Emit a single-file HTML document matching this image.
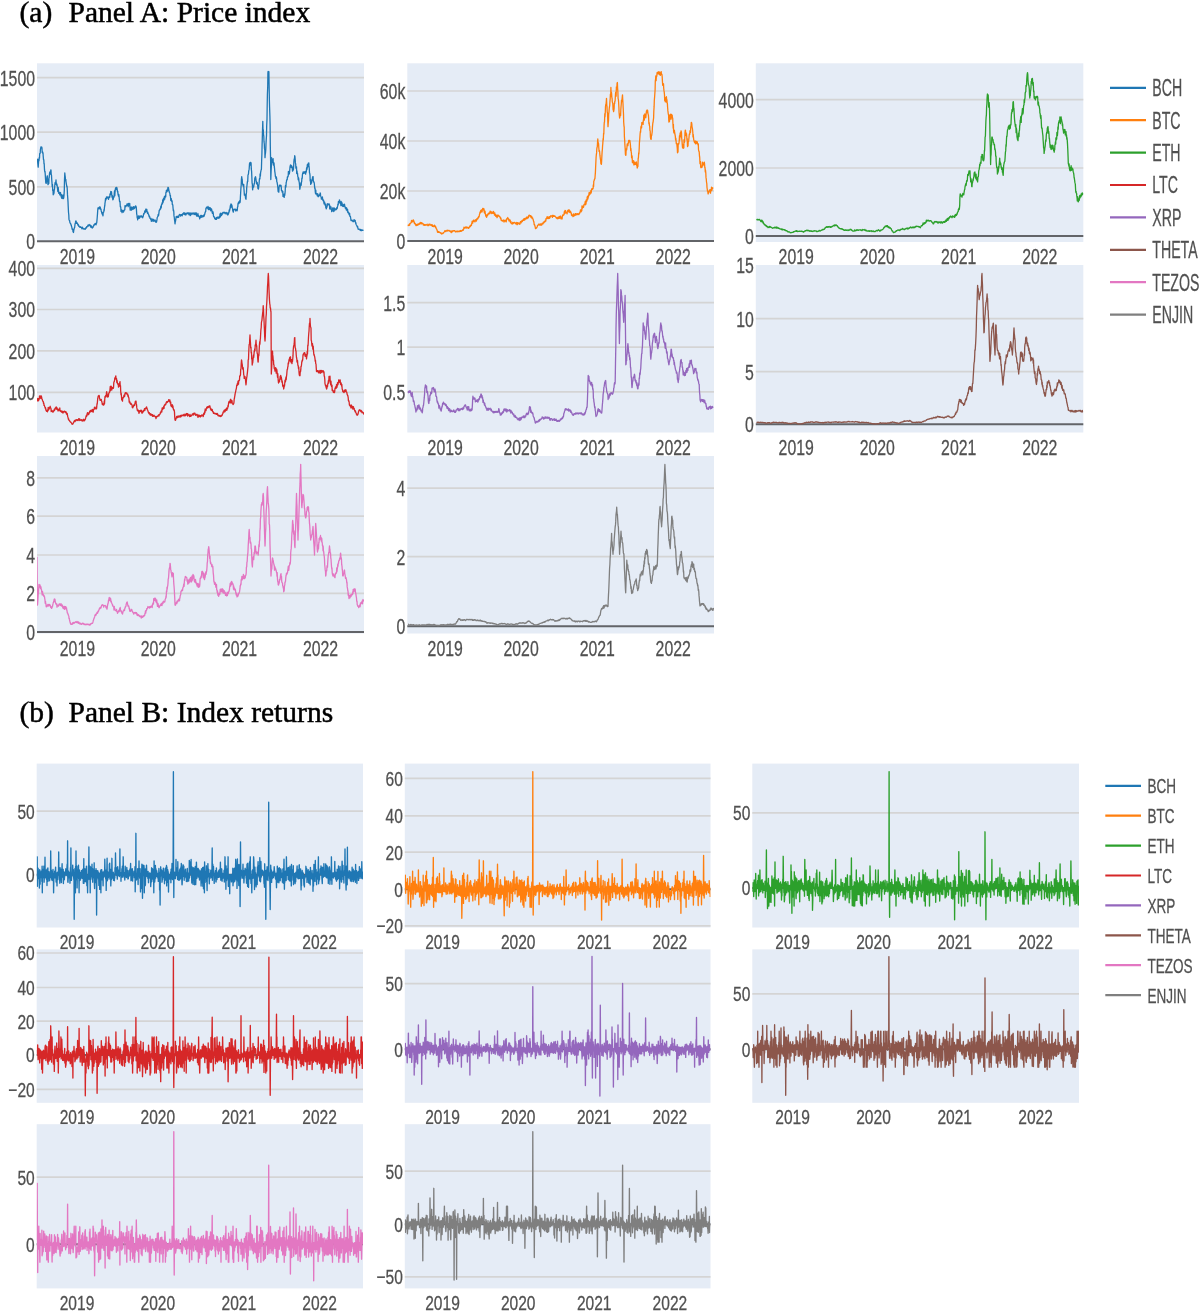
<!DOCTYPE html>
<html><head><meta charset="utf-8"><title>Panel A: Price index / Panel B: Index returns</title>
<style>html,body{margin:0;padding:0;background:#fff;width:1200px;height:1311px;overflow:hidden}svg{display:block;filter:blur(0.45px)}</style>
</head><body>
<svg width="1200" height="1311" viewBox="0 0 1200 1311"><defs><clipPath id="c1"><rect x="37" y="63.3" width="327" height="178.7"/></clipPath><clipPath id="c2"><rect x="407.3" y="63.3" width="306.7" height="178.7"/></clipPath><clipPath id="c3"><rect x="755.8" y="63.3" width="327.5" height="178.7"/></clipPath><clipPath id="c4"><rect x="37" y="265" width="327" height="167.5"/></clipPath><clipPath id="c5"><rect x="407.3" y="265" width="306.7" height="167.5"/></clipPath><clipPath id="c6"><rect x="755.8" y="265" width="327.5" height="167.5"/></clipPath><clipPath id="c7"><rect x="37" y="456" width="327" height="177.5"/></clipPath><clipPath id="c8"><rect x="407.3" y="456" width="306.7" height="177.5"/></clipPath><clipPath id="c9"><rect x="36.7" y="763.6" width="326.3" height="163.9"/></clipPath><clipPath id="c10"><rect x="404.8" y="763.6" width="305.7" height="163.9"/></clipPath><clipPath id="c11"><rect x="752.3" y="763.6" width="326.7" height="163.9"/></clipPath><clipPath id="c12"><rect x="36.7" y="949.4" width="326.3" height="153.4"/></clipPath><clipPath id="c13"><rect x="404.8" y="949.4" width="305.7" height="153.4"/></clipPath><clipPath id="c14"><rect x="752.3" y="949.4" width="326.7" height="153.4"/></clipPath><clipPath id="c15"><rect x="36.7" y="1124.2" width="326.3" height="164.2"/></clipPath><clipPath id="c16"><rect x="404.8" y="1124.2" width="305.7" height="164.2"/></clipPath></defs><text transform="translate(19.5 21.6) scale(1.000 1)" font-family="Liberation Serif" font-size="29.5" text-anchor="start" fill="#000" stroke="#000" stroke-width="0.5">(a)</text>
<text transform="translate(68.5 21.6) scale(1.000 1)" font-family="Liberation Serif" font-size="29.5" text-anchor="start" fill="#000" stroke="#000" stroke-width="0.5">Panel A: Price index</text>
<text transform="translate(19.5 721.6) scale(1.000 1)" font-family="Liberation Serif" font-size="29.5" text-anchor="start" fill="#000" stroke="#000" stroke-width="0.5">(b)</text>
<text transform="translate(68.5 721.6) scale(1.000 1)" font-family="Liberation Serif" font-size="29.5" text-anchor="start" fill="#000" stroke="#000" stroke-width="0.5">Panel B: Index returns</text>
<rect x="37" y="63.3" width="327" height="178.7" fill="#E5ECF6"/>
<path d="M37 186.8H364" stroke="#d4d4d4" stroke-width="1.7"/>
<path d="M37 132.1H364" stroke="#d4d4d4" stroke-width="1.7"/>
<path d="M37 77.6H364" stroke="#d4d4d4" stroke-width="1.7"/>
<path d="M37 241.2H364" stroke="#626468" stroke-width="2"/>
<path d="M37.2 158.6 37.5 160 37.7 162.4 38 165.8 38.2 167.1 38.5 162.6 38.7 159.1 39 160.6 39.2 157.6 39.5 158.2 39.7 153.6 39.9 153.3 40.2 153.4 40.4 149.8 40.7 148.1 40.9 147 41.2 147.3 41.4 147.2 41.7 147 42 148.2 42.2 152.4 42.5 151.5 42.7 153.3 43 152.8 43.2 156.1 43.5 159.8 43.8 159.7 44 163.6 44.2 163.5 44.5 169.7 44.8 172 45 171.4 45.2 173.6 45.5 178.6 45.8 182.9 46 183 46.2 183.4 46.5 180.8 46.7 180.9 46.9 177.4 47.2 175.8 47.4 176 47.7 181.6 48 184.6 48.2 184.5 48.5 179.4 48.8 183.6 49 178 49.2 177.7 49.5 173.8 49.8 172.2 50 171.9 50.2 174 50.5 173 50.8 169.9 51 170 51.2 174.2 51.5 175.2 51.7 179.2 52 182.9 52.2 186.5 52.5 184.4 52.7 190.4 53 189.6 53.2 194.8 53.5 193.7 53.7 194 54 192.9 54.2 190.2 54.5 189.3 54.7 186.3 55 183.4 55.2 182.3 55.5 184.3 55.7 183.4 56 180 56.2 183.4 56.5 183.2 56.8 185.3 57 184.5 57.2 185.7 57.5 188.8 57.8 191.5 58 189.5 58.2 187.3 58.5 190.6 58.8 193.4 59 193 59.2 192.9 59.5 192.5 59.8 194.9 60 193.6 60.2 193.4 60.5 192.5 60.8 194.6 61 196.1 61.2 195.3 61.5 198 61.8 194.6 62 197.3 62.2 198.5 62.5 197.4 62.8 195.8 63 197.8 63.2 195.2 63.5 198.7 63.8 197.3 64 195.5 64.3 190.1 64.5 179.8 64.8 173 65 175 65.3 177.2 65.5 180.5 65.8 179.4 66 181.6 66.3 183.6 66.5 184.8 66.8 186.6 67 186 67.2 188.2 67.5 194.9 67.8 198.6 68 201.6 68.2 206.1 68.5 212.3 68.8 215 69 219.4 69.2 220.2 69.5 220.1 69.8 221.8 70 222.8 70.2 223.2 70.5 223.3 70.8 224.2 71 224.3 71.2 225.5 71.5 226.3 71.8 227.2 72 228.3 72.2 229.3 72.5 229.7 72.8 229.2 73 231.6 73.2 232 73.5 232.5 73.7 230.7 74 229.4 74.2 228.4 74.5 227.6 74.7 227.3 75 224.3 75.2 223.8 75.5 222.4 75.7 221 76 220.9 76.2 221.5 76.5 223.4 76.7 223 77 223.1 77.2 223.6 77.5 223 77.8 225 78 224.7 78.3 224.6 78.5 225.1 78.8 226.3 79 225.9 79.3 226.7 79.5 227 79.8 227 80 227.2 80.3 226.8 80.5 227.3 80.8 227 81 227.3 81.3 227.6 81.5 227.6 81.8 228.7 82 228.8 82.3 227.2 82.5 228.5 82.8 227.9 83 228.7 83.3 228.7 83.5 228.7 83.8 229.2 84 229.1 84.3 228.9 84.5 228.7 84.8 229.1 85 228.8 85.2 229.3 85.5 228.4 85.7 227.8 86 228.3 86.2 228 86.5 227.6 86.7 226.6 87 227 87.2 226.6 87.4 226.4 87.7 226.1 87.9 225.2 88.2 225.7 88.4 226 88.7 224.8 88.9 225.1 89.2 224.5 89.4 225 89.6 225.1 89.9 225.8 90.1 225 90.4 225.5 90.6 227 90.8 226.8 91.1 226.4 91.3 227.1 91.6 226 91.8 227.6 92.1 227.5 92.3 228 92.5 227.9 92.8 227.4 93 227.3 93.3 226.3 93.5 226.3 93.8 225.6 94 224.6 94.3 225.1 94.5 224.6 94.7 224 95 224.1 95.2 223.4 95.5 224.6 95.7 224.6 96 224.8 96.2 224 96.5 222.9 96.7 223 97 219.9 97.2 217.8 97.5 213.9 97.7 210.6 98 207.8 98.2 208.2 98.5 207.9 98.8 208.6 99 207.3 99.2 208.9 99.5 207 99.8 207 100 207.8 100.2 207.2 100.5 208.7 100.8 209.6 101 209 101.2 211.3 101.5 211.3 101.8 213.2 102 212.4 102.2 213.8 102.5 214.8 102.8 214.5 103 215.8 103.2 212.7 103.5 211.9 103.8 211.9 104 209.5 104.2 210.4 104.5 207.1 104.8 205.7 105 202.9 105.2 202.1 105.5 198.7 105.8 200.1 106 199 106.2 198.1 106.5 197 106.8 198.5 107 197.2 107.2 197 107.5 197.1 107.8 197.5 108 197.7 108.2 197 108.5 199.4 108.8 197.9 109 197.7 109.2 197.2 109.5 196.4 109.8 197.3 110 193.9 110.2 194.1 110.5 194.7 110.8 191.4 111 192 111.3 192.3 111.5 191.8 111.8 195.2 112 196.9 112.3 197.8 112.5 195.9 112.8 199.8 113 199.6 113.3 199 113.5 196.7 113.8 197.2 114 197.2 114.3 193 114.5 190.8 114.8 195.8 115 192.7 115.3 189.2 115.5 188.5 115.8 187.7 116 189.5 116.3 188.6 116.5 187.3 116.8 187.8 117 188 117.3 190.2 117.5 191.9 117.8 191.4 118 194.3 118.3 195.2 118.5 196.2 118.8 194.5 119 196.1 119.3 198.9 119.5 201 119.8 202.1 120 201.3 120.3 206.8 120.5 206.3 120.8 207.7 121 211.4 121.3 210.7 121.5 210.1 121.8 209.9 122 212.7 122.3 211.8 122.5 210.6 122.8 211 123 210.8 123.3 211.9 123.5 212.1 123.8 211.3 124 210.2 124.3 210.3 124.5 210.1 124.8 209.8 125 205.6 125.3 207 125.5 206.7 125.8 206.6 126 206.3 126.3 205.3 126.5 205.5 126.8 205.5 127 204 127.2 204.6 127.5 204 127.7 205.5 128 205.5 128.2 206.6 128.5 203.4 128.7 205.7 129 204.2 129.2 204 129.4 204.2 129.7 203.4 129.9 206.6 130.2 210.2 130.4 209.2 130.7 210 130.9 209.5 131.2 207 131.4 209 131.6 210 131.9 209.1 132.1 208.9 132.4 207.4 132.6 208.3 132.9 209.3 133.1 209.1 133.4 206.6 133.6 207.7 133.8 208.9 134.1 207.1 134.3 208.7 134.6 206.9 134.8 207.9 135.1 207.2 135.3 206.4 135.6 206 135.8 206 136 206.5 136.3 207.5 136.5 210.6 136.7 214.1 137 215.1 137.2 218 137.5 218.2 137.7 219.8 138 217 138.2 218.2 138.5 215.9 138.7 218.4 139 217.2 139.2 218.4 139.5 218.1 139.7 216.5 140 215.8 140.2 217 140.5 216.2 140.7 216.7 141 216.1 141.2 216.8 141.5 215.8 141.7 216 142 216.8 142.2 217.4 142.5 217.2 142.7 217.8 143 216.5 143.2 216.5 143.5 214.7 143.8 213.5 144 214.2 144.2 213.3 144.5 212.7 144.8 210.8 145 212.2 145.2 212.5 145.5 210.9 145.8 209.4 146 209 146.3 211.6 146.5 210.3 146.8 209.4 147 211.3 147.3 212.1 147.5 213.3 147.8 212.2 148 213.3 148.3 213.8 148.5 214.6 148.8 214.8 149 216.1 149.3 216.9 149.5 216.2 149.8 217.1 150 218.3 150.3 218.7 150.5 218.6 150.8 219.6 151 218.4 151.3 221.2 151.5 221.2 151.8 219.7 152 221.4 152.3 219.2 152.5 220.5 152.8 220.3 153 219.1 153.3 220.2 153.5 219.7 153.8 221.3 154 220.5 154.3 220.8 154.5 220.7 154.8 220.4 155 219.8 155.3 221.2 155.5 221.7 155.8 222.1 156 222.3 156.2 220.8 156.5 222.1 156.8 220.7 157 219.4 157.2 217.5 157.5 217 157.8 216.2 158 216 158.2 214.3 158.5 215.8 158.8 214 159 212.3 159.2 210.6 159.5 209.9 159.8 210 160 209 160.2 208.8 160.5 209.1 160.8 206.2 161 207.4 161.2 207.9 161.5 204.7 161.8 203.8 162 203.5 162.2 202.6 162.5 203.9 162.7 200 163 200.4 163.2 202.2 163.5 198.4 163.7 200.4 164 199.7 164.2 197.6 164.5 196.4 164.7 199.1 165 196.1 165.2 197.2 165.4 195.6 165.7 196.8 165.9 192.6 166.2 192.4 166.4 190.4 166.7 191.5 166.9 191.7 167.2 191.4 167.4 189.1 167.7 190.7 167.9 187.5 168.2 188.1 168.4 187.5 168.6 188.6 168.9 190.4 169.1 191.5 169.4 192.6 169.6 192.6 169.9 193.8 170.1 195.7 170.4 195.4 170.6 198.3 170.8 200.5 171.1 200.5 171.3 198.7 171.6 201.3 171.8 200.8 172.1 200.9 172.3 204.5 172.6 204.5 172.8 205 173 207.5 173.3 210.7 173.5 209.9 173.8 211.7 174 215.9 174.3 217.5 174.5 219.6 174.8 221.7 175 223.8 175.2 222.3 175.5 221.1 175.7 220.1 175.9 218.7 176.2 216.6 176.4 216.5 176.7 217.3 176.9 216.4 177.2 216.7 177.4 217 177.7 217.5 177.9 216.2 178.2 216.6 178.4 217.4 178.7 217 178.9 215.8 179.2 215.1 179.5 214.4 179.7 214.9 180 214.8 180.2 214.7 180.5 216.1 180.7 215.3 181 214.9 181.2 214.6 181.5 215.2 181.7 214.6 182 215 182.2 215.9 182.5 213.9 182.8 213.9 183 214.4 183.2 213.6 183.5 212.9 183.8 213.9 184 213 184.2 213.8 184.5 214.5 184.8 212.8 185 214.5 185.2 214.4 185.5 214.2 185.8 215.1 186 213.3 186.2 214.1 186.5 213.6 186.8 213.8 187 212.9 187.3 213.2 187.5 213.7 187.8 213 188 213 188.3 213 188.5 212.9 188.8 214.3 189 214.9 189.3 213.4 189.5 213 189.8 213.1 190 214.3 190.3 215.7 190.5 213.9 190.8 213 191 214.9 191.3 213.4 191.5 213.5 191.8 213.6 192 213 192.3 214.2 192.5 213.4 192.8 213.7 193 212.9 193.3 212.9 193.5 213.6 193.8 213.6 194.1 214.6 194.3 213.3 194.6 213.1 194.8 213 195.1 214.4 195.3 212.9 195.6 214.3 195.8 214.1 196.1 215.1 196.3 212.9 196.6 216 196.9 214.5 197.1 215.2 197.4 216.2 197.6 216.1 197.9 213.5 198.1 216 198.4 215.2 198.6 215.2 198.9 216.6 199.1 216.5 199.4 216.8 199.7 218.9 199.9 217.7 200.2 217.1 200.4 217.6 200.7 215.5 200.9 216.5 201.2 216.7 201.4 215.4 201.7 215.7 201.9 217.3 202.2 216 202.4 216.7 202.7 216.3 202.9 216.5 203.2 215.3 203.4 216.6 203.7 216 203.9 215.2 204.2 216.2 204.4 214.4 204.7 214.4 204.9 213.3 205.2 212.3 205.4 211.8 205.7 211.5 205.9 208.6 206.2 207.9 206.4 207.2 206.7 207.3 207 207.3 207.2 208.1 207.5 207.2 207.7 208.2 208 206.5 208.2 209.3 208.5 208.1 208.7 209.6 209 207.3 209.2 209.2 209.5 209.5 209.7 208.8 210 207.7 210.2 209.1 210.5 208.2 210.7 210.8 211 209.5 211.2 208.9 211.5 208.9 211.8 210.2 212 211.1 212.2 212.7 212.5 213.4 212.8 211.8 213 211.9 213.2 213.1 213.5 215.9 213.8 216.7 214 216.8 214.3 216.9 214.5 217.8 214.8 218.8 215 218.8 215.3 219 215.5 219.2 215.8 218.1 216 218 216.3 218.4 216.5 219.4 216.8 217.4 217 218.2 217.3 218.2 217.5 217.1 217.8 217.3 218 218 218.3 218.2 218.5 217.9 218.8 216.9 219 218.1 219.3 217 219.5 217.9 219.8 216.5 220 213.9 220.3 216.9 220.5 214.9 220.7 213.2 221 214.5 221.2 213.9 221.5 215.7 221.7 214.4 222 214.6 222.2 213.1 222.5 214 222.7 213 223 212.4 223.2 212.5 223.5 212.8 223.7 212.9 224 212.3 224.2 212.7 224.5 212.4 224.7 212.5 225 213.3 225.2 213.8 225.5 213 225.7 213.1 226 212.4 226.2 212.7 226.5 212.9 226.7 213.4 227 214.2 227.2 212.8 227.5 214.8 227.7 213.2 228 214.8 228.2 214.1 228.5 213.9 228.8 212.2 229 212.4 229.2 210 229.5 211.1 229.8 208.8 230 209 230.2 206.8 230.5 205 230.8 207.7 231 203.8 231.2 205.2 231.5 204.4 231.8 205.5 232 205.6 232.2 207.4 232.5 208.1 232.8 211 233 210 233.3 212.1 233.5 209.8 233.8 209.8 234 209.4 234.3 209.2 234.5 209.3 234.8 209.3 235 209.4 235.3 210.4 235.5 210.9 235.8 209.2 236 210.4 236.3 209.7 236.5 210.3 236.8 210.5 237 210.9 237.3 210 237.5 207.2 237.8 206.7 238 203.6 238.2 203.5 238.5 202.4 238.7 201.9 239 203.5 239.2 202.3 239.5 201.8 239.7 200.7 240 202.6 240.2 201.5 240.4 197.2 240.7 192 240.9 188.5 241.2 185 241.4 179.5 241.7 176.7 241.9 178.3 242.2 179.4 242.4 182.8 242.7 184.6 242.9 184.6 243.2 186 243.4 184.8 243.7 184.5 243.9 188.3 244.2 192.3 244.4 195.2 244.7 193.9 244.9 194.8 245.2 194.8 245.5 197.8 245.7 198.6 246 199.3 246.2 194.7 246.5 192.4 246.7 187.9 247 185.2 247.2 183.4 247.5 181.2 247.7 181.6 248 175 248.2 174.7 248.5 173.7 248.7 171.1 249 169.9 249.2 168.5 249.5 163.9 249.7 162.8 249.9 164.5 250.2 162.5 250.4 165.2 250.6 163.4 250.9 162.5 251.1 163.5 251.3 168.9 251.6 171.3 251.8 176 252.1 183.4 252.3 183.5 252.6 189.8 252.8 188.4 253.1 186.2 253.3 186.7 253.6 187.1 253.8 185.9 254.1 183.6 254.3 183.9 254.5 183.8 254.8 178 255 179.5 255.3 177 255.5 176.7 255.7 177.4 256 179.5 256.2 180.9 256.5 182.4 256.7 183.9 256.9 182.8 257.2 182.4 257.4 184.3 257.7 185.4 257.9 188.3 258.2 188.8 258.4 189 258.6 187.8 258.9 184.6 259.1 183.8 259.4 179 259.6 178.5 259.9 178.9 260.1 173.8 260.4 176 260.6 172.5 260.9 171.1 261.1 170 261.4 169.4 261.6 162.5 261.9 153.7 262.1 144.7 262.3 138.3 262.6 127.3 262.8 121.3 263 129.3 263.3 129.9 263.5 134.3 263.8 136.4 264 141.7 264.3 144 264.5 148.9 264.8 149.9 265 157.7 265.2 154.9 265.5 153 265.8 149.2 266 143.7 266.2 140.1 266.5 135.8 266.7 125.6 267 119.1 267.2 105.3 267.4 94.4 267.7 87.4 267.9 73.1 268.1 71.3 268.4 73.5 268.6 74.2 268.9 71.7 269.1 84.7 269.4 100.8 269.6 107.4 269.9 116.2 270.1 124.2 270.3 145.6 270.6 159.8 270.8 179.6 271.1 171.6 271.3 167.5 271.6 157.7 271.8 161.6 272.1 161.8 272.3 162.6 272.6 162.1 272.8 160.8 273.1 158.6 273.3 165.1 273.5 164.7 273.8 164.8 274 162.9 274.3 167 274.5 168 274.8 171.6 275 172.7 275.3 175.4 275.5 177 275.8 177.2 276 178.6 276.3 176.9 276.6 178.5 276.8 181.7 277.1 182.3 277.3 183.6 277.6 185.3 277.8 187.1 278.1 191.2 278.3 191.8 278.6 190.3 278.8 192.1 279.1 186.8 279.3 186.5 279.6 185.2 279.8 185.8 280 185.9 280.3 186.1 280.5 185.1 280.8 186.1 281 185.4 281.2 186.6 281.5 190.6 281.8 190.9 282 190.5 282.2 192.1 282.5 192 282.8 191.4 283 196.4 283.2 193.9 283.5 196.2 283.8 194.5 284 197 284.2 197.4 284.5 193.8 284.7 195.5 285 193.1 285.2 191.1 285.4 185.9 285.7 185.3 285.9 187 286.2 182.4 286.4 181.9 286.7 179.9 286.9 179.6 287.2 179.7 287.4 176.9 287.7 177.2 287.9 176.1 288.2 176.2 288.4 171.5 288.7 171.8 289 171.7 289.2 174 289.5 172.9 289.7 170.7 290 167 290.2 166.1 290.5 165 290.7 166.7 291 167.2 291.2 165.5 291.5 166.5 291.7 165.8 292 167.8 292.2 167.1 292.5 171.1 292.7 170.8 292.9 169.4 293.2 166.8 293.4 169.9 293.7 165.6 293.9 161.6 294.2 158.8 294.4 160.6 294.7 155.7 294.9 156.2 295.2 159.6 295.4 162.9 295.7 164.1 295.9 168.2 296.2 168 296.5 166.8 296.7 173.6 297 170.8 297.2 173.2 297.5 173.1 297.8 176.7 298 176.8 298.2 179.8 298.5 177.6 298.8 179.2 299 181.5 299.2 182 299.5 184.7 299.8 189.3 300 188.3 300.2 186.8 300.5 185.6 300.7 183.9 301 182.6 301.2 185.3 301.4 182.5 301.7 181.3 301.9 178.1 302.2 178.4 302.4 175.2 302.7 173.1 302.9 173.8 303.1 172 303.4 172.4 303.6 173.4 303.9 171.9 304.1 171.9 304.4 172.1 304.6 172.4 304.8 173.2 305.1 171.7 305.3 172.4 305.6 174.1 305.8 172.3 306.1 170.8 306.3 172 306.6 167.7 306.8 169.8 307.1 168.7 307.3 164.7 307.6 167.1 307.8 165.2 308.1 163.9 308.3 163.1 308.6 166.4 308.8 162.8 309 165.9 309.3 168.8 309.5 172.9 309.7 173.1 310 175.1 310.2 181 310.4 179.3 310.7 184.4 310.9 181.4 311.2 182.8 311.4 183.2 311.6 182.9 311.9 179.6 312.1 180.5 312.4 178.7 312.6 176.8 312.9 177.3 313.1 176.7 313.3 180.6 313.6 181.9 313.8 181.7 314.1 182.4 314.3 183.5 314.6 186.6 314.8 188.3 315 188 315.3 192 315.5 193.4 315.8 190.1 316 194.2 316.2 193.9 316.5 194 316.7 193.6 317 193.7 317.2 195.8 317.5 195.1 317.7 193.8 318 194.5 318.2 196.8 318.4 196.4 318.7 195.8 318.9 195.7 319.2 195.9 319.4 194.9 319.7 194.8 319.9 194.7 320.2 192.9 320.4 193.4 320.6 196 320.9 196.5 321.1 196.8 321.4 199.2 321.6 197.9 321.9 198.6 322.1 199.2 322.4 197 322.6 198.6 322.9 200.3 323.1 200.8 323.4 201 323.6 200.2 323.8 202.1 324.1 203.9 324.3 202.7 324.6 202.1 324.8 203.5 325.1 205 325.3 204.7 325.6 204.4 325.8 207.8 326.1 207.7 326.3 208.8 326.5 207.9 326.8 206.3 327 207.1 327.3 203.7 327.5 203.9 327.8 204.6 328 205.2 328.2 204.3 328.5 204.4 328.7 204 329 203.8 329.2 204.4 329.5 204.8 329.7 208.9 330 206 330.2 208.4 330.5 207.1 330.7 209.1 331 207 331.2 208.4 331.5 209.1 331.7 211.6 332 211.3 332.2 211.2 332.5 208.9 332.7 207.8 333 210.1 333.2 210.2 333.5 208.2 333.7 211.5 334 211.3 334.2 207.9 334.5 209.2 334.7 209.3 335 210.2 335.2 209.1 335.5 209.7 335.7 209 336 209.5 336.2 209.6 336.5 208 336.7 209.2 337 208.1 337.2 208.4 337.4 207.2 337.7 205.7 337.9 204.2 338.2 204.9 338.4 201.6 338.7 201.9 338.9 202.2 339.2 201.8 339.4 200 339.6 200.1 339.9 203.2 340.1 203.1 340.4 202.2 340.6 203.4 340.9 205.6 341.1 201.4 341.4 205.3 341.6 202.2 341.8 203.6 342.1 203.1 342.3 205.8 342.6 206.2 342.8 204.8 343.1 206.5 343.3 205.7 343.6 206.4 343.8 204.4 344.1 205.6 344.3 204.2 344.6 204.6 344.8 206.8 345.1 206.6 345.3 208.1 345.6 207.5 345.8 208.5 346.1 207.6 346.3 210 346.6 207.8 346.8 208.9 347.1 208.8 347.3 211 347.6 209.5 347.8 212.5 348.1 211.7 348.3 212.8 348.6 212.5 348.8 213.2 349.1 214.5 349.3 214.4 349.6 213.4 349.8 216 350 216.3 350.3 216.2 350.5 217 350.8 219 351 220.4 351.2 220.7 351.5 220.6 351.7 220.2 352 220.2 352.2 220.2 352.5 221.1 352.7 221.1 353 221.6 353.2 221.3 353.4 221.2 353.7 221.5 353.9 219.8 354.2 219.7 354.4 221 354.7 220.7 354.9 220.5 355.2 220.4 355.4 221.9 355.6 223.1 355.9 222.7 356.1 224.5 356.4 225 356.6 225.3 356.9 225.7 357.1 226.5 357.3 227.1 357.6 226.3 357.8 227.6 358.1 229 358.3 229.2 358.6 228.9 358.8 229.1 359.1 229.2 359.3 229.1 359.6 229.4 359.8 229.6 360.1 230.3 360.3 229.5 360.6 229.4 360.9 230 361.1 230.7 361.4 229.9 361.6 230 361.9 230.5 362.1 230 362.4 230.3 362.6 230.3 362.9 230.3 363.1 230.1 363.4 229.9" fill="none" stroke="#1f77b4" stroke-width="1.3" stroke-linejoin="round" clip-path="url(#c1)"/>
<text transform="translate(35 249.1) scale(0.720 1)" font-family="Liberation Sans" font-size="22" text-anchor="end" fill="#505050" stroke="#505050" stroke-width="0.28">0</text>
<text transform="translate(35 194.7) scale(0.720 1)" font-family="Liberation Sans" font-size="22" text-anchor="end" fill="#505050" stroke="#505050" stroke-width="0.28">500</text>
<text transform="translate(35 140) scale(0.720 1)" font-family="Liberation Sans" font-size="22" text-anchor="end" fill="#505050" stroke="#505050" stroke-width="0.28">1000</text>
<text transform="translate(35 85.5) scale(0.720 1)" font-family="Liberation Sans" font-size="22" text-anchor="end" fill="#505050" stroke="#505050" stroke-width="0.28">1500</text>
<text transform="translate(77.4 264.4) scale(0.720 1)" font-family="Liberation Sans" font-size="22" text-anchor="middle" fill="#505050" stroke="#505050" stroke-width="0.28">2019</text>
<text transform="translate(158.3 264.4) scale(0.720 1)" font-family="Liberation Sans" font-size="22" text-anchor="middle" fill="#505050" stroke="#505050" stroke-width="0.28">2020</text>
<text transform="translate(239.5 264.4) scale(0.720 1)" font-family="Liberation Sans" font-size="22" text-anchor="middle" fill="#505050" stroke="#505050" stroke-width="0.28">2021</text>
<text transform="translate(320.5 264.4) scale(0.720 1)" font-family="Liberation Sans" font-size="22" text-anchor="middle" fill="#505050" stroke="#505050" stroke-width="0.28">2022</text>
<rect x="407.3" y="63.3" width="306.7" height="178.7" fill="#E5ECF6"/>
<path d="M407.3 191H714" stroke="#d4d4d4" stroke-width="1.7"/>
<path d="M407.3 141H714" stroke="#d4d4d4" stroke-width="1.7"/>
<path d="M407.3 91H714" stroke="#d4d4d4" stroke-width="1.7"/>
<path d="M407.3 240.9H714" stroke="#626468" stroke-width="2"/>
<path d="M408 224.7 408.2 225.5 408.5 225.2 408.7 225.1 409 224.6 409.2 225.3 409.5 223.9 409.7 225.1 410 223.5 410.2 223.5 410.5 223.3 410.7 223.1 411 222.7 411.2 222.7 411.5 220.5 411.7 222 412 220.8 412.2 221 412.5 221.9 412.7 220.7 412.9 220.3 413.2 221.4 413.4 220 413.7 221.7 413.9 220.9 414.2 222.5 414.4 223.4 414.7 223.3 414.9 223.1 415.2 224.2 415.4 224.6 415.7 224.3 415.9 225.5 416.1 224.3 416.4 225.5 416.6 225.2 416.9 224.9 417.1 225.4 417.4 224.1 417.6 225.2 417.9 224.5 418.1 225 418.4 224.5 418.6 224 418.9 223.7 419.1 223.8 419.4 224.2 419.6 223.4 419.9 223 420.1 223.2 420.4 223.3 420.6 222.5 420.9 223.2 421.1 224.1 421.4 222.7 421.6 223 421.9 223.4 422.1 223 422.3 223.6 422.6 223.5 422.8 223.4 423.1 223.7 423.3 225 423.6 224.9 423.8 224.7 424.1 224.5 424.3 225.4 424.6 225.4 424.8 224.7 425.1 225 425.3 225 425.6 225.2 425.8 224.6 426.1 225 426.3 225 426.6 224.7 426.8 224.8 427.1 224.2 427.3 224.9 427.6 224.9 427.8 225.7 428.1 225 428.3 225.7 428.6 225.3 428.8 224.3 429.1 224.2 429.4 225 429.6 224.3 429.9 224.2 430.1 224.2 430.4 225.1 430.6 225 430.9 225.2 431.1 225.3 431.4 224.8 431.6 224.6 431.9 225.8 432.1 224.8 432.4 224.8 432.6 226.4 432.9 225.6 433.1 226.3 433.4 226.1 433.6 226.3 433.9 226.7 434.1 226.5 434.4 225.2 434.6 226.2 434.9 225.5 435.1 226.3 435.4 226.3 435.6 227.3 435.9 227 436.1 228.4 436.3 228.8 436.6 228.9 436.8 229.4 437.1 230.3 437.3 231 437.5 232.1 437.8 232 438 232.4 438.3 231.5 438.5 231.9 438.8 232.4 439 232 439.2 232.1 439.5 232 439.7 232.5 440 232.7 440.2 232.7 440.5 233.2 440.7 233.1 441 232.7 441.2 233.4 441.5 234 441.7 233.9 442 233.7 442.2 233.5 442.5 233.7 442.7 233.7 443 233.2 443.2 232.7 443.5 233.1 443.7 232.5 444 232.3 444.2 232 444.5 231.5 444.7 231.2 445 230.6 445.2 230.8 445.5 231.3 445.7 231.6 446 231 446.3 230.9 446.5 230.9 446.8 230.5 447 231 447.3 230.2 447.5 230.8 447.8 231 448 230.7 448.3 230.6 448.5 230.5 448.8 230.3 449 230.5 449.3 231 449.5 231.2 449.8 231 450 230.8 450.3 231.5 450.5 231.2 450.8 231.7 451 232.1 451.3 232.6 451.5 231.6 451.8 231.4 452 230.6 452.3 231.8 452.6 231.6 452.8 231.3 453.1 230.9 453.3 230.7 453.6 230.7 453.8 230.9 454.1 230.9 454.3 230.7 454.6 230.7 454.8 230.7 455.1 231.3 455.3 231.7 455.6 231.5 455.8 231.9 456.1 231.9 456.3 231.3 456.6 231.2 456.8 231.1 457.1 231.8 457.3 231.6 457.6 231.7 457.8 231 458.1 231.4 458.3 231.4 458.6 231.6 458.8 231.5 459.1 231.7 459.3 231.2 459.6 231.4 459.8 231.4 460.1 230.6 460.3 230.5 460.6 231.3 460.8 231.1 461.1 230.8 461.3 231.2 461.6 231 461.8 231 462 230.7 462.3 230.6 462.5 229.8 462.8 230.3 463 229.6 463.3 230.2 463.5 228.9 463.8 228.9 464 227.1 464.3 228.1 464.5 228.1 464.8 227.6 465 227.8 465.2 227.7 465.5 227 465.7 227.3 466 228.1 466.2 227.7 466.5 227.1 466.7 227 467 227 467.2 227.9 467.5 227.9 467.7 227.7 468 227.9 468.2 227.6 468.5 228.4 468.7 227.8 469 228 469.2 227.1 469.5 226.9 469.7 227 469.9 226 470.2 226.7 470.4 226.1 470.7 225.2 470.9 225.7 471.2 224.6 471.4 225.5 471.7 223.6 471.9 222.7 472.2 221.1 472.4 221.6 472.7 223.2 472.9 221.5 473.2 221.1 473.4 220.3 473.7 221.3 473.9 219.9 474.2 221 474.4 220.8 474.7 220.9 474.9 221.9 475.2 221.3 475.4 220.8 475.7 219.7 475.9 220 476.2 220.3 476.4 221 476.7 219.6 476.9 218.6 477.2 218.7 477.4 218.5 477.7 219 478 218.3 478.2 217.1 478.5 217.6 478.7 216.3 479 217 479.2 216.1 479.5 214.3 479.8 213.6 480 212.1 480.3 212.8 480.5 211.2 480.8 210.4 481.1 211.6 481.3 209.9 481.6 212 481.8 211.6 482.1 211.8 482.3 210 482.6 208.9 482.8 208.3 483 208.8 483.3 209.1 483.5 208.5 483.8 210.5 484 208.8 484.2 212 484.5 213 484.7 210.9 485 211.2 485.2 212.8 485.4 213.9 485.7 216 485.9 214.8 486.2 214.9 486.4 216.7 486.6 217.3 486.9 216.1 487.1 215.9 487.4 214.6 487.6 215.7 487.9 213.9 488.1 213.7 488.4 214.2 488.6 213.1 488.8 213.2 489.1 213.5 489.3 213.7 489.6 212.6 489.8 213.4 490.1 211.2 490.3 212 490.5 211.8 490.8 211.5 491 212.1 491.3 213.5 491.5 213.1 491.8 212.5 492 211.9 492.3 212.7 492.5 213.2 492.8 213.4 493 212.6 493.3 213.3 493.5 211.3 493.8 212.9 494 213.4 494.3 213.5 494.5 215.2 494.8 212.9 495 215 495.3 215 495.5 214.6 495.8 216.3 496 215.9 496.3 216.4 496.5 215.1 496.8 216.5 497 217.7 497.3 216.9 497.5 215.3 497.8 215.1 498 215.3 498.3 215.2 498.5 215.7 498.8 216.3 499 215.8 499.3 216.2 499.5 216.6 499.8 216.7 500.1 217.1 500.3 218.2 500.6 218.6 500.9 218.1 501.1 219.8 501.4 220.7 501.7 220.6 501.9 220.7 502.2 220.7 502.4 220.5 502.7 221.2 502.9 220.4 503.2 220.8 503.4 220.7 503.7 220 504 222 504.2 221.1 504.5 220.4 504.7 221.2 505 220.4 505.2 221 505.5 220.4 505.7 220.3 506 221.5 506.2 221.9 506.5 219.6 506.7 219.1 507 218.4 507.2 218.2 507.5 217.8 507.7 217.5 508 218.7 508.2 219.3 508.5 219.9 508.7 218.9 509 220.1 509.2 221 509.5 220.2 509.7 219.9 510 220.8 510.2 220.1 510.5 222.6 510.7 222.7 511 221.7 511.2 223.1 511.5 223.6 511.7 223.5 512 223.4 512.2 224.1 512.5 223 512.8 222.3 513 223.7 513.3 222.8 513.5 222.9 513.8 222.6 514 223 514.3 222.8 514.5 222.4 514.8 222.9 515 222.7 515.3 223.2 515.5 223.1 515.8 223.9 516 223.5 516.3 222.9 516.5 222.8 516.8 222.5 517 224.6 517.3 224.6 517.5 223.5 517.8 222.7 518 222.8 518.3 223.7 518.5 223 518.8 223.9 519.1 224 519.3 223.2 519.6 223.7 519.8 224.4 520.1 223.4 520.3 222.5 520.6 221.5 520.8 222.4 521.1 222.9 521.3 221.4 521.6 222 521.8 220.9 522.1 220.5 522.3 221.6 522.6 220.8 522.8 220.3 523.1 219.9 523.3 220 523.6 219 523.8 220.3 524.1 219.3 524.3 218.7 524.6 218.5 524.8 220 525.1 219.5 525.3 218.4 525.6 218.8 525.8 218.5 526.1 219 526.3 217.5 526.5 217.6 526.8 217.7 527 216.8 527.3 218.5 527.5 217.1 527.8 217.4 528 217.1 528.3 217.8 528.5 217.4 528.8 215.4 529 216 529.2 215.3 529.5 215.2 529.8 215.9 530 215.6 530.2 216.3 530.5 216 530.8 215.6 531 217.5 531.2 217.5 531.5 217.6 531.8 216.7 532 217.5 532.2 218.7 532.5 217.8 532.8 218.6 533 219 533.2 219.6 533.5 221.1 533.8 221.6 534 222.9 534.2 224.7 534.5 224.5 534.8 225.5 535 226.2 535.2 227 535.5 228.6 535.8 228.3 536 228.1 536.3 227.7 536.5 228.1 536.8 227.1 537 227.2 537.3 226.4 537.5 225.4 537.8 225.5 538 225.1 538.3 225 538.5 224.1 538.8 224.5 539 224.3 539.3 224.5 539.5 225 539.8 224.2 540 225 540.3 224.5 540.5 223.8 540.8 225.1 541 224.1 541.2 224.3 541.5 224.6 541.7 225.2 542 223.5 542.2 224 542.5 223.8 542.7 223.2 543 224 543.2 222.9 543.5 222.1 543.7 222.1 544 222.7 544.2 222.3 544.5 221.5 544.7 221.7 545 221.8 545.2 220.9 545.5 220.1 545.8 221.1 546 218.8 546.3 218.5 546.5 218.2 546.8 218.6 547 216.8 547.3 216.7 547.6 217.3 547.8 217.3 548.1 218.6 548.3 218.5 548.6 217.2 548.8 217 549.1 218.1 549.3 218.4 549.6 216.7 549.8 217.9 550.1 217.3 550.4 216.7 550.6 216 550.9 215.7 551.1 215.7 551.4 216.1 551.6 216.1 551.9 216 552.1 216 552.4 217.4 552.6 215.4 552.9 215.8 553.1 215.4 553.4 216.3 553.6 215.6 553.9 216 554.1 216.2 554.4 215.9 554.6 216.3 554.9 216 555.1 216.5 555.4 216.7 555.6 216.9 555.9 217.2 556.1 217.7 556.4 217.9 556.6 217.9 556.9 218.5 557.1 217.4 557.4 217.6 557.6 218.3 557.9 218.8 558.1 217.8 558.4 218.4 558.6 217.6 558.9 216.9 559.1 216.5 559.4 218.4 559.6 217.3 559.9 216.5 560.1 217 560.4 216 560.6 218.3 560.9 218.4 561.1 218.9 561.4 217.1 561.6 218 561.8 217.1 562.1 218.9 562.3 216.8 562.6 215.2 562.8 215 563 215.6 563.3 214.8 563.5 214.8 563.8 215 564 214.5 564.3 211.7 564.5 212.2 564.8 213.5 565 210.5 565.3 211.7 565.5 210.7 565.8 212.8 566 212.2 566.3 212.8 566.6 212.7 566.8 212.7 567.1 213.9 567.3 211.8 567.6 210.7 567.8 210.8 568.1 210.7 568.3 209.9 568.6 211.4 568.8 211.3 569.1 212.3 569.3 210 569.6 212.1 569.8 211.3 570.1 211.5 570.3 212.5 570.5 211.2 570.8 212.6 571 212.5 571.3 213.2 571.5 215.2 571.8 214.4 572 215.7 572.3 215.3 572.5 215.8 572.8 215.2 573 216.6 573.2 215.8 573.5 213.8 573.8 214.7 574 216.1 574.2 215.3 574.5 215.2 574.8 215.4 575 214.9 575.2 213.7 575.5 213.7 575.8 215 576 213.6 576.2 213.7 576.5 213.8 576.8 214.9 577 214.4 577.2 214 577.5 213.8 577.8 213.6 578 214.4 578.2 213.8 578.5 214.1 578.8 214.6 579 214.3 579.3 213.1 579.5 213.4 579.8 213.1 580 211.9 580.3 212 580.5 209.9 580.8 211.6 581 211.9 581.3 209.7 581.5 211 581.8 210.6 582 205.8 582.3 207.6 582.5 208.2 582.8 206.8 583 206.1 583.3 206.4 583.5 207.3 583.8 205.9 584 204.5 584.3 204.7 584.5 204.5 584.8 204.3 585 203 585.3 201.4 585.5 204.8 585.7 202.6 586 204 586.2 199.8 586.5 201.7 586.7 201 587 200.7 587.2 196.9 587.5 197.1 587.7 196.2 587.9 199 588.2 196.4 588.4 197.2 588.7 194.9 588.9 194.2 589.2 192.3 589.4 195 589.6 194.6 589.9 193.4 590.1 194.2 590.4 192.5 590.6 191.9 590.8 190.6 591.1 193 591.3 192.2 591.6 188.8 591.8 189 592.1 189.2 592.3 188.6 592.6 189.2 592.8 189 593.1 188.5 593.3 184.8 593.6 186.6 593.8 181.1 594.1 180.6 594.4 179.8 594.6 178.8 594.9 178.8 595.1 176.2 595.4 172.4 595.6 167.9 595.9 161.3 596.1 157.2 596.3 155.1 596.6 152.9 596.8 149 597.1 147.1 597.3 146.8 597.6 141.3 597.8 139 598.1 143.4 598.3 142.7 598.6 144 598.8 147.8 599.1 151.4 599.3 150.4 599.6 151.5 599.9 155.2 600.1 156.7 600.4 159.3 600.6 159.8 600.9 163.7 601.1 162.6 601.4 164.3 601.6 161.5 601.9 155.6 602.1 152.1 602.4 149 602.6 145.5 602.8 143.7 603.1 138.6 603.3 140 603.6 133.3 603.8 134 604.1 125.1 604.3 122.3 604.5 122.3 604.8 113.7 605 116.7 605.3 112.2 605.5 106.5 605.8 104.4 606 104.5 606.3 101.2 606.5 98.4 606.8 105.3 607 106.3 607.2 112 607.5 113.1 607.8 122 608 126.7 608.2 123.8 608.5 120.5 608.7 114.3 609 111.7 609.2 109 609.5 106.6 609.7 105.8 609.9 102.4 610.2 98.6 610.4 94.2 610.7 96.3 610.9 87.5 611.1 93.7 611.4 92.2 611.6 93.5 611.9 98.3 612.1 98 612.3 102 612.6 102.6 612.8 103.5 613.1 109.6 613.3 109.6 613.6 111.6 613.8 110.7 614.1 108.7 614.3 103.4 614.6 103.8 614.8 101.4 615.1 101.2 615.3 97.3 615.6 92.7 615.9 92 616.1 96.2 616.4 86.8 616.6 89.6 616.9 86.7 617.1 83.1 617.4 82.5 617.6 88.2 617.9 92.4 618.1 98.3 618.4 99.6 618.6 102 618.9 107.5 619.1 112.7 619.4 116 619.6 118 619.8 117.4 620.1 114 620.3 113.9 620.6 115.5 620.8 109.9 621 107.1 621.3 103.7 621.5 100.2 621.8 101.7 622 99.6 622.3 96.5 622.5 94.8 622.7 99.1 623 103.8 623.2 108.3 623.5 114.1 623.7 122.2 624 126.1 624.2 127 624.4 136.5 624.7 140.8 624.9 144.9 625.2 149 625.4 154.2 625.7 155.2 625.9 155.3 626.2 149 626.4 149.4 626.7 149.7 626.9 147.7 627.2 144 627.4 144.3 627.7 144 627.9 145.6 628.2 142.8 628.4 143.3 628.7 140.3 628.9 141.2 629.2 141.9 629.4 140.6 629.7 140.4 629.9 140.8 630.2 143 630.4 144.5 630.7 150.4 630.9 148.5 631.2 152.2 631.4 152.6 631.6 157.8 631.9 157.8 632.1 156 632.4 162.4 632.6 161.4 632.9 162.8 633.1 161.6 633.4 162.2 633.6 160.7 633.9 164.9 634.1 163.9 634.4 162.2 634.6 164.2 634.9 164.5 635.2 162.8 635.4 163.8 635.7 164.4 635.9 162.8 636.2 161.9 636.4 162 636.7 165.5 636.9 165 637.2 168 637.4 167.4 637.7 166.5 637.9 166.5 638.2 158.1 638.4 158.3 638.7 152.9 638.9 154 639.2 148.6 639.4 142.9 639.7 139.8 639.9 136.8 640.1 134 640.4 131.4 640.6 132.2 640.9 126.7 641.1 128.2 641.3 125.8 641.6 127.8 641.8 122.7 642.1 123.4 642.3 122.4 642.6 122.6 642.8 122.3 643.1 124.4 643.3 120.8 643.6 119 643.8 115.1 644.1 116.7 644.3 120.2 644.6 115.6 644.8 114 645.1 116.4 645.3 116.2 645.6 114.4 645.8 117.8 646.1 114.1 646.3 112.2 646.6 110.6 646.8 112.5 647.1 110 647.4 111.2 647.6 110.3 647.9 113.1 648.1 114.1 648.4 115.1 648.6 117.5 648.9 123.8 649.2 122.6 649.4 125.5 649.7 126.3 649.9 130.3 650.2 131.1 650.4 136.6 650.7 139 650.9 137.5 651.2 139.3 651.4 135.1 651.7 135.3 651.9 133.8 652.2 132 652.4 127.8 652.6 125.3 652.9 122.5 653.1 122.1 653.4 119.4 653.6 118 653.8 111.5 654.1 106.9 654.3 100.7 654.6 97 654.8 94.3 655.1 89.8 655.3 81 655.6 79.1 655.8 76 656.1 80.6 656.3 77.2 656.6 76.7 656.8 75.9 657.1 72.8 657.3 72.3 657.6 73.9 657.8 72.7 658.1 72.1 658.3 73.3 658.6 72 658.9 71.6 659.1 74.4 659.4 72.2 659.6 74.7 659.9 73.1 660.1 72.9 660.4 75.3 660.6 74.3 660.9 72.3 661.2 71.6 661.4 74.4 661.7 74.1 661.9 74.3 662.2 76.9 662.4 80.6 662.7 85.3 663 83.3 663.2 85.2 663.5 83.9 663.7 88.3 664 90.9 664.2 91.9 664.5 94.8 664.7 100.4 665 97.7 665.2 101.6 665.5 99.3 665.7 99.1 666 97.3 666.2 102.1 666.4 96.7 666.7 100.2 666.9 99.5 667.2 103.3 667.4 103.5 667.6 107.3 667.9 110.9 668.1 112.5 668.3 114.1 668.6 115.1 668.8 120.9 669 122.1 669.3 120.9 669.5 121.5 669.8 114.9 670 118.9 670.2 115.6 670.5 116 670.7 114.2 671 119.3 671.2 114.9 671.5 114.5 671.7 115 671.9 117.8 672.2 115.1 672.4 117.8 672.7 118 672.9 123 673.2 128.3 673.4 124.3 673.6 130.9 673.9 132.8 674.1 130.5 674.4 130.3 674.6 132.5 674.8 133.5 675.1 135 675.3 136.1 675.6 139.9 675.8 138.2 676 139.9 676.3 143.7 676.5 143.2 676.8 143.3 677 145.7 677.3 148.7 677.5 152.8 677.7 149.1 678 152.1 678.2 143.7 678.5 143.8 678.7 144.1 679 143 679.2 140.8 679.5 135.7 679.7 140 680 134.6 680.2 132.8 680.5 136.8 680.7 136.6 681 130.9 681.2 131 681.5 133.2 681.7 138.3 682 140.4 682.2 143.9 682.5 147.4 682.8 144.5 683 148.3 683.3 148.4 683.5 147.6 683.8 147.9 684 139.7 684.3 142.6 684.5 142.1 684.8 137.6 685 132.6 685.3 130.1 685.5 130.3 685.7 133.3 686 132.6 686.2 135.6 686.5 133.6 686.7 135.9 687 140.1 687.2 138.6 687.5 146.5 687.7 145.5 688 146 688.2 141.7 688.5 141.6 688.7 140.4 689 137.5 689.2 135 689.5 133.6 689.8 134.5 690 130.6 690.3 131.9 690.5 132.5 690.8 126.6 691 127 691.3 122.3 691.5 122.3 691.8 123.8 692 126.5 692.3 128.1 692.5 129.2 692.8 132.2 693 136.9 693.2 134.4 693.5 137.6 693.7 139.6 694 140.7 694.2 141.2 694.5 142.2 694.7 142.9 695 142.7 695.2 140.9 695.5 142.6 695.7 143.9 696 141.7 696.3 143.5 696.5 141.5 696.8 141.7 697 142.9 697.3 141.8 697.5 143.5 697.8 144 698 144.9 698.3 143.8 698.5 149.5 698.8 151.1 699 151.1 699.2 152.1 699.5 156.2 699.7 157.3 700 163.7 700.2 162.1 700.5 161.5 700.7 167.2 701 167.7 701.2 167.1 701.5 167.1 701.7 166 702 167.3 702.2 164.7 702.5 162.1 702.8 165.9 703 165.3 703.3 164.7 703.5 163.2 703.8 163 704 163.2 704.3 162.2 704.5 163.4 704.8 167.6 705 167.4 705.3 171.9 705.5 170 705.8 173 706 177.4 706.3 179.4 706.5 182 706.8 183.6 707 187.5 707.3 189.5 707.5 191.1 707.8 191.4 708 193.3 708.2 194 708.5 192.1 708.8 192.5 709 190.9 709.2 191.1 709.5 190 709.8 190.7 710 190.9 710.2 189.8 710.5 193.2 710.8 189.3 711 190.6 711.2 190.8 711.5 187.2 711.8 190.4 712 188.6 712.2 189.1 712.5 187.8 712.8 188.1 713 187.5" fill="none" stroke="#ff7f0e" stroke-width="1.3" stroke-linejoin="round" clip-path="url(#c2)"/>
<text transform="translate(405.3 248.8) scale(0.720 1)" font-family="Liberation Sans" font-size="22" text-anchor="end" fill="#505050" stroke="#505050" stroke-width="0.28">0</text>
<text transform="translate(405.3 198.9) scale(0.720 1)" font-family="Liberation Sans" font-size="22" text-anchor="end" fill="#505050" stroke="#505050" stroke-width="0.28">20k</text>
<text transform="translate(405.3 148.9) scale(0.720 1)" font-family="Liberation Sans" font-size="22" text-anchor="end" fill="#505050" stroke="#505050" stroke-width="0.28">40k</text>
<text transform="translate(405.3 98.9) scale(0.720 1)" font-family="Liberation Sans" font-size="22" text-anchor="end" fill="#505050" stroke="#505050" stroke-width="0.28">60k</text>
<text transform="translate(445.2 264.4) scale(0.720 1)" font-family="Liberation Sans" font-size="22" text-anchor="middle" fill="#505050" stroke="#505050" stroke-width="0.28">2019</text>
<text transform="translate(521.1 264.4) scale(0.720 1)" font-family="Liberation Sans" font-size="22" text-anchor="middle" fill="#505050" stroke="#505050" stroke-width="0.28">2020</text>
<text transform="translate(597.3 264.4) scale(0.720 1)" font-family="Liberation Sans" font-size="22" text-anchor="middle" fill="#505050" stroke="#505050" stroke-width="0.28">2021</text>
<text transform="translate(673.2 264.4) scale(0.720 1)" font-family="Liberation Sans" font-size="22" text-anchor="middle" fill="#505050" stroke="#505050" stroke-width="0.28">2022</text>
<rect x="755.8" y="63.3" width="327.5" height="178.7" fill="#E5ECF6"/>
<path d="M755.8 168H1083.3" stroke="#d4d4d4" stroke-width="1.7"/>
<path d="M755.8 99.7H1083.3" stroke="#d4d4d4" stroke-width="1.7"/>
<path d="M755.8 235.9H1083.3" stroke="#626468" stroke-width="2"/>
<path d="M756.7 220 757 219.4 757.2 220 757.5 219.5 757.7 219.3 758 219.4 758.2 219.7 758.5 219.9 758.7 219.8 759 219.6 759.2 219.9 759.5 219.4 759.7 219.9 760 220 760.2 220.4 760.5 220.7 760.8 221.6 761 220.5 761.2 220.6 761.5 220.9 761.8 220.1 762 221.8 762.2 220.6 762.5 221.2 762.8 221.7 763 223 763.2 221.8 763.5 223.5 763.8 223.3 764 224.2 764.2 224.3 764.5 224.9 764.8 224.5 765 225 765.2 225 765.5 225.4 765.8 225.8 766 225.3 766.2 225.9 766.5 226.5 766.8 226 767 226.2 767.2 226.9 767.5 227 767.8 226.7 768 227.7 768.2 227.3 768.5 227 768.8 226.9 769 227.2 769.2 227.5 769.5 227.1 769.8 226.3 770 226.7 770.2 226.7 770.5 226.8 770.8 227.3 771 227.3 771.2 227.3 771.5 227.3 771.8 227.6 772 227.9 772.2 228 772.5 228.3 772.8 228.1 773 228 773.2 227.9 773.5 227.9 773.8 227.6 774 228.1 774.2 227.6 774.5 227.4 774.8 227.2 775 227.5 775.2 227.7 775.5 227.4 775.8 227.1 776 227.8 776.2 227.5 776.5 228.1 776.8 227 777 227.1 777.2 228.2 777.5 228.2 777.8 227.9 778 228 778.2 227.8 778.5 228.3 778.8 228.1 779 228.4 779.2 228.6 779.5 228.4 779.8 228.8 780 228.8 780.2 228.8 780.5 229 780.8 229.1 781 229.3 781.2 229 781.5 229.7 781.8 228.9 782 229.4 782.2 229.3 782.5 229.9 782.8 229.4 783 229.6 783.2 229.6 783.5 229.5 783.8 229.7 784 229.6 784.2 230.1 784.5 229.7 784.8 230 785 230 785.2 229.9 785.5 230.7 785.8 230.4 786 230.6 786.2 230.7 786.5 230.9 786.8 230.7 787 230.7 787.2 231.2 787.5 231.3 787.8 231.9 788 231.8 788.2 231.8 788.5 232 788.8 231.7 789 231.8 789.2 231.8 789.5 232 789.8 232.2 790 232.5 790.2 232.7 790.5 232.7 790.7 232.9 791 232.6 791.2 232.5 791.5 232.7 791.7 232.7 792 232.5 792.2 232.4 792.5 232.4 792.7 232.4 793 232.2 793.2 232.1 793.5 231.8 793.7 232.1 794 231.8 794.2 231.7 794.5 231.3 794.7 231.4 795 231.2 795.2 231.3 795.5 231 795.7 230.9 796 230.9 796.2 231.3 796.5 230.7 796.7 230.8 797 231 797.2 231.5 797.5 231.4 797.7 231.1 798 231.5 798.2 231.3 798.5 231.4 798.7 231.3 799 231.4 799.2 231.1 799.5 231.3 799.7 231.2 800 231.2 800.3 231.1 800.5 231.3 800.8 231.3 801 231.3 801.3 231.2 801.5 231.3 801.8 231.2 802 231.1 802.3 231.7 802.5 231.7 802.8 231.7 803 231.6 803.3 231.7 803.5 232.2 803.8 231.6 804 231.8 804.3 231.4 804.5 231.2 804.8 231.1 805 231.1 805.3 230.6 805.5 231 805.8 230.9 806 230.6 806.3 230.6 806.5 230.2 806.8 230.3 807 230.4 807.3 230.4 807.5 230.7 807.8 230.1 808 230.1 808.3 230.8 808.5 230.7 808.8 230.6 809 230.6 809.3 230.6 809.5 231 809.8 231.3 810 231.2 810.3 230.8 810.5 230.9 810.8 231.1 811 230.9 811.3 231.4 811.5 231 811.8 230.9 812 231.2 812.3 231.3 812.5 231.3 812.8 231.5 813 231.3 813.3 231.1 813.5 231.1 813.8 230.9 814 230.8 814.3 230.7 814.5 230.8 814.8 231.2 815 231.2 815.2 231 815.5 230.8 815.7 230.9 816 230.8 816.2 230.9 816.5 231.2 816.7 231.6 817 231.3 817.2 231.3 817.5 231.4 817.7 231.6 818 231.5 818.2 231.1 818.5 231 818.7 231.2 819 231 819.2 230.3 819.5 230.6 819.7 230.9 820 230.8 820.2 231 820.5 230.9 820.7 230.5 821 230.4 821.2 230.4 821.5 230.2 821.7 230 822 229.8 822.2 230 822.5 229.6 822.7 229.4 823 229.5 823.2 229.4 823.5 229.4 823.7 229.6 824 229.3 824.2 229.4 824.5 229.1 824.7 228.6 825 228.4 825.2 227.6 825.5 227.4 825.7 227.6 826 227.1 826.2 227.4 826.5 226.7 826.7 226.7 827 227 827.2 226.7 827.5 227.1 827.7 227.3 828 226.9 828.2 226.7 828.5 226.6 828.7 227.2 829 226.8 829.2 226.5 829.5 226.7 829.7 227 830 227.1 830.2 227.3 830.5 227.1 830.7 226.6 831 227.4 831.2 227.2 831.5 226.8 831.7 226.7 832 226.4 832.2 226.3 832.5 226.5 832.7 226 833 225.8 833.2 225.6 833.5 225.9 833.8 225.7 834 225.4 834.3 225 834.5 225.4 834.8 226 835 225.3 835.3 225 835.5 225.1 835.8 225 836 225.3 836.3 225 836.5 225.4 836.8 225.7 837 225.6 837.3 225.6 837.5 226.5 837.7 226.6 838 227.1 838.2 227 838.5 227.4 838.7 227.7 839 228.2 839.2 228.3 839.5 228.2 839.7 228.5 840 228.6 840.2 228.8 840.5 228.8 840.7 228.7 841 228.7 841.2 228.7 841.5 228.7 841.7 228.7 842 229.4 842.2 228.9 842.5 228.8 842.7 229.2 843 229.3 843.2 229.9 843.5 229.7 843.8 229.7 844 230.2 844.3 230.4 844.5 230.3 844.8 230.3 845 229.9 845.3 230 845.5 229.9 845.8 230.4 846 230.2 846.3 230 846.5 230.2 846.8 230.4 847 230.2 847.3 230 847.5 230.2 847.8 230.3 848 230.5 848.3 230 848.5 230 848.8 230.2 849 230.4 849.3 230.2 849.5 229.9 849.8 229.6 850 229.4 850.3 229.2 850.5 229.5 850.8 229.9 851 229.7 851.3 229.5 851.5 230.2 851.8 229.9 852 230.4 852.3 230.6 852.5 230.6 852.8 231 853 231 853.3 231.2 853.5 231.1 853.8 231 854 231.1 854.3 230.4 854.5 229.9 854.8 230.9 855 230.4 855.3 230.4 855.5 230.7 855.8 230.3 856 230.6 856.3 230.1 856.5 230.1 856.8 229.8 857 230.3 857.3 229.9 857.5 230 857.8 230.2 858 230 858.3 230.3 858.5 230.4 858.8 230.1 859 229.9 859.3 229.9 859.5 229.9 859.8 229.8 860 230 860.3 230.2 860.5 230 860.8 230 861 229.8 861.3 230.4 861.5 230.4 861.8 230.3 862 230.7 862.3 230.3 862.5 229.9 862.8 229.5 863 229.5 863.3 229.6 863.5 229.8 863.8 229.8 864 229.9 864.3 229.8 864.5 230.1 864.8 229.4 865 230 865.2 230.4 865.5 230.2 865.8 230.8 866 230.7 866.2 230.2 866.5 230.9 866.8 230.8 867 230.8 867.2 231.1 867.5 231.2 867.8 231.1 868 230.8 868.2 230.6 868.5 231.1 868.8 231.1 869 231 869.2 231.4 869.5 231.4 869.8 230.7 870 231.1 870.2 231.1 870.5 231.2 870.8 230.8 871 230.9 871.2 231.1 871.5 230.8 871.8 231.2 872 231.6 872.2 231.4 872.5 231.3 872.8 231.1 873 230.9 873.2 231.1 873.5 231 873.8 231.7 874 231.5 874.2 231.4 874.5 231.6 874.8 231.7 875 231.7 875.2 231.5 875.5 231.2 875.7 231.1 876 231 876.2 230.7 876.5 230.5 876.7 230.4 877 230.3 877.2 231 877.5 230.6 877.7 230.5 878 230.3 878.2 230.2 878.5 229.7 878.7 230.2 879 230.3 879.2 230.4 879.5 231.1 879.7 230.5 880 231.2 880.2 230.8 880.5 230.2 880.7 230.7 881 230.1 881.2 230.2 881.5 230 881.7 230 882 229.9 882.2 229.7 882.5 229.6 882.7 229.5 883 229 883.2 229 883.5 228.5 883.7 228.3 884 227.3 884.2 227.7 884.5 227.3 884.7 227 885 226.4 885.2 226.1 885.5 226 885.7 226.6 886 226.4 886.2 225.8 886.5 226.3 886.7 225.8 887 225.6 887.2 226.8 887.5 225.6 887.7 226.4 888 226.4 888.2 226.9 888.5 227.7 888.8 227.1 889 226.8 889.3 227.9 889.5 228.1 889.8 228.2 890 228.1 890.3 227.7 890.5 228.4 890.8 228.3 891 228.7 891.3 228.9 891.5 230 891.8 230.1 892 230.9 892.3 230.7 892.5 231 892.8 231.4 893 232 893.3 232.5 893.5 232.2 893.8 232.5 894 232.3 894.3 232.3 894.5 232.3 894.8 232.1 895 232.1 895.3 232.1 895.5 231.6 895.8 231.4 896 231.1 896.3 230.8 896.5 231 896.8 230.7 897 230.5 897.3 230.5 897.5 230.2 897.8 230 898 230.1 898.3 230 898.5 230 898.8 230.3 899 230 899.3 230.3 899.5 230.4 899.8 230.6 900 229.7 900.3 230 900.5 229.7 900.8 229.3 901 229.5 901.3 229.4 901.5 229.3 901.8 229.2 902 229.5 902.3 228.9 902.5 228.3 902.8 228.9 903 228.8 903.3 228.9 903.5 228.9 903.8 229.6 904 229.5 904.3 229.3 904.5 229.1 904.8 229.5 905 229.1 905.3 228.8 905.5 228.8 905.8 228.8 906 228.3 906.3 228.7 906.5 228.6 906.8 228.3 907 228.2 907.3 227.9 907.5 228.7 907.8 229 908 228.6 908.3 228.8 908.5 228.2 908.8 228.3 909 227.9 909.3 228.2 909.5 227.8 909.8 227.6 910 227.6 910.3 227.2 910.5 227.7 910.8 227 911 227.6 911.3 227.9 911.5 227.8 911.8 227.7 912 227.7 912.3 227 912.5 227.7 912.8 227.5 913 227.7 913.3 227.3 913.5 227.2 913.8 227.5 914 227 914.3 227.3 914.5 227.6 914.8 227.6 915 227.4 915.3 226.3 915.6 226.7 915.8 226.8 916.1 226.5 916.3 226.3 916.6 226.2 916.8 226.2 917.1 226.6 917.3 226.5 917.6 226.3 917.8 226.3 918.1 226.3 918.3 226.5 918.6 226.6 918.8 227.1 919.1 226.9 919.3 226.7 919.6 226.7 919.8 227.2 920.1 227.4 920.3 227.7 920.6 227 920.9 226.5 921.1 226.1 921.4 225.6 921.6 225.7 921.9 225.8 922.1 225.7 922.4 225.5 922.6 224.4 922.9 224.8 923.1 222.9 923.4 223.9 923.6 224.2 923.9 223.5 924.1 223.6 924.4 223.9 924.6 222.6 924.9 223.1 925.1 223.3 925.4 222.4 925.6 222.8 925.9 222.7 926.1 221.5 926.4 220.1 926.6 221.5 926.9 220.9 927.1 220.7 927.4 220.5 927.6 220.4 927.9 220.1 928.1 220.9 928.4 220.5 928.6 220.9 928.9 220.5 929.1 220.7 929.4 221.1 929.6 220.9 929.9 221.1 930.1 220.7 930.4 220.9 930.6 220.6 930.9 220.8 931.1 220.9 931.4 221 931.7 221.7 931.9 222.2 932.2 222.4 932.4 222.8 932.7 222.6 932.9 223.3 933.2 223.9 933.5 223.9 933.7 223.5 934 223 934.2 222 934.5 222.2 934.7 221.5 935 221.7 935.2 221.6 935.5 221.5 935.7 222.1 936 221.7 936.2 221.9 936.5 222.1 936.7 221.5 937 221.6 937.2 222.3 937.5 222.2 937.7 222.8 938 223.2 938.2 222 938.5 222.3 938.8 222.2 939 222.7 939.3 221.8 939.5 222.4 939.8 222.1 940 222.5 940.3 222.1 940.5 222.7 940.8 223 941 221.6 941.3 222.8 941.5 222.2 941.8 221.9 942 222.2 942.3 222.2 942.5 223.1 942.8 222.8 943 222.3 943.3 221.8 943.5 221.6 943.8 221.8 944 221.9 944.3 222.3 944.5 221.5 944.8 222.3 945 221.4 945.3 221.7 945.5 220.6 945.8 221 946 220 946.3 221.4 946.5 221 946.8 220.3 947 219.4 947.3 218.4 947.5 218.6 947.7 218.9 948 220.3 948.2 219.2 948.5 217.8 948.7 218.5 949 218.7 949.2 218.1 949.5 217.1 949.7 216.7 950 217.3 950.2 216.9 950.5 216.4 950.7 216 951 216.5 951.2 216.6 951.5 216.6 951.7 217.2 952 217.7 952.2 217.3 952.5 216 952.7 216.6 953 216.6 953.2 216.6 953.5 216.9 953.7 216.9 954 216.3 954.2 215.9 954.5 217.3 954.7 216.4 955 216.7 955.2 214.7 955.5 215.3 955.7 215.6 956 215 956.2 214.1 956.5 215.3 956.7 214 957 214.4 957.2 213.8 957.5 212.1 957.7 212.2 958 211.4 958.2 211.6 958.4 209.4 958.7 209.9 958.9 208.1 959.2 209.6 959.4 208.8 959.7 205.1 959.9 197.3 960.2 193.8 960.5 194.6 960.7 194.8 961 196.2 961.2 195.6 961.5 196.1 961.8 195.8 962 197.1 962.3 194.9 962.5 195.6 962.8 193.5 963 194.6 963.3 194.6 963.5 193.3 963.8 194.8 964 193 964.3 191.2 964.5 189.8 964.8 189.3 965 186.8 965.3 186 965.5 184.9 965.8 183.6 966 185.5 966.3 184 966.5 181.9 966.7 180.6 967 180.7 967.2 181.2 967.5 177.5 967.7 174.5 968 174.9 968.2 175.5 968.5 175 968.7 173 969 171 969.2 171.5 969.5 173 969.7 170.8 970 170.9 970.2 176.5 970.5 178.2 970.7 181.9 971 178.7 971.2 180 971.5 181.8 971.7 186.5 972 186.7 972.2 183.5 972.5 182.6 972.7 181.8 973 179.2 973.2 180.4 973.4 178.6 973.7 177.3 973.9 176.7 974.2 172.9 974.4 172.4 974.6 175.9 974.9 171.8 975.1 174.6 975.4 174.2 975.6 178.1 975.9 176.9 976.1 174.2 976.4 179.8 976.6 177.8 976.9 177.7 977.1 179.6 977.4 180.8 977.6 181.9 977.9 177.6 978.1 176.5 978.4 176.5 978.7 171.5 978.9 170 979.2 169.2 979.5 167.1 979.7 164.4 980 165.7 980.2 163.4 980.5 162.1 980.8 162.9 981 163.3 981.3 156.3 981.5 156.7 981.8 157.5 982 154.4 982.3 155 982.6 154.7 982.8 160.1 983.1 159.7 983.4 160.8 983.6 160.7 983.9 159.7 984.1 157.7 984.4 150.4 984.6 151.1 984.9 142.7 985.1 137.1 985.4 136.2 985.6 129.8 985.9 120.8 986.1 117.5 986.4 114.6 986.6 107.3 986.9 104.1 987.1 97.8 987.4 94 987.7 94.5 987.9 99.5 988.2 95 988.5 102.1 988.7 107.1 989 104.9 989.2 102.7 989.5 109 989.8 123.5 990 137.5 990.3 146.7 990.6 164.5 990.8 156.7 991.1 154.1 991.3 145.5 991.6 145 991.8 137.6 992 136.9 992.3 137.6 992.5 139.9 992.8 139.4 993 139.5 993.3 142.3 993.5 142.7 993.8 142.8 994 144.8 994.3 144.4 994.5 144.8 994.8 149.5 995 148.7 995.2 149.9 995.5 152 995.7 156.3 996 156.1 996.2 161.6 996.4 164.4 996.7 167.5 996.9 167.3 997.2 167.2 997.4 174 997.7 172.3 997.9 173 998.2 170 998.4 171.1 998.7 166.3 998.9 168 999.2 164 999.4 162 999.7 158.2 999.9 162.8 1000.2 161.8 1000.4 164.5 1000.7 163.2 1000.9 164.8 1001.2 167.8 1001.4 166.9 1001.7 169.4 1001.9 168.5 1002.2 167.9 1002.4 172.1 1002.7 171.2 1002.9 174 1003.2 175.3 1003.4 170.7 1003.7 164.9 1003.9 164.2 1004.2 163 1004.4 161.9 1004.7 161.6 1004.9 160.6 1005.2 155.9 1005.4 152.4 1005.7 150.9 1006 144.6 1006.2 146.2 1006.5 139.3 1006.7 136.1 1007 136.3 1007.2 133.6 1007.5 130 1007.7 129.6 1008 129.2 1008.2 127.2 1008.5 126.5 1008.8 128.1 1009 125.3 1009.3 127.7 1009.5 129.2 1009.8 128.7 1010 124.8 1010.3 128.1 1010.5 124.7 1010.8 125 1011 124 1011.3 116.6 1011.5 112.6 1011.8 113.3 1012 109.6 1012.2 110.9 1012.5 111.4 1012.7 108.4 1013 102 1013.2 102 1013.4 101.8 1013.7 109.7 1013.9 108.1 1014.2 113.2 1014.4 117.4 1014.6 120.1 1014.9 123 1015.1 124.2 1015.4 126.8 1015.6 125 1015.8 124.6 1016.1 132.7 1016.3 127.9 1016.6 129.5 1016.8 132.3 1017 136.9 1017.3 138.5 1017.5 139.5 1017.8 139.1 1018 140.7 1018.2 137.8 1018.5 133.1 1018.7 134.8 1019 136.5 1019.2 131 1019.5 130.2 1019.7 125.9 1020 124.5 1020.2 120.2 1020.4 120.7 1020.7 116.7 1020.9 120.8 1021.2 122.4 1021.4 115.7 1021.7 115.9 1021.9 113.8 1022.2 111.8 1022.4 108.6 1022.7 109.4 1022.9 114 1023.2 112.3 1023.5 106.8 1023.7 105.2 1024 105 1024.2 99.7 1024.5 102.4 1024.7 99.3 1025 98 1025.2 92.9 1025.5 92.1 1025.8 91.7 1026 85.4 1026.2 86.4 1026.5 85.8 1026.8 78.9 1027 76.3 1027.2 74.1 1027.5 72.7 1027.8 74.5 1028 80.1 1028.3 84 1028.5 84.8 1028.8 85.4 1029 86 1029.3 89 1029.5 94.4 1029.8 98 1030 95.4 1030.3 95.6 1030.5 91.7 1030.8 89.8 1031 87.1 1031.2 81.4 1031.5 83 1031.7 78.8 1032 83.4 1032.2 79 1032.4 78.4 1032.7 82.6 1032.9 85.2 1033.2 82.4 1033.4 86 1033.6 91.8 1033.9 90.9 1034.1 97.5 1034.4 98.5 1034.6 96.4 1034.9 98.7 1035.1 97.9 1035.4 99.9 1035.6 98.3 1035.9 97.8 1036.2 96.4 1036.4 96.8 1036.7 97.7 1036.9 96.7 1037.2 96.3 1037.4 96.4 1037.7 97.2 1037.9 103.9 1038.2 105.2 1038.4 101.9 1038.7 105.5 1038.9 106.1 1039.2 106 1039.4 107.8 1039.7 109.1 1039.9 113.1 1040.2 113.8 1040.4 116.5 1040.7 118.5 1040.9 115.4 1041.1 117.8 1041.4 124.4 1041.6 127.9 1041.9 128.4 1042.1 128.1 1042.4 131.5 1042.6 133.5 1042.9 135.6 1043.1 139.7 1043.4 143.7 1043.6 147.8 1043.9 148.3 1044.1 153.4 1044.3 151.7 1044.6 150.4 1044.8 148.2 1045.1 146.6 1045.3 144.7 1045.6 140.2 1045.8 139.9 1046 141.2 1046.3 135.1 1046.5 133.4 1046.8 132.1 1047 133.1 1047.3 128.4 1047.5 127.6 1047.8 127.2 1048 126.5 1048.2 129.2 1048.5 133.3 1048.7 131.4 1049 134.3 1049.2 138.4 1049.4 138.1 1049.7 142.1 1049.9 144 1050.2 147.4 1050.4 145.5 1050.7 145.1 1050.9 148.9 1051.2 149.5 1051.4 148.4 1051.7 145.7 1051.9 148.9 1052.2 145.2 1052.4 146.5 1052.7 148.7 1052.9 145.3 1053.2 147 1053.4 149.3 1053.7 150.7 1053.9 148.8 1054.2 152.2 1054.4 150.2 1054.7 149.8 1054.9 144.9 1055.2 144.6 1055.4 141.8 1055.7 143.9 1055.9 137.8 1056.2 140 1056.4 138.6 1056.7 139.1 1056.9 132.4 1057.2 134.3 1057.4 135.7 1057.7 132.3 1057.9 127 1058.2 129.2 1058.4 124.3 1058.7 122.2 1058.9 122.3 1059.2 120.5 1059.4 122.2 1059.7 120.7 1059.9 117 1060.1 120.1 1060.4 123.7 1060.6 118.1 1060.9 118.4 1061.1 116.9 1061.4 119.6 1061.6 119.7 1061.9 122.1 1062.1 121.9 1062.4 125.8 1062.6 124 1062.9 128.8 1063.1 129.7 1063.3 130.5 1063.6 133.2 1063.8 132.2 1064.1 129.4 1064.3 132.6 1064.6 130.2 1064.8 130.8 1065 129.7 1065.3 134.9 1065.5 134.5 1065.8 132.1 1066 131.7 1066.3 136.4 1066.5 134.8 1066.8 139.1 1067 137.6 1067.3 140.9 1067.5 143.9 1067.8 149.9 1068.1 157.4 1068.3 163.3 1068.6 164.5 1068.9 166.2 1069.1 163.8 1069.4 168.2 1069.6 169.4 1069.9 170.6 1070.1 167.6 1070.4 170.8 1070.6 168.8 1070.9 167.5 1071.1 165.7 1071.4 170.3 1071.6 167.2 1071.9 169 1072.1 168.1 1072.4 169.9 1072.6 169.5 1072.9 169 1073.1 171.3 1073.4 172.4 1073.6 172.9 1073.9 175.1 1074.1 177.5 1074.4 178.7 1074.6 180.1 1074.9 182.4 1075.1 183.2 1075.3 183.9 1075.6 189.5 1075.8 192.3 1076.1 191.3 1076.3 193.1 1076.6 193.4 1076.8 195.9 1077.1 198.1 1077.3 200.9 1077.5 197.4 1077.8 196.8 1078 200.5 1078.3 201.9 1078.5 201 1078.8 198.8 1079 199.4 1079.3 200.3 1079.5 198 1079.8 195.4 1080 197.9 1080.3 195.7 1080.5 196.2 1080.8 196.9 1081 194.9 1081.2 194 1081.5 195.9 1081.8 194 1082 194.9 1082.2 192.9 1082.5 193.4 1082.8 194.3 1083 193" fill="none" stroke="#2ca02c" stroke-width="1.3" stroke-linejoin="round" clip-path="url(#c3)"/>
<text transform="translate(753.8 243.8) scale(0.720 1)" font-family="Liberation Sans" font-size="22" text-anchor="end" fill="#505050" stroke="#505050" stroke-width="0.28">0</text>
<text transform="translate(753.8 175.9) scale(0.720 1)" font-family="Liberation Sans" font-size="22" text-anchor="end" fill="#505050" stroke="#505050" stroke-width="0.28">2000</text>
<text transform="translate(753.8 107.6) scale(0.720 1)" font-family="Liberation Sans" font-size="22" text-anchor="end" fill="#505050" stroke="#505050" stroke-width="0.28">4000</text>
<text transform="translate(796.2 264.4) scale(0.720 1)" font-family="Liberation Sans" font-size="22" text-anchor="middle" fill="#505050" stroke="#505050" stroke-width="0.28">2019</text>
<text transform="translate(877.3 264.4) scale(0.720 1)" font-family="Liberation Sans" font-size="22" text-anchor="middle" fill="#505050" stroke="#505050" stroke-width="0.28">2020</text>
<text transform="translate(958.7 264.4) scale(0.720 1)" font-family="Liberation Sans" font-size="22" text-anchor="middle" fill="#505050" stroke="#505050" stroke-width="0.28">2021</text>
<text transform="translate(1039.8 264.4) scale(0.720 1)" font-family="Liberation Sans" font-size="22" text-anchor="middle" fill="#505050" stroke="#505050" stroke-width="0.28">2022</text>
<rect x="37" y="265" width="327" height="167.5" fill="#E5ECF6"/>
<path d="M37 392.3H364" stroke="#d4d4d4" stroke-width="1.7"/>
<path d="M37 350.8H364" stroke="#d4d4d4" stroke-width="1.7"/>
<path d="M37 309.5H364" stroke="#d4d4d4" stroke-width="1.7"/>
<path d="M37 268.3H364" stroke="#d4d4d4" stroke-width="1.7"/>
<path d="M37 398.3 37.3 399.1 37.5 400.9 37.8 398.5 38 400 38.3 400.8 38.5 399.3 38.8 398.5 39 399.9 39.3 397.9 39.5 396 39.8 398 40 398.1 40.3 397.2 40.5 396 40.8 396.7 41 398.5 41.3 396 41.5 396.6 41.8 398.2 42 398.9 42.3 399.3 42.5 400.5 42.8 401.1 43 401.6 43.3 401.7 43.5 403.4 43.8 403 44 405.4 44.3 405.2 44.5 405.9 44.8 406.9 45 407.2 45.2 408.1 45.5 407.5 45.7 409 46 410.4 46.2 410.5 46.5 411.3 46.7 410.8 47 410.2 47.2 410.8 47.5 411.9 47.7 410.2 48 410.3 48.2 407.4 48.5 410.1 48.7 408.5 49 409.1 49.2 409 49.5 407.5 49.7 407.8 50 406.7 50.2 406.3 50.5 408 50.8 408 51 408.7 51.2 411.6 51.5 410.2 51.8 410.7 52 410.9 52.2 410.7 52.5 411.7 52.8 412.1 53 411.2 53.3 412 53.5 410.6 53.8 410.6 54 410.8 54.3 409.1 54.5 410.6 54.8 409.5 55 409.5 55.3 407.8 55.5 408.3 55.8 407.5 56 407.3 56.3 406.9 56.5 409.2 56.8 407.3 57 408.6 57.3 409.5 57.5 409.6 57.8 408.9 58 410.9 58.3 410.1 58.5 410.3 58.8 410.5 59 409.4 59.3 409.2 59.5 409.6 59.8 408 60 410.8 60.2 411.1 60.5 411.3 60.7 411.3 61 410.7 61.2 411.2 61.5 412.2 61.7 411.3 62 411.8 62.2 412.4 62.5 411.8 62.7 411.2 63 413.2 63.2 412 63.5 411.8 63.7 412.1 64 411.4 64.2 411.7 64.5 411.1 64.7 411.3 65 412 65.2 411.6 65.5 411.7 65.7 412.5 66 411.9 66.2 412.2 66.5 414.1 66.7 413.3 67 414.1 67.2 413.4 67.5 415.5 67.7 416.5 68 417.4 68.2 418.3 68.5 419.5 68.7 418.9 69 419.9 69.2 420.4 69.5 420.5 69.7 420.9 70 421.7 70.2 421.7 70.5 421.8 70.8 422.3 71 422.2 71.2 422.6 71.5 423 71.8 423.7 72 424.1 72.2 423.8 72.5 424.2 72.7 423.6 73 423.9 73.2 423.2 73.5 422.5 73.7 422.3 74 421.4 74.2 420.9 74.5 421.5 74.7 420.3 75 421.7 75.2 421.3 75.5 420.6 75.7 420 76 419.8 76.2 420.1 76.5 419.8 76.7 420 77 420.6 77.2 419.6 77.5 419.9 77.7 420.2 78 420 78.2 420 78.5 419.3 78.7 418.6 79 418.6 79.2 420.6 79.5 419.4 79.7 419 80 419.2 80.2 420.1 80.5 419.9 80.8 420.3 81 420.3 81.2 420.1 81.5 419.8 81.8 419.7 82 420 82.2 421 82.5 420.7 82.8 420.3 83 420.9 83.2 419.9 83.5 419.5 83.8 419.2 84 419.5 84.2 420.9 84.5 420.3 84.8 419.9 85 420 85.2 419.5 85.5 418.7 85.7 417.9 86 416.6 86.2 415.7 86.5 416.4 86.7 415 87 416 87.2 413.5 87.5 412.7 87.7 414.2 88 414.1 88.2 412.8 88.5 414.6 88.7 414.2 89 413.9 89.2 413 89.5 412.5 89.7 411.2 90 411.8 90.2 412 90.5 410.7 90.7 410.4 91 411.3 91.2 410.2 91.5 410.7 91.7 410.8 92 411.7 92.2 411.4 92.5 409.3 92.7 411 93 409.9 93.2 412.1 93.5 410 93.7 409.7 94 409.1 94.2 409.1 94.5 407.2 94.7 408.3 95 408.2 95.2 408.7 95.5 408.8 95.7 407.9 96 408.3 96.2 406.8 96.5 408.8 96.7 407.5 97 403.7 97.2 404.3 97.5 401.1 97.8 397.6 98 397.2 98.3 395.8 98.5 395.8 98.8 395.9 99 395.3 99.3 396.1 99.5 398.5 99.8 398.5 100 400.2 100.3 400.4 100.5 399.9 100.8 400 101 399.8 101.3 399.5 101.5 400.7 101.8 401.8 102 402.4 102.3 404.5 102.5 404.2 102.8 403.8 103 404.1 103.3 405 103.5 405.1 103.8 404.9 104 403.8 104.3 400.9 104.5 403.9 104.8 398.7 105 396.5 105.2 397.4 105.5 395.8 105.7 395.5 106 396.9 106.2 395.8 106.5 392.3 106.7 391.7 107 393.6 107.2 394.4 107.5 396.5 107.8 397.2 108 395.3 108.3 396.7 108.5 395.1 108.8 393.1 109 392.8 109.3 391.8 109.5 392.7 109.8 391.3 110 389.3 110.3 386.4 110.5 390.6 110.8 386.7 111 386.2 111.3 387.6 111.5 386.6 111.8 390 112 388 112.3 388.6 112.5 387.6 112.8 387.7 113 387.7 113.3 388.3 113.5 387.7 113.8 382.7 114 381.9 114.3 381.5 114.5 380.8 114.8 377.9 115 379.7 115.3 378.5 115.5 377.1 115.8 375.8 116 378.4 116.3 378.4 116.5 378.4 116.8 382.5 117 380.2 117.3 382 117.5 383.6 117.8 384.3 118 383.6 118.3 385 118.5 387.2 118.8 385.9 119 384.4 119.3 383.6 119.5 386.1 119.8 382.1 120 381.7 120.2 385.5 120.5 385.8 120.7 391.1 121 394.7 121.2 393.2 121.5 396.7 121.7 400 122 400.1 122.2 399.2 122.5 401.2 122.7 397.9 123 397.7 123.2 397.3 123.5 397.8 123.7 396.8 124 395.2 124.2 395.9 124.5 396.5 124.7 396.1 125 393.3 125.2 393 125.5 392.6 125.8 393 126 393.7 126.2 392.9 126.5 393.2 126.8 392.9 127 394.1 127.2 394.3 127.5 394.9 127.8 394.2 128 396.5 128.2 395.4 128.5 397.1 128.8 397.7 129 398.9 129.2 402.1 129.5 401.1 129.8 401.9 130 403.3 130.3 403.5 130.5 404 130.8 403.1 131 404.4 131.3 403.8 131.5 404.1 131.8 404.7 132 404.9 132.3 407.4 132.5 406 132.8 407.8 133 406.7 133.3 406.7 133.6 405.9 133.8 404.8 134.1 404.8 134.3 405.4 134.6 405.5 134.8 404.1 135.1 402.8 135.3 401.5 135.6 402.9 135.8 401.7 136 401 136.3 403.9 136.5 404.4 136.8 407.9 137 408.5 137.3 410.2 137.5 410.8 137.8 410 138 410.3 138.3 410.1 138.5 411.2 138.8 412.2 139 413.3 139.3 412.3 139.5 410.6 139.8 410.9 140 411.5 140.3 411.5 140.5 411 140.8 410.1 141 410.2 141.3 411.6 141.5 410.5 141.8 413 142 412.7 142.3 413 142.5 412.6 142.8 411.1 143 411.4 143.3 411.7 143.5 410.5 143.8 410.2 144 410.7 144.3 410 144.5 408.7 144.8 410.6 145 409.3 145.2 408.8 145.5 408.1 145.7 408.6 146 408.2 146.2 408.3 146.5 406.8 146.7 407.5 147 408.6 147.2 409.1 147.5 410.2 147.7 410.1 148 411.1 148.2 411.8 148.5 412.9 148.8 412.7 149 413.5 149.3 412.7 149.5 414 149.8 413.6 150 413.6 150.3 415.1 150.5 413.6 150.8 415 151.1 414.3 151.3 415.1 151.6 414.3 151.8 415.2 152.1 414.8 152.3 416 152.6 414.7 152.8 416.4 153.1 416.2 153.3 416.3 153.6 416 153.8 415.9 154.1 415.3 154.3 416.2 154.6 416.1 154.8 416.2 155.1 416.6 155.3 416.9 155.6 416.6 155.8 417.5 156 418.6 156.3 417.4 156.5 416.7 156.8 416.3 157 416.3 157.3 416.4 157.5 416.6 157.8 415.8 158 416.2 158.3 415.7 158.5 414.8 158.8 415.8 159 415.9 159.3 414.7 159.5 414.4 159.8 414.1 160 414.2 160.2 413.9 160.5 412.1 160.8 412.9 161 412.2 161.2 411 161.5 410.7 161.8 411.9 162 409.4 162.2 407.9 162.5 409.7 162.8 407.9 163 408.4 163.2 408.9 163.5 407.1 163.8 406.2 164 408.4 164.2 406 164.5 404.9 164.8 405.4 165 405 165.2 404.2 165.5 404.3 165.7 404.6 166 403.6 166.2 402.6 166.5 401.9 166.7 401.7 167 402.6 167.2 401.6 167.5 402.2 167.7 401.7 168 401.2 168.2 401.3 168.5 400.8 168.7 399.7 169 400.8 169.2 400 169.4 401.3 169.7 401.6 169.9 400 170.2 402.9 170.4 402.5 170.7 402.1 170.9 405.6 171.2 406 171.4 406.6 171.7 405 171.9 405.8 172.2 404.6 172.4 407.3 172.7 406.9 172.9 405.8 173.2 408.7 173.4 409.3 173.7 409.4 173.9 410.3 174.2 410 174.5 412.4 174.7 416.8 175 420 175.2 419.9 175.5 420.2 175.8 419.2 176 418.8 176.2 418.3 176.5 416.9 176.8 416.4 177 417.4 177.2 417.6 177.5 417.7 177.8 416.2 178 416.7 178.2 416.6 178.5 417.1 178.8 415.9 179 416 179.2 416.3 179.5 416.2 179.8 417.1 180 416.7 180.2 416.5 180.5 415.3 180.7 416.9 181 416.1 181.2 416 181.5 415.2 181.7 416.1 182 416 182.2 415.5 182.5 415.4 182.7 415.2 183 414.8 183.2 415.1 183.5 415.6 183.7 415.7 184 415.1 184.2 414.2 184.5 415.6 184.7 415.9 185 415.7 185.2 415.1 185.5 415.6 185.7 414.1 186 414.3 186.2 413.7 186.5 414.9 186.7 414.2 187 413.5 187.2 414 187.5 416 187.7 413.7 188 414.2 188.2 414.4 188.5 414.8 188.7 415.4 189 415.5 189.2 415.5 189.5 416.6 189.7 415.7 190 414.5 190.2 415.1 190.5 416.4 190.8 416.3 191 416.2 191.2 415.6 191.5 415.5 191.8 415 192 414.7 192.2 414.4 192.5 413.9 192.8 414 193 415.2 193.2 415.2 193.5 413.4 193.8 414.4 194 413.1 194.2 413.2 194.5 413.8 194.8 413.2 195 413.5 195.2 414.4 195.5 415.3 195.8 414.3 196 414.6 196.2 414.5 196.5 414.5 196.8 414.6 197 415.6 197.2 414.4 197.5 416 197.8 415.6 198 417.3 198.2 416 198.5 416.4 198.8 414.9 199 416 199.2 416.2 199.5 416.3 199.8 415.5 200 415.6 200.2 417 200.5 415.7 200.8 416.1 201 416 201.2 415.4 201.5 416.1 201.8 414.9 202 415.4 202.2 415.2 202.5 414.9 202.8 415.9 203 415.2 203.2 416.6 203.5 415.2 203.8 413.1 204 414.2 204.2 414.2 204.5 414.2 204.8 411 205 412.4 205.2 409 205.5 410 205.8 409.5 206 410.7 206.2 409.2 206.5 408.5 206.8 407.1 207 408.4 207.2 407.6 207.5 406.6 207.8 407.1 208 406.9 208.2 407.7 208.5 406.5 208.8 406.3 209 407 209.2 406.1 209.5 406.2 209.8 405.8 210 407 210.3 408.1 210.5 409 210.8 408.4 211 410 211.3 410.4 211.5 409.3 211.8 410 212 409.4 212.3 409.5 212.5 411.6 212.8 411.5 213 411.6 213.3 412.1 213.5 413.4 213.8 413.2 214 413 214.2 413.5 214.5 413.6 214.8 413.3 215 413.8 215.2 413.3 215.5 413.9 215.8 413.7 216 413.9 216.2 414.3 216.5 413.5 216.8 414.3 217 414.3 217.2 413.5 217.5 413.7 217.8 415.2 218 415.6 218.2 415.1 218.5 415.2 218.8 415.4 219 416.2 219.2 415.6 219.5 415.5 219.8 415.6 220 416.3 220.2 416.1 220.5 416.5 220.8 416.2 221 415.4 221.2 416 221.5 416.1 221.8 415.6 222 415.6 222.2 415.1 222.5 413.8 222.8 413.9 223 413 223.2 411.8 223.5 412.3 223.8 412 224 410.5 224.2 412 224.5 411.7 224.8 409.8 225 411.7 225.2 411 225.5 409.8 225.8 409.1 226 410.1 226.2 410.4 226.5 409.4 226.8 407.9 227 410 227.2 408.7 227.5 408.5 227.8 407.2 228 405.5 228.2 406.7 228.5 403.8 228.8 402 229 402 229.2 401.3 229.5 401.5 229.8 401.6 230 402.9 230.2 400.2 230.5 399.5 230.8 399.3 231 400.1 231.2 403 231.5 401.2 231.8 402.4 232 400.6 232.2 402.4 232.5 403.2 232.8 403.8 233 404.5 233.2 404.5 233.5 404 233.8 403.3 234 401.8 234.2 399.2 234.5 398 234.8 395.9 235 395 235.2 393.3 235.5 392.1 235.7 391.5 236 389.5 236.2 389.2 236.5 387.5 236.7 385.2 237 385.6 237.2 384.5 237.5 383.2 237.7 385 238 381.2 238.2 381.5 238.5 384.2 238.7 380.8 239 380.3 239.2 380.6 239.5 380 239.7 375.8 240 376.1 240.2 375.9 240.5 374.5 240.7 369.3 241 369 241.2 363.7 241.5 360 241.7 360.5 242 363.6 242.2 364.1 242.5 367.1 242.7 369 243 369.3 243.2 367.7 243.5 371.2 243.7 374.6 244 375.5 244.2 378.4 244.5 378.3 244.7 377.9 245 376.7 245.2 378.4 245.5 379.7 245.7 382.5 246 384.8 246.2 383 246.4 380.5 246.7 377.4 246.9 377 247.2 374.1 247.4 372.6 247.7 369.5 248 366.6 248.2 359.8 248.5 359.4 248.7 353.8 249 346.7 249.2 344.4 249.5 344.3 249.7 339.7 250 335 250.2 339.4 250.5 343.4 250.7 348 251 347.2 251.2 352.9 251.5 352.4 251.7 358.9 252 358.2 252.2 365 252.5 362.9 252.7 362.9 253 360 253.2 357 253.5 354.9 253.7 357.5 254 354.1 254.2 351 254.5 351.6 254.7 348.9 255 350.4 255.2 344.9 255.5 345.8 255.7 344 256 340.2 256.2 344.2 256.5 346.1 256.7 345.5 257 351.5 257.2 353.3 257.5 353.8 257.7 358.2 258 362 258.2 362 258.4 357.8 258.7 354.7 258.9 355.4 259.2 349.4 259.4 345.6 259.7 341.7 259.9 344.1 260.2 339.7 260.4 338.8 260.7 333 260.9 329.8 261.2 327.5 261.4 322.9 261.7 321 261.9 320.6 262.2 317.1 262.4 315.5 262.7 312.6 262.9 311.5 263.2 305.7 263.5 310.1 263.7 316.1 264 319.6 264.2 325.1 264.5 331.1 264.7 336.9 265 341 265.3 336.6 265.5 330.3 265.8 323.3 266 317.2 266.3 313.9 266.5 306.6 266.8 302.5 267 298.5 267.3 292.5 267.5 286.5 267.8 282.7 268 278 268.3 273.5 268.5 275.8 268.8 283.5 269 289.5 269.3 296.9 269.5 300.5 269.8 304.3 270 304.7 270.2 307.9 270.5 307.8 270.8 311.2 271 312.5 271.3 374 271.5 370.8 271.8 365.5 272 358.8 272.2 351.5 272.5 351.1 272.7 354.9 273 356.8 273.2 360.1 273.5 360.3 273.7 364.6 274 365 274.2 368.3 274.5 369 274.8 369.5 275 371.1 275.2 370.5 275.5 367.6 275.8 368 276 369.1 276.2 373.2 276.5 368.9 276.8 369.7 277 371 277.2 373.5 277.5 377.3 277.8 373.6 278 377.1 278.2 380.2 278.5 383 278.7 381.5 279 381.3 279.2 380.2 279.5 381.8 279.7 379.6 280 378.1 280.2 376.1 280.5 379.2 280.7 375.5 280.9 376.1 281.2 377.3 281.4 377.8 281.7 379.8 281.9 382.1 282.2 380.8 282.4 382.3 282.7 386.2 282.9 384.9 283.2 385.4 283.4 386.9 283.7 389 284 387.3 284.2 385.1 284.5 386.1 284.7 384 285 380.2 285.2 381.1 285.5 381.8 285.7 378.8 286 377 286.2 379.7 286.5 376.2 286.7 375 287 371.3 287.2 369.5 287.5 369.2 287.7 367.2 288 366.3 288.2 363 288.5 363.8 288.7 362.3 289 359.8 289.2 359.6 289.5 358.6 289.7 357.5 290 360.9 290.2 356.8 290.5 356.9 290.7 361.5 291 359.3 291.2 362.6 291.5 360.9 291.7 362.2 292 363.5 292.2 359.5 292.5 361.5 292.8 358.3 293 355.9 293.2 350.2 293.5 347 293.8 345.5 294 345.4 294.2 343.7 294.5 338 294.8 337.6 295 345 295.2 347.9 295.5 348.2 295.8 351 296 351 296.2 354.8 296.5 357.5 296.8 358.8 297 362 297.2 360.1 297.5 360.4 297.8 364.5 298 365.7 298.2 365.6 298.5 368.6 298.8 367.1 299 372 299.2 374.3 299.5 375.5 299.8 373.4 300 375.6 300.2 371.6 300.5 371.9 300.8 369.7 301 366.4 301.2 366.6 301.5 365 301.8 361.6 302 362 302.2 360.1 302.5 360.6 302.8 358.6 303 354.7 303.2 355.4 303.5 353.6 303.8 353.9 304 353 304.2 353.3 304.5 352.7 304.8 352.8 305 355.7 305.2 356.4 305.5 355.9 305.8 354.5 306 356.2 306.2 355.1 306.5 358.9 306.8 356.3 307 356 307.2 351.3 307.5 353.9 307.8 345.2 308 345.9 308.2 343.2 308.5 337 308.8 333 309 331.2 309.2 327.3 309.5 323.2 309.8 324.5 310 318.5 310.2 323.1 310.5 326.7 310.8 327.3 311 328.3 311.2 340.2 311.5 341 311.8 344.4 312 346 312.2 343.5 312.5 343.8 312.8 349.2 313 348.5 313.2 346.1 313.5 350.6 313.8 354.1 314 355.1 314.2 354.6 314.5 356 314.7 356.8 315 358.8 315.2 361.2 315.5 360.4 315.7 363.5 316 364 316.2 367.4 316.5 371.4 316.7 371 317 370.5 317.2 371.9 317.5 370.9 317.7 370.6 318 371.6 318.2 370.9 318.5 371.1 318.7 372.8 319 372.5 319.2 371.8 319.5 372 319.7 371 320 370.3 320.2 373.4 320.5 371 320.8 371.2 321 372.2 321.2 370.3 321.5 371.4 321.8 372.7 322 370.6 322.2 371.3 322.5 371.8 322.8 370.9 323 370.8 323.2 371.6 323.5 371 323.8 372.9 324 371.8 324.2 376 324.5 376.4 324.8 379.5 325 383.8 325.2 384.4 325.5 385.6 325.8 385.5 326 387.2 326.2 386.9 326.5 389 326.8 388.8 327 386.7 327.2 384.8 327.5 386.6 327.8 383.6 328 383.6 328.2 382.3 328.5 380.1 328.8 383 329 376.5 329.2 379.7 329.5 377 329.7 377.9 330 376.2 330.2 381.2 330.5 381.2 330.7 384.8 331 381.2 331.2 384.6 331.5 386.3 331.7 386.8 332 385.2 332.2 390.4 332.5 389.6 332.7 390.6 333 390.5 333.2 392 333.5 392.5 333.7 391.5 334 392.3 334.2 391 334.5 392.7 334.7 391.6 335 388.4 335.2 387.9 335.5 386.8 335.7 388.2 336 386.7 336.2 388.3 336.5 384.6 336.7 386.9 337 387.3 337.2 385.5 337.5 382.7 337.7 385 338 384.4 338.2 383.2 338.5 382.2 338.7 379.8 339 380.8 339.2 382.3 339.5 381.3 339.7 381.8 340 380 340.2 380 340.5 384.3 340.8 382.4 341 383.6 341.2 383.4 341.5 385.9 341.8 384.4 342 386.9 342.2 389.2 342.5 389.7 342.8 391.6 343 390.5 343.2 391.2 343.5 391.8 343.7 392.3 344 392.6 344.2 391.4 344.5 391.8 344.7 390 345 389.9 345.2 389.8 345.5 390.5 345.7 391.7 346 390 346.2 391.2 346.5 391.9 346.7 392 346.9 392.9 347.2 394.7 347.4 394.7 347.7 395.6 347.9 396.1 348.2 397.7 348.4 400.4 348.7 401.2 348.9 400.9 349.2 402.5 349.4 404.9 349.7 405.5 349.9 405 350.2 406.2 350.4 405.8 350.7 406.2 350.9 407.9 351.2 404.8 351.4 407.4 351.7 407.6 351.9 405.8 352.2 408 352.4 407.2 352.7 406.7 352.9 409.2 353.2 408.2 353.4 406.7 353.7 408.1 353.9 408.8 354.2 408.5 354.4 409.5 354.7 410.7 354.9 411.1 355.2 410.6 355.4 412.2 355.7 411.8 355.9 412.5 356.2 413.2 356.4 414.1 356.7 414 356.9 415.1 357.2 415.2 357.5 415.2 357.7 413.9 358 414.2 358.2 413.4 358.5 411.8 358.7 411.4 359 410.1 359.2 410.2 359.5 410 359.8 409.7 360 410.5 360.2 410.5 360.5 411.2 360.8 410.9 361 410.3 361.2 411.8 361.5 410.8 361.8 411.3 362 412 362.2 412.8 362.5 412.1 362.8 412.1 363 412.7 363.2 412.9 363.5 412.8 363.8 414 364 413" fill="none" stroke="#d62728" stroke-width="1.3" stroke-linejoin="round" clip-path="url(#c4)"/>
<text transform="translate(35 400.2) scale(0.720 1)" font-family="Liberation Sans" font-size="22" text-anchor="end" fill="#505050" stroke="#505050" stroke-width="0.28">100</text>
<text transform="translate(35 358.7) scale(0.720 1)" font-family="Liberation Sans" font-size="22" text-anchor="end" fill="#505050" stroke="#505050" stroke-width="0.28">200</text>
<text transform="translate(35 317.4) scale(0.720 1)" font-family="Liberation Sans" font-size="22" text-anchor="end" fill="#505050" stroke="#505050" stroke-width="0.28">300</text>
<text transform="translate(35 276.2) scale(0.720 1)" font-family="Liberation Sans" font-size="22" text-anchor="end" fill="#505050" stroke="#505050" stroke-width="0.28">400</text>
<text transform="translate(77.4 454.9) scale(0.720 1)" font-family="Liberation Sans" font-size="22" text-anchor="middle" fill="#505050" stroke="#505050" stroke-width="0.28">2019</text>
<text transform="translate(158.3 454.9) scale(0.720 1)" font-family="Liberation Sans" font-size="22" text-anchor="middle" fill="#505050" stroke="#505050" stroke-width="0.28">2020</text>
<text transform="translate(239.5 454.9) scale(0.720 1)" font-family="Liberation Sans" font-size="22" text-anchor="middle" fill="#505050" stroke="#505050" stroke-width="0.28">2021</text>
<text transform="translate(320.5 454.9) scale(0.720 1)" font-family="Liberation Sans" font-size="22" text-anchor="middle" fill="#505050" stroke="#505050" stroke-width="0.28">2022</text>
<rect x="407.3" y="265" width="306.7" height="167.5" fill="#E5ECF6"/>
<path d="M407.3 391.9H714" stroke="#d4d4d4" stroke-width="1.7"/>
<path d="M407.3 347.2H714" stroke="#d4d4d4" stroke-width="1.7"/>
<path d="M407.3 302.6H714" stroke="#d4d4d4" stroke-width="1.7"/>
<path d="M408 393 408.2 392.9 408.5 391.3 408.7 391.3 409 391.1 409.2 392 409.4 392.2 409.7 391.3 409.9 390.7 410.2 391.1 410.4 391.4 410.7 393.4 410.9 394.4 411.2 396 411.4 393.7 411.7 393.2 411.9 396.6 412.2 392.4 412.4 395.4 412.7 396.2 412.9 397.8 413.2 399.7 413.4 401.6 413.7 401 413.9 400.9 414.2 402.4 414.4 404.8 414.7 405 414.9 406.1 415.2 407.8 415.4 408.5 415.7 410.2 415.9 412 416.2 410.1 416.4 410.6 416.7 410.6 417 407.8 417.2 408.1 417.5 405.7 417.7 409 418 407 418.2 407.1 418.5 407.3 418.7 405.2 418.9 404.9 419.2 405.9 419.4 409.2 419.7 407.3 419.9 407.2 420.2 408.9 420.4 408.4 420.7 409 420.9 410.9 421.2 410.3 421.4 410.9 421.7 410.3 421.9 412.1 422.2 412.8 422.5 411.4 422.7 408 423 407.5 423.3 405.4 423.5 405.5 423.8 402.5 424.1 399.3 424.3 397.7 424.6 393.6 424.9 387.8 425.1 387.4 425.4 385 425.6 386.4 425.9 387.1 426.1 387.8 426.4 385.9 426.6 386.3 426.8 392.3 427.1 392.7 427.3 391.2 427.6 392.5 427.8 394.6 428.1 396.6 428.3 400.7 428.6 403.3 428.9 403.5 429.1 400.3 429.4 398.7 429.7 400.5 429.9 395.1 430.2 395.4 430.5 394.6 430.7 392.3 431 392.2 431.2 392.6 431.5 393.7 431.8 392.3 432 388.4 432.3 387.9 432.5 388.7 432.8 388.3 433 388.7 433.3 388.2 433.5 387.5 433.8 389.9 434 390 434.3 391.9 434.5 389.6 434.7 389.6 435 389 435.2 390.2 435.5 392 435.7 392.2 435.9 396.1 436.2 396 436.4 396.3 436.7 397.4 436.9 400.2 437.1 401.3 437.4 402.5 437.6 401.6 437.9 402.8 438.1 404 438.4 403.7 438.6 404.7 438.9 408.1 439.1 405.9 439.4 405.7 439.6 406.1 439.9 407.7 440.2 408.1 440.4 410 440.7 410.1 440.9 409.8 441.2 411.2 441.4 409.7 441.7 408 441.9 406.6 442.2 406.8 442.4 405 442.6 403.5 442.9 404.2 443.1 404.5 443.4 402.2 443.6 402.5 443.9 403.4 444.1 403.3 444.4 403.3 444.6 404.2 444.9 403.8 445.1 404 445.4 405.4 445.6 404.2 445.9 405.6 446.1 405 446.4 405 446.6 407 446.9 407.2 447.1 408.4 447.4 406.7 447.6 408 447.8 408.7 448.1 408.2 448.3 407.8 448.6 410.4 448.8 410.6 449.1 409.1 449.3 408.7 449.6 408.9 449.8 409.3 450.1 412 450.3 411.4 450.6 410.5 450.8 410.3 451.1 411.5 451.3 410.3 451.6 410.4 451.8 411.3 452.1 411.5 452.3 411.2 452.5 411.7 452.8 411.3 453 411 453.3 411.5 453.5 410.3 453.8 410 454 411.4 454.3 410.8 454.5 411.9 454.8 412.4 455 411.2 455.3 411.1 455.5 412.3 455.7 410.9 456 411.5 456.2 409.8 456.5 409.8 456.7 409.7 457 409.5 457.2 409.1 457.5 408.3 457.7 409.3 458 409.2 458.2 410.3 458.5 409 458.7 408.8 458.9 410.8 459.2 409.4 459.4 409.6 459.7 409.3 459.9 410.7 460.2 409.1 460.4 409.2 460.7 409.3 460.9 409.4 461.2 408.5 461.4 409.2 461.7 408.7 461.9 408.7 462.2 408.3 462.4 408.7 462.7 409.7 462.9 408 463.2 408.4 463.4 408.8 463.7 408.7 463.9 406.8 464.2 406.5 464.5 405.7 464.7 405.9 465 404.9 465.2 405.2 465.5 404.9 465.7 405.6 466 406.8 466.2 406.9 466.5 408 466.7 407.4 467 408.7 467.2 410 467.5 407.9 467.7 406.6 468 409.5 468.2 407.5 468.5 407 468.7 406.6 469 409.5 469.2 410.6 469.5 410.5 469.7 410.4 469.9 409.7 470.2 411.2 470.4 409.9 470.7 410.3 470.9 410 471.1 408.8 471.4 410.3 471.6 410.6 471.9 409.5 472.1 409.6 472.4 404.9 472.6 400.5 472.9 396.2 473.1 397.5 473.4 398.5 473.6 399.1 473.9 398.9 474.1 398.3 474.4 397.9 474.6 399 474.9 398.1 475.1 399.2 475.4 401.9 475.6 401 475.9 400.9 476.1 401 476.3 400.8 476.6 401.4 476.8 400.6 477.1 399.6 477.3 400.9 477.6 401 477.8 402 478.1 401.7 478.3 400.4 478.6 399 478.8 399.4 479.1 399.8 479.3 399.2 479.6 398.5 479.8 396.3 480.1 397.4 480.3 396.9 480.6 396.8 480.8 394.6 481 394 481.3 394.1 481.5 397.2 481.8 395.9 482 395.6 482.3 398.5 482.5 397.2 482.8 399.6 483 402.4 483.3 400 483.5 402 483.8 402.4 484 402.5 484.2 403.9 484.5 405.2 484.7 403.2 485 404.9 485.2 405.8 485.4 406 485.7 407.1 485.9 407.3 486.2 408.1 486.4 408.8 486.6 408.4 486.9 410.2 487.1 410.4 487.4 408.7 487.6 408.8 487.9 408.6 488.1 408.1 488.4 409.7 488.6 410.2 488.8 408.6 489.1 409.3 489.3 408.8 489.6 408.6 489.8 409.1 490.1 408.1 490.3 408.8 490.5 408.9 490.8 409.8 491 410.6 491.3 409.2 491.5 410.6 491.8 410.6 492 411.4 492.3 411.2 492.5 411.5 492.8 411.9 493 412.5 493.3 412.4 493.5 412.8 493.7 411.3 494 411.5 494.2 412 494.5 412.7 494.7 411.7 495 411.9 495.2 411.5 495.5 412.1 495.7 412.3 496 411.4 496.2 411.8 496.5 412.2 496.7 411.9 497 411.5 497.2 411.5 497.5 411.5 497.7 412.3 498 412.1 498.2 412 498.5 410.9 498.7 408.7 499 408.8 499.3 411.2 499.5 412.7 499.8 413.2 500.1 412.9 500.3 415.2 500.6 415 500.9 414.4 501.1 414.3 501.4 414.8 501.6 412.9 501.9 412.9 502.1 413.7 502.4 413.2 502.6 412.6 502.9 411.5 503.1 412.6 503.4 412 503.6 411.9 503.9 409.1 504.1 410.1 504.4 408.9 504.6 409.6 504.8 409.5 505.1 410.5 505.3 409.5 505.6 409 505.8 411 506.1 409.1 506.3 409.2 506.6 410.7 506.8 412 507.1 411.4 507.3 409.6 507.6 410.6 507.8 410.7 508.1 410.9 508.3 410.5 508.6 410.5 508.8 410.6 509.1 410.2 509.3 409.6 509.5 409.7 509.8 410.6 510 411.2 510.3 411.8 510.5 410.1 510.8 413 511 410.3 511.3 411.9 511.5 411.8 511.8 412 512 412.7 512.3 412.2 512.5 413.7 512.8 414.2 513 414 513.3 414.9 513.5 414.5 513.8 414 514 416 514.2 416.6 514.5 416.8 514.8 416.8 515 416.2 515.2 415.5 515.5 417.3 515.8 417 516 417.3 516.2 417.5 516.5 417.3 516.8 417.9 517 417.7 517.2 418.8 517.5 419.2 517.8 419.1 518 419.9 518.3 419.9 518.5 418.5 518.8 419.8 519 419.7 519.3 418.8 519.5 417.8 519.8 420.5 520 419.2 520.3 418 520.5 419.9 520.8 419.7 521.1 417.4 521.3 419.1 521.6 418.1 521.8 417.9 522.1 416.8 522.3 417.4 522.6 416.9 522.8 417 523.1 416.5 523.3 416 523.6 416.7 523.8 417.6 524.1 416 524.3 417.5 524.6 417.1 524.8 417.6 525.1 417.2 525.3 415.8 525.6 416 525.8 416.1 526.1 414.5 526.3 413.9 526.6 413.5 526.8 414.4 527.1 412.9 527.3 413.4 527.6 414 527.8 414.7 528.1 413.9 528.3 413.6 528.6 413 528.8 411 529.1 410.9 529.4 407.5 529.6 406.6 529.9 407.2 530.2 407.8 530.4 407.2 530.7 412.3 530.9 410 531.2 411.1 531.5 412.4 531.7 412.6 532 413.3 532.2 412.4 532.5 413.6 532.7 412.8 533 414.4 533.2 415.9 533.5 416.7 533.8 417.3 534 417.4 534.2 418.5 534.5 419.8 534.8 420.5 535 420.9 535.2 422.7 535.5 423 535.8 422.7 536 422.3 536.2 422.4 536.5 421.4 536.8 421.3 537 421.4 537.2 421.7 537.5 421.5 537.8 422.2 538 421.5 538.2 421.4 538.5 421 538.8 420.2 539 420.9 539.2 421.2 539.5 419.5 539.8 420.6 540 420.1 540.2 420 540.5 419.1 540.8 419.2 541 419 541.2 419.1 541.5 419 541.7 418.3 542 417.9 542.2 416.8 542.5 417.6 542.7 418.1 543 418.2 543.2 417.3 543.5 417.8 543.7 419.1 544 418.1 544.2 418.2 544.5 417.9 544.7 418.6 545 416.8 545.2 417.9 545.5 418 545.7 417.5 546 416.9 546.2 418 546.5 417.9 546.7 417.8 547 418 547.2 418.3 547.5 417.1 547.7 418 548 417.1 548.2 417.7 548.5 418 548.7 418 549 418.4 549.2 417.5 549.5 418.6 549.7 419.6 550 419.2 550.2 420.3 550.5 418.6 550.7 418.6 551 418.7 551.2 418.9 551.5 418.7 551.7 418.8 552 419 552.2 420 552.5 419.7 552.8 420.4 553 419.8 553.2 419.4 553.5 419.6 553.8 419.5 554 419 554.2 418.7 554.5 420.4 554.8 420.2 555 419.1 555.2 419.6 555.5 420.3 555.8 420.1 556 419.4 556.2 419.3 556.5 420.6 556.8 421.1 557 421.4 557.2 421.3 557.5 420.5 557.8 421.3 558 421.4 558.2 421 558.5 420.8 558.7 420.3 559 421.2 559.2 420.8 559.5 421.3 559.7 420.4 560 420.5 560.2 419.8 560.5 418.9 560.7 419.9 561 419.4 561.2 419.1 561.5 419.1 561.7 418.1 562 418.5 562.2 418 562.5 418.6 562.7 418 562.9 416.9 563.2 416.4 563.4 416.8 563.7 414.7 563.9 413.2 564.2 412.8 564.4 411.9 564.6 411.1 564.9 410.4 565.1 409.2 565.4 408.8 565.6 409.4 565.8 409.8 566.1 408.9 566.3 408.8 566.6 409.3 566.8 409.9 567.1 409.3 567.3 409.6 567.6 409.8 567.8 410.2 568 409.6 568.3 409.6 568.5 408.9 568.8 411.2 569 409.7 569.3 410.3 569.5 409.9 569.8 410.8 570 410.4 570.3 410.4 570.5 410.1 570.7 412.3 571 410.9 571.2 411.7 571.5 412.3 571.7 412.5 572 413.8 572.2 414.2 572.5 414.6 572.7 415.1 573 414.9 573.2 414.3 573.5 415.4 573.7 414.6 574 413.7 574.2 413.7 574.5 414.1 574.7 413.7 575 414.2 575.2 414.1 575.5 413.4 575.8 413 576 414 576.3 413.2 576.5 413.4 576.8 413.1 577 413.5 577.3 413.4 577.5 413.4 577.8 412.9 578 414 578.3 413.7 578.5 413.3 578.8 413.8 579 413.2 579.3 413.3 579.5 413.2 579.8 413.1 580 413.6 580.3 413.1 580.5 413 580.8 413.8 581 412.9 581.3 413.1 581.5 413 581.7 413.3 582 414.1 582.2 414.7 582.5 414.4 582.7 414.1 583 415.2 583.2 415 583.5 414.7 583.7 414.9 584 413.7 584.2 414.2 584.5 414.7 584.7 414.4 584.9 412.4 585.2 413.3 585.4 412.4 585.7 411.5 585.9 410.2 586.1 409.7 586.4 409.4 586.6 407.8 586.9 406.9 587.1 407.3 587.4 400.5 587.7 391.7 587.9 383.2 588.2 375.4 588.4 377.8 588.7 377.3 588.9 376.3 589.2 380.8 589.4 381.1 589.7 381.6 589.9 381 590.2 383.8 590.4 383.2 590.7 383.1 590.9 385 591.2 383.2 591.5 382.4 591.7 382.5 592 385.5 592.2 386.7 592.5 384.6 592.7 389.1 593 388.8 593.2 391.5 593.4 398.2 593.7 399 593.9 401.6 594.2 403.1 594.4 405.3 594.7 407.7 595 406.9 595.2 410.3 595.5 411.4 595.7 414.4 596 416.5 596.2 415.9 596.5 415.3 596.7 415.6 597 414.7 597.2 414 597.5 412.7 597.7 410.4 598 409.2 598.2 408.7 598.5 409.4 598.7 410.9 599 409.6 599.2 411.7 599.5 409.6 599.7 410.5 600 410.3 600.2 411.4 600.5 411.7 600.7 412 601 412.8 601.2 412.4 601.5 412 601.7 413 601.9 411.3 602.2 407 602.4 404.3 602.6 402.4 602.9 398.4 603.1 394.6 603.4 392.3 603.6 391.8 603.9 387.3 604.2 386.4 604.4 384.9 604.7 382.5 604.9 383.2 605.2 381.1 605.4 380.7 605.7 380.5 605.9 383.7 606.2 387.8 606.4 388 606.7 391.4 606.9 391.6 607.1 392.9 607.4 393.3 607.6 393.7 607.9 395 608.1 399.5 608.4 396.9 608.6 397.6 608.9 396.2 609.1 398 609.4 394.8 609.6 393.8 609.9 394.1 610.1 395.7 610.4 393.1 610.6 394.2 610.9 393.9 611.2 392.6 611.4 393.4 611.7 393.6 612 393 612.2 393.6 612.5 394.2 612.7 393.6 613 393.1 613.2 391.6 613.5 391.3 613.7 388.4 614 387.8 614.2 385.1 614.5 382.9 614.7 382.4 615 383.9 615.2 381.8 615.5 363.2 615.8 346.9 616 329.1 616.3 313.8 616.5 307.7 616.8 299.8 617 292.9 617.2 286.7 617.5 280.1 617.7 273.5 617.9 281.1 618.2 291.3 618.4 305.3 618.7 311.7 618.9 323.4 619.2 334.9 619.4 343.6 619.6 333 619.9 326.3 620.1 311.1 620.3 308.1 620.6 301.3 620.8 289.7 621 290 621.3 291.6 621.5 294.9 621.8 296.7 622 301.2 622.2 302.1 622.5 303.6 622.7 308.5 623 312.6 623.2 313.8 623.5 319.7 623.7 322.3 623.9 317.6 624.2 311.2 624.4 311.1 624.6 304.5 624.9 301.9 625.1 295.4 625.3 317.3 625.6 340.7 625.8 364.8 626.1 364.2 626.3 360.3 626.6 360.8 626.8 355.4 627.1 354.6 627.4 350.5 627.6 346.6 627.9 343.6 628.2 346.8 628.4 349.1 628.7 353.1 629 352.5 629.2 356.5 629.5 355.1 629.7 359.6 630 357.7 630.2 361 630.5 367.7 630.7 367.5 631 372.2 631.2 377.2 631.4 376.9 631.7 384 631.9 387.5 632.1 387.5 632.4 384 632.6 380.9 632.9 381.1 633.1 378.4 633.3 377.3 633.6 377 633.8 377.7 634.1 376.8 634.3 374.7 634.5 374.3 634.8 375.9 635 380.2 635.3 380.9 635.5 379.8 635.8 382.1 636 380.5 636.3 383.6 636.5 383.5 636.8 385.6 637 383 637.3 386.3 637.5 388.2 637.8 388.9 638 388.6 638.3 385.2 638.5 385.7 638.8 383 639 385 639.2 377.9 639.5 378.5 639.7 372.9 640 374.8 640.2 373.7 640.5 369.6 640.7 369 640.9 365.4 641.2 359.3 641.4 357.6 641.6 353.9 641.9 353.7 642.1 349.2 642.4 347.2 642.7 338.9 642.9 333.2 643.2 323 643.4 326 643.7 330 643.9 325.9 644.2 327 644.4 330.6 644.6 330.4 644.9 334.1 645.1 332.9 645.4 337 645.6 339.3 645.9 336.8 646.1 334.1 646.4 327.2 646.7 325.9 646.9 321.6 647.2 318.8 647.4 317.8 647.7 313.1 648 315.3 648.2 324.6 648.5 327.5 648.7 329.8 649 333.9 649.2 339.3 649.5 340.9 649.7 345.7 650 345.7 650.3 348.4 650.5 355.4 650.8 359.2 651.1 356.3 651.3 353.4 651.6 352.7 651.8 351 652.1 349 652.3 344.1 652.6 341.9 652.8 341 653.1 337.8 653.3 335.6 653.6 337.3 653.8 334.4 654.1 333.7 654.4 333.4 654.6 333.3 654.9 335.8 655.1 339 655.4 342.5 655.6 337.8 655.9 338.8 656.1 340.3 656.4 336.4 656.6 340.3 656.9 339.5 657.1 342.8 657.4 346.2 657.6 347.7 657.9 348.7 658.1 346.4 658.4 346.4 658.6 342.7 658.9 343.2 659.1 343.1 659.4 336.7 659.6 332.9 659.8 332.6 660.1 330.8 660.3 328.3 660.6 324.1 660.8 323 661 324.6 661.3 325.1 661.5 326.1 661.8 330.9 662 330.5 662.3 331.7 662.5 334.3 662.8 337.3 663 336.1 663.3 339.3 663.6 339 663.8 342 664.1 341.6 664.3 342.8 664.6 343.6 664.8 344.3 665.1 347.3 665.3 348.4 665.6 342.9 665.8 347.6 666.1 348.5 666.3 349.4 666.6 353 666.8 351.9 667.1 351.8 667.3 355 667.5 358.4 667.8 359.1 668 358.9 668.3 361.8 668.5 362.6 668.8 364.5 669 364.8 669.3 361.7 669.5 361.7 669.8 360 670 359.7 670.3 355.9 670.6 355.9 670.8 353.2 671.1 349.2 671.4 349.3 671.6 351.9 671.9 356.6 672.1 354 672.4 357.3 672.6 357.8 672.9 357.3 673.1 357.4 673.4 358.1 673.6 360.7 673.9 360.3 674.1 364.5 674.4 362.1 674.6 364.8 674.9 366.1 675.1 367.4 675.4 369.2 675.6 369.7 675.9 370.9 676.1 370.9 676.4 373.1 676.7 372.1 676.9 372.5 677.2 374.3 677.4 379.2 677.7 378.5 677.9 380.9 678.2 382.5 678.5 379.4 678.7 379.8 679 374.4 679.2 372.3 679.5 371.3 679.7 369.1 680 366.6 680.2 366.7 680.5 361.3 680.7 360.5 681 359.9 681.2 359.5 681.5 362.8 681.7 362.7 682 362.4 682.2 367.2 682.5 366.9 682.7 369.5 682.9 370.4 683.2 374.9 683.4 371 683.7 374.4 683.9 372.6 684.1 372.5 684.4 375.6 684.6 373.5 684.9 372.8 685.1 374 685.4 375.3 685.6 372.9 685.9 370.3 686.1 370.9 686.4 372.5 686.6 368.3 686.9 370.5 687.1 372.2 687.4 368.5 687.6 368.9 687.9 370.4 688.1 367.3 688.4 367.8 688.6 366.9 688.9 367.4 689.1 364.6 689.4 363.3 689.6 367.1 689.9 362.3 690.1 360.5 690.4 363.7 690.6 360.9 690.9 360.6 691.1 363.5 691.4 360.2 691.6 363.8 691.9 365.1 692.1 364.8 692.3 365.6 692.6 367.3 692.8 368 693.1 369.3 693.3 370.8 693.6 373.6 693.8 371.9 694.1 372.6 694.3 371.8 694.6 370.2 694.8 368.5 695.1 369.5 695.4 370 695.6 368.7 695.9 368.4 696.2 372.1 696.4 373.1 696.7 373.3 696.9 372.2 697.2 377.2 697.4 378 697.7 380 697.9 379.1 698.2 380.8 698.4 380.7 698.7 383.2 698.9 384 699.2 384.2 699.4 389.7 699.6 392.8 699.9 395.6 700.1 400.2 700.4 400.1 700.6 401.9 700.9 400.8 701.1 400.7 701.4 399.5 701.6 399.8 701.9 399.9 702.1 400.4 702.4 401.4 702.6 399.7 702.9 401.4 703.1 399.6 703.4 400.7 703.6 399.8 703.9 401.7 704.1 402.5 704.4 400.2 704.7 400.4 704.9 401.6 705.2 402.8 705.4 403.7 705.7 403.5 705.9 403.5 706.2 406.4 706.4 405.9 706.7 408.8 706.9 407.6 707.2 408.7 707.4 408.8 707.7 408.2 707.9 409 708.2 407.9 708.4 409.3 708.7 409 708.9 407.9 709.2 406.6 709.4 407.5 709.7 407.1 709.9 407.3 710.2 407.9 710.4 406.2 710.7 408.9 710.9 407.8 711.2 407.2 711.4 407 711.7 408.3 711.9 407.8 712.2 406.5 712.4 406.6 712.7 407.5 712.9 406.6" fill="none" stroke="#9467bd" stroke-width="1.3" stroke-linejoin="round" clip-path="url(#c5)"/>
<text transform="translate(405.3 399.8) scale(0.720 1)" font-family="Liberation Sans" font-size="22" text-anchor="end" fill="#505050" stroke="#505050" stroke-width="0.28">0.5</text>
<text transform="translate(405.3 355.1) scale(0.720 1)" font-family="Liberation Sans" font-size="22" text-anchor="end" fill="#505050" stroke="#505050" stroke-width="0.28">1</text>
<text transform="translate(405.3 310.5) scale(0.720 1)" font-family="Liberation Sans" font-size="22" text-anchor="end" fill="#505050" stroke="#505050" stroke-width="0.28">1.5</text>
<text transform="translate(445.2 454.9) scale(0.720 1)" font-family="Liberation Sans" font-size="22" text-anchor="middle" fill="#505050" stroke="#505050" stroke-width="0.28">2019</text>
<text transform="translate(521.1 454.9) scale(0.720 1)" font-family="Liberation Sans" font-size="22" text-anchor="middle" fill="#505050" stroke="#505050" stroke-width="0.28">2020</text>
<text transform="translate(597.3 454.9) scale(0.720 1)" font-family="Liberation Sans" font-size="22" text-anchor="middle" fill="#505050" stroke="#505050" stroke-width="0.28">2021</text>
<text transform="translate(673.2 454.9) scale(0.720 1)" font-family="Liberation Sans" font-size="22" text-anchor="middle" fill="#505050" stroke="#505050" stroke-width="0.28">2022</text>
<rect x="755.8" y="265" width="327.5" height="167.5" fill="#E5ECF6"/>
<path d="M755.8 371.6H1083.3" stroke="#d4d4d4" stroke-width="1.7"/>
<path d="M755.8 318.6H1083.3" stroke="#d4d4d4" stroke-width="1.7"/>
<path d="M755.8 424.2H1083.3" stroke="#626468" stroke-width="2"/>
<path d="M756.5 422.5 756.8 422.6 757 422.4 757.2 422.2 757.5 422.3 757.8 422.5 758 422.6 758.2 422.3 758.5 422.3 758.8 422.2 759 422.3 759.2 422.3 759.5 422.7 759.8 422.6 760 422.4 760.2 422.2 760.5 422.3 760.8 422.5 761 422.6 761.2 422.6 761.5 422.4 761.8 422.5 762 422.3 762.2 422.4 762.5 422.3 762.8 422.6 763 422.7 763.2 422.7 763.5 422.5 763.8 422.6 764 422.8 764.2 422.7 764.5 422.6 764.8 422.7 765 422.8 765.2 422.8 765.5 423 765.8 422.8 766 423.1 766.2 423.2 766.5 423.2 766.8 423.1 767 422.9 767.2 423.1 767.5 422.7 767.8 422.8 768 422.9 768.2 422.7 768.5 422.8 768.8 422.7 769 422.7 769.2 422.8 769.5 422.7 769.8 422.9 770 423 770.2 423.1 770.5 423.1 770.8 423.1 771 422.9 771.2 423 771.5 423.1 771.8 423 772 422.7 772.2 422.5 772.5 422.6 772.8 422.5 773 422.5 773.2 422.3 773.5 422.2 773.8 422.3 774 422.3 774.2 422.4 774.5 422.5 774.8 422.4 775 422.5 775.2 422.4 775.5 422.3 775.8 422.3 776 422.4 776.2 422.5 776.5 422.3 776.8 422.6 777 422.6 777.2 422.6 777.5 422.6 777.8 422.9 778 422.8 778.2 422.8 778.5 422.8 778.8 422.5 779 422.4 779.2 422.4 779.5 422.4 779.8 422.6 780 422.6 780.2 422.7 780.5 422.7 780.8 422.7 781 422.5 781.2 422.6 781.5 422.5 781.8 422.9 782 422.4 782.2 422.5 782.5 422.4 782.8 422.2 783 422.4 783.2 422.5 783.5 422.7 783.8 422.7 784 423.1 784.2 422.9 784.5 423 784.8 422.9 785 422.9 785.2 422.6 785.5 422.8 785.8 423 786 423.1 786.2 423 786.5 423.1 786.8 422.9 787 422.9 787.2 423 787.5 423.2 787.8 423.3 788 423.4 788.2 423.4 788.5 423.4 788.8 423.4 789 423.5 789.2 423.4 789.5 423.5 789.8 423.5 790 423.5 790.2 423.5 790.5 423.5 790.8 423.7 791 423.6 791.2 423.5 791.5 423.4 791.8 423.2 792 423.2 792.2 423.1 792.5 423.1 792.8 423.2 793 423.1 793.2 423.1 793.5 423.1 793.8 422.9 794 422.9 794.2 422.9 794.5 422.7 794.8 423 795 422.9 795.2 422.8 795.5 422.8 795.8 422.7 796 422.8 796.2 423 796.5 423 796.8 423.2 797 423.4 797.2 423.7 797.5 423.7 797.8 423.9 798 423.8 798.2 423.9 798.5 423.8 798.8 423.8 799 423.8 799.2 423.8 799.5 423.8 799.8 423.8 800 423.8 800.2 424 800.5 423.9 800.8 423.9 801 423.9 801.2 423.9 801.5 423.8 801.8 423.6 802 423.6 802.2 423.6 802.5 423.5 802.8 423.5 803 423.8 803.2 423.6 803.5 423.2 803.8 423.2 804 422.9 804.2 422.9 804.5 422.7 804.8 422.8 805 422.9 805.2 423 805.5 422.8 805.8 422.6 806 422.4 806.2 422.2 806.5 422.3 806.8 422.3 807 422.5 807.2 422.5 807.5 422.5 807.8 422.4 808 422.3 808.2 422.3 808.5 422.2 808.8 422 809 422.3 809.2 422.5 809.5 422.4 809.8 422.2 810 422.3 810.2 422.3 810.5 422.2 810.8 421.8 811 422.1 811.2 422.1 811.5 421.8 811.8 421.9 812 421.9 812.2 422 812.5 422 812.8 421.9 813 422.3 813.2 422.2 813.5 422.4 813.8 422.5 814 422.4 814.2 422.3 814.5 422.4 814.8 422.4 815 422.1 815.2 422 815.5 422 815.8 422 816 421.8 816.2 421.8 816.5 421.9 816.8 422.1 817 422 817.2 422 817.5 422.1 817.8 422.4 818 422.2 818.2 422.3 818.5 422.4 818.8 422.5 819 422.4 819.2 422.5 819.5 422.5 819.8 422.6 820 422.6 820.2 422.5 820.5 422.6 820.8 422.6 821 422.8 821.2 422.7 821.5 422.6 821.8 422.6 822 422.6 822.2 422.6 822.5 422.8 822.8 422.5 823 422.8 823.2 423 823.5 422.7 823.8 422.7 824 422.6 824.2 422.3 824.5 422.3 824.8 422.5 825 422.3 825.2 422.4 825.5 422.5 825.8 422.1 826 422.3 826.2 422.3 826.5 422.5 826.8 422.3 827 422.1 827.2 422.1 827.5 422.2 827.8 422.1 828 422 828.2 422.2 828.5 422.2 828.8 422.3 829 422.2 829.2 422.2 829.5 422.4 829.8 422.3 830 422.5 830.2 422.5 830.5 422.5 830.8 422.5 831 422.7 831.2 422.5 831.5 422.3 831.8 422.2 832 422.2 832.2 422.2 832.5 422.1 832.8 422.1 833 422.1 833.2 422 833.5 422.1 833.8 422.1 834 422.3 834.2 422.1 834.5 422 834.8 421.9 835 421.7 835.2 421.9 835.5 422.1 835.8 422.1 836 422 836.2 421.7 836.5 422 836.8 422.1 837 422.2 837.2 422.4 837.5 422.4 837.8 422.1 838 422.1 838.2 422.3 838.5 422.4 838.8 421.9 839 422.2 839.2 422 839.5 422.2 839.8 422.2 840 422.2 840.2 422.2 840.5 422.2 840.8 422.2 841 422.3 841.2 422.4 841.5 422.5 841.8 422.3 842 422.4 842.2 422.3 842.5 422.2 842.8 422.1 843 422.2 843.2 422.3 843.5 422 843.8 422 844 422 844.2 422 844.5 422 844.8 422 845 421.9 845.2 422.2 845.5 422.2 845.8 422.2 846 422 846.2 422 846.5 422 846.8 422.2 847 422.1 847.2 422 847.5 421.8 847.8 421.7 848 421.4 848.2 421.6 848.5 421.7 848.8 421.5 849 421.7 849.2 421.5 849.5 421.7 849.8 421.9 850 421.8 850.2 421.9 850.5 421.8 850.8 421.9 851 421.8 851.2 421.9 851.5 421.7 851.8 421.9 852 421.9 852.2 421.6 852.5 421.5 852.8 421.8 853 421.7 853.2 421.9 853.5 421.8 853.8 421.8 854 421.8 854.2 422.2 854.5 422.1 854.8 421.9 855 421.7 855.2 421.7 855.5 421.6 855.8 421.5 856 421.9 856.2 421.8 856.5 421.8 856.8 421.8 857 421.7 857.2 421.7 857.5 422.2 857.8 422.1 858 422.2 858.2 422.2 858.5 422.3 858.8 422.2 859 422 859.2 422.4 859.5 422.6 859.8 422.4 860 422.5 860.2 422.6 860.5 422.6 860.8 422.7 861 422.8 861.2 422.6 861.5 422.2 861.8 422.3 862 422.3 862.2 422.1 862.5 422.3 862.8 422.3 863 422.6 863.2 422.4 863.5 422.2 863.8 422.5 864 422.6 864.2 422.4 864.5 422.6 864.8 422.6 865 422.7 865.2 422.6 865.5 422.5 865.8 422.5 866 422.4 866.2 422.4 866.5 422.6 866.8 422.5 867 422.7 867.2 422.6 867.5 422.8 867.8 422.6 868 422.7 868.2 422.5 868.5 422.8 868.8 422.9 869 423.2 869.2 423.2 869.5 423.1 869.8 423.1 870 423.3 870.2 423.4 870.5 423.2 870.8 423.3 871 423.2 871.2 423.5 871.5 423.6 871.8 423.6 872 423.6 872.2 423.6 872.5 423.6 872.8 423.7 873 423.7 873.2 423.8 873.5 423.8 873.8 424 874 423.7 874.2 423.7 874.5 423.8 874.8 423.8 875 424 875.2 424 875.5 423.8 875.8 423.8 876 423.8 876.2 423.9 876.5 423.9 876.8 423.8 877 423.6 877.2 423.8 877.5 423.7 877.8 423.9 878 423.9 878.2 423.8 878.5 423.9 878.8 423.6 879 423.4 879.2 423.5 879.5 423.3 879.8 423.1 880 423 880.2 422.7 880.5 422.8 880.8 422.9 881 423.1 881.2 423.2 881.5 423.4 881.8 423.4 882 423.2 882.2 423.1 882.5 423.2 882.8 423 883 423 883.2 423 883.5 423.2 883.8 423.2 884 423.2 884.2 423.2 884.5 423.2 884.8 423.3 885 423.2 885.2 423.3 885.5 423.2 885.8 423.1 886 423.1 886.2 423.5 886.5 423.3 886.8 423.2 887 423.2 887.2 423 887.5 423.2 887.8 423 888 422.9 888.2 423 888.5 423 888.8 423 889 422.9 889.2 423 889.5 423 889.8 422.7 890 422.7 890.2 422.4 890.5 422.6 890.8 422.5 891 422.8 891.2 422.5 891.5 422.5 891.8 422.5 892 422.1 892.2 422 892.5 422 892.8 422 893 422.1 893.2 422.1 893.5 422.3 893.8 422.4 894 422.4 894.2 422.3 894.5 422.5 894.8 422.4 895 422.5 895.2 422.7 895.5 422.6 895.8 422.6 896 423 896.2 423 896.5 423 896.8 423 897 422.8 897.2 423 897.5 423 897.8 423.1 898 423.1 898.2 423.2 898.5 423.4 898.8 423.3 899 423.4 899.2 423.1 899.5 423.1 899.8 422.8 900 422.8 900.2 422.7 900.5 422.8 900.8 422.5 901 422.1 901.2 422.2 901.5 422.2 901.8 422.2 902 422 902.2 422 902.5 421.9 902.8 422 903 421.9 903.2 421.9 903.5 421.5 903.8 421.1 904 421 904.2 421.2 904.5 420.9 904.8 421.1 905 421.5 905.2 421.3 905.5 421.2 905.8 421.2 906 421.2 906.2 421.2 906.5 421.1 906.8 420.8 907 420.9 907.2 420.9 907.5 420.9 907.8 420.7 908 421.1 908.2 421.2 908.5 421.2 908.8 421.4 909 421.3 909.2 420.9 909.5 420.7 909.7 420.4 910 420.8 910.2 420.7 910.5 421 910.7 420.9 911 421.2 911.2 421.7 911.5 421.7 911.7 422.1 912 422.3 912.2 422.1 912.5 422.3 912.7 422.3 913 422.5 913.2 422.4 913.5 422.4 913.7 422.3 914 422.4 914.2 422.3 914.5 422.3 914.7 422.3 915 422.3 915.2 422.4 915.5 422.6 915.7 422.4 916 422.4 916.2 422.3 916.5 422.3 916.7 422 917 422 917.2 422.2 917.5 422.5 917.7 422.4 918 422.4 918.2 422.1 918.5 422.1 918.7 422 919 422.2 919.2 422.3 919.5 422.1 919.7 422.4 920 422.3 920.2 422.2 920.5 422.2 920.7 422.3 921 422.3 921.2 422.5 921.5 422.4 921.7 422.1 922 422 922.2 421.9 922.5 421.7 922.7 421.5 923 421.4 923.2 421.5 923.5 421.5 923.7 421.5 924 421.2 924.2 420.9 924.5 420.8 924.7 420.9 925 420.8 925.2 420.8 925.5 420.8 925.7 420.5 926 420.4 926.2 420 926.5 420 926.7 419.8 927 419.6 927.2 419.5 927.5 419.5 927.7 419.4 928 419.3 928.2 419 928.5 419.1 928.7 419.1 929 419.2 929.2 419.1 929.5 419 929.7 418.6 930 418.7 930.2 418.6 930.5 418.7 930.7 418.4 931 418.5 931.2 418.2 931.5 418.5 931.7 418.3 932 418.7 932.2 418.3 932.5 418.1 932.7 418.2 933 418.2 933.2 418 933.5 417.4 933.7 417.4 934 417.7 934.2 417.9 934.5 417.7 934.7 417.6 935 417.9 935.2 417.2 935.5 417.9 935.8 417.3 936 417.2 936.3 417.7 936.5 417.3 936.8 417 937 416.9 937.3 416.7 937.5 416.3 937.8 416.8 938 416.7 938.3 416.5 938.5 416.8 938.8 416.7 939 417.2 939.3 417.1 939.5 416.7 939.8 417.2 940 417.3 940.3 416.9 940.5 416.9 940.8 416.9 941 417.1 941.2 417.2 941.5 417.3 941.7 417.3 942 417.3 942.2 417.3 942.5 417.2 942.7 417.5 943 417.6 943.2 417.9 943.5 417.7 943.7 417.5 944 417.7 944.2 417.4 944.5 417.7 944.7 417.4 945 417.4 945.2 417 945.5 416.9 945.7 416.8 946 417 946.2 417.2 946.5 416.8 946.7 416.8 947 416.6 947.2 416.1 947.5 416.4 947.7 416.2 948 416.2 948.2 416 948.5 416.2 948.8 416.5 949 416.3 949.3 416.9 949.5 416.8 949.8 417.1 950 417.1 950.3 417.2 950.5 417.2 950.8 417.6 951 417.5 951.3 417.5 951.5 417.3 951.8 417.8 952 417.3 952.3 417.8 952.5 417.1 952.8 417.4 953 416.6 953.3 416.6 953.5 416.9 953.8 416.7 954 416.5 954.3 416.2 954.5 415.5 954.8 415 955 414.5 955.3 413.6 955.5 414.5 955.8 413.8 956 412.1 956.3 412.6 956.5 412.3 956.8 411.9 957 412 957.2 410.8 957.5 409.9 957.7 410 958 407 958.2 405.7 958.4 404.2 958.7 403.3 958.9 401.5 959.2 400.7 959.4 399.3 959.7 399.8 959.9 400.8 960.2 401.7 960.4 399.6 960.7 401.7 960.9 402.4 961.2 400.1 961.4 401.2 961.7 402.5 961.9 402.4 962.2 403.3 962.4 403.4 962.7 403.1 962.9 403.7 963.1 403.6 963.4 403.7 963.6 405.3 963.9 404.5 964.1 404.9 964.3 404.7 964.6 404.4 964.8 402.4 965.1 402 965.3 400.2 965.5 401.1 965.8 398.8 966 400 966.3 399.7 966.5 399.3 966.7 397.8 967 396 967.2 395.5 967.5 395.4 967.7 393.6 968 392.4 968.2 393.4 968.5 390.6 968.7 388.8 969 387.4 969.2 388.8 969.5 386.7 969.7 386.7 970 389.1 970.2 386.9 970.5 389.5 970.7 386.7 971 388.6 971.2 389.1 971.5 391.5 971.7 391 972 391.4 972.3 386.5 972.5 383.5 972.8 383.6 973.1 379 973.3 375.2 973.6 370.8 973.9 364.7 974.1 362.7 974.4 361.6 974.7 355.7 974.9 349.8 975.2 350.2 975.5 345.4 975.7 342.3 976 336 976.3 327.5 976.5 317 976.8 309.8 977.1 301.3 977.3 293.9 977.6 285.3 977.9 290.1 978.1 288.3 978.4 290.7 978.7 292 978.9 296.2 979.2 299.6 979.5 296.9 979.7 295.2 980 295.4 980.2 293.8 980.5 292.3 980.7 291.7 981 290.6 981.2 287.1 981.5 285.3 981.7 276.1 982 273.5 982.2 280.1 982.5 285.1 982.7 295.2 983 301.3 983.2 307.6 983.4 318.3 983.7 324.6 983.9 332.8 984.2 332.2 984.4 326.9 984.7 319.3 985 315.3 985.2 314.1 985.5 307.5 985.8 305.3 986 302.6 986.3 301.9 986.6 299.9 986.8 297.8 987.1 294 987.4 299.3 987.6 298.5 987.9 309.5 988.2 310.8 988.4 317.3 988.7 320.2 988.9 328.3 989.2 337 989.4 343.7 989.7 351.9 989.9 361.3 990.1 359.9 990.4 354.2 990.6 354.2 990.8 349.3 991.1 341.3 991.3 338.7 991.6 332.8 991.8 331.2 992.1 327.2 992.3 328.3 992.6 326 992.9 326.7 993.1 323.6 993.4 323.3 993.7 332.7 993.9 335.2 994.2 342.5 994.5 346.9 994.7 349.5 995 355 995.3 345.3 995.5 332.8 995.8 324.9 996.1 325.2 996.3 334.1 996.6 334.3 996.9 342.4 997.1 347.4 997.4 350.2 997.7 350.7 997.9 350.4 998.2 351.7 998.4 353.9 998.7 353.1 999 355.3 999.2 352.9 999.5 358.4 999.7 353.4 1000 359.3 1000.2 357.2 1000.5 356.6 1000.7 360.5 1001 365.4 1001.2 364.3 1001.5 370.1 1001.7 371.8 1001.9 373.1 1002.2 375.7 1002.4 379.2 1002.7 382.9 1002.9 385 1003.1 384.1 1003.4 379.9 1003.6 376.8 1003.9 375.7 1004.1 372.2 1004.3 370.9 1004.6 369.1 1004.8 365.1 1005.1 362.8 1005.3 361.3 1005.5 363.6 1005.8 359.5 1006 359 1006.3 354.8 1006.5 357.3 1006.8 355.5 1007 354.9 1007.3 356.5 1007.5 354.6 1007.8 353 1008 351.4 1008.3 350.9 1008.5 350.2 1008.8 349.5 1009 348.8 1009.3 350 1009.5 351 1009.8 345 1010 346.9 1010.3 342.8 1010.5 341.6 1010.8 342.3 1011.1 344.1 1011.3 347.1 1011.6 349.2 1011.9 350.3 1012.1 351.3 1012.4 355 1012.7 350.2 1012.9 346.2 1013.2 342.7 1013.5 338.9 1013.7 333 1014 328 1014.3 334 1014.5 335.2 1014.8 338.7 1015.1 340.1 1015.3 348.3 1015.6 351.8 1015.9 353 1016.1 356.3 1016.4 356.8 1016.6 358.3 1016.9 361.8 1017.2 363 1017.4 362.6 1017.7 364 1017.9 368.7 1018.2 369.4 1018.4 370.1 1018.7 374 1018.9 370.5 1019.2 369.6 1019.4 368.4 1019.7 364.7 1019.9 363.3 1020.1 360.7 1020.4 355.2 1020.6 352.4 1020.9 356.1 1021.1 351.8 1021.3 353.8 1021.6 352.7 1021.8 356.6 1022.1 354.6 1022.3 353.2 1022.5 359.7 1022.8 361.1 1023 360.3 1023.3 360.8 1023.5 361.3 1023.7 361.1 1024 357.9 1024.2 354 1024.5 355.3 1024.7 347.3 1024.9 345 1025.2 343.5 1025.4 343.5 1025.7 338.1 1025.9 337.6 1026.2 337 1026.4 340.5 1026.7 337.9 1026.9 343.7 1027.2 342.2 1027.4 345.9 1027.7 343.2 1027.9 345.7 1028.2 345.5 1028.4 348.1 1028.7 350.4 1028.9 347.8 1029.2 349.7 1029.4 353.5 1029.6 351.5 1029.9 354.2 1030.1 352.5 1030.4 354.7 1030.6 358.2 1030.8 360.9 1031.1 360 1031.3 358 1031.6 357.5 1031.8 359.8 1032 359 1032.3 358.6 1032.5 358.4 1032.8 358.8 1033 358.2 1033.2 363.2 1033.5 359.8 1033.7 365.9 1034 369 1034.2 370.9 1034.5 373.6 1034.7 371.4 1035 372.1 1035.2 377.9 1035.5 378.2 1035.7 378.9 1036 382.4 1036.2 383.5 1036.5 384.5 1036.7 381.9 1037 381.1 1037.2 373.5 1037.5 375.3 1037.7 371.8 1038 368.6 1038.2 370.5 1038.5 366.1 1038.7 367.7 1039 369.5 1039.2 370.1 1039.5 370.6 1039.7 373.5 1040 371.3 1040.2 371.8 1040.5 374.5 1040.7 374 1041 377.2 1041.2 379.6 1041.5 379.8 1041.7 380.3 1041.9 384.3 1042.2 382.2 1042.4 386.2 1042.7 385.4 1042.9 387.6 1043.2 388.7 1043.4 389.3 1043.7 390.5 1043.9 392.3 1044.2 393.6 1044.4 392.5 1044.7 395.2 1044.9 396.2 1045.1 395.5 1045.4 396.1 1045.6 394.2 1045.9 391.9 1046.1 389.4 1046.4 389.3 1046.6 389.7 1046.8 385.3 1047.1 387.5 1047.3 381.9 1047.6 382.9 1047.8 383.8 1048.1 381.9 1048.3 381.5 1048.6 381.6 1048.8 380.3 1049 382.3 1049.3 382.6 1049.5 382.3 1049.8 385.6 1050 385.3 1050.3 386.6 1050.5 388.4 1050.8 390.4 1051 390.2 1051.3 393.3 1051.5 394.2 1051.8 395.1 1052 396.2 1052.2 395.4 1052.5 392.8 1052.8 395 1053 392.8 1053.2 392.7 1053.5 394.7 1053.8 392.8 1054 391.3 1054.2 390.1 1054.5 390.5 1054.8 389.3 1055 389.2 1055.2 390.9 1055.5 390.1 1055.8 389.3 1056 389.8 1056.3 390.5 1056.5 388.4 1056.8 386.4 1057 387.1 1057.3 383 1057.5 385.6 1057.8 383.3 1058.1 382.7 1058.3 382.6 1058.6 382.2 1058.8 379.8 1059.1 380.3 1059.3 382.6 1059.6 380.7 1059.8 381.1 1060.1 381.7 1060.3 383.2 1060.6 384.4 1060.8 382.5 1061.1 382.5 1061.3 384 1061.6 387.1 1061.8 388 1062.1 385.4 1062.3 387.5 1062.6 390.3 1062.8 389 1063.1 389.8 1063.3 389.7 1063.6 391.2 1063.8 389.8 1064.1 393 1064.3 393.9 1064.5 393 1064.8 394.2 1065 394.2 1065.3 394 1065.5 396.2 1065.8 397.8 1066 398.5 1066.3 398.5 1066.5 400.6 1066.8 402.5 1067 403.2 1067.3 404.4 1067.6 406.1 1067.8 406.9 1068.1 407.6 1068.3 410 1068.6 410.4 1068.9 410.1 1069.1 410.6 1069.4 410.9 1069.6 410.8 1069.9 410.9 1070.1 410.9 1070.4 410.7 1070.6 410.5 1070.9 411.8 1071.1 410.9 1071.4 410.9 1071.7 410.4 1071.9 411.2 1072.2 410.5 1072.4 411.5 1072.7 411 1072.9 411.5 1073.2 411.1 1073.4 411.8 1073.7 411.7 1073.9 411.2 1074.2 412 1074.4 411.6 1074.7 411.8 1074.9 410.7 1075.2 410.9 1075.4 411.4 1075.7 410.5 1075.9 412.1 1076.2 410.6 1076.4 411.6 1076.7 411.3 1076.9 411.1 1077.2 410.9 1077.4 410.9 1077.7 411 1077.9 411.2 1078.2 410.9 1078.4 410.8 1078.7 410.7 1078.9 410.4 1079.2 410.8 1079.4 410.5 1079.7 410.6 1079.9 411.1 1080.2 410.4 1080.4 411.1 1080.7 410.5 1080.9 411.6 1081.2 411.4 1081.4 411.4 1081.7 411.6 1081.9 412.1 1082.2 410.5 1082.4 411.1 1082.7 411.7 1082.9 411.2" fill="none" stroke="#8c564b" stroke-width="1.3" stroke-linejoin="round" clip-path="url(#c6)"/>
<text transform="translate(753.8 432.1) scale(0.720 1)" font-family="Liberation Sans" font-size="22" text-anchor="end" fill="#505050" stroke="#505050" stroke-width="0.28">0</text>
<text transform="translate(753.8 379.5) scale(0.720 1)" font-family="Liberation Sans" font-size="22" text-anchor="end" fill="#505050" stroke="#505050" stroke-width="0.28">5</text>
<text transform="translate(753.8 326.5) scale(0.720 1)" font-family="Liberation Sans" font-size="22" text-anchor="end" fill="#505050" stroke="#505050" stroke-width="0.28">10</text>
<text transform="translate(753.8 273.1) scale(0.720 1)" font-family="Liberation Sans" font-size="22" text-anchor="end" fill="#505050" stroke="#505050" stroke-width="0.28">15</text>
<text transform="translate(796.2 454.9) scale(0.720 1)" font-family="Liberation Sans" font-size="22" text-anchor="middle" fill="#505050" stroke="#505050" stroke-width="0.28">2019</text>
<text transform="translate(877.3 454.9) scale(0.720 1)" font-family="Liberation Sans" font-size="22" text-anchor="middle" fill="#505050" stroke="#505050" stroke-width="0.28">2020</text>
<text transform="translate(958.7 454.9) scale(0.720 1)" font-family="Liberation Sans" font-size="22" text-anchor="middle" fill="#505050" stroke="#505050" stroke-width="0.28">2021</text>
<text transform="translate(1039.8 454.9) scale(0.720 1)" font-family="Liberation Sans" font-size="22" text-anchor="middle" fill="#505050" stroke="#505050" stroke-width="0.28">2022</text>
<rect x="37" y="456" width="327" height="177.5" fill="#E5ECF6"/>
<path d="M37 593.4H364" stroke="#d4d4d4" stroke-width="1.7"/>
<path d="M37 555H364" stroke="#d4d4d4" stroke-width="1.7"/>
<path d="M37 516.2H364" stroke="#d4d4d4" stroke-width="1.7"/>
<path d="M37 477.8H364" stroke="#d4d4d4" stroke-width="1.7"/>
<path d="M37 632H364" stroke="#626468" stroke-width="2"/>
<path d="M37 556.7 37.2 580.2 37.5 605 37.7 602.4 38 597.9 38.2 594.6 38.5 591.6 38.7 588.3 39 584.4 39.2 585.7 39.5 586.1 39.7 587 40 585 40.2 586.6 40.5 588.6 40.7 586.5 41 587.4 41.2 589 41.5 589.7 41.7 591.7 42 592.7 42.2 594.9 42.5 591.4 42.7 593.4 43 593.9 43.2 594.4 43.5 596 43.7 596.1 44 595.4 44.2 596.7 44.5 596.7 44.7 598.3 45 600.1 45.2 603.3 45.5 601.4 45.7 602.9 46 604.5 46.2 606.6 46.5 606.5 46.7 606.7 47 606.2 47.2 605.1 47.5 605.7 47.7 605 48 604.4 48.2 606.2 48.5 604.7 48.7 604.8 49 605.8 49.2 604.4 49.5 605.6 49.7 604.6 50 605 50.2 605.4 50.5 606.1 50.7 607.3 51 606.9 51.2 606.7 51.5 608.3 51.7 608.3 52 607.4 52.2 607.4 52.5 606.4 52.7 605.2 53 603.9 53.2 602.7 53.5 602.5 53.7 601.5 54 600.6 54.2 599.2 54.5 601.5 54.7 598.9 55 599.6 55.2 601.6 55.5 602.3 55.7 603.5 56 603.4 56.2 604.4 56.5 604.3 56.7 603.9 57 607.1 57.2 605.6 57.5 605.8 57.8 605.2 58 605.2 58.3 605.8 58.5 606.1 58.8 605 59 604.7 59.3 603.8 59.5 604.2 59.8 604.5 60 604.1 60.3 605.3 60.5 604.9 60.8 604.2 61 603.7 61.3 605.8 61.5 605.5 61.8 606.1 62 604.9 62.3 606.2 62.5 605.2 62.8 607.9 63 608.1 63.3 606.7 63.5 608.5 63.8 608.2 64 607.7 64.3 606.5 64.5 609.3 64.8 607.6 65 606.7 65.3 607.7 65.5 607.4 65.8 606.7 66 609 66.3 608 66.5 607.7 66.8 610.3 67 610.6 67.3 612.8 67.5 612.8 67.8 613.3 68 614.3 68.3 615 68.5 615.5 68.8 616 69 618.5 69.3 618.3 69.5 619.9 69.8 621 70 622.2 70.3 622.7 70.5 623.9 70.8 624.2 71 624.3 71.3 624.2 71.5 624 71.8 624.4 72 624 72.3 624 72.5 623 72.8 623.8 73 623.1 73.3 622.5 73.5 623.3 73.8 623.1 74 622.4 74.3 622.9 74.5 623.1 74.8 622.5 75 622.4 75.3 622.1 75.5 622.2 75.8 621.7 76 622.3 76.3 622.3 76.5 622.3 76.8 622.6 77 621.3 77.3 622.5 77.5 622.6 77.8 622.2 78 622.7 78.3 623.3 78.5 622 78.8 622.3 79 623.2 79.3 622.9 79.5 622.9 79.8 623.2 80 624 80.3 623.9 80.5 623.5 80.8 623.3 81 624.1 81.3 624 81.5 624.4 81.8 624.1 82 623.7 82.3 623.7 82.5 623.1 82.8 623.6 83 623.8 83.3 623.8 83.5 623.3 83.8 624.1 84 624.4 84.3 624.6 84.5 624.1 84.8 624.1 85 624.2 85.2 624.3 85.5 624.4 85.8 624.7 86 624.4 86.2 624.1 86.5 624.3 86.8 624.6 87 624.5 87.2 624.5 87.5 624.1 87.8 624.3 88 624.3 88.2 624.2 88.5 624.7 88.8 624.7 89 624.8 89.2 624.7 89.5 625.1 89.8 624.4 90 624.1 90.2 624 90.5 624.8 90.8 623.9 91 623.7 91.2 623.5 91.5 623.6 91.8 623.3 92 623.3 92.2 623.2 92.5 623.3 92.8 622.5 93 621.9 93.2 620.6 93.5 620.2 93.8 618.9 94 618.5 94.2 618.1 94.5 617.2 94.8 616.2 95 615 95.2 615.1 95.5 614.4 95.8 615.3 96 615.1 96.2 613.9 96.5 613.8 96.8 613.3 97 612.4 97.2 613 97.5 613.2 97.8 612.6 98 611.2 98.2 611.4 98.5 611.3 98.8 610.3 99 609.6 99.2 609.3 99.5 608.1 99.8 608.9 100 608.3 100.2 607.4 100.5 608 100.8 607.6 101 608 101.2 606.9 101.5 605.9 101.8 605.1 102 604.9 102.2 605 102.5 605 102.7 604.8 103 605.2 103.2 605.9 103.5 605.8 103.7 607.2 104 605.4 104.2 605.9 104.5 605.6 104.7 605.7 105 605.6 105.2 605.5 105.5 606 105.7 605.9 106 607.7 106.2 606.7 106.5 607.8 106.7 608.3 107 609.2 107.2 607.9 107.5 605.5 107.7 605 108 603.2 108.2 603.2 108.5 600.2 108.7 600.6 109 598.6 109.2 597.5 109.5 597.7 109.7 600.1 110 600.7 110.2 598.6 110.5 598.3 110.7 599.1 111 602 111.2 601.1 111.5 602.5 111.8 603.3 112 603.6 112.3 604.2 112.5 605.5 112.8 605.1 113 606.3 113.3 606.7 113.5 606.6 113.8 607.7 114 610 114.3 606.5 114.5 607.9 114.8 608.6 115 609.5 115.3 610.3 115.5 610.2 115.8 610.7 116 610.6 116.3 611 116.5 609.5 116.8 610.6 117 611.7 117.3 611.6 117.5 613.3 117.8 612.7 118 611.9 118.2 611.4 118.5 611.7 118.8 610.5 119 611.1 119.2 611.6 119.5 609.5 119.8 608.9 120 608.3 120.2 607.5 120.5 610.3 120.8 610.4 121 611.6 121.2 611.8 121.5 611.1 121.8 612.4 122 613.3 122.2 613.1 122.5 614.2 122.7 613.1 123 611.8 123.2 611.3 123.5 610.4 123.7 610.4 124 609.8 124.2 610.2 124.5 610.6 124.7 608.6 125 608.5 125.2 606.9 125.5 607.1 125.7 606.6 126 606 126.2 604 126.5 603.7 126.7 602.5 127 603.7 127.2 602 127.5 603.6 127.7 604.6 128 606.2 128.2 605.6 128.5 605.9 128.7 605.9 129 607.5 129.2 609 129.5 608.4 129.7 611.1 130 610 130.2 610.5 130.5 611.4 130.8 610.2 131 610.5 131.2 610 131.5 609.3 131.8 609.5 132 610.8 132.2 610.7 132.5 611.8 132.8 611.9 133 612.7 133.2 612.9 133.5 612.8 133.8 614 134 613.2 134.2 612.6 134.5 613 134.8 612.8 135 612.5 135.3 612.5 135.5 612.9 135.8 613.5 136 612.6 136.3 613.5 136.5 612.6 136.8 614 137 614.8 137.3 615.3 137.5 614.1 137.8 614.7 138 615.7 138.3 615 138.5 614.7 138.8 615.6 139 615.7 139.3 615.5 139.5 616.3 139.8 616.6 140 615.9 140.3 616.1 140.5 616.5 140.8 616.4 141 616.5 141.2 618 141.5 617.7 141.7 615.9 142 616.5 142.2 616.9 142.5 617.3 142.7 617.1 143 616.8 143.2 615.9 143.5 616.7 143.7 616.7 144 615.5 144.2 615.8 144.5 615.6 144.7 615.5 145 613.1 145.2 612.7 145.5 610.9 145.7 613.2 146 611 146.2 610.6 146.5 610.4 146.7 608.7 147 609.2 147.2 608.4 147.5 608.3 147.7 607.3 148 606.5 148.2 607.1 148.5 606.9 148.7 607.6 149 607.1 149.2 607.2 149.5 606.8 149.7 608.2 150 606.6 150.2 606.7 150.5 607.4 150.7 606.9 151 606.1 151.2 606.1 151.5 606.5 151.7 606.7 152 605.6 152.2 607.5 152.5 604.1 152.7 605 153 602.8 153.2 602.9 153.5 603.9 153.7 598.7 154 599.8 154.2 600.3 154.5 599.7 154.7 598.1 155 598.3 155.2 600.6 155.5 598.3 155.7 599.9 156 601.9 156.2 601.4 156.5 602.6 156.7 599.8 157 602.8 157.2 604.1 157.5 606.4 157.7 603.4 158 603.6 158.2 605 158.5 606.5 158.7 605.6 159 607.7 159.2 607.5 159.5 606.2 159.7 606.2 160 605.9 160.2 605.7 160.5 604.7 160.7 605.2 161 603.8 161.2 605.3 161.5 603.5 161.7 604.4 162 605.5 162.2 603.8 162.5 602.7 162.7 603.4 163 603.5 163.2 601.5 163.5 601.2 163.7 602.2 164 601.6 164.2 601.8 164.5 602 164.7 602 165 600.8 165.2 599 165.5 598.9 165.8 598 166 596 166.2 597.1 166.5 590.8 166.8 591.6 167 587.2 167.2 589.3 167.5 586.7 167.8 585.3 168 583 168.2 579.1 168.5 578.2 168.8 574.4 169 570.9 169.2 569.2 169.5 568 169.8 567 170 563.3 170.2 563.6 170.5 566.8 170.7 569.7 171 570.4 171.2 572.7 171.5 573.3 171.7 575 172 576.8 172.2 573.7 172.5 572.7 172.8 572.8 173 575 173.3 573.3 173.5 578.3 173.8 583.6 174 585.8 174.3 589.8 174.5 593.7 174.8 599.4 175 605 175.2 604.6 175.5 605.2 175.7 603.4 176 603.5 176.2 602.9 176.5 602.3 176.7 603.7 177 602.7 177.2 600.8 177.5 601.2 177.7 601.8 178 601.1 178.2 601.1 178.5 599.4 178.7 599.3 179 600.4 179.2 600 179.5 600.9 179.7 598.8 180 597.7 180.2 595.8 180.5 595.1 180.7 594.6 181 591.2 181.2 591.4 181.5 590.7 181.8 590 182 590 182.3 590.5 182.5 590.6 182.8 588.2 183 587.8 183.3 586.7 183.6 585.2 183.8 584 184.1 586.3 184.3 582.4 184.6 579.2 184.8 580.4 185.1 577.8 185.3 576.5 185.6 577 185.8 576.7 186.1 577.3 186.3 577.2 186.6 577.5 186.8 577.7 187.1 581.2 187.3 579.7 187.6 581.5 187.8 584.2 188.1 580.7 188.3 583.3 188.5 580.6 188.8 583.1 189 579.5 189.3 579.1 189.5 580.8 189.8 582.2 190 579 190.2 578.9 190.5 577.4 190.8 581.2 191 579.6 191.2 577.5 191.5 581.9 191.8 580.3 192 576 192.2 580.5 192.5 578.7 192.8 578.8 193 574.5 193.2 574.8 193.5 575.7 193.8 575.7 194 577.2 194.2 580.4 194.5 581.7 194.8 580.4 195 579.7 195.2 582.4 195.5 579.5 195.8 581.9 196 582 196.2 583.6 196.5 583 196.8 584.8 197 583.3 197.2 586.1 197.5 585.7 197.8 585.3 198 583.4 198.2 587.3 198.5 587 198.8 584.5 199 587.2 199.2 586.9 199.5 586.6 199.8 584.8 200 580.4 200.2 578.3 200.5 578 200.8 578.2 201 576.3 201.2 577.5 201.5 575.2 201.8 571.7 202 571.5 202.2 572.2 202.5 571.4 202.8 572.2 203 575.4 203.2 577.3 203.5 577.9 203.8 573.1 204 573.9 204.2 577.6 204.5 579.6 204.8 577.6 205 577.5 205.2 576.7 205.5 574 205.8 572 206 574.4 206.2 573.2 206.5 571.5 206.7 570.8 207 567.3 207.2 563.2 207.5 561.3 207.7 555 208 552.5 208.2 549.2 208.5 548.5 208.7 546.7 209 548.7 209.2 551 209.5 556.4 209.7 558.4 210 556 210.2 560.5 210.5 563.4 210.7 562.2 211 564 211.2 564.3 211.5 564.5 211.8 566.7 212 564.5 212.2 566.3 212.5 567 212.8 566.4 213 569.4 213.2 572.8 213.5 575.1 213.8 580.3 214 582 214.2 581.7 214.5 584.3 214.7 584 215 582.4 215.2 583 215.5 583.3 215.7 586.1 216 587.3 216.2 584.7 216.5 584.5 216.7 590 217 589.8 217.2 592.5 217.5 590.9 217.7 594 218 595.3 218.2 594 218.5 595.4 218.7 596.3 219 593.2 219.2 593.6 219.5 594.4 219.7 594.5 220 593.1 220.2 589.3 220.5 589.2 220.7 590.2 221 590.1 221.2 591.6 221.5 589.5 221.7 590.7 222 588.7 222.2 591.9 222.5 589.7 222.7 589.2 223 592.8 223.2 589.6 223.5 593 223.7 592.2 224 593 224.2 590.7 224.5 593.2 224.7 593.5 225 592.3 225.2 592.2 225.5 595.4 225.7 594.3 226 594 226.2 594 226.5 595.9 226.7 595.5 226.9 594.6 227.2 592.2 227.4 595.5 227.7 592.9 227.9 593 228.2 593.6 228.4 592.8 228.7 591.7 228.9 591.8 229.2 590.3 229.4 589.7 229.7 586.7 229.9 586.4 230.2 583.4 230.4 583.2 230.7 586 230.9 584 231.2 582 231.5 584.5 231.7 581.3 232 583.1 232.2 583.2 232.5 583 232.7 584.2 233 583.9 233.2 585.1 233.5 589.1 233.7 585.9 234 589.8 234.2 587.6 234.5 589.6 234.7 589.8 235 589.5 235.2 589.1 235.5 590.5 235.8 593.1 236 592.7 236.2 595 236.5 593.3 236.8 593.4 237 596.9 237.2 596.4 237.5 596.3 237.8 595.1 238 596.2 238.2 595 238.5 594.3 238.7 593.2 239 593.4 239.2 592.6 239.5 591.9 239.7 590.5 240 588.7 240.2 585.6 240.5 585.9 240.7 583.8 241 584.5 241.2 579.7 241.5 579.1 241.7 579 241.9 576.4 242.2 579.8 242.4 578.2 242.7 577.2 242.9 578.7 243.2 576.2 243.4 574.3 243.7 576.1 243.9 576.2 244.2 578.6 244.4 576 244.7 578.5 244.9 577.3 245.2 577.8 245.4 576.4 245.7 575.3 245.9 575.1 246.2 573 246.4 567.2 246.7 566.9 246.9 562.5 247.2 561.3 247.4 557.2 247.7 554 247.9 553.1 248.2 545.9 248.4 542.7 248.7 538.1 248.9 533.1 249.2 529.5 249.5 535.2 249.7 538.7 250 537.3 250.2 543.1 250.5 541.8 250.7 542.4 251 544.2 251.2 548.7 251.5 549 251.7 555.6 252 563.4 252.2 565.5 252.4 566.9 252.7 560.6 252.9 557.7 253.2 558.5 253.4 556.4 253.7 559.6 253.9 556.6 254.2 552.3 254.4 553.6 254.7 550.5 254.9 546.1 255.2 546 255.4 546.6 255.7 549.4 255.9 552.2 256.2 554 256.4 552.9 256.7 551.8 256.9 552.1 257.2 552.3 257.4 552.8 257.7 553.1 257.9 553.5 258.2 555 258.4 552.3 258.7 548.3 258.9 544.6 259.2 546.7 259.4 541.6 259.7 540 259.9 530.9 260.2 528.4 260.4 519.2 260.7 517.1 260.9 511.1 261.2 507 261.4 504.4 261.7 504.4 261.9 502.6 262.2 505 262.4 502.7 262.7 501.3 262.9 495.4 263.2 493.5 263.5 497.3 263.7 506.7 264 515.1 264.2 520.9 264.5 531.4 264.7 537.6 265 546 265.2 543.2 265.5 532.8 265.8 528.7 266 516.8 266.2 510.9 266.5 507.2 266.8 500.7 267 494.6 267.2 490 267.5 486.7 267.8 494.8 268 498.4 268.2 503.5 268.5 504.7 268.8 508.5 269 513.9 269.2 523.9 269.5 525 269.8 532.9 270 545.3 270.2 551.5 270.5 559.3 270.8 568.9 271 576 271.2 572.3 271.5 568.5 271.8 569.2 272 565.1 272.2 561.9 272.5 558 272.8 558.8 273 561.7 273.2 560.5 273.5 562.4 273.8 564 274 565.1 274.2 564.9 274.5 570.2 274.8 570 275 566.9 275.2 569.5 275.5 568.5 275.8 569 276 569.9 276.2 570.6 276.5 572.4 276.8 573.3 277 576.1 277.2 572.6 277.5 579.7 277.8 582 278 581.5 278.2 584.7 278.5 585 278.7 584.3 279 583.4 279.2 583 279.5 579.3 279.7 579.9 280 579.8 280.2 578.1 280.5 575.7 280.7 574.5 281 573.7 281.2 577.4 281.5 576.4 281.7 581.1 282 582.6 282.2 582.8 282.5 583.1 282.7 585.9 283 586.2 283.2 587.9 283.5 587.6 283.7 591.8 284 591 284.2 590.4 284.5 585.7 284.8 585 285 581.8 285.2 582.4 285.5 581.4 285.8 577.3 286 576 286.2 575.3 286.5 573.2 286.8 573.8 287 574.1 287.2 573 287.5 573 287.8 569.8 288 569.4 288.2 566.8 288.5 566.1 288.8 570.3 289 567.9 289.2 565.7 289.5 565.4 289.8 564 290 562.4 290.2 564 290.5 561 290.7 553 291 549.7 291.2 548.9 291.5 543.7 291.7 537.5 292 532 292.2 531.3 292.5 521.9 292.7 520.5 293 524.2 293.2 524.3 293.5 532.9 293.7 534.1 294 531 294.2 540 294.5 539.5 294.7 546.2 295 547.5 295.2 537.2 295.5 531.1 295.8 521.3 296 510 296.2 504.9 296.5 493.5 296.8 502.8 297 506.1 297.2 518.7 297.5 524.5 297.8 532.8 298 540 298.2 532.3 298.5 529.2 298.7 521.4 299 512.1 299.2 505.5 299.5 495.9 299.7 489.3 300 483.9 300.2 474.3 300.5 470.6 300.7 464.3 300.9 474.4 301.2 486.4 301.4 496.1 301.7 505.5 301.9 507.7 302.2 502.8 302.4 502.2 302.7 496.5 302.9 494.3 303.2 495 303.5 495.4 303.7 497.6 304 501.1 304.2 504.6 304.5 508.6 304.7 508.5 305 515.3 305.2 515.2 305.5 517.5 305.8 518 306 514.8 306.2 516.1 306.5 511.6 306.8 511 307 510.6 307.2 507.3 307.5 508.6 307.8 506.6 308 509.6 308.2 507 308.5 507 308.7 512 309 512.2 309.2 518.1 309.5 523.7 309.7 524.9 310 530.3 310.2 534.6 310.5 537 310.7 540 311 537.3 311.2 537.9 311.5 536.3 311.7 534.7 312 534.6 312.2 533 312.5 530.1 312.7 529.9 313 526.5 313.2 529.7 313.5 538.1 313.8 542.9 314 545.1 314.2 548.6 314.5 555 314.7 547.1 315 545.2 315.2 538.4 315.5 528.2 315.7 523.5 316 527.4 316.2 530.1 316.5 535.5 316.7 538.2 317 542.5 317.2 549 317.5 552 317.8 550.3 318 549.7 318.2 545 318.5 548.7 318.8 542.4 319 542.9 319.2 538.4 319.5 539.6 319.8 539.5 320 537.1 320.2 537.3 320.5 535.5 320.8 538.8 321 539.5 321.2 541 321.5 537.9 321.8 538.8 322 542.5 322.2 542.5 322.5 546 322.8 545.4 323 550.6 323.2 546.5 323.5 552 323.7 551.6 324 555.4 324.2 555.7 324.5 559.3 324.7 564.8 325 567.5 325.2 569.9 325.5 571.4 325.7 576 326 574.8 326.2 571.3 326.5 570.3 326.7 570.9 327 566.6 327.2 565.5 327.5 567.2 327.7 563 328 558.1 328.2 555.4 328.5 554.5 328.7 552.5 329 552.8 329.2 549.4 329.5 546 329.8 549.2 330 550.7 330.2 552.7 330.5 552.8 330.8 558.4 331 558.8 331.2 562.1 331.5 566.5 331.8 569.3 332 568 332.2 572.6 332.5 574.5 332.8 575.4 333 576.1 333.2 575.1 333.5 573.8 333.8 574.9 334 575.5 334.2 576.1 334.5 577.1 334.8 576 335 577.6 335.2 573.9 335.5 574.5 335.7 573 336 572.8 336.2 573.2 336.5 573.1 336.7 567.9 337 571.5 337.2 569.4 337.5 567.7 337.7 564.5 338 566.2 338.2 563.1 338.5 563.4 338.7 561 339 560.7 339.2 560.5 339.5 559.5 339.7 557.9 340 558.1 340.2 558.9 340.5 553.1 340.7 553.5 341 558.7 341.2 557.7 341.5 559.7 341.7 564.7 342 566.1 342.2 569.2 342.5 570.9 342.7 575.8 343 574.5 343.2 575.8 343.5 573.4 343.8 573.5 344 572.8 344.2 570.9 344.5 570 344.8 573.8 345 574.7 345.2 575.9 345.5 578.3 345.8 577.3 346 577.8 346.2 578.6 346.5 579.9 346.8 582.9 347 582.2 347.2 586.9 347.5 588.3 347.8 590.7 348 590.9 348.2 595.1 348.5 593.8 348.8 596.5 349 598.5 349.2 595.5 349.5 596.5 349.8 597.3 350 597.9 350.2 596.2 350.5 594.8 350.8 595.4 351 596.6 351.2 595.6 351.5 594.4 351.8 595 352 594 352.2 594.4 352.5 594.6 352.8 591.7 353 593.5 353.2 589.3 353.5 590.7 353.8 591.2 354 591.5 354.2 588.9 354.5 588.8 354.8 588.9 355 589.5 355.2 589.1 355.5 592.7 355.7 592.8 356 594.9 356.2 596.3 356.5 598 356.7 601.1 357 601.1 357.2 604.5 357.5 605.2 357.7 606 358 605.9 358.2 606.1 358.5 606.7 358.7 607.7 359 606.2 359.2 606.2 359.5 605.1 359.7 605.9 360 606.8 360.2 606.3 360.5 602.8 360.7 604.1 361 603 361.2 603.7 361.5 602.4 361.8 602 362 602.7 362.2 600.8 362.5 603.8 362.8 600.1 363 599.5 363.2 600.8 363.5 600.3 363.8 600.9 364 600" fill="none" stroke="#e377c2" stroke-width="1.3" stroke-linejoin="round" clip-path="url(#c7)"/>
<text transform="translate(35 639.9) scale(0.720 1)" font-family="Liberation Sans" font-size="22" text-anchor="end" fill="#505050" stroke="#505050" stroke-width="0.28">0</text>
<text transform="translate(35 601.3) scale(0.720 1)" font-family="Liberation Sans" font-size="22" text-anchor="end" fill="#505050" stroke="#505050" stroke-width="0.28">2</text>
<text transform="translate(35 562.9) scale(0.720 1)" font-family="Liberation Sans" font-size="22" text-anchor="end" fill="#505050" stroke="#505050" stroke-width="0.28">4</text>
<text transform="translate(35 524.1) scale(0.720 1)" font-family="Liberation Sans" font-size="22" text-anchor="end" fill="#505050" stroke="#505050" stroke-width="0.28">6</text>
<text transform="translate(35 485.7) scale(0.720 1)" font-family="Liberation Sans" font-size="22" text-anchor="end" fill="#505050" stroke="#505050" stroke-width="0.28">8</text>
<text transform="translate(77.4 655.9) scale(0.720 1)" font-family="Liberation Sans" font-size="22" text-anchor="middle" fill="#505050" stroke="#505050" stroke-width="0.28">2019</text>
<text transform="translate(158.3 655.9) scale(0.720 1)" font-family="Liberation Sans" font-size="22" text-anchor="middle" fill="#505050" stroke="#505050" stroke-width="0.28">2020</text>
<text transform="translate(239.5 655.9) scale(0.720 1)" font-family="Liberation Sans" font-size="22" text-anchor="middle" fill="#505050" stroke="#505050" stroke-width="0.28">2021</text>
<text transform="translate(320.5 655.9) scale(0.720 1)" font-family="Liberation Sans" font-size="22" text-anchor="middle" fill="#505050" stroke="#505050" stroke-width="0.28">2022</text>
<rect x="407.3" y="456" width="306.7" height="177.5" fill="#E5ECF6"/>
<path d="M407.3 556.7H714" stroke="#d4d4d4" stroke-width="1.7"/>
<path d="M407.3 488.2H714" stroke="#d4d4d4" stroke-width="1.7"/>
<path d="M407.3 626.2H714" stroke="#626468" stroke-width="2"/>
<path d="M408 624.2 408.2 624.2 408.5 624.5 408.8 624.7 409 624.8 409.2 624.9 409.5 625 409.8 625 410 625 410.2 624.8 410.5 624.7 410.8 624.5 411 624.5 411.2 624.6 411.5 624.8 411.8 624.8 412 624.9 412.2 625 412.5 624.9 412.8 624.7 413 624.8 413.2 624.8 413.5 624.7 413.8 624.7 414 625.1 414.2 625.3 414.5 625.3 414.8 625.2 415 625.3 415.2 625.2 415.5 625.4 415.8 625.1 416 625 416.2 625.1 416.5 625 416.8 625 417 625.1 417.2 625.2 417.5 625.1 417.8 625.2 418 625.5 418.2 625.2 418.5 625.1 418.8 625.2 419 625 419.2 624.8 419.5 625.1 419.8 625.2 420 625.4 420.2 625.5 420.5 625.6 420.8 625.5 421 625.1 421.2 625.2 421.5 625 421.8 625 422 625.1 422.2 624.9 422.5 624.9 422.8 625.1 423 625.1 423.2 624.9 423.5 624.8 423.8 624.9 424 625 424.2 625 424.5 625 424.8 625 425 625.1 425.2 624.9 425.5 625 425.8 625.2 426 625 426.2 624.9 426.5 625 426.8 624.6 427 624.3 427.2 624.3 427.5 624.7 427.8 624.6 428 624.5 428.2 624.5 428.5 624.3 428.8 624.4 429 624.5 429.2 624.5 429.5 624.6 429.8 624.4 430 624.5 430.2 624.8 430.5 624.8 430.8 624.7 431 624.6 431.2 624.8 431.5 625 431.8 624.7 432 624.9 432.2 624.8 432.5 625 432.8 624.7 433 624.7 433.2 624.7 433.5 624.5 433.8 624.4 434 624.6 434.2 624.5 434.5 624.7 434.8 624.8 435 624.8 435.2 625 435.5 625.1 435.8 625.3 436 625.3 436.2 625.3 436.5 625.4 436.8 625.2 437 625.2 437.2 625.5 437.5 625.3 437.8 625.4 438 625.6 438.2 625.5 438.5 625.6 438.8 625.4 439 625.5 439.2 625.3 439.5 625.4 439.8 625.3 440 625.3 440.2 625.1 440.5 624.9 440.8 625 441 625.1 441.2 624.6 441.5 624.9 441.8 624.8 442 624.9 442.2 625 442.5 624.9 442.8 624.9 443 624.6 443.2 624.7 443.5 624.9 443.8 624.7 444 624.8 444.2 624.9 444.5 625.1 444.8 624.9 445 625 445.2 624.9 445.5 625.2 445.8 625 446 625 446.2 624.9 446.5 624.9 446.8 624.8 447 624.7 447.2 624.4 447.5 624.4 447.8 624.5 448 624.5 448.2 624.6 448.5 624.5 448.8 624.4 449 624.4 449.2 624.3 449.5 624.3 449.8 624.4 450 624.2 450.2 624.3 450.5 624.3 450.8 624.2 451 624.3 451.2 624.3 451.5 624.5 451.8 624.7 452 624.8 452.2 624.7 452.5 624.6 452.8 624.4 453 624.5 453.2 624.3 453.5 624.2 453.8 624.4 454 624.4 454.2 624.2 454.5 623.9 454.8 623.9 455 624.1 455.2 624.1 455.5 624.2 455.7 623.6 456 623.3 456.2 622.8 456.5 622.2 456.7 621.8 457 621.5 457.2 621.8 457.5 621.2 457.7 620.5 458 619.9 458.2 619.4 458.5 619.4 458.7 618.6 459 618.7 459.2 618.7 459.5 619.3 459.7 618.9 460 619.1 460.2 619.7 460.5 619.7 460.7 620.4 461 620.5 461.2 620.2 461.5 620 461.7 620 462 619.8 462.2 620.2 462.5 619.9 462.7 620 463 620.4 463.2 620.1 463.5 620.2 463.7 619.7 464 619.6 464.2 619.8 464.5 619.6 464.7 620.1 465 620.2 465.2 620.3 465.5 620.6 465.7 620.1 466 620 466.2 619.9 466.5 619.5 466.7 619.9 467 619.5 467.2 619.6 467.5 619.6 467.7 619.4 468 619.5 468.2 619.5 468.5 619.6 468.7 619.9 469 619.8 469.2 619.5 469.5 619.5 469.7 619.7 470 619.6 470.2 619.7 470.5 619.8 470.7 619.6 471 619.4 471.2 619.4 471.5 619.5 471.7 619.7 472 619.8 472.2 620.3 472.5 619.9 472.7 619.5 473 620.2 473.2 620.3 473.5 619.9 473.7 620.3 474 620.4 474.2 619.8 474.5 619.6 474.7 619.6 475 619.7 475.2 620.1 475.5 620 475.7 620.2 476 620.5 476.2 620.3 476.5 620.5 476.7 620.6 477 620.3 477.2 620 477.5 620.2 477.7 620.2 478 620.8 478.2 620.3 478.5 620.5 478.7 620.7 479 620.5 479.2 620.6 479.5 620.6 479.7 620.8 480 620.1 480.2 620.2 480.5 620.7 480.7 620.3 481 620.7 481.2 621.2 481.5 620.8 481.7 621 482 621.2 482.2 621.3 482.5 621 482.7 621.3 483 621.2 483.2 621.4 483.5 621.4 483.7 621.5 484 621.6 484.3 621.5 484.5 621.4 484.8 621.3 485 621.7 485.3 622 485.5 622.1 485.8 621.8 486 622 486.3 622.4 486.5 622.6 486.8 623.1 487 623 487.3 622.9 487.5 623.1 487.8 622.8 488 623 488.3 622.9 488.5 622.8 488.8 622.7 489 622.6 489.3 622.9 489.5 623 489.8 623.2 490 623.3 490.3 623.4 490.5 622.9 490.8 622.9 491 623.1 491.3 623.1 491.5 623.2 491.8 623 492 623.3 492.3 623.5 492.5 623.1 492.8 623.4 493 623.5 493.3 623.5 493.5 623.4 493.8 623.5 494 623.8 494.3 623.6 494.5 623.9 494.8 623.8 495 623.7 495.3 624.1 495.5 624 495.8 624.1 496 624.2 496.3 624.2 496.5 624.3 496.8 624.3 497 624.8 497.3 624.8 497.5 624.9 497.8 624.8 498 624.8 498.3 624.7 498.5 624.4 498.8 624.1 499 624.3 499.3 623.8 499.5 623.8 499.8 623.7 500 623.8 500.3 623.9 500.5 624 500.8 623.8 501 623.6 501.3 623.4 501.5 623.4 501.8 623.5 502 623.8 502.3 623.4 502.5 623.8 502.8 623.9 503 623.7 503.3 623.7 503.5 623.7 503.8 623.8 504 623.9 504.3 623.7 504.5 623.5 504.8 623.7 505 623.6 505.3 623.9 505.5 623.9 505.8 624.2 506 624.5 506.3 624.4 506.5 624.5 506.8 624.2 507 624.2 507.3 624 507.5 624.1 507.8 623.9 508 624.2 508.2 624 508.5 624.2 508.7 624.2 509 624.3 509.2 624.3 509.5 624.5 509.7 624.5 510 624.3 510.2 624 510.5 624.1 510.7 624.2 511 624.2 511.2 624 511.5 624.1 511.7 624 512 624.1 512.2 624.2 512.5 624.3 512.7 624.5 513 624.3 513.2 624.6 513.5 624.6 513.7 624.8 514 624.7 514.2 624.7 514.5 624.5 514.7 624.7 515 624.6 515.2 624.4 515.5 624 515.7 623.9 516 623.7 516.2 623.7 516.5 624 516.7 624 517 623.9 517.2 624.2 517.5 624 517.7 624 518 623.8 518.2 623.5 518.5 623.5 518.7 623.5 519 623.2 519.2 623.1 519.5 622.9 519.7 623 520 622.8 520.2 623.1 520.5 622.9 520.7 623 521 623.2 521.2 623 521.5 623 521.7 623.2 522 623.1 522.2 623.1 522.5 622.9 522.7 622.7 523 622.9 523.2 622.7 523.5 622.9 523.7 623.1 524 623 524.2 623 524.5 623.2 524.7 623.5 525 623.3 525.2 623.4 525.5 623 525.7 623.2 526 623.2 526.2 622.8 526.5 622.6 526.8 622.5 527 622.1 527.3 621.6 527.5 621.5 527.8 621.5 528 621.4 528.3 621 528.5 621.2 528.8 621.3 529 621.1 529.3 621.1 529.5 621.4 529.8 621.6 530 621.6 530.3 622.1 530.5 622.5 530.8 622.6 531 622.6 531.3 623 531.5 623.1 531.8 623.4 532 623.4 532.3 623.6 532.5 623.4 532.8 623.5 533 623.8 533.3 624 533.5 624.2 533.8 624.5 534 624.6 534.3 624.7 534.5 625 534.8 624.9 535 624.9 535.3 624.9 535.5 625 535.7 625 536 625 536.2 624.9 536.5 625 536.7 624.9 537 624.7 537.2 624.7 537.5 624.7 537.7 624.6 538 624.5 538.2 624.3 538.5 624.3 538.7 624.2 539 624.1 539.2 624 539.5 623.6 539.7 623.6 540 623.5 540.2 623.3 540.5 623.4 540.7 623.3 541 623.3 541.2 623.1 541.5 623 541.7 622.9 542 622.8 542.2 622.6 542.5 622.5 542.7 622.7 543 622.3 543.2 622.3 543.5 622.3 543.7 622.3 544 622 544.2 621.8 544.5 622.2 544.7 621.8 545 621.7 545.2 621.9 545.5 621.7 545.7 621.2 546 621 546.2 620.9 546.5 620.9 546.7 620.9 547 620.7 547.2 620.8 547.5 620.6 547.7 620.1 548 620.6 548.2 620.5 548.5 620.7 548.7 620 549 620.1 549.2 620.1 549.5 619.9 549.7 619.7 550 619.6 550.2 619.6 550.5 619.2 550.7 619.7 551 619.7 551.2 619.9 551.5 619.7 551.7 619.6 552 619.7 552.2 619.8 552.5 619.8 552.7 619.5 553 620 553.2 619.7 553.5 619.7 553.7 620 554 620.1 554.2 620.4 554.5 620.8 554.7 621 555 621.3 555.2 621.1 555.5 620.6 555.7 620.8 556 621 556.2 620.8 556.5 621 556.7 620.6 557 620.6 557.2 621 557.5 620.5 557.7 620.4 558 620.5 558.2 620.4 558.5 620 558.7 620.6 559 620 559.2 619.9 559.5 620.3 559.7 619.5 560 619.6 560.2 619.7 560.5 619.4 560.7 619.1 561 619 561.2 618.3 561.5 618.4 561.7 618.4 562 618.3 562.2 618.1 562.5 618.6 562.7 618.5 563 618.3 563.3 618.6 563.5 618.2 563.8 618.2 564 618.6 564.3 618.4 564.5 618.4 564.8 618.1 565 618.5 565.3 618.6 565.5 618.9 565.8 619 566 618.7 566.3 618.8 566.5 618.3 566.8 618.6 567 618.6 567.3 619 567.5 618.3 567.8 618.6 568 618.5 568.3 618.5 568.5 618.4 568.8 618.1 569 618 569.3 618.3 569.5 617.8 569.8 618.3 570 618.5 570.3 618.4 570.5 618.7 570.8 618.8 571 619.2 571.2 619.1 571.5 619.6 571.7 619.8 572 620.6 572.2 620.4 572.5 620.6 572.7 620.8 573 621 573.2 621 573.4 621.1 573.7 621.2 573.9 620.9 574.2 621.1 574.4 621 574.7 621.5 574.9 621.1 575.2 621.7 575.4 621.2 575.7 621.7 575.9 621.9 576.2 621.5 576.4 621.4 576.7 621.4 576.9 621 577.2 621.5 577.4 621.7 577.7 621.4 577.9 621.3 578.2 621.1 578.4 621.1 578.7 621 578.9 621.3 579.2 621.5 579.4 621.4 579.7 621.8 579.9 621.2 580.2 621.2 580.4 621.6 580.7 621.3 580.9 621.5 581.2 621.4 581.4 621.3 581.7 621.4 581.9 621.4 582.2 621.3 582.4 621.7 582.7 621.1 582.9 621 583.2 620.9 583.4 621.1 583.7 620.9 583.9 620.7 584.2 620.6 584.4 620.5 584.7 620.6 584.9 620.7 585.2 621.4 585.4 620.8 585.7 620.8 585.9 620.4 586.2 621.2 586.4 621.3 586.7 620.8 586.9 620.9 587.2 621.1 587.4 620.9 587.7 621.5 587.9 621.4 588.2 621.4 588.4 621.6 588.7 622.1 588.9 621.5 589.2 621.9 589.4 621.8 589.7 621.8 589.9 622.2 590.2 622.3 590.4 622.3 590.7 622.4 590.9 622.3 591.2 622.3 591.4 622.3 591.7 622.2 591.9 622.2 592.2 621.7 592.4 621.5 592.7 621.9 592.9 621.8 593.2 621.9 593.4 621.6 593.7 621.7 593.9 621.6 594.2 621.4 594.4 621.8 594.7 621.6 594.9 621.3 595.2 621.3 595.4 621.2 595.7 621.3 595.9 621.2 596.2 621.8 596.4 621.7 596.7 621.3 596.9 620.9 597.2 620.2 597.4 619.9 597.7 619.7 597.9 619.3 598.2 618.9 598.5 617.8 598.7 617.3 599 617 599.2 616.6 599.5 615.7 599.7 615.5 600 615.2 600.2 615.1 600.5 612.8 600.7 611.6 600.9 610.4 601.2 609.7 601.4 609.4 601.6 608.4 601.9 608.8 602.1 608.7 602.4 608.9 602.6 608.3 602.9 606.9 603.1 608.3 603.4 607.8 603.6 605.6 603.9 607.5 604.1 608 604.4 605.5 604.6 606.8 604.9 606 605.1 605.8 605.3 605.7 605.6 605.1 605.8 605.8 606.1 605.5 606.3 605.8 606.5 605.2 606.8 605.5 607 605.8 607.3 606.6 607.5 606.3 607.8 606.1 608 606.5 608.2 601 608.5 594.6 608.7 591.3 608.9 586.7 609.2 578.9 609.4 573.2 609.6 568.2 609.9 564.3 610.1 558.7 610.4 554.7 610.6 548.3 610.9 546.6 611.1 543.3 611.4 539.3 611.6 533.3 611.8 542.3 612.1 541.8 612.3 544.6 612.5 549.1 612.8 551.8 613 554.3 613.2 550.5 613.5 550.2 613.8 547 614 545.2 614.2 539.2 614.5 535.5 614.7 532.8 615 529 615.2 526.6 615.5 524.9 615.7 521.9 616 514.5 616.2 513.2 616.5 511.1 616.7 507.2 616.9 511 617.2 514.9 617.4 514.4 617.6 518 617.9 522.8 618.1 525.4 618.4 527.1 618.6 532.4 618.9 535.7 619.1 543.5 619.4 547.9 619.6 554.3 619.8 548.7 620.1 547.2 620.3 544.1 620.5 540.3 620.8 535.2 621 531.2 621.2 534.5 621.5 538.7 621.8 539.1 622 537.7 622.2 542.4 622.5 542.8 622.7 543 623 547.5 623.2 550.2 623.4 552.9 623.7 553.6 623.9 554.3 624.2 561.4 624.4 568.5 624.7 573.1 624.9 578.4 625.2 583.2 625.4 588.9 625.7 592.8 626 583 626.2 578.4 626.5 569.3 626.8 560.1 627 563.2 627.3 564.3 627.5 567.8 627.8 565 628 569.9 628.3 569.4 628.5 571.4 628.8 571.6 629 574.6 629.2 574 629.5 576.4 629.7 579.6 630 579.8 630.2 581.4 630.5 583.9 630.7 585.3 630.9 588.4 631.2 586.6 631.4 591.2 631.7 593.4 631.9 593.5 632.2 592 632.4 590.8 632.7 592.7 632.9 589.9 633.2 589.6 633.4 588.5 633.7 586.9 633.9 585.7 634.2 584.5 634.4 584.3 634.7 584.2 634.9 582 635.2 581.1 635.4 581.2 635.7 580.1 635.9 580.3 636.2 579 636.5 582 636.7 585.4 637 585.1 637.2 588.3 637.5 588.7 637.7 590.6 637.9 590.1 638.2 588.3 638.4 588.6 638.7 587.3 638.9 584 639.2 581.8 639.4 580.1 639.7 580.6 639.9 577.5 640.2 574.2 640.4 575.1 640.7 575.5 640.9 575.8 641.2 573.8 641.4 571.8 641.7 573.5 642 573.5 642.2 572.3 642.5 571 642.7 574.8 643 572.6 643.2 571.2 643.5 568.8 643.7 564.9 644 566.4 644.2 560.9 644.5 563.8 644.7 557.4 645 558.8 645.2 553.3 645.5 553.5 645.7 551.4 645.9 552.9 646.2 554.2 646.4 552.6 646.6 549.5 646.9 550 647.1 550 647.4 551.9 647.6 556.1 647.9 555.5 648.1 560 648.4 563.9 648.6 564.5 648.9 563.7 649.1 564.3 649.4 568.1 649.6 569.2 649.9 573.2 650.1 574.8 650.4 577 650.6 580.2 650.9 582.3 651.1 581.4 651.4 583.3 651.6 581.7 651.9 581 652.1 580.8 652.4 576.4 652.6 575.2 652.9 575 653.1 571.5 653.4 570.1 653.6 568.8 653.9 566.5 654.1 568.7 654.4 569.5 654.6 569.5 654.9 567.3 655.1 567.2 655.4 568.7 655.7 565.7 655.9 569 656.2 567.4 656.4 565.2 656.7 565.5 656.9 566.5 657.2 565.9 657.5 559.2 657.7 550.2 658 543.2 658.2 536.4 658.5 528.5 658.7 522.5 658.9 519.2 659.2 519.1 659.4 515.2 659.6 514.5 659.9 507.7 660.1 506.5 660.4 513.4 660.6 511.9 660.9 517.9 661.1 521.8 661.4 523.8 661.6 526.8 661.9 521.6 662.1 520.5 662.4 513.8 662.6 509.2 662.9 504.8 663.1 499.1 663.4 497.6 663.6 490.9 663.9 485.7 664.1 483.4 664.4 476.9 664.6 470.9 664.9 464.5 665.2 472.1 665.4 475.4 665.7 483 665.9 484.7 666.2 492.3 666.4 503.1 666.7 505.1 667 511.1 667.2 511.5 667.5 514.1 667.8 521.6 668 524.5 668.3 528 668.5 531.4 668.8 538.4 669 540.7 669.3 539.4 669.5 543.2 669.8 545.5 670 546.5 670.3 548.6 670.5 542.1 670.8 536.4 671 532.5 671.2 526.5 671.5 523.8 671.7 516.7 671.9 516.1 672.2 518.7 672.4 519.5 672.7 520 672.9 527.2 673.2 528.9 673.4 529.7 673.6 530 673.9 532 674.1 536.7 674.4 538.4 674.6 537 674.8 542.5 675.1 547.6 675.3 545.8 675.6 549.3 675.8 551.6 676 557.1 676.3 560.1 676.5 564.7 676.8 566.3 677 568.9 677.3 573.4 677.5 574.6 677.7 573.9 678 570.4 678.2 567 678.5 569.7 678.7 567 679 568 679.2 566.3 679.5 565.5 679.7 562.3 680 560.9 680.2 556.7 680.5 554.4 680.7 555.4 681 555.5 681.2 551.4 681.4 551.8 681.7 557.3 681.9 557.1 682.2 560.1 682.4 562.8 682.7 563 682.9 564.2 683.1 566.7 683.4 571.9 683.6 570.8 683.9 577.5 684.1 577.5 684.3 578.6 684.6 578 684.8 577.9 685.1 578.7 685.3 579.2 685.5 577.9 685.8 580.5 686 578.6 686.3 577.3 686.5 579.8 686.8 581.6 687 580.4 687.2 582 687.5 579.1 687.8 577 688 577.9 688.2 578.2 688.5 576.2 688.8 575.5 689 576 689.2 574.9 689.5 574 689.8 572.8 690 569.9 690.2 571.8 690.5 571.7 690.8 570.4 691 565.9 691.2 565.5 691.5 564.1 691.8 566.4 692 561.6 692.2 562.8 692.5 562.7 692.7 567.5 693 563.8 693.2 565.2 693.5 566.2 693.7 564.2 693.9 569.5 694.2 568.5 694.4 568.3 694.7 571.7 694.9 571.7 695.1 571.1 695.4 572.5 695.6 575.8 695.9 577.3 696.1 578.6 696.3 578.8 696.6 578.7 696.8 581.5 697.1 583.3 697.3 583.3 697.6 585.7 697.8 584.8 698 586.9 698.3 590.5 698.5 589.3 698.8 591.5 699 595.4 699.3 598.2 699.5 601.3 699.8 604.2 700 605.8 700.3 605.6 700.5 604.2 700.8 605.6 701 604.9 701.3 604.2 701.5 603.6 701.8 603.9 702.1 604.2 702.3 603.5 702.6 603.8 702.8 604 703.1 604.3 703.3 604.3 703.6 603.6 703.8 605.4 704.1 605.3 704.3 604.8 704.6 605.7 704.8 605.7 705.1 607 705.3 606.1 705.6 607.5 705.8 608.6 706 608 706.3 609.4 706.5 608.1 706.8 609 707 609.2 707.3 610.1 707.5 610.1 707.8 610.3 708 610.9 708.3 611.7 708.5 610.4 708.8 611.4 709 610.2 709.3 610.4 709.5 610.6 709.8 610.5 710 610.3 710.3 608.8 710.5 608.9 710.8 609.6 711 608 711.3 609.1 711.5 608.6 711.8 608.6 712 608.9 712.3 610 712.5 609.5 712.8 608.8 713 610.4 713.3 609 713.5 608.6 713.8 608" fill="none" stroke="#7f7f7f" stroke-width="1.3" stroke-linejoin="round" clip-path="url(#c8)"/>
<text transform="translate(405.3 634.1) scale(0.720 1)" font-family="Liberation Sans" font-size="22" text-anchor="end" fill="#505050" stroke="#505050" stroke-width="0.28">0</text>
<text transform="translate(405.3 564.6) scale(0.720 1)" font-family="Liberation Sans" font-size="22" text-anchor="end" fill="#505050" stroke="#505050" stroke-width="0.28">2</text>
<text transform="translate(405.3 496.1) scale(0.720 1)" font-family="Liberation Sans" font-size="22" text-anchor="end" fill="#505050" stroke="#505050" stroke-width="0.28">4</text>
<text transform="translate(445.2 655.9) scale(0.720 1)" font-family="Liberation Sans" font-size="22" text-anchor="middle" fill="#505050" stroke="#505050" stroke-width="0.28">2019</text>
<text transform="translate(521.1 655.9) scale(0.720 1)" font-family="Liberation Sans" font-size="22" text-anchor="middle" fill="#505050" stroke="#505050" stroke-width="0.28">2020</text>
<text transform="translate(597.3 655.9) scale(0.720 1)" font-family="Liberation Sans" font-size="22" text-anchor="middle" fill="#505050" stroke="#505050" stroke-width="0.28">2021</text>
<text transform="translate(673.2 655.9) scale(0.720 1)" font-family="Liberation Sans" font-size="22" text-anchor="middle" fill="#505050" stroke="#505050" stroke-width="0.28">2022</text>
<rect x="36.7" y="763.6" width="326.3" height="163.9" fill="#E5ECF6"/>
<path d="M36.7 811.1H363" stroke="#d4d4d4" stroke-width="1.7"/>
<path d="M36.7 874.8H363" stroke="#626468" stroke-width="2"/>
<path d="M37 876.8 37.2 856.8 37.4 886.3 37.7 867.8 37.9 868.3 38.1 868.4 38.3 871.1 38.6 874.8 38.8 878.6 39 876.5 39.2 879.5 39.4 888.1 39.7 869.6 39.9 870.9 40.1 884.2 40.3 871.8 40.5 875.2 40.8 876.1 41 877.5 41.2 876.9 41.4 870.9 41.7 875.8 41.9 881.5 42.1 866.1 42.3 892.8 42.5 873.3 42.8 869.3 43 877.6 43.2 872.3 43.4 876.9 43.7 874.2 43.9 866.1 44.1 882.2 44.3 877.6 44.5 872.7 44.8 875.5 45 857.2 45.2 877.1 45.4 877.5 45.6 877.7 45.9 876.6 46.1 873.4 46.3 870 46.5 879.4 46.8 874 47 885.5 47.2 871.1 47.4 868.6 47.6 873.9 47.9 867.9 48.1 881.2 48.3 872.6 48.5 873.2 48.8 877.6 49 871.6 49.2 874.7 49.4 873.6 49.6 880.8 49.9 876.9 50.1 873 50.3 877.5 50.5 872.8 50.7 851 51 874.9 51.2 877.3 51.4 870.2 51.6 879.2 51.9 873.4 52.1 880.5 52.3 873.4 52.5 871.2 52.7 872.6 53 869.5 53.2 875.1 53.4 876.2 53.6 892.8 53.9 873.9 54.1 876.2 54.3 876.5 54.5 874.4 54.7 871.2 55 877.9 55.2 875.5 55.4 870 55.6 867.1 55.8 873.7 56.1 882.1 56.3 876.6 56.5 872.9 56.7 873.6 57 885.9 57.2 874.8 57.4 878.1 57.6 872.1 57.8 879.7 58.1 874.8 58.3 873.2 58.5 872.3 58.7 852 58.9 873.6 59.2 870.1 59.4 867.6 59.6 878.1 59.8 883.2 60.1 867.7 60.3 870.7 60.5 875.5 60.7 869.1 60.9 878.3 61.2 879.6 61.4 882.6 61.6 873.9 61.8 872.6 62.1 863.7 62.3 874.4 62.5 872.5 62.7 869.5 62.9 877.6 63.2 869.3 63.4 883.5 63.6 874.8 63.8 871.7 64 876.8 64.3 879.8 64.5 877.2 64.7 876.3 64.9 875.2 65.2 872 65.4 873.2 65.6 872.1 65.8 868.8 66 869.7 66.3 875 66.5 871.6 66.7 871.9 66.9 868.6 67.2 864.1 67.4 876.3 67.6 840.8 67.8 881.5 68 882.3 68.3 877.3 68.5 871.2 68.7 874.2 68.9 872.7 69.1 872.4 69.4 873.5 69.6 878.2 69.8 877.4 70 883.2 70.3 873.2 70.5 867.8 70.7 876.6 70.9 848 71.1 870.6 71.4 880.4 71.6 877.1 71.8 877 72 875.8 72.3 874.9 72.5 874 72.7 865.1 72.9 873.8 73.1 871.2 73.4 869.7 73.6 876 73.8 879.4 74 877.7 74.2 919.2 74.5 880.3 74.7 881.2 74.9 868.7 75.1 882.2 75.4 892.8 75.6 866.4 75.8 880 76 851 76.2 874.6 76.5 871.7 76.7 870 76.9 866.1 77.1 887.9 77.4 870 77.6 870.6 77.8 872 78 877.1 78.2 873.9 78.5 865.2 78.7 878.8 78.9 873.6 79.1 892.8 79.3 869.9 79.6 877.1 79.8 880.5 80 872.3 80.2 880.3 80.5 874 80.7 878.9 80.9 877 81.1 873.3 81.3 870.6 81.6 872.4 81.8 877.8 82 870.5 82.2 878.3 82.5 874.6 82.7 871.7 82.9 869.1 83.1 872.7 83.3 883.3 83.6 873 83.8 858.6 84 883.3 84.2 876.9 84.4 875 84.7 881.4 84.9 871.9 85.1 868.8 85.3 881.1 85.6 872 85.8 877.7 86 881.9 86.2 874.9 86.4 866.2 86.7 880.6 86.9 885.6 87.1 875.6 87.3 879.8 87.6 892.8 87.8 878.9 88 878.6 88.2 879.7 88.4 866 88.7 866.1 88.9 847 89.1 872.2 89.3 873 89.5 879.3 89.8 866.1 90 871.8 90.2 892.8 90.4 866.7 90.7 879.4 90.9 877.6 91.1 871.9 91.3 867.5 91.5 876.6 91.8 875.1 92 864.2 92.2 877.1 92.4 876 92.7 882.2 92.9 868.8 93.1 877.9 93.3 877 93.5 872.3 93.8 872.4 94 877.4 94.2 862.8 94.4 882.9 94.6 888.5 94.9 873.4 95.1 878 95.3 870.7 95.5 882.6 95.8 875.3 96 868.7 96.2 872.6 96.4 876.6 96.6 915 96.9 870.7 97.1 879.2 97.3 877.3 97.5 874 97.8 870.7 98 877.6 98.2 871.8 98.4 873.4 98.6 875.6 98.9 885.4 99.1 874.6 99.3 873.1 99.5 882.2 99.7 889.4 100 879.6 100.2 882 100.4 879.5 100.6 870.8 100.9 892.8 101.1 869.8 101.3 874.1 101.5 870.9 101.7 869.6 102 874.9 102.2 879.9 102.4 871.8 102.6 879.4 102.8 876.4 103.1 885.8 103.3 872.2 103.5 875.8 103.7 877.4 104 872.6 104.2 871 104.4 874.6 104.6 876.2 104.8 859.2 105.1 873.5 105.3 875.7 105.5 876.5 105.7 878.9 106 870.1 106.2 890.4 106.4 875 106.6 877.6 106.8 872.6 107.1 858.2 107.3 880.8 107.5 871.5 107.7 871.7 107.9 875.9 108.2 872.3 108.4 875 108.6 877.5 108.8 873.1 109.1 879.1 109.3 864.1 109.5 870.3 109.7 863.1 109.9 875.6 110.2 876.8 110.4 874.5 110.6 869.4 110.8 885.9 111.1 877.8 111.3 872.1 111.5 879.5 111.7 874.9 111.9 858.3 112.2 878.2 112.4 872.7 112.6 877.7 112.8 872.6 113 872.5 113.3 872.3 113.5 880.3 113.7 874 113.9 875.5 114.2 879.2 114.4 880.7 114.6 875.9 114.8 878.1 115 867.6 115.3 871.4 115.5 853 115.7 863.4 115.9 873 116.2 874.3 116.4 872 116.6 875.2 116.8 867.8 117 874.7 117.3 879.1 117.5 873.8 117.7 866.6 117.9 869.3 118.1 875.3 118.4 872.6 118.6 870.2 118.8 875.2 119 875.6 119.3 876.6 119.5 875.7 119.7 873 119.9 849 120.1 873.2 120.4 874.7 120.6 872.9 120.8 872.8 121 881.3 121.3 873.1 121.5 877.3 121.7 874 121.9 868.7 122.1 872.1 122.4 866.3 122.6 868.6 122.8 877.2 123 872.6 123.2 856.8 123.5 875.5 123.7 875.9 123.9 872.5 124.1 873.6 124.4 875.5 124.6 878.2 124.8 880 125 876.3 125.2 866.2 125.5 873.6 125.7 873.1 125.9 872.2 126.1 871.6 126.4 877.5 126.6 874.2 126.8 867.5 127 876.8 127.2 871.3 127.5 872.8 127.7 870.5 127.9 879 128.1 874.6 128.3 878.6 128.6 874.1 128.8 876.2 129 876.5 129.2 870.6 129.5 875.1 129.7 874.6 129.9 868.9 130.1 874.4 130.3 873.1 130.6 863.5 130.8 875.2 131 880.7 131.2 874.8 131.5 875.7 131.7 880.2 131.9 868.9 132.1 875.6 132.3 868.7 132.6 881.1 132.8 876.1 133 873.1 133.2 874.9 133.4 873.3 133.7 874.1 133.9 871.2 134.1 872.3 134.3 877.6 134.6 873.7 134.8 875 135 866.7 135.2 891.8 135.4 874.7 135.7 876.3 135.9 833.3 136.1 878 136.3 880 136.6 875.3 136.8 874.2 137 876.7 137.2 879.1 137.4 874.7 137.7 868.7 137.9 876.5 138.1 884.5 138.3 873.6 138.5 872.6 138.8 873.3 139 860.9 139.2 872.1 139.4 874.3 139.7 878.1 139.9 873.5 140.1 868.7 140.3 876.9 140.5 891.9 140.8 881.7 141 878.4 141.2 888.6 141.4 873.8 141.6 873.7 141.9 864.1 142.1 873.6 142.3 872.4 142.5 898.3 142.8 865.2 143 875.7 143.2 874.9 143.4 873.9 143.6 870.5 143.9 865.3 144.1 867.4 144.3 892.8 144.5 868.9 144.8 869.2 145 885.8 145.2 868.9 145.4 885.2 145.6 872.6 145.9 874.4 146.1 876.1 146.3 869.3 146.5 865.1 146.7 869.5 147 876.6 147.2 875 147.4 872.8 147.6 872.9 147.9 878.4 148.1 871.4 148.3 874.6 148.5 882.7 148.7 875.8 149 878.7 149.2 877.9 149.4 875.2 149.6 872.9 149.9 873 150.1 876.8 150.3 874.9 150.5 873.6 150.7 886.6 151 880.8 151.2 882.3 151.4 876 151.6 867.8 151.8 881.5 152.1 872.6 152.3 879.3 152.5 868.6 152.7 869.2 153 874.6 153.2 877.9 153.4 877.5 153.6 876.8 153.8 892.8 154.1 861 154.3 877.3 154.5 876.9 154.7 882 155 878.5 155.2 872.1 155.4 865.4 155.6 878.2 155.8 868.5 156.1 870.1 156.3 876.6 156.5 875.8 156.7 870.7 156.9 875.2 157.2 874.6 157.4 873.2 157.6 873.9 157.8 877.9 158.1 875.1 158.3 881.4 158.5 873.5 158.7 874.3 158.9 868.5 159.2 874.1 159.4 872.4 159.6 890 159.8 872.8 160.1 905 160.3 872.8 160.5 874.5 160.7 866.8 160.9 874 161.2 875.8 161.4 875.2 161.6 869.9 161.8 875.7 162 882.2 162.3 879.4 162.5 871.4 162.7 879.3 162.9 871.6 163.2 869.7 163.4 868.2 163.6 877.4 163.8 872.8 164 872.1 164.3 873.7 164.5 883.7 164.7 880 164.9 880.1 165.2 868.6 165.4 876.1 165.6 880 165.8 873.8 166 867.2 166.3 876.2 166.5 865.5 166.7 885.9 166.9 866.8 167.1 873.9 167.4 882.3 167.6 869.4 167.8 872.5 168 870.8 168.3 873.3 168.5 892 168.7 875.9 168.9 877.5 169.1 877.8 169.4 877.7 169.6 874.9 169.8 875.3 170 879.1 170.3 874.9 170.5 873 170.7 872 170.9 882.7 171.1 869.1 171.4 872.4 171.6 874.4 171.8 874.3 172 863.4 172.2 878.7 172.5 879.6 172.7 872.4 172.9 873.4 173.1 875.5 173.4 771.7 173.6 868.7 173.8 897.5 174 875.2 174.2 872.4 174.5 874.1 174.7 872.2 174.9 878.2 175.1 875.7 175.4 878.6 175.6 875.9 175.8 872.6 176 859.5 176.2 875.7 176.5 875.3 176.7 873.4 176.9 872.7 177.1 872 177.3 867.6 177.6 879.5 177.8 861.7 178 873.4 178.2 875.9 178.5 879.1 178.7 872.7 178.9 880.4 179.1 874.2 179.3 873.5 179.6 869.7 179.8 879.7 180 875.6 180.2 868.6 180.4 878.7 180.7 877.4 180.9 867 181.1 875.2 181.3 863.5 181.6 869.1 181.8 879.2 182 884.8 182.2 883.8 182.4 875.4 182.7 875.2 182.9 866.4 183.1 864.8 183.3 865.5 183.6 876.6 183.8 866.1 184 874.8 184.2 880.3 184.4 873.9 184.7 872.3 184.9 876.2 185.1 874.3 185.3 870.1 185.5 869.1 185.8 877.8 186 875.3 186.2 872.6 186.4 881.5 186.7 874.6 186.9 872.7 187.1 872.6 187.3 868.5 187.5 876.1 187.8 881.5 188 873 188.2 880.8 188.4 873.1 188.7 880.9 188.9 875.8 189.1 878.5 189.3 860.5 189.5 877.7 189.8 872.6 190 862 190.2 869.3 190.4 874 190.6 873.6 190.9 873.2 191.1 859.4 191.3 871.1 191.5 872.4 191.8 883.1 192 866.9 192.2 878.9 192.4 868.6 192.6 879.4 192.9 875.6 193.1 884.4 193.3 867.7 193.5 874.2 193.8 880 194 877.9 194.2 879.3 194.4 868.2 194.6 884.8 194.9 871.8 195.1 879.7 195.3 866.5 195.5 873.4 195.7 884.6 196 877.6 196.2 873.8 196.4 862.1 196.6 867.4 196.9 878.2 197.1 877.5 197.3 868.4 197.5 873.8 197.7 871.8 198 876.1 198.2 868.5 198.4 875 198.6 876 198.9 877.5 199.1 869.9 199.3 873.5 199.5 880 199.7 872.5 200 876 200.2 875.8 200.4 870.9 200.6 876.9 200.8 877.2 201.1 886.1 201.3 878.7 201.5 868.8 201.7 869.7 202 882.9 202.2 881.3 202.4 877 202.6 867.7 202.8 886.3 203.1 871.5 203.3 867.1 203.5 888.7 203.7 875.7 204 873.8 204.2 872.3 204.4 892.8 204.6 861.9 204.8 878.6 205.1 882.4 205.3 873.5 205.5 873.1 205.7 871.2 205.9 875.8 206.2 871 206.4 865.8 206.6 881.4 206.8 876.7 207.1 890.5 207.3 872.3 207.5 878.1 207.7 871.8 207.9 863.6 208.2 876.3 208.4 875.2 208.6 872.8 208.8 869.5 209.1 879.8 209.3 883.8 209.5 875.7 209.7 875.7 209.9 873.5 210.2 878.1 210.4 874.5 210.6 874.3 210.8 870.1 211 875.5 211.3 874 211.5 871.6 211.7 877.8 211.9 875 212.2 848 212.4 880.3 212.6 869.7 212.8 864.2 213 874.4 213.3 868.3 213.5 866.5 213.7 873.1 213.9 876.5 214.2 883.4 214.4 876 214.6 873.4 214.8 878.2 215 875.8 215.3 872.2 215.5 870.6 215.7 874.4 215.9 881.9 216.1 882 216.4 868 216.6 875.7 216.8 872.2 217 879.5 217.3 873.9 217.5 874.2 217.7 873.2 217.9 876.6 218.1 877.3 218.4 871.4 218.6 871 218.8 877.4 219 870.2 219.3 875.7 219.5 876 219.7 873.2 219.9 869.2 220.1 877 220.4 862.2 220.6 873.2 220.8 880.2 221 876.6 221.2 875.2 221.5 876.4 221.7 868.8 221.9 873 222.1 881.2 222.4 875 222.6 873.5 222.8 873.4 223 873.6 223.2 878 223.5 873.6 223.7 874.2 223.9 873.8 224.1 870.2 224.3 882 224.6 871.8 224.8 867.5 225 856.8 225.2 868.7 225.5 879.5 225.7 874.8 225.9 889.3 226.1 866 226.3 881 226.6 880.4 226.8 872.3 227 870.8 227.2 875.6 227.5 868.8 227.7 878.9 227.9 871.6 228.1 856.8 228.3 886.2 228.6 874.8 228.8 880.1 229 886.6 229.2 875.7 229.4 876.5 229.7 893.7 229.9 874.6 230.1 874.7 230.3 877.9 230.6 877 230.8 879.8 231 877.7 231.2 874.4 231.4 881.9 231.7 881.1 231.9 875.4 232.1 880.6 232.3 876.6 232.6 878 232.8 868.3 233 885.8 233.2 880.3 233.4 875.4 233.7 882.5 233.9 871.9 234.1 870.8 234.3 868.1 234.5 874.7 234.8 881.2 235 868.2 235.2 877 235.4 875.7 235.7 859.3 235.9 861.5 236.1 878.3 236.3 879.8 236.5 879.9 236.8 866.6 237 888.4 237.2 872.4 237.4 859 237.7 880.8 237.9 872 238.1 864.7 238.3 874.4 238.5 875.3 238.8 885.6 239 864.4 239.2 871.5 239.4 885.7 239.6 876.5 239.9 872.7 240.1 906.5 240.3 878.8 240.5 842 240.8 878.7 241 870.1 241.2 872.2 241.4 870.2 241.6 873.9 241.9 873.3 242.1 871.9 242.3 877.1 242.5 878.1 242.8 870.4 243 864.2 243.2 877.1 243.4 878.2 243.6 870.5 243.9 882.9 244.1 879.5 244.3 875.7 244.5 871.7 244.7 874.4 245 869 245.2 868.3 245.4 870.2 245.6 872.2 245.9 869.7 246.1 878.2 246.3 873.6 246.5 883.2 246.7 875.5 247 864.2 247.2 864 247.4 873.1 247.6 886.4 247.9 863.2 248.1 869.8 248.3 882.4 248.5 887.4 248.7 877.3 249 878.5 249.2 877.9 249.4 873.1 249.6 861.8 249.8 878.8 250.1 861.7 250.3 856.8 250.5 874.6 250.7 876.4 251 883.4 251.2 876.7 251.4 876.8 251.6 883.8 251.8 892.8 252.1 870.9 252.3 872.7 252.5 870 252.7 876.5 253 878.3 253.2 870.5 253.4 870.9 253.6 856.8 253.8 859.2 254.1 870.5 254.3 872.8 254.5 889.6 254.7 867.9 254.9 867.2 255.2 875.5 255.4 878.2 255.6 872.6 255.8 884 256.1 886.9 256.3 877.3 256.5 879.6 256.7 875.1 256.9 875.2 257.2 884.5 257.4 867 257.6 873.4 257.8 868.4 258.1 861.6 258.3 872.4 258.5 875.3 258.7 865.3 258.9 876.9 259.2 874.8 259.4 872.6 259.6 880.9 259.8 857.7 260 865.4 260.3 873.6 260.5 881.8 260.7 878.5 260.9 861.4 261.2 871.5 261.4 877 261.6 873.7 261.8 872.8 262 873.6 262.3 870.2 262.5 870.5 262.7 871.2 262.9 870.8 263.1 874.8 263.4 871.7 263.6 873.3 263.8 878 264 883.6 264.3 883.9 264.5 887.2 264.7 863.8 264.9 878.2 265.1 877.2 265.4 870.5 265.6 876.6 265.8 919.2 266 881 266.3 874.2 266.5 870 266.7 873 266.9 879.7 267.1 866.7 267.4 878.5 267.6 873.1 267.8 877.9 268 880.5 268.2 874.1 268.5 870.1 268.7 802.2 268.9 870.1 269.1 872.7 269.4 874.2 269.6 876.9 269.8 880.1 270 890.3 270.2 909.5 270.5 877.8 270.7 865.1 270.9 869.4 271.1 879.3 271.4 869.9 271.6 882.4 271.8 871.2 272 872.7 272.2 878.7 272.5 877.2 272.7 875.5 272.9 872.5 273.1 874.4 273.3 877.7 273.6 875.3 273.8 870.9 274 873.3 274.2 866.7 274.5 871.2 274.7 871.8 274.9 875.9 275.1 874.3 275.3 877.6 275.6 879 275.8 873.8 276 873.2 276.2 876.9 276.5 887.7 276.7 879.2 276.9 877.5 277.1 879.3 277.3 866.1 277.6 878 277.8 882.2 278 868.1 278.2 879.6 278.4 872.9 278.7 870.4 278.9 882.8 279.1 874.7 279.3 867.6 279.6 875.7 279.8 875.4 280 877 280.2 880.7 280.4 873.4 280.7 868.8 280.9 872.2 281.1 869.9 281.3 876.1 281.6 877.6 281.8 874.1 282 874.9 282.2 873.3 282.4 882.2 282.7 881.2 282.9 869 283.1 871 283.3 883.2 283.5 877.8 283.8 868.3 284 859.2 284.2 874 284.4 889.2 284.7 873.6 284.9 882.2 285.1 874.6 285.3 872.9 285.5 871.1 285.8 878.3 286 873.5 286.2 880.5 286.4 856.8 286.7 873.6 286.9 872.2 287.1 872.8 287.3 875.4 287.5 875.2 287.8 868 288 871.4 288.2 879.6 288.4 874.5 288.6 867.5 288.9 878.8 289.1 869.8 289.3 876.7 289.5 880.9 289.8 879.7 290 866.1 290.2 873.4 290.4 881 290.6 874 290.9 880.4 291.1 875.9 291.3 885.9 291.5 864.5 291.8 880.2 292 875.6 292.2 869.6 292.4 871.5 292.6 872.7 292.9 869.9 293.1 873.1 293.3 865.7 293.5 884.6 293.7 881.7 294 878.5 294.2 873.3 294.4 876 294.6 875.4 294.9 877 295.1 883.6 295.3 878.4 295.5 873 295.7 881.8 296 872.2 296.2 875.9 296.4 871.9 296.6 877.2 296.9 869.8 297.1 866 297.3 873.4 297.5 875.5 297.7 877.2 298 878.6 298.2 869.9 298.4 877.2 298.6 870.6 298.8 878.8 299.1 865.2 299.3 864.8 299.5 875.2 299.7 878.4 300 874.6 300.2 869.2 300.4 871.1 300.6 868.9 300.8 879.5 301.1 889.9 301.3 878.8 301.5 885.8 301.7 874.9 301.9 872.8 302.2 870.5 302.4 876.2 302.6 878.2 302.8 872.1 303.1 874.2 303.3 873.3 303.5 875.7 303.7 879.4 303.9 885.2 304.2 875.8 304.4 886.9 304.6 875.5 304.8 878.3 305.1 876.2 305.3 876.1 305.5 875.5 305.7 876.9 305.9 866.3 306.2 871.9 306.4 869.4 306.6 868.4 306.8 871.9 307 882.4 307.3 876.8 307.5 872.2 307.7 877.6 307.9 871.8 308.2 869.6 308.4 873.4 308.6 882.7 308.8 879.3 309 877.3 309.3 883.4 309.5 876.3 309.7 871.2 309.9 872.7 310.2 884.9 310.4 867.4 310.6 871.9 310.8 877.5 311 873.1 311.3 874.1 311.5 878.6 311.7 873.5 311.9 877 312.1 870.4 312.4 879.7 312.6 874 312.8 875.1 313 891.3 313.3 876.1 313.5 886.1 313.7 877.1 313.9 864.4 314.1 866.8 314.4 877.4 314.6 868.3 314.8 869.6 315 881.4 315.3 860.5 315.5 869.5 315.7 876.2 315.9 869.9 316.1 869.6 316.4 875 316.6 884.7 316.8 872.6 317 873.4 317.2 874.9 317.5 879.1 317.7 871.7 317.9 873.8 318.1 873.8 318.4 856.8 318.6 883.7 318.8 875.3 319 881.3 319.2 878.1 319.5 879.5 319.7 874.3 319.9 874.9 320.1 869 320.4 873.5 320.6 869.6 320.8 871.2 321 865.9 321.2 874.5 321.5 869 321.7 867.3 321.9 878.2 322.1 881.3 322.3 883.6 322.6 867.3 322.8 874.7 323 874.6 323.2 877.4 323.5 876.4 323.7 873.9 323.9 863.6 324.1 873.7 324.3 872.8 324.6 876.1 324.8 876.3 325 873.4 325.2 875.1 325.5 869 325.7 863.9 325.9 870.3 326.1 877.2 326.3 872.1 326.6 877.3 326.8 865.4 327 878 327.2 873.8 327.4 866.7 327.7 868 327.9 877.8 328.1 872.6 328.3 883.5 328.6 875.2 328.8 872.5 329 874.7 329.2 867.8 329.4 866.8 329.7 869.6 329.9 884.3 330.1 877 330.3 870.7 330.6 874.9 330.8 873.5 331 873.2 331.2 880 331.4 856.8 331.7 874.4 331.9 884.3 332.1 875 332.3 875.6 332.5 873.7 332.8 872.9 333 877 333.2 877.5 333.4 872.9 333.7 878 333.9 873.5 334.1 875.7 334.3 872.7 334.5 874.5 334.8 861.4 335 876.4 335.2 873.3 335.4 874.7 335.7 879.1 335.9 872.2 336.1 872.9 336.3 879.9 336.5 881.1 336.8 874.7 337 879.2 337.2 869.3 337.4 879 337.6 879.5 337.9 869.5 338.1 877.9 338.3 874.8 338.5 865.9 338.8 878.4 339 872.7 339.2 869.1 339.4 870.2 339.6 888.8 339.9 873 340.1 866.5 340.3 875.7 340.5 879.5 340.8 871 341 873.3 341.2 874.3 341.4 882.1 341.6 881.9 341.9 866.5 342.1 861.1 342.3 868.1 342.5 872.3 342.7 876.2 343 865.5 343.2 879.4 343.4 875.5 343.6 872.7 343.9 883 344.1 872.9 344.3 874.7 344.5 870.5 344.7 874.9 345 849 345.2 874.9 345.4 868.4 345.6 868.8 345.8 882 346.1 890.1 346.3 873.3 346.5 866.1 346.7 873.3 347 868 347.2 884.7 347.4 847.2 347.6 877.7 347.8 874.7 348.1 875.1 348.3 876.8 348.5 873.1 348.7 871.9 349 878.8 349.2 870.7 349.4 873.8 349.6 870.9 349.8 871.3 350.1 871.8 350.3 872.1 350.5 881.1 350.7 871.9 350.9 874 351.2 873.7 351.4 873.6 351.6 876 351.8 881.6 352.1 867.2 352.3 875.3 352.5 870.5 352.7 870.8 352.9 879.4 353.2 869.1 353.4 881.6 353.6 877.2 353.8 873.4 354.1 878.8 354.3 872.7 354.5 870.9 354.7 880 354.9 875.7 355.2 873.8 355.4 882.3 355.6 864.4 355.8 876.9 356 875.9 356.3 880.4 356.5 870.6 356.7 876.3 356.9 883.5 357.2 872.6 357.4 872.4 357.6 874.8 357.8 874.1 358 874.4 358.3 871.5 358.5 880.4 358.7 874.5 358.9 874.7 359.2 878.6 359.4 866.6 359.6 874.5 359.8 876 360 876 360.3 872.6 360.5 876.8 360.7 868.9 360.9 878.3 361.1 874.9 361.4 877.4 361.6 873.2 361.8 861.7 362 872.3 362.3 878.8 362.5 871.9 362.7 874.1" fill="none" stroke="#1f77b4" stroke-width="1.35" stroke-linejoin="round" clip-path="url(#c9)"/>
<text transform="translate(34.7 882.2) scale(0.760 1)" font-family="Liberation Sans" font-size="20.5" text-anchor="end" fill="#505050" stroke="#505050" stroke-width="0.28">0</text>
<text transform="translate(34.7 818.5) scale(0.760 1)" font-family="Liberation Sans" font-size="20.5" text-anchor="end" fill="#505050" stroke="#505050" stroke-width="0.28">50</text>
<text transform="translate(77 949.1) scale(0.760 1)" font-family="Liberation Sans" font-size="20.5" text-anchor="middle" fill="#505050" stroke="#505050" stroke-width="0.28">2019</text>
<text transform="translate(157.8 949.1) scale(0.760 1)" font-family="Liberation Sans" font-size="20.5" text-anchor="middle" fill="#505050" stroke="#505050" stroke-width="0.28">2020</text>
<text transform="translate(238.8 949.1) scale(0.760 1)" font-family="Liberation Sans" font-size="20.5" text-anchor="middle" fill="#505050" stroke="#505050" stroke-width="0.28">2021</text>
<text transform="translate(319.6 949.1) scale(0.760 1)" font-family="Liberation Sans" font-size="20.5" text-anchor="middle" fill="#505050" stroke="#505050" stroke-width="0.28">2022</text>
<rect x="404.8" y="763.6" width="305.7" height="163.9" fill="#E5ECF6"/>
<path d="M404.8 925.8H710.5" stroke="#d4d4d4" stroke-width="1.7"/>
<path d="M404.8 852.2H710.5" stroke="#d4d4d4" stroke-width="1.7"/>
<path d="M404.8 815.8H710.5" stroke="#d4d4d4" stroke-width="1.7"/>
<path d="M404.8 778.3H710.5" stroke="#d4d4d4" stroke-width="1.7"/>
<path d="M404.8 889.2H710.5" stroke="#626468" stroke-width="2"/>
<path d="M405.1 892.7 405.3 875.2 405.5 886.5 405.7 893.3 405.9 882.4 406.1 889.4 406.3 882.4 406.6 887.2 406.8 884 407 888.2 407.2 885.6 407.4 878.6 407.6 883.2 407.8 884.9 408 891.7 408.2 904 408.4 895.5 408.6 894 408.8 889.5 409 885.9 409.3 888.9 409.5 891 409.7 883.8 409.9 876.7 410.1 891.3 410.3 888.5 410.5 897 410.7 907.2 410.9 894.5 411.1 887.2 411.3 894.2 411.5 883.5 411.7 886.4 412 886 412.2 888.3 412.4 888.8 412.6 871.2 412.8 894.8 413 899.2 413.2 894.5 413.4 887.6 413.6 882.8 413.8 893.9 414 881.4 414.2 889.8 414.4 887.3 414.7 884 414.9 883.8 415.1 877.3 415.3 883.7 415.5 894.3 415.7 884.7 415.9 886.8 416.1 892.6 416.3 884.8 416.5 884.1 416.7 891.6 416.9 891.2 417.1 889.7 417.4 889.9 417.6 890.7 417.8 891.9 418 885.1 418.2 886.3 418.4 870 418.6 891.8 418.8 891.2 419 888.5 419.2 888.7 419.4 887.9 419.6 897 419.8 894.5 420.1 881.8 420.3 883.8 420.5 881.7 420.7 892 420.9 889.6 421.1 894.9 421.3 906.2 421.5 886 421.7 891.8 421.9 896.2 422.1 891.4 422.3 903.5 422.5 894.9 422.8 893.1 423 892 423.2 875.2 423.4 893.9 423.6 890.1 423.8 900.7 424 905.6 424.2 888.4 424.4 891.2 424.6 888.1 424.8 882.3 425 890.8 425.2 890.4 425.5 887.7 425.7 875.7 425.9 891.2 426.1 892.3 426.3 902.8 426.5 871.2 426.7 902.7 426.9 898.9 427.1 894.3 427.3 879.6 427.5 884.9 427.7 895.9 427.9 899.6 428.2 887.6 428.4 885.5 428.6 888.9 428.8 888.8 429 891.1 429.2 884.4 429.4 897 429.6 899.7 429.8 887.6 430 887.2 430.2 893.6 430.4 885.5 430.6 889.7 430.9 886.3 431.1 894.2 431.3 894.3 431.5 895 431.7 884.2 431.9 887.4 432.1 894.6 432.3 894.7 432.5 877.3 432.7 896.6 432.9 889 433.1 881.8 433.3 857.5 433.6 907.2 433.8 889 434 901.4 434.2 889 434.4 890 434.6 892.5 434.8 900.3 435 884.4 435.2 889.6 435.4 891.5 435.6 891.4 435.8 896.4 436 901.7 436.3 891.1 436.5 878.3 436.7 887.7 436.9 879.5 437.1 885.4 437.3 892.1 437.5 876.8 437.7 885.5 437.9 892.1 438.1 892.6 438.3 883.7 438.5 883.8 438.7 887.8 439 891.9 439.2 892.6 439.4 873.4 439.6 889.1 439.8 881.2 440 888.1 440.2 892.7 440.4 888.2 440.6 888.6 440.8 886 441 888 441.2 892.4 441.4 886 441.7 888.5 441.9 896.7 442.1 886 442.3 884.7 442.5 894.8 442.7 887.7 442.9 887.6 443.1 887.2 443.3 885.1 443.5 891.3 443.7 891.1 443.9 868 444.1 891.4 444.4 887.5 444.6 887.4 444.8 890.4 445 891.8 445.2 890.6 445.4 889.4 445.6 882.9 445.8 889.6 446 888.2 446.2 894.3 446.4 889.9 446.6 890.3 446.8 888.5 447.1 884.7 447.3 890.7 447.5 889 447.7 893.9 447.9 891.3 448.1 891.4 448.3 888.3 448.5 886 448.7 886 448.9 887.9 449.1 883.3 449.3 886.5 449.5 889.1 449.8 893.8 450 883.1 450.2 890.7 450.4 890.7 450.6 893 450.8 886.8 451 889.1 451.2 876.1 451.4 871.2 451.6 887.6 451.8 893.9 452 875 452.2 891.7 452.5 892.4 452.7 891.5 452.9 891.1 453.1 878.6 453.3 883.3 453.5 885.5 453.7 889.7 453.9 887.7 454.1 892.8 454.3 893.1 454.5 887.2 454.7 902.3 454.9 883.9 455.2 887.7 455.4 879 455.6 883.7 455.8 896.8 456 879.4 456.2 892.7 456.4 886.9 456.6 889.5 456.8 896.3 457 890 457.2 888.2 457.4 889.1 457.6 884.6 457.9 888.4 458.1 894.3 458.3 887.1 458.5 890.6 458.7 887.8 458.9 895.4 459.1 891.4 459.3 889.9 459.5 895.2 459.7 880.7 459.9 885.7 460.1 894.5 460.3 887.8 460.6 896 460.8 887.9 461 885.9 461.2 885.8 461.4 893.2 461.6 890.8 461.8 918.3 462 907.2 462.2 887.5 462.4 881.6 462.6 875.4 462.8 886.1 463 893 463.3 886.2 463.5 903.4 463.7 873.2 463.9 889.6 464.1 890.6 464.3 896.4 464.5 879.6 464.7 888.2 464.9 886.2 465.1 893.2 465.3 890.1 465.5 888 465.7 899.2 466 893.1 466.2 890 466.4 892.6 466.6 898 466.8 882.4 467 882.6 467.2 886.5 467.4 876 467.6 874.9 467.8 892.1 468 895.9 468.2 889 468.4 887.4 468.7 886.2 468.9 888.2 469.1 901.6 469.3 887.2 469.5 885.5 469.7 882.5 469.9 889.8 470.1 887.1 470.3 891.7 470.5 880.6 470.7 881.5 470.9 892 471.1 893.8 471.4 895 471.6 885.3 471.8 886.7 472 893.1 472.2 886.6 472.4 888.8 472.6 888.1 472.8 900.9 473 895.8 473.2 887.5 473.4 889.7 473.6 892.8 473.8 883.5 474.1 887.5 474.3 891.9 474.5 887.5 474.7 887.3 474.9 880 475.1 900 475.3 888.6 475.5 891.1 475.7 896.5 475.9 893.4 476.1 894.6 476.3 887.5 476.5 881.7 476.8 894 477 887.6 477.2 883.4 477.4 885.1 477.6 887 477.8 892.8 478 879.4 478.2 884.2 478.4 882.9 478.6 891.1 478.8 904.7 479 884.9 479.2 860 479.5 888.4 479.7 882.4 479.9 891.7 480.1 890.3 480.3 887.7 480.5 885.9 480.7 893 480.9 897.7 481.1 879.8 481.3 882 481.5 872.8 481.7 897.6 481.9 876.6 482.2 878.1 482.4 892.1 482.6 886.2 482.8 890.7 483 896.2 483.2 889.2 483.4 860.8 483.6 882.5 483.8 889.6 484 893.1 484.2 893.8 484.4 888.8 484.6 889.1 484.9 890.5 485.1 888.4 485.3 886.8 485.5 893.9 485.7 888.2 485.9 896.6 486.1 893.6 486.3 891.1 486.5 883.7 486.7 875.3 486.9 890.2 487.1 894.8 487.3 884.6 487.6 888.2 487.8 886.6 488 893.6 488.2 887.7 488.4 883.4 488.6 894.5 488.8 886.7 489 890.1 489.2 895.2 489.4 871.2 489.6 888.5 489.8 895.5 490 903 490.3 887.5 490.5 881.8 490.7 880.1 490.9 871.2 491.1 892.5 491.3 886.5 491.5 894.6 491.7 892.7 491.9 883 492.1 903.5 492.3 877.5 492.5 885.6 492.7 890.6 493 898.4 493.2 884.1 493.4 879.9 493.6 884.2 493.8 887.1 494 904.5 494.2 891.1 494.4 900.3 494.6 890.9 494.8 897.4 495 894.5 495.2 887.9 495.4 895.9 495.7 889.9 495.9 883.6 496.1 884.3 496.3 892.6 496.5 878 496.7 887.8 496.9 883.5 497.1 893.4 497.3 885.4 497.5 864.2 497.7 887.7 497.9 874.9 498.1 889 498.4 898.9 498.6 895.4 498.8 897.9 499 895.7 499.2 889.3 499.4 897.9 499.6 892.3 499.8 885.1 500 899 500.2 886.7 500.4 879.6 500.6 882.7 500.8 887.4 501.1 897.9 501.3 889.5 501.5 892.9 501.7 885.2 501.9 892.2 502.1 894.4 502.3 890.3 502.5 891.5 502.7 892.3 502.9 892.7 503.1 885.9 503.3 892.8 503.5 893.1 503.8 899.3 504 903.6 504.2 915.8 504.4 890.5 504.6 887.4 504.8 876.9 505 882.8 505.2 900.2 505.4 886 505.6 881.1 505.8 894.3 506 890.7 506.2 896.9 506.5 896.1 506.7 888.2 506.9 880.8 507.1 905.8 507.3 891.4 507.5 885.9 507.7 885.8 507.9 889.6 508.1 891.6 508.3 887.1 508.5 881 508.7 884.2 508.9 887.1 509.2 894.6 509.4 907.2 509.6 891.5 509.8 886.7 510 903 510.2 884 510.4 883.8 510.6 881.9 510.8 892.7 511 884.5 511.2 883.1 511.4 893.2 511.6 891.3 511.9 893.4 512.1 889.6 512.3 896.6 512.5 901.3 512.7 886.7 512.9 879.6 513.1 890.5 513.3 891.4 513.5 889.5 513.7 885.5 513.9 871.2 514.1 878.8 514.3 885.4 514.6 886 514.8 889.8 515 893.9 515.2 885.3 515.4 884.3 515.6 885.4 515.8 887.6 516 887.8 516.2 877.6 516.4 886.8 516.6 887.3 516.8 889.4 517 876.9 517.3 896.8 517.5 883 517.7 896.4 517.9 893.4 518.1 891.7 518.3 885.3 518.5 894.6 518.7 887.8 518.9 886.1 519.1 895.3 519.3 880 519.5 894.7 519.7 883.8 520 890.4 520.2 892.4 520.4 880.6 520.6 894.3 520.8 902.1 521 895.1 521.2 885.6 521.4 884.8 521.6 885.9 521.8 879.9 522 899.6 522.2 886.8 522.4 887.8 522.7 892.3 522.9 905 523.1 882.5 523.3 892.4 523.5 891.2 523.7 891 523.9 907.2 524.1 885.6 524.3 881 524.5 898 524.7 887.7 524.9 895.7 525.1 890 525.4 886.8 525.6 901.1 525.8 895.4 526 890 526.2 894.7 526.4 895 526.6 887.8 526.8 887 527 885.3 527.2 887.7 527.4 889.2 527.6 878.5 527.8 891.3 528.1 876.5 528.3 891.3 528.5 896.4 528.7 885 528.9 890.1 529.1 892.2 529.3 891.9 529.5 888.4 529.7 888.5 529.9 890.3 530.1 907.2 530.3 890 530.5 902.3 530.8 892.7 531 893 531.2 886.8 531.4 907.2 531.6 887.4 531.8 883.2 532 881.9 532.2 889.1 532.4 882.8 532.6 886.3 532.8 771.7 533 894.5 533.2 915 533.5 890.4 533.7 886.5 533.9 896.7 534.1 887.2 534.3 894.8 534.5 887 534.7 893.1 534.9 886.1 535.1 892.9 535.3 886.8 535.5 890.6 535.7 895.3 535.9 894.3 536.2 890.9 536.4 885.6 536.6 891.2 536.8 887.3 537 891.8 537.2 886.6 537.4 885.3 537.6 885.9 537.8 890.9 538 889.1 538.2 888.7 538.4 889.1 538.6 885.5 538.9 892 539.1 904.5 539.3 894 539.5 883 539.7 889.8 539.9 886.3 540.1 892.1 540.3 891.6 540.5 885.2 540.7 888.2 540.9 887.2 541.1 890.7 541.3 888.1 541.6 885.3 541.8 887.9 542 887.3 542.2 887 542.4 896.5 542.6 888.2 542.8 885 543 888.4 543.2 890.4 543.4 887.2 543.6 888.7 543.8 886.8 544 894.1 544.3 887.3 544.5 889.4 544.7 892.8 544.9 890 545.1 894.8 545.3 889.2 545.5 892.7 545.7 887.5 545.9 888.1 546.1 892.5 546.3 892.1 546.5 888.5 546.7 887 547 887.4 547.2 896 547.4 896.3 547.6 889 547.8 881.1 548 896.7 548.2 893.9 548.4 889.4 548.6 889.1 548.8 892.8 549 894.5 549.2 894 549.4 886.7 549.7 888 549.9 891.5 550.1 883.8 550.3 890.6 550.5 888.5 550.7 888.4 550.9 891.3 551.1 893 551.3 892.5 551.5 886.5 551.7 893.9 551.9 889.1 552.1 888.1 552.4 884.9 552.6 894.9 552.8 887.2 553 898.5 553.2 892.3 553.4 894.8 553.6 888.7 553.8 897.2 554 884.6 554.2 890.4 554.4 894 554.6 890 554.8 887.5 555.1 889.1 555.3 891.9 555.5 890 555.7 889.3 555.9 889.4 556.1 888.2 556.3 894.9 556.5 889 556.7 885.7 556.9 891.3 557.1 891.5 557.3 884.3 557.5 890 557.8 890.9 558 889.1 558.2 889.6 558.4 887.4 558.6 888.3 558.8 892.4 559 894.5 559.2 892.6 559.4 889 559.6 889.4 559.8 884.4 560 885.6 560.2 883.6 560.5 887.8 560.7 886.9 560.9 891.4 561.1 887.7 561.3 899.6 561.5 888.6 561.7 890.7 561.9 887.1 562.1 891.1 562.3 887.3 562.5 889.4 562.7 893 562.9 890.5 563.2 893.5 563.4 891.3 563.6 887.3 563.8 876.5 564 894.6 564.2 889.4 564.4 904.9 564.6 890.7 564.8 887.4 565 890 565.2 887.6 565.4 888.8 565.6 894.9 565.9 886.6 566.1 870 566.3 883.3 566.5 887.5 566.7 891.5 566.9 887.7 567.1 888.1 567.3 889.5 567.5 887.4 567.7 888.5 567.9 888.5 568.1 886.8 568.3 887.1 568.6 888.4 568.8 884.7 569 894.8 569.2 889.1 569.4 891.4 569.6 889.3 569.8 891.7 570 892.5 570.2 888.8 570.4 892.9 570.6 891.3 570.8 887.3 571 888.1 571.3 888.7 571.5 889.6 571.7 888.5 571.9 886.3 572.1 885.8 572.3 895.5 572.5 891.2 572.7 883.4 572.9 890.5 573.1 890.3 573.3 892.1 573.5 891.8 573.7 882.1 574 891.3 574.2 888.5 574.4 889.2 574.6 888.2 574.8 891.3 575 887.3 575.2 890.1 575.4 891.2 575.6 882.3 575.8 898.1 576 882.8 576.2 892.3 576.4 890.2 576.7 889 576.9 886.5 577.1 890.6 577.3 887.1 577.5 886.1 577.7 887.5 577.9 895.1 578.1 889.9 578.3 889 578.5 886.7 578.7 885.4 578.9 884.9 579.1 889.2 579.4 890.1 579.6 891.7 579.8 877.8 580 888.7 580.2 893.9 580.4 887.3 580.6 891.6 580.8 886.2 581 886 581.2 883.4 581.4 885 581.6 888.3 581.8 884.5 582.1 890.7 582.3 894 582.5 888.3 582.7 893.1 582.9 890 583.1 891.1 583.3 882.5 583.5 882.8 583.7 884.1 583.9 891.2 584.1 890.1 584.3 891.6 584.5 889.9 584.8 890.6 585 910 585.2 877.5 585.4 871.2 585.6 887.3 585.8 893.2 586 884.2 586.2 891 586.4 880.9 586.6 889.7 586.8 889.2 587 884.7 587.2 882.3 587.5 884 587.7 888.2 587.9 883 588.1 890.9 588.3 887.5 588.5 890.4 588.7 888.6 588.9 886.8 589.1 893.7 589.3 887.9 589.5 888.8 589.7 891.3 589.9 887 590.2 888.4 590.4 881.4 590.6 892.5 590.8 883.8 591 896.1 591.2 889.7 591.4 893.7 591.6 899.5 591.8 879 592 891 592.2 878 592.4 888.2 592.6 888.6 592.9 892.1 593.1 893.3 593.3 888.5 593.5 882.7 593.7 891.7 593.9 893 594.1 887.3 594.3 895 594.5 882.6 594.7 887.9 594.9 895.4 595.1 882.5 595.3 889.3 595.6 884.1 595.8 889.9 596 898.1 596.2 896.6 596.4 889.7 596.6 887.1 596.8 897.6 597 886.3 597.2 896.4 597.4 889.7 597.6 860.7 597.8 890.9 598 885.4 598.3 893 598.5 883.5 598.7 885.5 598.9 878.3 599.1 889.8 599.3 890.8 599.5 890.7 599.7 889.4 599.9 889.9 600.1 891 600.3 893.1 600.5 889.6 600.7 882.9 601 875.4 601.2 887.1 601.4 892.2 601.6 920 601.8 886.8 602 887.7 602.2 891.6 602.4 888 602.6 885.7 602.8 889.7 603 891.4 603.2 880.4 603.4 898.9 603.7 891.8 603.9 895.2 604.1 889.8 604.3 891 604.5 890.4 604.7 890.5 604.9 881.4 605.1 884.9 605.3 888.3 605.5 902.2 605.7 889.9 605.9 888.1 606.1 888.2 606.4 886.9 606.6 886.9 606.8 902 607 890 607.2 888.3 607.4 886.1 607.6 882.4 607.8 889.8 608 884.1 608.2 886.1 608.4 894.5 608.6 879 608.8 905.3 609.1 888.5 609.3 895.2 609.5 896.8 609.7 886.4 609.9 886.2 610.1 889.4 610.3 899.2 610.5 900.3 610.7 896.1 610.9 890.8 611.1 890.7 611.3 886.1 611.5 887.3 611.8 892.5 612 880.3 612.2 873.6 612.4 880.9 612.6 897.4 612.8 885.4 613 888.6 613.2 883.6 613.4 883.7 613.6 884.3 613.8 889.8 614 891.7 614.2 886.7 614.5 877.8 614.7 890.2 614.9 885.4 615.1 891.9 615.3 893.9 615.5 885.6 615.7 886.8 615.9 898.3 616.1 888.7 616.3 890.9 616.5 886.1 616.7 887.4 616.9 893.7 617.2 883.4 617.4 890.2 617.6 894 617.8 887.4 618 891.4 618.2 887.9 618.4 889.1 618.6 891 618.8 893 619 886.9 619.2 893 619.4 890 619.6 899.7 619.9 887.7 620.1 887.5 620.3 890.5 620.5 888.5 620.7 886.7 620.9 885.7 621.1 891.8 621.3 888.3 621.5 890.1 621.7 894.1 621.9 888.7 622.1 859.2 622.3 883.9 622.6 889.5 622.8 891.7 623 896.3 623.2 888.5 623.4 890.8 623.6 887.5 623.8 897.9 624 895.4 624.2 889.7 624.4 896.5 624.6 895.2 624.8 892.3 625 889.4 625.3 888.1 625.5 887.4 625.7 890.8 625.9 887 626.1 895.3 626.3 888.2 626.5 890.1 626.7 888 626.9 889.4 627.1 890.6 627.3 894.1 627.5 889.1 627.7 884.5 628 896.4 628.2 888.5 628.4 888.6 628.6 900.8 628.8 887 629 892.7 629.2 889.4 629.4 888.7 629.6 888.9 629.8 891.1 630 888.1 630.2 889.6 630.4 890.5 630.7 882.3 630.9 890.5 631.1 889.3 631.3 891.2 631.5 894.6 631.7 886.4 631.9 887.5 632.1 881.4 632.3 890.8 632.5 882.4 632.7 892.9 632.9 890.2 633.1 885.9 633.4 889.6 633.6 897.8 633.8 889.2 634 894 634.2 887.8 634.4 892.1 634.6 889.3 634.8 886.9 635 878.8 635.2 886.6 635.4 888.4 635.6 890.6 635.8 892.9 636.1 864 636.3 888.5 636.5 888.7 636.7 889.4 636.9 887.3 637.1 883.2 637.3 889.8 637.5 892.4 637.7 891.9 637.9 879.8 638.1 890.9 638.3 890.4 638.5 891 638.8 893.5 639 887.6 639.2 887.9 639.4 898.5 639.6 887.8 639.8 892.5 640 892.2 640.2 888.3 640.4 895.8 640.6 898.1 640.8 895.5 641 893.8 641.2 891.1 641.5 892.6 641.7 884.9 641.9 893.5 642.1 883.4 642.3 885.2 642.5 899.1 642.7 888.7 642.9 885.2 643.1 892.1 643.3 885.9 643.5 890.9 643.7 887.7 643.9 890.7 644.2 884.8 644.4 890.2 644.6 887.2 644.8 892.1 645 905 645.2 887.3 645.4 880.8 645.6 880.4 645.8 878.3 646 896.7 646.2 881.4 646.4 890.3 646.6 907.2 646.9 896.8 647.1 889.2 647.3 887.8 647.5 887.6 647.7 889.5 647.9 892.7 648.1 881.7 648.3 892.1 648.5 892 648.7 898.3 648.9 885.8 649.1 887.3 649.3 883.7 649.6 894.1 649.8 886 650 896.1 650.2 890.8 650.4 907.1 650.6 886.1 650.8 890.6 651 891.5 651.2 893.1 651.4 887.3 651.6 884.7 651.8 891.1 652 892.4 652.3 888.3 652.5 877.6 652.7 885.2 652.9 892.8 653.1 883.7 653.3 884.3 653.5 890.1 653.7 890.7 653.9 894.4 654.1 891 654.3 871.2 654.5 898 654.7 890.4 655 892.7 655.2 887.9 655.4 894.6 655.6 881.2 655.8 887.7 656 896.5 656.2 881 656.4 891.7 656.6 907.2 656.8 884.5 657 897.5 657.2 892.3 657.4 900.4 657.7 891.7 657.9 871.5 658.1 886.1 658.3 891.4 658.5 893.9 658.7 894.1 658.9 897.9 659.1 895.6 659.3 907.1 659.5 882 659.7 888.2 659.9 884.1 660.1 892.3 660.4 898.1 660.6 887.4 660.8 888.3 661 878.7 661.2 891.5 661.4 883.6 661.6 892.4 661.8 883.9 662 889 662.2 887.8 662.4 871.2 662.6 883.1 662.8 888.9 663.1 888.1 663.3 898.6 663.5 895.2 663.7 890.9 663.9 883.3 664.1 891.6 664.3 885.7 664.5 881 664.7 893.6 664.9 884.8 665.1 893.3 665.3 882.5 665.5 883.6 665.8 895.5 666 896.2 666.2 894.3 666.4 887.2 666.6 891.4 666.8 897.6 667 890.7 667.2 888.4 667.4 888.5 667.6 885.3 667.8 891.7 668 882.7 668.2 887.1 668.5 901.9 668.7 885.8 668.9 892.4 669.1 891 669.3 892.5 669.5 890.3 669.7 891 669.9 895.8 670.1 893.3 670.3 895.1 670.5 899.6 670.7 892.9 670.9 894.7 671.2 891 671.4 895.8 671.6 888.3 671.8 888.4 672 889.5 672.2 886.7 672.4 889.2 672.6 887.2 672.8 890.3 673 887.5 673.2 889.3 673.4 893.6 673.6 889.7 673.9 891.6 674.1 892.4 674.3 894.7 674.5 899.6 674.7 885.3 674.9 890.9 675.1 886.9 675.3 885.7 675.5 875.6 675.7 891.1 675.9 890.1 676.1 882.1 676.3 880.2 676.6 890.2 676.8 883.4 677 880.9 677.2 886.6 677.4 871.9 677.6 885.4 677.8 899.4 678 889.8 678.2 881.6 678.4 888 678.6 881.2 678.8 880.8 679 887.2 679.3 881.3 679.5 887.8 679.7 891.4 679.9 888.9 680.1 894.8 680.3 900.9 680.5 886.4 680.7 883.1 680.9 913.2 681.1 889.5 681.3 888.1 681.5 896 681.7 890.3 682 888.4 682.2 888.9 682.4 890.7 682.6 887.3 682.8 882.4 683 884.3 683.2 890.8 683.4 879.3 683.6 887.7 683.8 891.3 684 871.2 684.2 897.7 684.4 897 684.7 883.5 684.9 884.8 685.1 898.7 685.3 889.7 685.5 889.6 685.7 889.7 685.9 886.7 686.1 907.2 686.3 886.7 686.5 892.4 686.7 890.3 686.9 881.9 687.1 881 687.4 893 687.6 893.2 687.8 890.2 688 889.3 688.2 884.4 688.4 890.8 688.6 886.2 688.8 899.2 689 890.4 689.2 889 689.4 886.7 689.6 887.3 689.8 881 690.1 895.7 690.3 888.1 690.5 891.8 690.7 886 690.9 892 691.1 891.6 691.3 892.9 691.5 890.4 691.7 889.1 691.9 888 692.1 896.3 692.3 883.4 692.5 887.2 692.8 886.9 693 893.6 693.2 881.9 693.4 905.1 693.6 871.2 693.8 897.5 694 891.1 694.2 891.1 694.4 881.8 694.6 887.2 694.8 876.5 695 881.9 695.2 889.7 695.5 876.5 695.7 889.2 695.9 885.3 696.1 895.4 696.3 894.3 696.5 891.6 696.7 887.6 696.9 884.9 697.1 880.1 697.3 890.5 697.5 887.3 697.7 886.4 697.9 893.8 698.2 905.6 698.4 882.3 698.6 891.4 698.8 880.6 699 890.9 699.2 887.9 699.4 896.6 699.6 880.1 699.8 891.8 700 887.7 700.2 893.7 700.4 890.9 700.6 882.2 700.9 881.2 701.1 882.2 701.3 882.9 701.5 904.7 701.7 886.5 701.9 886.3 702.1 887.4 702.3 893.8 702.5 893.7 702.7 893.8 702.9 884.3 703.1 885.7 703.3 895.5 703.6 855.5 703.8 882.7 704 882.3 704.2 898 704.4 889 704.6 890.9 704.8 892.1 705 890.3 705.2 881.8 705.4 891.8 705.6 887.2 705.8 884 706 887.3 706.3 894.2 706.5 893.2 706.7 887.8 706.9 889.1 707.1 883.6 707.3 890.2 707.5 888.1 707.7 888.7 707.9 885.3 708.1 889.6 708.3 890.9 708.5 892.6 708.7 892.3 709 891.7 709.2 880.6 709.4 886.9 709.6 893.3 709.8 889.7 710 887.8 710.2 897.1" fill="none" stroke="#ff7f0e" stroke-width="1.35" stroke-linejoin="round" clip-path="url(#c10)"/>
<text transform="translate(402.8 933.2) scale(0.760 1)" font-family="Liberation Sans" font-size="20.5" text-anchor="end" fill="#505050" stroke="#505050" stroke-width="0.28">−20</text>
<text transform="translate(402.8 896.6) scale(0.760 1)" font-family="Liberation Sans" font-size="20.5" text-anchor="end" fill="#505050" stroke="#505050" stroke-width="0.28">0</text>
<text transform="translate(402.8 859.6) scale(0.760 1)" font-family="Liberation Sans" font-size="20.5" text-anchor="end" fill="#505050" stroke="#505050" stroke-width="0.28">20</text>
<text transform="translate(402.8 823.2) scale(0.760 1)" font-family="Liberation Sans" font-size="20.5" text-anchor="end" fill="#505050" stroke="#505050" stroke-width="0.28">40</text>
<text transform="translate(402.8 785.7) scale(0.760 1)" font-family="Liberation Sans" font-size="20.5" text-anchor="end" fill="#505050" stroke="#505050" stroke-width="0.28">60</text>
<text transform="translate(442.5 949.1) scale(0.760 1)" font-family="Liberation Sans" font-size="20.5" text-anchor="middle" fill="#505050" stroke="#505050" stroke-width="0.28">2019</text>
<text transform="translate(518.2 949.1) scale(0.760 1)" font-family="Liberation Sans" font-size="20.5" text-anchor="middle" fill="#505050" stroke="#505050" stroke-width="0.28">2020</text>
<text transform="translate(594.2 949.1) scale(0.760 1)" font-family="Liberation Sans" font-size="20.5" text-anchor="middle" fill="#505050" stroke="#505050" stroke-width="0.28">2021</text>
<text transform="translate(669.9 949.1) scale(0.760 1)" font-family="Liberation Sans" font-size="20.5" text-anchor="middle" fill="#505050" stroke="#505050" stroke-width="0.28">2022</text>
<rect x="752.3" y="763.6" width="326.7" height="163.9" fill="#E5ECF6"/>
<path d="M752.3 812.8H1079" stroke="#d4d4d4" stroke-width="1.7"/>
<path d="M752.3 888H1079" stroke="#626468" stroke-width="2"/>
<path d="M752.6 891.7 752.8 889.3 753 882.6 753.3 887.1 753.5 889 753.7 896.5 753.9 890.6 754.2 880 754.4 887.3 754.6 881.7 754.8 891.6 755 882.1 755.3 886.6 755.5 884.1 755.7 873.5 755.9 884.5 756.2 899.1 756.4 888.2 756.6 884.7 756.8 885.1 757 888.1 757.3 885.8 757.5 881.3 757.7 880.4 757.9 888.7 758.1 888.4 758.4 875.1 758.6 895.9 758.8 885 759 892.8 759.3 892.5 759.5 880.6 759.7 884.1 759.9 870 760.1 881.5 760.4 890.6 760.6 891.7 760.8 881.9 761 891.3 761.3 885.4 761.5 880.2 761.7 881.7 761.9 889.4 762.1 879.6 762.4 884.2 762.6 885.2 762.8 892.9 763 884.2 763.3 883.2 763.5 887.6 763.7 885.6 763.9 890.4 764.1 887.8 764.4 887.5 764.6 885.9 764.8 888 765 881.1 765.3 897.6 765.5 892.1 765.7 888 765.9 891.5 766.1 884 766.4 850 766.6 884.6 766.8 889.3 767 882.8 767.3 888.6 767.5 908.6 767.7 906 767.9 892.3 768.1 888.3 768.4 878.4 768.6 890.9 768.8 906 769 893.6 769.2 885.2 769.5 894.4 769.7 902.1 769.9 886.8 770.1 892.2 770.4 887.3 770.6 898.3 770.8 893.7 771 902.4 771.2 892 771.5 890.1 771.7 888.3 771.9 876 772.1 893.1 772.4 891 772.6 888.3 772.8 879.3 773 885.1 773.2 893.6 773.5 892.6 773.7 894 773.9 892.4 774.1 878 774.4 891.1 774.6 906 774.8 884.8 775 862 775.2 888.5 775.5 888 775.7 887 775.9 887.9 776.1 885.9 776.4 879.9 776.6 887.2 776.8 890.5 777 893.1 777.2 887.6 777.5 880.8 777.7 892.2 777.9 889.1 778.1 889.3 778.4 878.8 778.6 887.1 778.8 890.5 779 891.4 779.2 889.2 779.5 883.2 779.7 890.1 779.9 883.9 780.1 889.9 780.3 884 780.6 881.9 780.8 888.3 781 892.6 781.2 884 781.5 900 781.7 886.8 781.9 896 782.1 889.2 782.3 884.1 782.6 884.9 782.8 879.2 783 885.8 783.2 856.3 783.5 885.4 783.7 887.1 783.9 892.8 784.1 882.4 784.3 901.7 784.6 900 784.8 883.3 785 894.6 785.2 882.1 785.5 895.1 785.7 881.9 785.9 881.7 786.1 892.3 786.3 883.3 786.6 887.5 786.8 892.8 787 887.5 787.2 889 787.5 887 787.7 887.7 787.9 881.7 788.1 886.6 788.3 891 788.6 891.8 788.8 889 789 887.6 789.2 885.4 789.4 895.7 789.7 903.1 789.9 896.5 790.1 885.5 790.3 889.6 790.6 889.9 790.8 884 791 865 791.2 888.8 791.4 871.4 791.7 890.6 791.9 913.3 792.1 884.4 792.3 880.2 792.6 897.1 792.8 897.1 793 888.3 793.2 889.5 793.4 891.9 793.7 881.5 793.9 890.5 794.1 906 794.3 871.8 794.6 888.8 794.8 875.5 795 890.6 795.2 877.3 795.4 887.1 795.7 877.3 795.9 896.6 796.1 898.7 796.3 889.9 796.6 887.7 796.8 878.8 797 883.3 797.2 887.8 797.4 892.8 797.7 882.4 797.9 889.2 798.1 889.8 798.3 889.3 798.6 880.7 798.8 886.2 799 891.6 799.2 888.9 799.4 890.1 799.7 901.8 799.9 881.8 800.1 880.2 800.3 888.5 800.5 889.7 800.8 885 801 889.2 801.2 878.9 801.4 881.4 801.7 885.7 801.9 882.6 802.1 887 802.3 886.8 802.5 889.2 802.8 883.5 803 887.8 803.2 890.8 803.4 890.8 803.7 887.1 803.9 885.6 804.1 886.3 804.3 887.5 804.5 896.2 804.8 859.5 805 878.1 805.2 886.4 805.4 889.8 805.7 886.4 805.9 887.4 806.1 870 806.3 890 806.5 887.3 806.8 881.1 807 888.9 807.2 891.4 807.4 895.4 807.7 892.5 807.9 886.6 808.1 890.5 808.3 880.5 808.5 888.7 808.8 898.6 809 887.7 809.2 900.6 809.4 889.6 809.7 876.5 809.9 882.2 810.1 886.6 810.3 882.4 810.5 884.9 810.8 893.5 811 891.5 811.2 883.6 811.4 887.2 811.6 887.9 811.9 889.9 812.1 896.3 812.3 882 812.5 910.2 812.8 899.4 813 887.5 813.2 888.8 813.4 885.1 813.6 884.1 813.9 878.5 814.1 887.7 814.3 887.2 814.5 888.6 814.8 890.1 815 891.4 815.2 888.4 815.4 896.1 815.6 883.6 815.9 888.8 816.1 883.9 816.3 873.1 816.5 886.4 816.8 870 817 876.3 817.2 892.2 817.4 884.2 817.6 893.5 817.9 892.6 818.1 891.3 818.3 895.7 818.5 887.3 818.8 887.5 819 888.6 819.2 895.3 819.4 880.8 819.6 872.2 819.9 901.6 820.1 881.4 820.3 895.7 820.5 895.8 820.8 886.5 821 887.1 821.2 881 821.4 882.9 821.6 893.1 821.9 903.9 822.1 885.8 822.3 884.3 822.5 901.9 822.7 881.8 823 888.6 823.2 889.5 823.4 892.3 823.6 886.5 823.9 890.1 824.1 898.7 824.3 887.3 824.5 889.7 824.7 896.4 825 883.3 825.2 883.4 825.4 895 825.6 880.9 825.9 894.4 826.1 895 826.3 888.9 826.5 878.5 826.7 896.1 827 880.7 827.2 893 827.4 891.5 827.6 888.5 827.9 895.5 828.1 885.7 828.3 887.4 828.5 890.1 828.7 896.8 829 887.5 829.2 884.3 829.4 893.7 829.6 890.2 829.9 885.8 830.1 882.2 830.3 887 830.5 888.3 830.7 886.1 831 887.2 831.2 883.9 831.4 888.2 831.6 884.7 831.8 881.3 832.1 870.1 832.3 879.6 832.5 889 832.7 886.3 833 887.7 833.2 891.5 833.4 901.5 833.6 896.5 833.8 891.2 834.1 894.3 834.3 889.4 834.5 888.8 834.7 884.9 835 890.8 835.2 892.7 835.4 889.1 835.6 859.5 835.8 887.7 836.1 886 836.3 887.7 836.5 891 836.7 886.3 837 887.6 837.2 890.3 837.4 899.7 837.6 887.6 837.8 884.6 838.1 888.4 838.3 887.5 838.5 885.5 838.7 898.4 839 890.9 839.2 885.6 839.4 889.6 839.6 895.5 839.8 889 840.1 890.7 840.3 891.4 840.5 886.4 840.7 891.6 841 879.1 841.2 886.1 841.4 886.5 841.6 884.1 841.8 890.4 842.1 882.6 842.3 885.8 842.5 889.1 842.7 882.7 842.9 896.6 843.2 892.4 843.4 892.4 843.6 889.2 843.8 893.7 844.1 894.1 844.3 883.7 844.5 891.2 844.7 889.1 844.9 885.5 845.2 900 845.4 890.5 845.6 877.7 845.8 883.4 846.1 889.1 846.3 890.6 846.5 891.3 846.7 878.1 846.9 897.9 847.2 896.9 847.4 874.8 847.6 881.7 847.8 889.1 848.1 892.1 848.3 892.3 848.5 889.1 848.7 886.5 848.9 891.6 849.2 902.8 849.4 886.7 849.6 886.6 849.8 898.8 850.1 875.8 850.3 885.7 850.5 885.3 850.7 876.6 850.9 889.2 851.2 880.2 851.4 858 851.6 884.5 851.8 879.4 852.1 896.1 852.3 905.7 852.5 888.2 852.7 886.7 852.9 887.1 853.2 887.8 853.4 887.3 853.6 906 853.8 885.4 854 890 854.3 881.8 854.5 897 854.7 906 854.9 882.2 855.2 893.8 855.4 888.5 855.6 900.7 855.8 899.2 856 890.3 856.3 870 856.5 888.1 856.7 890.5 856.9 900.4 857.2 880.7 857.4 886.3 857.6 893.5 857.8 888.8 858 882.4 858.3 894.4 858.5 889 858.7 893.8 858.9 894.7 859.2 887.4 859.4 883.2 859.6 887.6 859.8 877.7 860 887.2 860.3 898.5 860.5 903.2 860.7 890.6 860.9 882 861.2 905.2 861.4 887.7 861.6 889.7 861.8 881 862 889.1 862.3 905.9 862.5 884.5 862.7 895.7 862.9 890.8 863.1 874.7 863.4 875.3 863.6 891.3 863.8 886.9 864 881.8 864.3 889.4 864.5 883.8 864.7 883.6 864.9 887.7 865.1 892.7 865.4 893 865.6 884.3 865.8 886.5 866 885 866.3 888 866.5 903.9 866.7 887.8 866.9 884.7 867.1 887.6 867.4 886.7 867.6 887.9 867.8 891.7 868 892.6 868.3 890 868.5 896.8 868.7 883.7 868.9 885.3 869.1 894.9 869.4 894.8 869.6 889.2 869.8 886.6 870 866 870.3 881.1 870.5 885.7 870.7 890.8 870.9 883.7 871.1 888.9 871.4 894.3 871.6 893.4 871.8 900 872 890.9 872.3 886.7 872.5 894.1 872.7 892.3 872.9 887.1 873.1 880.8 873.4 887.3 873.6 889.5 873.8 892.6 874 887.1 874.2 887.3 874.5 893.2 874.7 883.5 874.9 889.9 875.1 890.7 875.4 890.3 875.6 870 875.8 888.3 876 885 876.2 893.5 876.5 892.2 876.7 887 876.9 883.5 877.1 887.7 877.4 893.6 877.6 892.1 877.8 881.5 878 885.1 878.2 870 878.5 887.5 878.7 882.9 878.9 890.6 879.1 897.1 879.4 896.2 879.6 893.8 879.8 887.8 880 884.8 880.2 886.4 880.5 885.7 880.7 881.7 880.9 886.2 881.1 886 881.4 887.4 881.6 900.7 881.8 888.2 882 892.1 882.2 882.1 882.5 889.1 882.7 886.3 882.9 884.4 883.1 888.5 883.4 881 883.6 886.2 883.8 886.2 884 883 884.2 886.1 884.5 894.1 884.7 890.9 884.9 886.3 885.1 880.1 885.3 886.2 885.6 888.8 885.8 887.4 886 891.4 886.2 890.2 886.5 887.6 886.7 887.9 886.9 881.3 887.1 885.7 887.3 884.1 887.6 885.2 887.8 891.8 888 884 888.2 890.1 888.5 884 888.7 886.2 888.9 887.5 889.1 771.6 889.3 887.5 889.6 917.3 889.8 884.6 890 883 890.2 887.1 890.5 883 890.7 882.8 890.9 887.6 891.1 895.2 891.3 889 891.6 879.3 891.8 888.8 892 882 892.2 892.9 892.5 884.3 892.7 889.8 892.9 889.1 893.1 891.1 893.3 888.7 893.6 890.2 893.8 884.8 894 889.9 894.2 892 894.5 894.2 894.7 880.3 894.9 870 895.1 885.1 895.3 892.6 895.6 887.3 895.8 888.6 896 906 896.2 883.9 896.4 881.8 896.7 891.8 896.9 883.4 897.1 893.8 897.3 885.4 897.6 885.8 897.8 881.2 898 877.8 898.2 885.9 898.4 878.4 898.7 896.5 898.9 885.1 899.1 885.2 899.3 886.4 899.6 882 899.8 890.2 900 883.5 900.2 887.3 900.4 884.5 900.7 895.1 900.9 887.9 901.1 891.4 901.3 887.6 901.6 892.4 901.8 885.7 902 891.1 902.2 888.1 902.4 889.3 902.7 892.4 902.9 883.4 903.1 884.3 903.3 898.8 903.6 887.3 903.8 887.4 904 893.2 904.2 893.9 904.4 894.3 904.7 895.1 904.9 889.2 905.1 891.9 905.3 899.1 905.5 888 905.8 892.7 906 877.2 906.2 886.7 906.4 889.5 906.7 883.9 906.9 889.2 907.1 887.2 907.3 878.6 907.5 888.9 907.8 890.8 908 884.2 908.2 890.5 908.4 885.5 908.7 887.1 908.9 888.7 909.1 890.3 909.3 888.9 909.5 881.7 909.8 893.6 910 897.5 910.2 885.9 910.4 895.7 910.7 889.1 910.9 891.9 911.1 901.7 911.3 891.4 911.5 874.8 911.8 886.3 912 893.5 912.2 903 912.4 892.8 912.7 890.8 912.9 894.2 913.1 889.6 913.3 887.7 913.5 880.9 913.8 889.6 914 882.3 914.2 891.4 914.4 876.8 914.7 886.8 914.9 887.2 915.1 886.5 915.3 888 915.5 887.2 915.8 887.2 916 894.7 916.2 893.5 916.4 888.8 916.6 888.3 916.9 898.6 917.1 899.6 917.3 884.7 917.5 888.4 917.8 892 918 881.2 918.2 896.8 918.4 883.4 918.6 882.1 918.9 881.8 919.1 872.7 919.3 884.2 919.5 890.6 919.8 885.5 920 889 920.2 880.4 920.4 886.2 920.6 891.3 920.9 891.3 921.1 885.5 921.3 896.7 921.5 891 921.8 883.9 922 880.3 922.2 892.5 922.4 882.6 922.6 889.8 922.9 870 923.1 890.1 923.3 888 923.5 884.6 923.8 891.2 924 874.5 924.2 901 924.4 875.5 924.6 887.3 924.9 897.2 925.1 883.4 925.3 906 925.5 872.8 925.8 885.7 926 888.3 926.2 885.4 926.4 894.3 926.6 893.1 926.9 888.6 927.1 876.7 927.3 885.7 927.5 880.7 927.7 895 928 890.3 928.2 892.6 928.4 884.4 928.6 886.7 928.9 879.1 929.1 887.2 929.3 885.9 929.5 906 929.7 890.5 930 885.2 930.2 881.7 930.4 889.6 930.6 880 930.9 892.9 931.1 890.9 931.3 880.8 931.5 879.7 931.7 885.1 932 883.1 932.2 888.8 932.4 891.9 932.6 888.3 932.9 895.5 933.1 879 933.3 891.1 933.5 889.2 933.7 890.1 934 895 934.2 883.5 934.4 890.5 934.6 884.3 934.9 888.1 935.1 883.8 935.3 889.9 935.5 886.2 935.7 902.3 936 884.4 936.2 893.8 936.4 888.6 936.6 891.9 936.8 888.8 937.1 890.5 937.3 881 937.5 870 937.7 883.7 938 892.3 938.2 893.8 938.4 887.9 938.6 885 938.8 878.1 939.1 882.9 939.3 894.5 939.5 887.1 939.7 901.1 940 891.9 940.2 885 940.4 888.7 940.6 891.7 940.8 881.2 941.1 884.2 941.3 885.4 941.5 888 941.7 894.2 942 879.9 942.2 884.1 942.4 883.9 942.6 883.8 942.8 894.6 943.1 879.4 943.3 882.1 943.5 888.5 943.7 886.8 944 877.7 944.2 883.3 944.4 889.8 944.6 884.2 944.8 883.5 945.1 897.9 945.3 889.4 945.5 891 945.7 888.2 946 889.2 946.2 896.8 946.4 890.3 946.6 876.1 946.8 889.1 947.1 891.9 947.3 883.6 947.5 881.9 947.7 890.2 947.9 889 948.2 884.7 948.4 895.2 948.6 892.8 948.8 883 949.1 887.4 949.3 888.9 949.5 889.1 949.7 887.5 949.9 887.1 950.2 887.4 950.4 882.5 950.6 888.1 950.8 882.6 951.1 890.1 951.3 887.5 951.5 898.3 951.7 889.2 951.9 889 952.2 890.6 952.4 891.8 952.6 890.9 952.8 899.1 953.1 892.5 953.3 880.8 953.5 886.2 953.7 884.6 953.9 886.7 954.2 898 954.4 875 954.6 919.7 954.8 893.4 955.1 876.7 955.3 883.7 955.5 881.2 955.7 894.2 955.9 889 956.2 888.2 956.4 887.4 956.6 887.5 956.8 889.2 957.1 891.2 957.3 889.2 957.5 890.1 957.7 889.3 957.9 890.1 958.2 884.5 958.4 889 958.6 903.2 958.8 851.6 959 890.9 959.3 889.1 959.5 882.6 959.7 886.3 959.9 876.6 960.2 882.4 960.4 892.7 960.6 897 960.8 885.4 961 891 961.3 870.5 961.5 906 961.7 884.6 961.9 894.7 962.2 887.4 962.4 887.3 962.6 873.1 962.8 892.4 963 884.9 963.3 897 963.5 883.5 963.7 893.9 963.9 881.9 964.2 888 964.4 886.3 964.6 876.4 964.8 906 965 886.7 965.3 887.9 965.5 888.8 965.7 886.8 965.9 882.9 966.2 870 966.4 893.4 966.6 888.6 966.8 884.6 967 887.7 967.3 885.8 967.5 896.3 967.7 901.8 967.9 889.2 968.2 887.8 968.4 870.8 968.6 893.8 968.8 883 969 883.6 969.3 870.5 969.5 871.7 969.7 871.6 969.9 886 970.1 893.4 970.4 882 970.6 885.8 970.8 883.7 971 881.7 971.3 890.7 971.5 883.1 971.7 882.1 971.9 886.6 972.1 884.8 972.4 891.1 972.6 888 972.8 883.3 973 894.7 973.3 885.8 973.5 896.9 973.7 893.4 973.9 887 974.1 886.8 974.4 885 974.6 885.7 974.8 891.3 975 888.3 975.3 891.1 975.5 880.7 975.7 886.6 975.9 888.8 976.1 880.2 976.4 903.5 976.6 881.2 976.8 882.7 977 882.4 977.3 894 977.5 888.8 977.7 896.7 977.9 884.3 978.1 887 978.4 889.6 978.6 885.8 978.8 891.9 979 888.3 979.2 888 979.5 874.1 979.7 883.6 979.9 882.9 980.1 884.8 980.4 906 980.6 886.8 980.8 885.1 981 894.8 981.2 889.1 981.5 884.2 981.7 887.1 981.9 886.1 982.1 892 982.4 897 982.6 890 982.8 880.6 983 893.5 983.2 885.8 983.5 894.2 983.7 891.1 983.9 889.5 984.1 887.9 984.4 884.5 984.6 880.9 984.8 892.9 985 831.8 985.2 886.5 985.5 888.8 985.7 882.1 985.9 919.7 986.1 890.4 986.4 885.9 986.6 890.1 986.8 896.9 987 883.1 987.2 886.1 987.5 887.9 987.7 885.2 987.9 890.1 988.1 888.9 988.4 889.3 988.6 891.2 988.8 887.2 989 892.2 989.2 889 989.5 886.6 989.7 883.4 989.9 890.8 990.1 889.8 990.3 881.7 990.6 897.4 990.8 890.8 991 887.9 991.2 884.6 991.5 887.1 991.7 881.5 991.9 859.5 992.1 889.3 992.3 884.3 992.6 886.4 992.8 889.9 993 891 993.2 888.2 993.5 883.6 993.7 887.6 993.9 888 994.1 895 994.3 881.7 994.6 889.3 994.8 889.6 995 888.5 995.2 885 995.5 880.9 995.7 885.3 995.9 878.4 996.1 882.9 996.3 887.7 996.6 886.3 996.8 879.3 997 886.4 997.2 878.5 997.5 885.5 997.7 896.1 997.9 885.3 998.1 877.2 998.3 891.5 998.6 886 998.8 884.7 999 890.8 999.2 885.9 999.5 891.7 999.7 895.3 999.9 868 1000.1 886.9 1000.3 893.7 1000.6 884.8 1000.8 888 1001 895.1 1001.2 896.3 1001.4 883.6 1001.7 874.2 1001.9 889.8 1002.1 889.2 1002.3 884.4 1002.6 888.7 1002.8 880.4 1003 885.2 1003.2 889.7 1003.4 888.5 1003.7 884.1 1003.9 877.5 1004.1 887.9 1004.3 884.9 1004.6 885 1004.8 882.9 1005 893.3 1005.2 896.7 1005.4 885.3 1005.7 882.7 1005.9 903.3 1006.1 890.2 1006.3 886.6 1006.6 888.1 1006.8 888.2 1007 896.8 1007.2 888.6 1007.4 890.1 1007.7 893.4 1007.9 888.8 1008.1 889.9 1008.3 896.2 1008.6 882.7 1008.8 882.5 1009 887.2 1009.2 879.8 1009.4 885.7 1009.7 888.5 1009.9 884.1 1010.1 897.8 1010.3 901 1010.5 882.3 1010.8 882.8 1011 890.7 1011.2 888.4 1011.4 888.8 1011.7 890.3 1011.9 885.2 1012.1 889.7 1012.3 886.6 1012.5 886.2 1012.8 889.2 1013 889.3 1013.2 889.1 1013.4 888.7 1013.7 887.6 1013.9 891.2 1014.1 887.4 1014.3 891.2 1014.5 886.3 1014.8 888.9 1015 889.6 1015.2 884.5 1015.4 888.3 1015.7 887 1015.9 882.6 1016.1 891 1016.3 887.3 1016.5 892.2 1016.8 892.1 1017 890.7 1017.2 901.3 1017.4 884.6 1017.7 887.2 1017.9 878.7 1018.1 880.5 1018.3 890 1018.5 878 1018.8 890.7 1019 881.3 1019.2 885.4 1019.4 887 1019.7 879.3 1019.9 895.2 1020.1 872 1020.3 889.9 1020.5 880.5 1020.8 887.4 1021 889.5 1021.2 885.5 1021.4 878.4 1021.6 887 1021.9 882.4 1022.1 879.6 1022.3 893.8 1022.5 887.4 1022.8 904.1 1023 884.5 1023.2 884.6 1023.4 900.2 1023.6 887.5 1023.9 879.3 1024.1 904.2 1024.3 886.2 1024.5 891.1 1024.8 886.8 1025 885.7 1025.2 896.2 1025.4 888.8 1025.6 893.5 1025.9 899 1026.1 891.3 1026.3 890.6 1026.5 885.4 1026.8 891.2 1027 889.2 1027.2 885.5 1027.4 885.6 1027.6 892 1027.9 889.8 1028.1 888.8 1028.3 904 1028.5 885.7 1028.8 886.7 1029 890.1 1029.2 888.6 1029.4 888.1 1029.6 888.1 1029.9 870.3 1030.1 888.7 1030.3 888.9 1030.5 879.9 1030.8 884.4 1031 882.6 1031.2 900.2 1031.4 886.9 1031.6 883.6 1031.9 885.5 1032.1 894.1 1032.3 883.7 1032.5 891.9 1032.7 894.7 1033 888.9 1033.2 889.9 1033.4 883.2 1033.6 892.3 1033.9 888.9 1034.1 892.8 1034.3 875.3 1034.5 892.3 1034.7 896.1 1035 888.6 1035.2 888.9 1035.4 883.2 1035.6 890.3 1035.9 883.8 1036.1 892.8 1036.3 886.5 1036.5 886 1036.7 885.9 1037 888.7 1037.2 882.9 1037.4 886.1 1037.6 889.9 1037.9 879.8 1038.1 886.9 1038.3 883.7 1038.5 891.5 1038.7 894.9 1039 884.2 1039.2 885.2 1039.4 862.7 1039.6 882.3 1039.9 890.7 1040.1 890.2 1040.3 890.4 1040.5 888.9 1040.7 888.8 1041 888.2 1041.2 884.6 1041.4 895 1041.6 899.4 1041.9 885.7 1042.1 881.4 1042.3 884.3 1042.5 883 1042.7 884.1 1043 888.1 1043.2 887.1 1043.4 884.4 1043.6 889.7 1043.8 886.8 1044.1 888.1 1044.3 888.3 1044.5 898.6 1044.7 889.5 1045 884 1045.2 888.8 1045.4 891.7 1045.6 881.7 1045.8 885.3 1046.1 887.4 1046.3 874.6 1046.5 888.2 1046.7 896.9 1047 890.9 1047.2 888.2 1047.4 887.9 1047.6 897.9 1047.8 890.2 1048.1 890.6 1048.3 889 1048.5 884 1048.7 892.5 1049 882.6 1049.2 883.9 1049.4 900.8 1049.6 886.9 1049.8 893.9 1050.1 892.6 1050.3 890.1 1050.5 891.8 1050.7 889.9 1051 889.7 1051.2 881.6 1051.4 882.3 1051.6 890.7 1051.8 898.3 1052.1 885.5 1052.3 885.5 1052.5 887.4 1052.7 888 1052.9 891.5 1053.2 888.3 1053.4 892.4 1053.6 888.9 1053.8 888.9 1054.1 895.6 1054.3 878.9 1054.5 885.1 1054.7 888 1054.9 894 1055.2 879.3 1055.4 892 1055.6 880 1055.8 880.9 1056.1 870 1056.3 882.7 1056.5 884.1 1056.7 891.6 1056.9 880.3 1057.2 885.7 1057.4 900.8 1057.6 894.7 1057.8 884.7 1058.1 882.8 1058.3 889.1 1058.5 884.7 1058.7 886.8 1058.9 888.6 1059.2 898.5 1059.4 882.2 1059.6 897.6 1059.8 887.4 1060.1 864 1060.3 886.1 1060.5 887.6 1060.7 891.5 1060.9 891.4 1061.2 879.2 1061.4 879.4 1061.6 887.5 1061.8 885.5 1062.1 888.8 1062.3 885.7 1062.5 890.8 1062.7 891.7 1062.9 887.8 1063.2 889.9 1063.4 895.5 1063.6 904.5 1063.8 892.8 1064 887.6 1064.3 891.2 1064.5 887.1 1064.7 878.8 1064.9 888.4 1065.2 878.6 1065.4 891.1 1065.6 889.2 1065.8 887.6 1066 893.3 1066.3 896.7 1066.5 893 1066.7 882.3 1066.9 888.6 1067.2 889.7 1067.4 881.8 1067.6 889.4 1067.8 890.1 1068 883.6 1068.3 895 1068.5 887.6 1068.7 887.2 1068.9 891.8 1069.2 897.6 1069.4 889.9 1069.6 892.7 1069.8 906 1070 887.9 1070.3 887.3 1070.5 893 1070.7 883.6 1070.9 861 1071.2 882.6 1071.4 887.5 1071.6 887.6 1071.8 893.4 1072 886.6 1072.3 891.3 1072.5 890.6 1072.7 879.8 1072.9 884.9 1073.2 888.9 1073.4 895.8 1073.6 882.8 1073.8 887.1 1074 900.7 1074.3 887.3 1074.5 899.4 1074.7 889.9 1074.9 882.9 1075.1 904.3 1075.4 893.8 1075.6 890.2 1075.8 885.4 1076 891.5 1076.3 890.2 1076.5 893.7 1076.7 903.4 1076.9 881.2 1077.1 887.3 1077.4 887.1 1077.6 889.4 1077.8 880.4 1078 879.9 1078.3 905 1078.5 886.2 1078.7 889.7" fill="none" stroke="#2ca02c" stroke-width="1.35" stroke-linejoin="round" clip-path="url(#c11)"/>
<text transform="translate(750.3 895.4) scale(0.760 1)" font-family="Liberation Sans" font-size="20.5" text-anchor="end" fill="#505050" stroke="#505050" stroke-width="0.28">0</text>
<text transform="translate(750.3 820.2) scale(0.760 1)" font-family="Liberation Sans" font-size="20.5" text-anchor="end" fill="#505050" stroke="#505050" stroke-width="0.28">50</text>
<text transform="translate(792.6 949.1) scale(0.760 1)" font-family="Liberation Sans" font-size="20.5" text-anchor="middle" fill="#505050" stroke="#505050" stroke-width="0.28">2019</text>
<text transform="translate(873.5 949.1) scale(0.760 1)" font-family="Liberation Sans" font-size="20.5" text-anchor="middle" fill="#505050" stroke="#505050" stroke-width="0.28">2020</text>
<text transform="translate(954.7 949.1) scale(0.760 1)" font-family="Liberation Sans" font-size="20.5" text-anchor="middle" fill="#505050" stroke="#505050" stroke-width="0.28">2021</text>
<text transform="translate(1035.6 949.1) scale(0.760 1)" font-family="Liberation Sans" font-size="20.5" text-anchor="middle" fill="#505050" stroke="#505050" stroke-width="0.28">2022</text>
<rect x="36.7" y="949.4" width="326.3" height="153.4" fill="#E5ECF6"/>
<path d="M36.7 1089.3H363" stroke="#d4d4d4" stroke-width="1.7"/>
<path d="M36.7 1021.2H363" stroke="#d4d4d4" stroke-width="1.7"/>
<path d="M36.7 987.5H363" stroke="#d4d4d4" stroke-width="1.7"/>
<path d="M36.7 953H363" stroke="#d4d4d4" stroke-width="1.7"/>
<path d="M36.7 1055H363" stroke="#626468" stroke-width="2"/>
<path d="M37 1050 37.2 1054.1 37.4 1051.3 37.7 1044.9 37.9 1054.4 38.1 1059.6 38.3 1055 38.6 1056.4 38.8 1053 39 1048.4 39.2 1051.4 39.4 1054.9 39.7 1062.9 39.9 1053.2 40.1 1049.8 40.3 1057.6 40.5 1058.1 40.8 1050.6 41 1051.8 41.2 1057.7 41.4 1054.5 41.7 1069.3 41.9 1051.8 42.1 1052.1 42.3 1051.5 42.5 1073 42.8 1056.2 43 1059.6 43.2 1057 43.4 1050.2 43.7 1050.8 43.9 1058.2 44.1 1056.5 44.3 1054.1 44.5 1058.6 44.8 1058.1 45 1047.9 45.2 1045.8 45.4 1054.5 45.6 1045.1 45.9 1060.5 46.1 1050.3 46.3 1054.6 46.5 1046.5 46.8 1057 47 1046.7 47.2 1053.1 47.4 1057.3 47.6 1062.1 47.9 1056.9 48.1 1064.2 48.3 1053.9 48.5 1061.2 48.8 1041.7 49 1059.1 49.2 1061 49.4 1054.6 49.6 1058 49.9 1039.8 50.1 1045.5 50.3 1054.4 50.5 1059.6 50.7 1025.8 51 1037 51.2 1058.5 51.4 1047.1 51.6 1062.2 51.9 1045.2 52.1 1037 52.3 1054.4 52.5 1049.5 52.7 1052.8 53 1053.5 53.2 1056.5 53.4 1064.1 53.6 1055.1 53.9 1058.2 54.1 1054.6 54.3 1071.4 54.5 1061.6 54.7 1051.1 55 1046.1 55.2 1051.5 55.4 1053.6 55.6 1051.5 55.8 1058.5 56.1 1056.3 56.3 1051 56.5 1056.4 56.7 1043 57 1052.5 57.2 1061.3 57.4 1060 57.6 1048.6 57.8 1054.3 58.1 1052.1 58.3 1073 58.5 1061.1 58.7 1048.1 58.9 1031 59.2 1048.5 59.4 1057.3 59.6 1052 59.8 1052.9 60.1 1056.6 60.3 1049 60.5 1055.5 60.7 1051.6 60.9 1037 61.2 1058.9 61.4 1056 61.6 1056.1 61.8 1039.1 62.1 1049.2 62.3 1055 62.5 1050.7 62.7 1060.4 62.9 1056.1 63.2 1055.4 63.4 1054.5 63.6 1058.9 63.8 1057.3 64 1060.6 64.3 1055.6 64.5 1054.7 64.7 1048.5 64.9 1063 65.2 1054.6 65.4 1057.5 65.6 1067.2 65.8 1056.4 66 1065.3 66.3 1056.7 66.5 1061.2 66.7 1052 66.9 1054.7 67.2 1055 67.4 1058.4 67.6 1026.7 67.8 1060 68 1059.1 68.3 1052.4 68.5 1060.9 68.7 1051 68.9 1057.2 69.1 1055.3 69.4 1055.3 69.6 1060.3 69.8 1059.2 70 1060.8 70.3 1063.7 70.5 1052.7 70.7 1062.9 70.9 1053.9 71.1 1058.6 71.4 1054.5 71.6 1056.8 71.8 1054.1 72 1066.5 72.3 1051.9 72.5 1053.9 72.7 1054.3 72.9 1078 73.1 1051 73.4 1051.9 73.6 1056.6 73.8 1056.3 74 1046.4 74.2 1052.7 74.5 1051.1 74.7 1053 74.9 1061.7 75.1 1058.2 75.4 1060.2 75.6 1054.3 75.8 1055 76 1057.9 76.2 1050.8 76.5 1048.7 76.7 1056.2 76.9 1059 77.1 1052.3 77.4 1055.7 77.6 1040.4 77.8 1057.7 78 1057.1 78.2 1055.8 78.5 1046.1 78.7 1053.3 78.9 1054.7 79.1 1028.3 79.3 1051.2 79.6 1049.3 79.8 1053.3 80 1052.9 80.2 1062 80.5 1056.6 80.7 1047.5 80.9 1052.6 81.1 1053.6 81.3 1048.6 81.6 1053.1 81.8 1062.3 82 1058.4 82.2 1065.6 82.5 1055.9 82.7 1049.4 82.9 1059.1 83.1 1054 83.3 1052.4 83.6 1062.2 83.8 1046.5 84 1059.2 84.2 1052.4 84.4 1058.7 84.7 1055.7 84.9 1062.5 85.1 1061.9 85.3 1095.8 85.6 1060.3 85.8 1061.3 86 1073 86.2 1058.8 86.4 1062.1 86.7 1052.2 86.9 1057.8 87.1 1053.4 87.3 1057.4 87.6 1054.9 87.8 1066.3 88 1064.2 88.2 1057.3 88.4 1068.7 88.7 1061.6 88.9 1025.8 89.1 1065.3 89.3 1055.3 89.5 1054.9 89.8 1048.4 90 1040.3 90.2 1053.6 90.4 1052.3 90.7 1040.8 90.9 1059.7 91.1 1048 91.3 1045.5 91.5 1045.7 91.8 1056.6 92 1061.6 92.2 1060.7 92.4 1073 92.7 1053 92.9 1070.4 93.1 1039.4 93.3 1050.3 93.5 1065.7 93.8 1066.4 94 1061 94.2 1063.5 94.4 1055.6 94.6 1053.2 94.9 1059.2 95.1 1059.3 95.3 1058.5 95.5 1049.1 95.8 1054.6 96 1060 96.2 1062.2 96.4 1051.9 96.6 1058.4 96.9 1054.6 97.1 1093.3 97.3 1067.3 97.5 1059.4 97.8 1046.8 98 1046.1 98.2 1058.4 98.4 1066.3 98.6 1056.6 98.9 1058.8 99.1 1064.1 99.3 1061.8 99.5 1048.6 99.7 1048.8 100 1053.7 100.2 1061.9 100.4 1050.4 100.6 1062.2 100.9 1061.7 101.1 1054.4 101.3 1040.6 101.5 1045.9 101.7 1055.3 102 1049.4 102.2 1051.9 102.4 1051 102.6 1054.1 102.8 1046.3 103.1 1051.8 103.3 1064.9 103.5 1055.9 103.7 1058 104 1063 104.2 1053.8 104.4 1046.5 104.6 1056.1 104.8 1048.9 105.1 1076 105.3 1048.1 105.5 1043.5 105.7 1059.3 106 1037 106.2 1053.3 106.4 1055.2 106.6 1049.3 106.8 1057.6 107.1 1057.1 107.3 1067.9 107.5 1050.2 107.7 1052.2 107.9 1051.9 108.2 1050.5 108.4 1042 108.6 1053.7 108.8 1037 109.1 1055.5 109.3 1046.1 109.5 1054.1 109.7 1043.9 109.9 1048.1 110.2 1057 110.4 1045.4 110.6 1046.7 110.8 1062.1 111.1 1057.8 111.3 1061 111.5 1050.7 111.7 1061.8 111.9 1052.8 112.2 1056.4 112.4 1057.4 112.6 1049.2 112.8 1057.2 113 1050.3 113.3 1057.5 113.5 1056 113.7 1060.5 113.9 1049.7 114.2 1073 114.4 1059.5 114.6 1054.3 114.8 1050 115 1059.4 115.3 1054 115.5 1051.7 115.7 1054.2 115.9 1032 116.2 1053.7 116.4 1053.5 116.6 1048.9 116.8 1059.1 117 1052.9 117.3 1050 117.5 1048.8 117.7 1054.4 117.9 1060.5 118.1 1046.7 118.4 1050.6 118.6 1051.8 118.8 1052.7 119 1053.1 119.3 1059 119.5 1049.1 119.7 1063.3 119.9 1059.2 120.1 1047.9 120.4 1053 120.6 1049.7 120.8 1056 121 1054.8 121.3 1058.1 121.5 1064.9 121.7 1056.5 121.9 1060.4 122.1 1059.8 122.4 1057 122.6 1065.7 122.8 1056.2 123 1051.6 123.2 1054.4 123.5 1050.3 123.7 1059.2 123.9 1044.5 124.1 1055.7 124.4 1060.3 124.6 1066.3 124.8 1058.6 125 1030 125.2 1061.9 125.5 1062.2 125.7 1055.8 125.9 1051.7 126.1 1042.2 126.4 1051.6 126.6 1051.8 126.8 1053.1 127 1046.1 127.2 1055.6 127.5 1053.4 127.7 1045.9 127.9 1047.5 128.1 1061.2 128.3 1050 128.6 1052.9 128.8 1061.9 129 1062.7 129.2 1059.1 129.5 1059.6 129.7 1054.1 129.9 1058.3 130.1 1051.8 130.3 1055.5 130.6 1047.1 130.8 1054.9 131 1054.2 131.2 1049.3 131.5 1049.8 131.7 1054.7 131.9 1063.7 132.1 1044.6 132.3 1047.5 132.6 1073 132.8 1057.5 133 1037 133.2 1057.6 133.4 1061.1 133.7 1047.8 133.9 1056.3 134.1 1044.6 134.3 1054.6 134.6 1055.8 134.8 1053.1 135 1037 135.2 1053.8 135.4 1049 135.7 1050.4 135.9 1017.5 136.1 1060.8 136.3 1040.5 136.6 1046 136.8 1054.7 137 1043.3 137.2 1073 137.4 1052.1 137.7 1056.4 137.9 1067.9 138.1 1060.5 138.3 1056.4 138.5 1055.9 138.8 1067.4 139 1044.7 139.2 1050 139.4 1056.9 139.7 1053.8 139.9 1071.1 140.1 1052 140.3 1048.3 140.5 1058.3 140.8 1041.3 141 1058.9 141.2 1058.8 141.4 1063.9 141.6 1063 141.9 1050.4 142.1 1050.2 142.3 1054.1 142.5 1076.7 142.8 1064 143 1066.9 143.2 1042.5 143.4 1051.3 143.6 1057.8 143.9 1053.8 144.1 1060.5 144.3 1061.4 144.5 1066.2 144.8 1057 145 1067.8 145.2 1051.7 145.4 1056.6 145.6 1073 145.9 1050.8 146.1 1069.8 146.3 1056 146.5 1059.4 146.7 1056.7 147 1052.1 147.2 1059.3 147.4 1069.2 147.6 1055.7 147.9 1063.5 148.1 1054.7 148.3 1061.6 148.5 1045.1 148.7 1047.9 149 1059.8 149.2 1055 149.4 1052.8 149.6 1065.8 149.9 1051.3 150.1 1075 150.3 1053.7 150.5 1061.4 150.7 1073 151 1054.1 151.2 1055.8 151.4 1055.9 151.6 1053.5 151.8 1056.8 152.1 1037 152.3 1049.7 152.5 1058.3 152.7 1056.2 153 1055.2 153.2 1060.4 153.4 1038.1 153.6 1048 153.8 1055.3 154.1 1037 154.3 1050.7 154.5 1047.2 154.7 1073 155 1063.2 155.2 1053.4 155.4 1057.7 155.6 1058.5 155.8 1057.1 156.1 1059.7 156.3 1073 156.5 1037 156.7 1065 156.9 1060.1 157.2 1064.3 157.4 1052.1 157.6 1057 157.8 1046.2 158.1 1069.3 158.3 1058.6 158.5 1059.3 158.7 1041.6 158.9 1052.9 159.2 1061.4 159.4 1056.2 159.6 1056.1 159.8 1070.4 160.1 1067.6 160.3 1073 160.5 1065.9 160.7 1081.7 160.9 1055.7 161.2 1054 161.4 1064.4 161.6 1068.1 161.8 1047.6 162 1056.4 162.3 1062.5 162.5 1047.1 162.7 1044.7 162.9 1045.8 163.2 1060.9 163.4 1065.6 163.6 1070.1 163.8 1061.6 164 1045.6 164.3 1058.6 164.5 1053.1 164.7 1054.3 164.9 1052.2 165.2 1052.9 165.4 1051.9 165.6 1054.9 165.8 1049.2 166 1056.6 166.3 1053.5 166.5 1046.1 166.7 1060.9 166.9 1068.1 167.1 1055.8 167.4 1060.6 167.6 1056.8 167.8 1042.4 168 1058.8 168.3 1068.5 168.5 1052.2 168.7 1051.2 168.9 1073 169.1 1062.5 169.4 1062.5 169.6 1053.1 169.8 1053 170 1053.5 170.3 1056.4 170.5 1055.5 170.7 1057.7 170.9 1063.8 171.1 1047.5 171.4 1054.8 171.6 1054.3 171.8 1047 172 1050.8 172.2 1057.2 172.5 1061.5 172.7 1050.3 172.9 1048.8 173.1 1052.1 173.4 956.7 173.6 1070.1 173.8 1087.5 174 1063.4 174.2 1064 174.5 1054.2 174.7 1053.6 174.9 1054.8 175.1 1055.6 175.4 1041.3 175.6 1055.5 175.8 1047.3 176 1053.7 176.2 1045.6 176.5 1073 176.7 1071.4 176.9 1058.7 177.1 1057 177.3 1066.2 177.6 1051.7 177.8 1060.3 178 1062.9 178.2 1055.8 178.5 1067.7 178.7 1063.9 178.9 1046.1 179.1 1052.4 179.3 1063.9 179.6 1060.4 179.8 1037 180 1064.2 180.2 1059 180.4 1049.7 180.7 1067 180.9 1060.6 181.1 1052.1 181.3 1051.4 181.6 1055.3 181.8 1051.2 182 1065.9 182.2 1067.7 182.4 1058.5 182.7 1063.5 182.9 1040.8 183.1 1056.3 183.3 1047.6 183.6 1055.2 183.8 1055.1 184 1055.3 184.2 1071.3 184.4 1047.1 184.7 1059.6 184.9 1060.1 185.1 1037 185.3 1059.2 185.5 1055.1 185.8 1044.7 186 1057.5 186.2 1073 186.4 1061 186.7 1059.2 186.9 1050.8 187.1 1054.9 187.3 1048.3 187.5 1055.8 187.8 1055.5 188 1043.1 188.2 1045.1 188.4 1059.1 188.7 1057.3 188.9 1058.2 189.1 1056.8 189.3 1053.6 189.5 1061.2 189.8 1045.8 190 1049.5 190.2 1060.9 190.4 1056.3 190.6 1056.3 190.9 1052.6 191.1 1059.4 191.3 1051.2 191.5 1048.4 191.8 1043.3 192 1054.9 192.2 1054.9 192.4 1055.9 192.6 1053.3 192.9 1054.5 193.1 1060.6 193.3 1055.3 193.5 1056.5 193.8 1046.7 194 1058.4 194.2 1049.9 194.4 1053.7 194.6 1054.4 194.9 1053.6 195.1 1045.3 195.3 1050.3 195.5 1058.2 195.7 1052.3 196 1056.3 196.2 1056.4 196.4 1057.7 196.6 1053.9 196.9 1055.8 197.1 1054.5 197.3 1055.1 197.5 1062.6 197.7 1049.5 198 1051.3 198.2 1049.1 198.4 1064.8 198.6 1037 198.9 1058.8 199.1 1059 199.3 1053.5 199.5 1066 199.7 1073 200 1059.6 200.2 1051.4 200.4 1050.2 200.6 1050.8 200.8 1049.8 201.1 1053.3 201.3 1058.1 201.5 1057.2 201.7 1050.5 202 1052.3 202.2 1046.5 202.4 1056.7 202.6 1049.2 202.8 1056.3 203.1 1050.2 203.3 1044.2 203.5 1056.9 203.7 1049.4 204 1052.5 204.2 1055.4 204.4 1045.9 204.6 1055.5 204.8 1062.6 205.1 1054.5 205.3 1050 205.5 1056.9 205.7 1046.3 205.9 1053.1 206.2 1050.8 206.4 1058.6 206.6 1048.1 206.8 1054.5 207.1 1055.6 207.3 1068 207.5 1053.2 207.7 1057.1 207.9 1073 208.2 1042.8 208.4 1053.5 208.6 1061.5 208.8 1073 209.1 1060.3 209.3 1048.8 209.5 1061.1 209.7 1058.7 209.9 1058.8 210.2 1051 210.4 1062.1 210.6 1050.6 210.8 1062.5 211 1037.4 211.3 1062.3 211.5 1050.2 211.7 1058.9 211.9 1038.7 212.2 1017.2 212.4 1055.2 212.6 1055.1 212.8 1056.4 213 1056.9 213.3 1070.9 213.5 1057.8 213.7 1051.8 213.9 1057.7 214.2 1038.5 214.4 1055.1 214.6 1051 214.8 1049.5 215 1037.6 215.3 1050.8 215.5 1063.7 215.7 1050.3 215.9 1048.5 216.1 1049.9 216.4 1061.1 216.6 1056.1 216.8 1052.9 217 1037 217.3 1052.8 217.5 1062.1 217.7 1055.2 217.9 1057.4 218.1 1045.8 218.4 1055.1 218.6 1059.2 218.8 1052.8 219 1060.8 219.3 1049.3 219.5 1042.2 219.7 1058.9 219.9 1052 220.1 1049.4 220.4 1059.7 220.6 1047.7 220.8 1052.6 221 1046.5 221.2 1060.8 221.5 1061.3 221.7 1059.6 221.9 1053.3 222.1 1052.1 222.4 1055.4 222.6 1037 222.8 1045.5 223 1051.6 223.2 1051.7 223.5 1050 223.7 1062.8 223.9 1054.3 224.1 1055.6 224.3 1052.8 224.6 1057.4 224.8 1054.8 225 1053.8 225.2 1069.6 225.5 1054.6 225.7 1061.4 225.9 1048.1 226.1 1056.7 226.3 1053.7 226.6 1054.8 226.8 1048.2 227 1057.1 227.2 1052.6 227.5 1061 227.7 1061 227.9 1047.4 228.1 1081.7 228.3 1067.5 228.6 1055.3 228.8 1056.4 229 1055.3 229.2 1048.9 229.4 1042.6 229.7 1058.3 229.9 1048.9 230.1 1053 230.3 1057.9 230.6 1056.9 230.8 1052.5 231 1038.6 231.2 1051.9 231.4 1061.5 231.7 1064.3 231.9 1056.8 232.1 1039 232.3 1046.6 232.6 1052.5 232.8 1047.2 233 1045.9 233.2 1059.1 233.4 1063.7 233.7 1047.9 233.9 1060.4 234.1 1051.8 234.3 1061.5 234.5 1051.9 234.8 1057.8 235 1040.9 235.2 1053.9 235.4 1039.9 235.7 1058.6 235.9 1073 236.1 1073 236.3 1063.1 236.5 1050.8 236.8 1070.9 237 1053.8 237.2 1052.3 237.4 1056.9 237.7 1054.8 237.9 1055.8 238.1 1058.1 238.3 1050.2 238.5 1049.8 238.8 1054.2 239 1056 239.2 1057.4 239.4 1062.2 239.6 1059.6 239.9 1060.8 240.1 1059.3 240.3 1054.5 240.5 1057.3 240.8 1059.9 241 1015.7 241.2 1055.7 241.4 1059.2 241.6 1053.1 241.9 1053 242.1 1057.3 242.3 1054.4 242.5 1053.9 242.8 1054.7 243 1055 243.2 1055.3 243.4 1055.7 243.6 1061.7 243.9 1037 244.1 1053.8 244.3 1056.3 244.5 1055.2 244.7 1051.5 245 1057 245.2 1054.7 245.4 1053.2 245.6 1060.7 245.9 1059.7 246.1 1057.7 246.3 1051.8 246.5 1060.5 246.7 1066.8 247 1056 247.2 1049.8 247.4 1060.3 247.6 1050.4 247.9 1047.5 248.1 1073 248.3 1064.6 248.5 1056.6 248.7 1057 249 1056.6 249.2 1052.2 249.4 1056.9 249.6 1052.7 249.8 1058.1 250.1 1049.9 250.3 1025.5 250.5 1056 250.7 1051.5 251 1047.7 251.2 1068.3 251.4 1062.4 251.6 1062.6 251.8 1061.9 252.1 1050.9 252.3 1053.5 252.5 1052.4 252.7 1058.3 253 1043.5 253.2 1062.8 253.4 1050.9 253.6 1054.2 253.8 1057.3 254.1 1052.6 254.3 1046.6 254.5 1053 254.7 1051.7 254.9 1053 255.2 1051.8 255.4 1048.7 255.6 1048.8 255.8 1049.8 256.1 1059.2 256.3 1054.2 256.5 1058.8 256.7 1058.8 256.9 1056.6 257.2 1056 257.4 1055.8 257.6 1058.2 257.8 1047.7 258.1 1054.9 258.3 1037 258.5 1053.2 258.7 1054.9 258.9 1055.1 259.2 1055.4 259.4 1051.9 259.6 1054.1 259.8 1063.1 260 1058.1 260.3 1052.9 260.5 1057.4 260.7 1045 260.9 1043.9 261.2 1058.2 261.4 1058.8 261.6 1044.7 261.8 1047 262 1063 262.3 1051.1 262.5 1047.7 262.7 1061 262.9 1052.9 263.1 1052.4 263.4 1061 263.6 1040.1 263.8 1058.2 264 1072.4 264.3 1053.3 264.5 1045.7 264.7 1052.1 264.9 1054.8 265.1 1057.2 265.4 1051.2 265.6 1065.9 265.8 1073 266 1053.6 266.3 1056.7 266.5 1054.5 266.7 1071.1 266.9 1053.2 267.1 1059.8 267.4 1051.6 267.6 1053.3 267.8 1051.9 268 1059.1 268.2 1048.6 268.5 1050.2 268.7 1055.2 268.9 957.2 269.1 1058.1 269.4 1052.5 269.6 1051.7 269.8 1053.3 270 1060.2 270.2 1095.2 270.5 1052.1 270.7 1050 270.9 1058.6 271.1 1037 271.4 1048.7 271.6 1056.4 271.8 1058 272 1049.6 272.2 1054.3 272.5 1046.8 272.7 1053.7 272.9 1055.3 273.1 1054.1 273.3 1052.3 273.6 1054.4 273.8 1049.3 274 1056.2 274.2 1059.4 274.5 1052.3 274.7 1048.5 274.9 1053.7 275.1 1053.8 275.3 1057.8 275.6 1057.8 275.8 1056.1 276 1049.5 276.2 1047.9 276.5 1014.2 276.7 1054.1 276.9 1037 277.1 1062.6 277.3 1052.1 277.6 1061.1 277.8 1058.9 278 1053.9 278.2 1056.5 278.4 1047.5 278.7 1062.3 278.9 1050 279.1 1051.2 279.3 1050 279.6 1049.6 279.8 1056.4 280 1052.1 280.2 1055.8 280.4 1055.5 280.7 1056.5 280.9 1049.2 281.1 1053.6 281.3 1059.2 281.6 1058.9 281.8 1055 282 1055.9 282.2 1052.8 282.4 1059 282.7 1057.3 282.9 1062.5 283.1 1046.2 283.3 1054.8 283.5 1037 283.8 1051.9 284 1055.4 284.2 1056.2 284.4 1052.1 284.7 1057.1 284.9 1045.9 285.1 1055.5 285.3 1063.5 285.5 1053 285.8 1055.7 286 1057.1 286.2 1056.2 286.4 1063.7 286.7 1053.1 286.9 1059.7 287.1 1068.3 287.3 1055 287.5 1062.1 287.8 1065.2 288 1053.9 288.2 1060.5 288.4 1055.9 288.6 1051.6 288.9 1054.7 289.1 1049.9 289.3 1052.2 289.5 1051.6 289.8 1056.1 290 1057.3 290.2 1051 290.4 1058.1 290.6 1055.1 290.9 1047.8 291.1 1060.4 291.3 1056.3 291.5 1065 291.8 1060 292 1047.8 292.2 1059.4 292.4 1063 292.6 1079.5 292.9 1055.7 293.1 1052.4 293.3 1057.2 293.5 1015.7 293.7 1057.2 294 1056.5 294.2 1059.5 294.4 1037 294.6 1049.5 294.9 1054.9 295.1 1053.1 295.3 1050 295.5 1046.8 295.7 1060.6 296 1039.3 296.2 1058.4 296.4 1068.4 296.6 1052.7 296.9 1059.1 297.1 1057.5 297.3 1041.6 297.5 1052 297.7 1048.7 298 1047.8 298.2 1058 298.4 1052.7 298.6 1060.1 298.8 1058.8 299.1 1048.3 299.3 1054.1 299.5 1039.8 299.7 1041.8 300 1030 300.2 1063.3 300.4 1054.1 300.6 1063.2 300.8 1052.1 301.1 1066.8 301.3 1055.9 301.5 1061.4 301.7 1064.8 301.9 1054.7 302.2 1054.6 302.4 1061.1 302.6 1061 302.8 1055.7 303.1 1064.8 303.3 1054.3 303.5 1048.6 303.7 1065.7 303.9 1056.5 304.2 1037 304.4 1048.3 304.6 1051.3 304.8 1057.4 305.1 1056.6 305.3 1061.4 305.5 1042.5 305.7 1054.6 305.9 1061.9 306.2 1056.7 306.4 1060.9 306.6 1053 306.8 1040.3 307 1069.9 307.3 1061.6 307.5 1051.7 307.7 1061.3 307.9 1055.6 308.2 1054.7 308.4 1047.6 308.6 1050.3 308.8 1044.4 309 1064.4 309.3 1046.5 309.5 1046.6 309.7 1052.1 309.9 1063.2 310.2 1064.2 310.4 1045.2 310.6 1060.6 310.8 1056.2 311 1048.3 311.3 1060.6 311.5 1051 311.7 1054.8 311.9 1052.7 312.1 1069.5 312.4 1058.7 312.6 1049.9 312.8 1052.4 313 1049.8 313.3 1062.3 313.5 1037.9 313.7 1060.8 313.9 1054.4 314.1 1060.8 314.4 1048.9 314.6 1054.7 314.8 1048.6 315 1059.8 315.3 1037 315.5 1061.5 315.7 1049.9 315.9 1052 316.1 1047.5 316.4 1061.7 316.6 1052.4 316.8 1049.5 317 1052 317.2 1064.3 317.5 1058.9 317.7 1061 317.9 1053.3 318.1 1056.3 318.4 1039.4 318.6 1060 318.8 1048 319 1062.4 319.2 1053.1 319.5 1063.5 319.7 1058.8 319.9 1031 320.1 1040 320.4 1060.6 320.6 1051.2 320.8 1057.5 321 1064.7 321.2 1069.4 321.5 1067.3 321.7 1045.6 321.9 1053.5 322.1 1057.6 322.3 1058.8 322.6 1066.6 322.8 1054.8 323 1049.2 323.2 1073 323.5 1059.6 323.7 1050.7 323.9 1056.5 324.1 1052.9 324.3 1051.4 324.6 1069.7 324.8 1053.9 325 1047.5 325.2 1048.6 325.5 1049.6 325.7 1037 325.9 1052.9 326.1 1063.1 326.3 1057.4 326.6 1059.4 326.8 1046.9 327 1043 327.2 1063.3 327.4 1047.9 327.7 1060.6 327.9 1059.2 328.1 1045.2 328.3 1061.8 328.6 1068.4 328.8 1056.1 329 1037.4 329.2 1050.9 329.4 1049 329.7 1050.5 329.9 1067.1 330.1 1053.4 330.3 1054 330.6 1049.9 330.8 1067.7 331 1057.3 331.2 1063.9 331.4 1055 331.7 1045.6 331.9 1071.4 332.1 1053 332.3 1064.3 332.5 1046.5 332.8 1062.5 333 1052.3 333.2 1038.4 333.4 1037 333.7 1043.6 333.9 1050.5 334.1 1044.8 334.3 1059.6 334.5 1051.8 334.8 1056.4 335 1049.5 335.2 1043.7 335.4 1073 335.7 1058.9 335.9 1058.7 336.1 1050.9 336.3 1042.4 336.5 1052.3 336.8 1058.7 337 1068.4 337.2 1051.7 337.4 1052.2 337.6 1064 337.9 1057.8 338.1 1048.9 338.3 1054.4 338.5 1049.5 338.8 1044.4 339 1060.7 339.2 1054.3 339.4 1050.6 339.6 1072.7 339.9 1038.8 340.1 1069.3 340.3 1073 340.5 1053.7 340.8 1057.8 341 1057.1 341.2 1061.6 341.4 1063.7 341.6 1047.3 341.9 1055.9 342.1 1073 342.3 1058.2 342.5 1043.2 342.7 1057.4 343 1048.2 343.2 1053.4 343.4 1062.9 343.6 1057.4 343.9 1041.4 344.1 1059.4 344.3 1062.1 344.5 1060.6 344.7 1061.2 345 1053 345.2 1065.3 345.4 1059.8 345.6 1048.7 345.8 1053.1 346.1 1064.7 346.3 1055.8 346.5 1053.1 346.7 1049.9 347 1053.8 347.2 1052.6 347.4 1016.5 347.6 1056.9 347.8 1050.6 348.1 1049.1 348.3 1058.1 348.5 1042.6 348.7 1049.9 349 1056.1 349.2 1055.2 349.4 1063.4 349.6 1052.9 349.8 1060.3 350.1 1052.6 350.3 1057.8 350.5 1047.6 350.7 1042.9 350.9 1056.6 351.2 1037 351.4 1060.2 351.6 1049.8 351.8 1041.2 352.1 1073 352.3 1041.9 352.5 1068.5 352.7 1053.2 352.9 1066.7 353.2 1059.1 353.4 1040.2 353.6 1050.2 353.8 1062.7 354.1 1037 354.3 1053.1 354.5 1061.9 354.7 1057.8 354.9 1056.6 355.2 1047.2 355.4 1057.6 355.6 1056.5 355.8 1054.7 356 1059.2 356.3 1056.4 356.5 1078 356.7 1056.7 356.9 1050.6 357.2 1052.5 357.4 1058.1 357.6 1052.3 357.8 1054.1 358 1052.7 358.3 1049.9 358.5 1059.3 358.7 1060.7 358.9 1057.9 359.2 1063.8 359.4 1055.4 359.6 1065.3 359.8 1055 360 1054.8 360.3 1056.6 360.5 1057.8 360.7 1050 360.9 1054.5 361.1 1037 361.4 1037 361.6 1063.6 361.8 1055.7 362 1049.3 362.3 1068.4 362.5 1058.2 362.7 1041.6" fill="none" stroke="#d62728" stroke-width="1.35" stroke-linejoin="round" clip-path="url(#c12)"/>
<text transform="translate(34.7 1096.7) scale(0.760 1)" font-family="Liberation Sans" font-size="20.5" text-anchor="end" fill="#505050" stroke="#505050" stroke-width="0.28">−20</text>
<text transform="translate(34.7 1062.4) scale(0.760 1)" font-family="Liberation Sans" font-size="20.5" text-anchor="end" fill="#505050" stroke="#505050" stroke-width="0.28">0</text>
<text transform="translate(34.7 1028.6) scale(0.760 1)" font-family="Liberation Sans" font-size="20.5" text-anchor="end" fill="#505050" stroke="#505050" stroke-width="0.28">20</text>
<text transform="translate(34.7 994.9) scale(0.760 1)" font-family="Liberation Sans" font-size="20.5" text-anchor="end" fill="#505050" stroke="#505050" stroke-width="0.28">40</text>
<text transform="translate(34.7 960.4) scale(0.760 1)" font-family="Liberation Sans" font-size="20.5" text-anchor="end" fill="#505050" stroke="#505050" stroke-width="0.28">60</text>
<text transform="translate(77 1124.4) scale(0.760 1)" font-family="Liberation Sans" font-size="20.5" text-anchor="middle" fill="#505050" stroke="#505050" stroke-width="0.28">2019</text>
<text transform="translate(157.8 1124.4) scale(0.760 1)" font-family="Liberation Sans" font-size="20.5" text-anchor="middle" fill="#505050" stroke="#505050" stroke-width="0.28">2020</text>
<text transform="translate(238.8 1124.4) scale(0.760 1)" font-family="Liberation Sans" font-size="20.5" text-anchor="middle" fill="#505050" stroke="#505050" stroke-width="0.28">2021</text>
<text transform="translate(319.6 1124.4) scale(0.760 1)" font-family="Liberation Sans" font-size="20.5" text-anchor="middle" fill="#505050" stroke="#505050" stroke-width="0.28">2022</text>
<rect x="404.8" y="949.4" width="305.7" height="153.4" fill="#E5ECF6"/>
<path d="M404.8 983.7H710.5" stroke="#d4d4d4" stroke-width="1.7"/>
<path d="M404.8 1049.2H710.5" stroke="#626468" stroke-width="2"/>
<path d="M405.1 1049.2 405.3 1043.4 405.5 1054.2 405.7 1054.6 405.9 1052.1 406.1 1055.5 406.3 1050.7 406.6 1047.3 406.8 1048.4 407 1047.7 407.2 1062.8 407.4 1047.5 407.6 1051.4 407.8 1046.9 408 1051 408.2 1046.1 408.4 1033.1 408.6 1051.2 408.8 1053.5 409 1048.4 409.3 1044.9 409.5 1057.6 409.7 1051.7 409.9 1046.8 410.1 1049.1 410.3 1054.8 410.5 1052 410.7 1057.6 410.9 1046.4 411.1 1042.4 411.3 1048.3 411.5 1050.6 411.7 1062.4 412 1056.4 412.2 1046 412.4 1052.1 412.6 1049.2 412.8 1043.7 413 1047 413.2 1051.4 413.4 1046.1 413.6 1047.7 413.8 1055.1 414 1045.9 414.2 1075 414.4 1050.6 414.7 1067.2 414.9 1055.7 415.1 1046 415.3 1046.9 415.5 1053.8 415.7 1045.9 415.9 1062.2 416.1 1049.9 416.3 1036.8 416.5 1059.1 416.7 1053.1 416.9 1048.8 417.1 1050.8 417.4 1042.9 417.6 1063.8 417.8 1049.8 418 1040.2 418.2 1048 418.4 1025 418.6 1052.9 418.8 1053 419 1046.2 419.2 1053.5 419.4 1048.4 419.6 1045.7 419.8 1047 420.1 1043.4 420.3 1052.6 420.5 1049.9 420.7 1045.8 420.9 1048.8 421.1 1049.3 421.3 1050.5 421.5 1047.2 421.7 1084.2 421.9 1050.5 422.1 1046.2 422.3 1048.6 422.5 1047.5 422.8 1055.5 423 1049.4 423.2 1042.2 423.4 1043 423.6 1050.3 423.8 1052.3 424 1049.8 424.2 1050.8 424.4 1048.1 424.6 1054.2 424.8 1037.3 425 1046.8 425.2 1042.7 425.5 1045.3 425.7 1058.9 425.9 1020 426.1 1048.7 426.3 1049.4 426.5 1052.3 426.7 1052.9 426.9 1042 427.1 1045 427.3 1045.9 427.5 1047.9 427.7 1049.1 427.9 1041.5 428.2 1046.6 428.4 1049.9 428.6 1047 428.8 1047.9 429 1047.5 429.2 1042.4 429.4 1048.5 429.6 1048.7 429.8 1044.9 430 1045.8 430.2 1054.2 430.4 1051.7 430.6 1050.6 430.9 1042.4 431.1 1051.6 431.3 1044.9 431.5 1048.7 431.7 1043.4 431.9 1047.2 432.1 1052.3 432.3 1045.4 432.5 1045.6 432.7 1046 432.9 1049.5 433.1 1050.3 433.3 1054.8 433.6 1047.4 433.8 1045.2 434 1045.8 434.2 1049.5 434.4 1051.6 434.6 1048.1 434.8 1053.2 435 1033.4 435.2 1047.2 435.4 1044.2 435.6 1049.8 435.8 1046.8 436 1047.4 436.3 1045.2 436.5 1055.3 436.7 1051.8 436.9 1047.7 437.1 1051.7 437.3 1053.1 437.5 1048.6 437.7 1055.1 437.9 1049.7 438.1 1051.7 438.3 1046.7 438.5 1066.8 438.7 1046.9 439 1054.6 439.2 1049.1 439.4 1057.8 439.6 1038.9 439.8 1062.3 440 1046.7 440.2 1043.5 440.4 1038.9 440.6 1049.5 440.8 1046.2 441 1048.8 441.2 1050.3 441.4 1053.5 441.7 1058.8 441.9 1044.9 442.1 1049.6 442.3 1048 442.5 1037.6 442.7 1050.1 442.9 1046.7 443.1 1047.9 443.3 1047.7 443.5 1047.1 443.7 1045.2 443.9 1040.2 444.1 1047.3 444.4 1043.1 444.6 1053.8 444.8 1053.9 445 1050.3 445.2 1053.3 445.4 1050.9 445.6 1051.5 445.8 1038.1 446 1048.1 446.2 1050.3 446.4 1046 446.6 1047.8 446.8 1058 447.1 1042.6 447.3 1046.4 447.5 1060.7 447.7 1052 447.9 1048 448.1 1048.3 448.3 1049.6 448.5 1054.1 448.7 1063 448.9 1031.2 449.1 1051.8 449.3 1056.3 449.5 1051.3 449.8 1064.1 450 1047.3 450.2 1047.8 450.4 1047.1 450.6 1054.2 450.8 1045.7 451 1048.7 451.2 1046.2 451.4 1050.4 451.6 1044.3 451.8 1046.7 452 1052.2 452.2 1057.1 452.5 1052.3 452.7 1064.1 452.9 1050.1 453.1 1048.7 453.3 1038.9 453.5 1047.5 453.7 1049.3 453.9 1047.9 454.1 1048.4 454.3 1048.5 454.5 1049.2 454.7 1046.3 454.9 1051.7 455.2 1049.4 455.4 1044.4 455.6 1049.1 455.8 1046.5 456 1039.8 456.2 1050.5 456.4 1049.6 456.6 1051.9 456.8 1052.5 457 1048.7 457.2 1050.5 457.4 1045.3 457.6 1061.6 457.9 1051.4 458.1 1047.9 458.3 1053.4 458.5 1046 458.7 1048.7 458.9 1049 459.1 1049.5 459.3 1051.1 459.5 1044.7 459.7 1056.1 459.9 1043.3 460.1 1043.7 460.3 1050.3 460.6 1052.3 460.8 1050.8 461 1048.9 461.2 1048.7 461.4 1067.2 461.6 1046.8 461.8 1054 462 1048.6 462.2 1054.2 462.4 1050.4 462.6 1045.1 462.8 1055.6 463 1051.7 463.3 1044.7 463.5 1050.7 463.7 1048.4 463.9 1052.5 464.1 1053.9 464.3 1052.8 464.5 1049.4 464.7 1053.3 464.9 1045.9 465.1 1053.5 465.3 1049.4 465.5 1053.6 465.7 1049.1 466 1052 466.2 1050.2 466.4 1051 466.6 1046 466.8 1050.7 467 1054.3 467.2 1049.3 467.4 1062 467.6 1053 467.8 1049.3 468 1050.8 468.2 1043.6 468.4 1048.9 468.7 1055.9 468.9 1041.7 469.1 1048.7 469.3 1048.2 469.5 1047.7 469.7 1050 469.9 1075 470.1 1046.5 470.3 1050.9 470.5 1050.4 470.7 1051.5 470.9 1052.2 471.1 1051.2 471.4 1052.7 471.6 1048.9 471.8 1045.4 472 1049.4 472.2 1044.8 472.4 1050.8 472.6 1048.6 472.8 1049.1 473 1048.8 473.2 1055 473.4 1045.5 473.6 1046 473.8 1047.5 474.1 1043.8 474.3 1047.1 474.5 1052.3 474.7 1053.5 474.9 1044.6 475.1 1050.2 475.3 1047.6 475.5 1053.8 475.7 1047.5 475.9 1044.8 476.1 1049 476.3 1048 476.5 1050.6 476.8 1046.2 477 1043.1 477.2 1053.8 477.4 1048.7 477.6 1046 477.8 1058.6 478 1056 478.2 1048.6 478.4 1049.1 478.6 1051.3 478.8 1051.4 479 1045.7 479.2 1030.8 479.5 1056 479.7 1051.1 479.9 1047.9 480.1 1047.6 480.3 1052 480.5 1048.9 480.7 1052.7 480.9 1051 481.1 1045 481.3 1048.7 481.5 1049.9 481.7 1049.3 481.9 1056.2 482.2 1048.4 482.4 1049.6 482.6 1050.5 482.8 1048.8 483 1047.4 483.2 1046.8 483.4 1050.5 483.6 1051.2 483.8 1046.4 484 1049.4 484.2 1050 484.4 1049.2 484.6 1050.1 484.9 1050.7 485.1 1046.8 485.3 1052 485.5 1046.8 485.7 1048.7 485.9 1044.2 486.1 1049.2 486.3 1051.5 486.5 1049.3 486.7 1048.8 486.9 1044 487.1 1047.9 487.3 1046.7 487.6 1043.8 487.8 1050.5 488 1044.8 488.2 1051.8 488.4 1047.6 488.6 1049.7 488.8 1049.2 489 1047.7 489.2 1063.3 489.4 1050.3 489.6 1049.7 489.8 1047.8 490 1050.7 490.3 1045.4 490.5 1050.6 490.7 1050.3 490.9 1047.5 491.1 1051.3 491.3 1050.1 491.5 1053.8 491.7 1049.1 491.9 1049.4 492.1 1049.7 492.3 1050.2 492.5 1051 492.7 1050.7 493 1051 493.2 1051.4 493.4 1053.3 493.6 1052.2 493.8 1053 494 1049.4 494.2 1044.5 494.4 1052.8 494.6 1036 494.8 1050 495 1050.3 495.2 1054.3 495.4 1049.4 495.7 1047.8 495.9 1050.5 496.1 1044.3 496.3 1048.1 496.5 1048.9 496.7 1048.5 496.9 1050.6 497.1 1044.1 497.3 1053.1 497.5 1030.8 497.7 1051.4 497.9 1054.9 498.1 1045 498.4 1049.1 498.6 1047.3 498.8 1048.5 499 1049.3 499.2 1049 499.4 1055.7 499.6 1052.1 499.8 1048.7 500 1045.7 500.2 1047.7 500.4 1051.4 500.6 1054.6 500.8 1048.5 501.1 1058 501.3 1050.1 501.5 1054.7 501.7 1048.2 501.9 1046.7 502.1 1049.4 502.3 1045.9 502.5 1047.8 502.7 1049.9 502.9 1050.9 503.1 1060.9 503.3 1049.1 503.5 1048.5 503.8 1040.8 504 1049 504.2 1050.5 504.4 1049.3 504.6 1052.2 504.8 1047.2 505 1044.3 505.2 1050.5 505.4 1040 505.6 1048.7 505.8 1047.2 506 1044.3 506.2 1038.7 506.5 1047.5 506.7 1050.3 506.9 1048.6 507.1 1049.6 507.3 1053.1 507.5 1048.8 507.7 1048.3 507.9 1046.8 508.1 1050.7 508.3 1048.5 508.5 1044.9 508.7 1045.1 508.9 1042.9 509.2 1050.4 509.4 1044.1 509.6 1043.1 509.8 1051.4 510 1045.4 510.2 1046.2 510.4 1060.5 510.6 1045.4 510.8 1052 511 1054.6 511.2 1048.8 511.4 1048.6 511.6 1047 511.9 1050.8 512.1 1052 512.3 1047.8 512.5 1048.4 512.7 1051.1 512.9 1050.7 513.1 1049.9 513.3 1048.1 513.5 1052.3 513.7 1054.3 513.9 1049.1 514.1 1053.8 514.3 1048.3 514.6 1046.6 514.8 1052 515 1032.5 515.2 1050.8 515.4 1050.4 515.6 1041.5 515.8 1049.2 516 1043.2 516.2 1048.7 516.4 1050.3 516.6 1050.3 516.8 1049.9 517 1050.2 517.3 1052.7 517.5 1049.3 517.7 1047.9 517.9 1060 518.1 1055.1 518.3 1044.5 518.5 1052.9 518.7 1040.6 518.9 1045.5 519.1 1065 519.3 1049.2 519.5 1048.8 519.7 1049.5 520 1040 520.2 1059.2 520.4 1049.7 520.6 1054.4 520.8 1046.2 521 1039.1 521.2 1050.5 521.4 1051.5 521.6 1049.7 521.8 1056.2 522 1047.9 522.2 1047.5 522.4 1063.6 522.7 1054.6 522.9 1049.7 523.1 1048 523.3 1049 523.5 1038.4 523.7 1051.7 523.9 1050.2 524.1 1051.9 524.3 1048.7 524.5 1047.9 524.7 1048.7 524.9 1047.9 525.1 1053 525.4 1048.2 525.6 1049.8 525.8 1048.8 526 1050.7 526.2 1053.5 526.4 1046.8 526.6 1035.7 526.8 1039.9 527 1041.5 527.2 1056.9 527.4 1049.3 527.6 1046.3 527.8 1042.5 528.1 1048.6 528.3 1051.8 528.5 1051.4 528.7 1047.1 528.9 1043.6 529.1 1051.9 529.3 1052.6 529.5 1051.5 529.7 1047.5 529.9 1038.6 530.1 1044.4 530.3 1041.6 530.5 1051.1 530.8 1047.9 531 1056.5 531.2 1053.9 531.4 1051.4 531.6 1049.8 531.8 1048.5 532 1054.3 532.2 1049.9 532.4 1051.9 532.6 1053 532.8 986.7 533 1051.5 533.2 1043 533.5 1047.3 533.7 1050.8 533.9 1032.1 534.1 1045.3 534.3 1047.8 534.5 1051.8 534.7 1044.2 534.9 1045.4 535.1 1043.3 535.3 1055.1 535.5 1058.5 535.7 1048.1 535.9 1051.4 536.2 1045.4 536.4 1055.5 536.6 1049.3 536.8 1046.6 537 1050.8 537.2 1042.4 537.4 1048.9 537.6 1049.4 537.8 1049.3 538 1050.4 538.2 1052.7 538.4 1045.9 538.6 1048.4 538.9 1048.8 539.1 1054.8 539.3 1049.5 539.5 1053 539.7 1054.5 539.9 1051.4 540.1 1047.9 540.3 1047 540.5 1046 540.7 1046.1 540.9 1055 541.1 1031.2 541.3 1047 541.6 1048 541.8 1048.7 542 1049.2 542.2 1044.3 542.4 1050 542.6 1047.4 542.8 1047.7 543 1044.4 543.2 1045.2 543.4 1035.1 543.6 1046.3 543.8 1052.2 544 1052.9 544.3 1050.7 544.5 1048.8 544.7 1054.4 544.9 1043.4 545.1 1054.1 545.3 1052.1 545.5 1048.1 545.7 1050.9 545.9 1050.7 546.1 1045.9 546.3 1044.3 546.5 1049.2 546.7 1049.9 547 1053.5 547.2 1047.2 547.4 1056.5 547.6 1046.5 547.8 1049.6 548 1049.1 548.2 1046.1 548.4 1053.9 548.6 1044.7 548.8 1051.5 549 1049.6 549.2 1056.2 549.4 1053.2 549.7 1054.1 549.9 1048.4 550.1 1046.2 550.3 1049.7 550.5 1050.4 550.7 1052.4 550.9 1043.5 551.1 1051.3 551.3 1042.5 551.5 1046.1 551.7 1047.1 551.9 1050.5 552.1 1052.6 552.4 1048.2 552.6 1050.3 552.8 1043.7 553 1050 553.2 1047.5 553.4 1053.3 553.6 1048.5 553.8 1041.9 554 1046.1 554.2 1052.7 554.4 1047.2 554.6 1049.9 554.8 1045.9 555.1 1045 555.3 1041.4 555.5 1053.3 555.7 1049.1 555.9 1048.2 556.1 1046.3 556.3 1048.9 556.5 1044.4 556.7 1044.6 556.9 1048.8 557.1 1048.7 557.3 1051.7 557.5 1041.2 557.8 1047.5 558 1051.3 558.2 1047.4 558.4 1059.2 558.6 1053.9 558.8 1054.1 559 1050.5 559.2 1054.5 559.4 1050.5 559.6 1049.1 559.8 1049.3 560 1045.7 560.2 1050.6 560.5 1059 560.7 1056.4 560.9 1051.1 561.1 1048.2 561.3 1043.9 561.5 1047.4 561.7 1045.2 561.9 1051.2 562.1 1031.2 562.3 1046.5 562.5 1051.9 562.7 1044.4 562.9 1045.9 563.2 1048.6 563.4 1044.1 563.6 1040.7 563.8 1045.3 564 1042.6 564.2 1044.1 564.4 1048.9 564.6 1052.3 564.8 1062.5 565 1047.6 565.2 1048.8 565.4 1055.6 565.6 1054.2 565.9 1049.9 566.1 1043.8 566.3 1052.7 566.5 1050.5 566.7 1047.2 566.9 1047.4 567.1 1067.2 567.3 1056.1 567.5 1052.8 567.7 1054.3 567.9 1048.3 568.1 1047.5 568.3 1039.6 568.6 1051.4 568.8 1044.3 569 1045.5 569.2 1045 569.4 1051.4 569.6 1045.2 569.8 1031.2 570 1031.2 570.2 1048 570.4 1046.2 570.6 1051.4 570.8 1052.1 571 1048.7 571.3 1054.3 571.5 1051.8 571.7 1050.3 571.9 1048.7 572.1 1042.2 572.3 1051.6 572.5 1043.9 572.7 1044.5 572.9 1040.6 573.1 1053.8 573.3 1047.8 573.5 1053.6 573.7 1040.1 574 1053.8 574.2 1049.8 574.4 1044.7 574.6 1049.8 574.8 1055.4 575 1045.5 575.2 1052.3 575.4 1047.6 575.6 1037.5 575.8 1052 576 1054.5 576.2 1041.8 576.4 1048.2 576.7 1063.1 576.9 1049.1 577.1 1045.7 577.3 1046.3 577.5 1044.6 577.7 1043.6 577.9 1051.8 578.1 1055.1 578.3 1042.7 578.5 1052 578.7 1044.5 578.9 1045.9 579.1 1046.1 579.4 1046.5 579.6 1047.6 579.8 1043.4 580 1047.6 580.2 1048.1 580.4 1050.2 580.6 1048.9 580.8 1042.4 581 1047 581.2 1043.9 581.4 1047.4 581.6 1051.6 581.8 1052.7 582.1 1058.9 582.3 1042.9 582.5 1050.5 582.7 1055.8 582.9 1056.1 583.1 1040 583.3 1046.5 583.5 1051.5 583.7 1049.3 583.9 1047.5 584.1 1053 584.3 1055.7 584.5 1046.8 584.8 1059.2 585 1051.9 585.2 1047.3 585.4 1085.5 585.6 1047.4 585.8 1047.1 586 1042.9 586.2 1047.3 586.4 1048.2 586.6 1065.1 586.8 1049.5 587 1044.4 587.2 1047.6 587.5 1032.3 587.7 1054 587.9 1049.8 588.1 1030 588.3 1048 588.5 1047 588.7 1058.9 588.9 1035.6 589.1 1047.3 589.3 1051.5 589.5 1052.9 589.7 1042.3 589.9 1045.6 590.2 1050.8 590.4 1043.5 590.6 1056.3 590.8 1039 591 1041.9 591.2 1052.3 591.4 1031.9 591.6 1049.4 591.8 1054.5 592 956.5 592.2 1061 592.4 1078 592.6 1042 592.9 1048.7 593.1 1041.9 593.3 1046.2 593.5 1044.5 593.7 1050.8 593.9 1048.3 594.1 1057.4 594.3 1049.6 594.5 1047.4 594.7 1046.8 594.9 1049 595.1 1042.4 595.3 1039.4 595.6 1078 595.8 1044.9 596 1048.1 596.2 1046.1 596.4 1048.1 596.6 1049.4 596.8 1054.2 597 1043.9 597.2 1053.2 597.4 1066.4 597.6 1045.5 597.8 1050 598 1043.5 598.3 1051.3 598.5 1044.2 598.7 1046.8 598.9 1054.7 599.1 1051.8 599.3 1053.3 599.5 1051 599.7 1048.7 599.9 1096 600.1 1048.2 600.3 1005.2 600.5 1044.4 600.7 1048.2 601 1051.6 601.2 1047.9 601.4 1047.9 601.6 1050.8 601.8 1055.4 602 1045.4 602.2 1044.4 602.4 1046.8 602.6 1048.5 602.8 1046.4 603 1047.3 603.2 1056.2 603.4 1047.7 603.7 1051.9 603.9 1045.5 604.1 1048.6 604.3 1043.1 604.5 1049.3 604.7 1045.9 604.9 1051.2 605.1 1047.9 605.3 1052 605.5 1052.4 605.7 1049.4 605.9 1030 606.1 1045.8 606.4 1054.1 606.6 1048 606.8 1052.2 607 1048.6 607.2 1059.2 607.4 1040.8 607.6 1047.8 607.8 1051.8 608 1046.7 608.2 1045.5 608.4 1047.8 608.6 1045.6 608.8 1044.8 609.1 1047.7 609.3 1049 609.5 1044.1 609.7 1048.3 609.9 1050.3 610.1 1057.5 610.3 1055.6 610.5 1048.3 610.7 1045 610.9 1046 611.1 1056.2 611.3 1046.5 611.5 1054.5 611.8 1044.9 612 1027 612.2 1047.9 612.4 1039.5 612.6 1051.1 612.8 1048.4 613 1051.3 613.2 1049.9 613.4 1087 613.6 1048.7 613.8 1058.9 614 1049.5 614.2 1048.5 614.5 1049.3 614.7 1044.9 614.9 1033.3 615.1 1048.3 615.3 1045 615.5 1052 615.7 1049.8 615.9 1045.7 616.1 1050.4 616.3 1043.2 616.5 1048.8 616.7 1053.5 616.9 1047.1 617.2 1054.2 617.4 1050.3 617.6 1042.9 617.8 1079.5 618 1025 618.2 1049.6 618.4 1052.4 618.6 1048.4 618.8 1048 619 1048.4 619.2 1067.2 619.4 1047.6 619.6 1051.9 619.9 1048.3 620.1 1048.4 620.3 1038.1 620.5 1045 620.7 1051.2 620.9 1047.9 621.1 1053.8 621.3 1051.3 621.5 1041.8 621.7 1045 621.9 1049.8 622.1 1045.8 622.3 1051.7 622.6 983.5 622.8 1047.3 623 1049.6 623.2 1075 623.4 1052.6 623.6 1051.9 623.8 1039.2 624 1050.1 624.2 1044.8 624.4 1049.6 624.6 1044.8 624.8 1054.7 625 1044.9 625.3 1051.7 625.5 1052.4 625.7 1044.6 625.9 1051 626.1 1049.6 626.3 1048.1 626.5 1045.1 626.7 1049.7 626.9 1048.7 627.1 1048.3 627.3 1048.2 627.5 1049 627.7 1049.7 628 1049.2 628.2 1051.2 628.4 1051.3 628.6 1045.1 628.8 1047.6 629 1048.3 629.2 1053.3 629.4 1013 629.6 1047.2 629.8 1042.9 630 1047.9 630.2 1054.6 630.4 1047.9 630.7 1047.9 630.9 1046.7 631.1 1066.7 631.3 1050.7 631.5 1038.2 631.7 1055.3 631.9 1049.7 632.1 1048.8 632.3 1042.1 632.5 1046.7 632.7 1049.6 632.9 1043.2 633.1 1059.8 633.4 1047.9 633.6 1049.7 633.8 1052.5 634 1043.2 634.2 1044.9 634.4 1042.2 634.6 1050.5 634.8 1057.3 635 1048.6 635.2 1049.6 635.4 1040.8 635.6 1046 635.8 1043.1 636.1 1048 636.3 1059.1 636.5 1042.3 636.7 1048 636.9 1049.1 637.1 1045.2 637.3 1055.8 637.5 1046.5 637.7 1062.6 637.9 1055.7 638.1 1053.2 638.3 1056.2 638.5 1055.3 638.8 1054 639 1047.6 639.2 1047.6 639.4 1043.6 639.6 1053.4 639.8 1053 640 1047.4 640.2 1047.2 640.4 1046.8 640.6 1051.7 640.8 1054 641 1046.3 641.2 1046.8 641.5 1051.2 641.7 1053.8 641.9 1046.6 642.1 1049.3 642.3 1048.8 642.5 1045.6 642.7 1051.2 642.9 1044.3 643.1 1047.5 643.3 1051.2 643.5 1048.5 643.7 1046.2 643.9 1052.5 644.2 1055.8 644.4 1049.8 644.6 1042.9 644.8 1050.8 645 1048.3 645.2 1049.7 645.4 1049.7 645.6 1018 645.8 1046.6 646 1051.4 646.2 1050.6 646.4 1049.4 646.6 1050.8 646.9 1048.4 647.1 1046.7 647.3 1046.5 647.5 1048.9 647.7 1049 647.9 1049.4 648.1 1050.3 648.3 1049.3 648.5 1047.6 648.7 1052.1 648.9 1050.9 649.1 1042.2 649.3 1044.2 649.6 1055.3 649.8 1050.8 650 1047.2 650.2 1050.8 650.4 1048.7 650.6 1049.5 650.8 1049 651 1049.8 651.2 1053.4 651.4 1048.3 651.6 1048.4 651.8 1051.1 652 1044.3 652.3 1046.1 652.5 1050.2 652.7 1049.4 652.9 1044.2 653.1 1052.7 653.3 1049.6 653.5 1047.4 653.7 1056.6 653.9 1046.7 654.1 1059.6 654.3 1050.9 654.5 1052.9 654.7 1051.4 655 1046.4 655.2 1048 655.4 1048.4 655.6 1047.2 655.8 1054.8 656 1052.1 656.2 1047.4 656.4 1049 656.6 1047.8 656.8 1044.7 657 1054 657.2 1063.5 657.4 1058 657.7 1047.6 657.9 1052.5 658.1 1052.9 658.3 1041.2 658.5 1051.2 658.7 1048.2 658.9 1050.1 659.1 1053.8 659.3 1047.8 659.5 1045.5 659.7 1051.9 659.9 1048.3 660.1 1047.1 660.4 1036.3 660.6 1038.2 660.8 1053.1 661 1046.4 661.2 1055.2 661.4 1054.8 661.6 1043.7 661.8 1055.6 662 1050.8 662.2 1050.4 662.4 1048.9 662.6 1040 662.8 1054.7 663.1 1046.3 663.3 1045.9 663.5 1047.2 663.7 1046.9 663.9 1048.6 664.1 1048 664.3 1049.6 664.5 1051.3 664.7 1043 664.9 1052.7 665.1 1045.4 665.3 1053.2 665.5 1044.5 665.8 1050.3 666 1048 666.2 1055.7 666.4 1047.8 666.6 1041.3 666.8 1053.4 667 1047.2 667.2 1047.4 667.4 1049.7 667.6 1049.5 667.8 1052.3 668 1052.5 668.2 1050 668.5 1049.5 668.7 1052.2 668.9 1047.9 669.1 1054.6 669.3 1047 669.5 1050.7 669.7 1055.1 669.9 1050.7 670.1 1048.7 670.3 1049.7 670.5 1048.5 670.7 1046.2 670.9 1044.6 671.2 1047 671.4 1046.2 671.6 1048.4 671.8 1049 672 1038.1 672.2 1048.7 672.4 1049.8 672.6 1045.9 672.8 1043.4 673 1048.2 673.2 1046.3 673.4 1047.3 673.6 1050.6 673.9 1049.6 674.1 1049.6 674.3 1049.5 674.5 1039.5 674.7 1048.4 674.9 1048.7 675.1 1047.3 675.3 1046.1 675.5 1050.8 675.7 1051.3 675.9 1046.6 676.1 1046.6 676.3 1047.5 676.6 1048.4 676.8 1072 677 1048.2 677.2 1044.7 677.4 1048.5 677.6 1047.8 677.8 1048.8 678 1058.7 678.2 1049 678.4 1052.6 678.6 1046.9 678.8 1054.4 679 1055.3 679.3 1048.1 679.5 1055.3 679.7 1049.6 679.9 1047.1 680.1 1050.6 680.3 1053.9 680.5 1050.5 680.7 1047.6 680.9 1049.4 681.1 1048.3 681.3 1048 681.5 1054.8 681.7 1047.1 682 1047.4 682.2 1052 682.4 1046.9 682.6 1048.9 682.8 1050 683 1050.1 683.2 1050.4 683.4 1054 683.6 1050.2 683.8 1050.2 684 1048.1 684.2 1047.2 684.4 1047.3 684.7 1046.1 684.9 1054.4 685.1 1046.7 685.3 1044.5 685.5 1050.6 685.7 1057.4 685.9 1045.8 686.1 1051.3 686.3 1050.4 686.5 1048.3 686.7 1044.1 686.9 1049.6 687.1 1045.9 687.4 1046.4 687.6 1049.8 687.8 1046.8 688 1045.6 688.2 1049 688.4 1047.7 688.6 1046.1 688.8 1054.8 689 1050.2 689.2 1052.9 689.4 1051.2 689.6 1048.9 689.8 1043.9 690.1 1050.8 690.3 1049.4 690.5 1047.5 690.7 1052.5 690.9 1041.7 691.1 1050.3 691.3 1050 691.5 1054.7 691.7 1045.8 691.9 1055.3 692.1 1055.1 692.3 1049 692.5 1045.6 692.8 1044 693 1054.3 693.2 1048.9 693.4 1048.8 693.6 1050.3 693.8 1049.2 694 1051.8 694.2 1051 694.4 1048.3 694.6 1067.2 694.8 1048.4 695 1049 695.2 1051.2 695.5 1051.1 695.7 1051.1 695.9 1045.2 696.1 1039.4 696.3 1048 696.5 1017.5 696.7 1057.4 696.9 1050.8 697.1 1047.9 697.3 1046.2 697.5 1050.6 697.7 1046.5 697.9 1052.7 698.2 1055.6 698.4 1056.1 698.6 1050.9 698.8 1045.9 699 1059.9 699.2 1065.1 699.4 1053.7 699.6 1047.7 699.8 1053.8 700 1045.4 700.2 1064.5 700.4 1048.9 700.6 1050 700.9 1046.1 701.1 1054.4 701.3 1051.9 701.5 1047.4 701.7 1058.2 701.9 1052.1 702.1 1051.3 702.3 1048.8 702.5 1056.9 702.7 1048.2 702.9 1050.2 703.1 1055.6 703.3 1062.1 703.6 1049.2 703.8 1036.7 704 1050.8 704.2 1054 704.4 1049.5 704.6 1050.9 704.8 1051.6 705 1049.3 705.2 1044.9 705.4 1046.6 705.6 1052.3 705.8 1050.8 706 1052.2 706.3 1047.3 706.5 1054.4 706.7 1057.3 706.9 1051.7 707.1 1046.5 707.3 1051.9 707.5 1057.7 707.7 1047.8 707.9 1051.6 708.1 1049.6 708.3 1040 708.5 1051.5 708.7 1052.3 709 1048.7 709.2 1048 709.4 1048.8 709.6 1044.7 709.8 1050.3 710 1049 710.2 1050.4" fill="none" stroke="#9467bd" stroke-width="1.35" stroke-linejoin="round" clip-path="url(#c13)"/>
<text transform="translate(402.8 1056.6) scale(0.760 1)" font-family="Liberation Sans" font-size="20.5" text-anchor="end" fill="#505050" stroke="#505050" stroke-width="0.28">0</text>
<text transform="translate(402.8 991.1) scale(0.760 1)" font-family="Liberation Sans" font-size="20.5" text-anchor="end" fill="#505050" stroke="#505050" stroke-width="0.28">50</text>
<text transform="translate(442.5 1124.4) scale(0.760 1)" font-family="Liberation Sans" font-size="20.5" text-anchor="middle" fill="#505050" stroke="#505050" stroke-width="0.28">2019</text>
<text transform="translate(518.2 1124.4) scale(0.760 1)" font-family="Liberation Sans" font-size="20.5" text-anchor="middle" fill="#505050" stroke="#505050" stroke-width="0.28">2020</text>
<text transform="translate(594.2 1124.4) scale(0.760 1)" font-family="Liberation Sans" font-size="20.5" text-anchor="middle" fill="#505050" stroke="#505050" stroke-width="0.28">2021</text>
<text transform="translate(669.9 1124.4) scale(0.760 1)" font-family="Liberation Sans" font-size="20.5" text-anchor="middle" fill="#505050" stroke="#505050" stroke-width="0.28">2022</text>
<rect x="752.3" y="949.4" width="326.7" height="153.4" fill="#E5ECF6"/>
<path d="M752.3 993.8H1079" stroke="#d4d4d4" stroke-width="1.7"/>
<path d="M752.3 1049.2H1079" stroke="#626468" stroke-width="2"/>
<path d="M752.6 1051.5 752.8 1048.6 753 1057.6 753.3 1054.4 753.5 1051.2 753.7 1044.7 753.9 1049.4 754.2 1061.5 754.4 1067.2 754.6 1054.5 754.8 1052.8 755 1051.5 755.3 1047 755.5 1047.6 755.7 1049.9 755.9 1048.4 756.2 1051.9 756.4 1053.3 756.6 1063.5 756.8 1048.7 757 1045.1 757.3 1045.2 757.5 1052.9 757.7 1031.2 757.9 1062.5 758.1 1048.8 758.4 1043.8 758.6 1059.5 758.8 1053.4 759 1067.2 759.3 1043.9 759.5 1045.8 759.7 1054.9 759.9 1048.3 760.1 1043 760.4 1044.1 760.6 1045.2 760.8 1040.4 761 1055.4 761.3 1049.9 761.5 1049.4 761.7 1036.5 761.9 1082.5 762.1 1045.1 762.4 1047.3 762.6 1025.5 762.8 1036.1 763 1050.3 763.3 1046.8 763.5 1047.9 763.7 1045.4 763.9 1050.9 764.1 1063.6 764.4 1049.1 764.6 1052.9 764.8 1044.7 765 1040.8 765.3 1042.1 765.5 1047 765.7 1044.8 765.9 1044.4 766.1 1049.4 766.4 1038.9 766.6 1049.1 766.8 1025.5 767 1044.8 767.3 1045.9 767.5 1040.5 767.7 1057.6 767.9 1043.7 768.1 1052.1 768.4 1053.6 768.6 1045.3 768.8 1047.4 769 1057.4 769.2 1051.6 769.5 1052.7 769.7 1049.6 769.9 1062.7 770.1 1051.2 770.4 1041.6 770.6 1048.8 770.8 1058.1 771 1031.2 771.2 1049.2 771.5 1049.3 771.7 1037.2 771.9 1040 772.1 1056.6 772.4 1058.2 772.6 1053.3 772.8 1047.3 773 1048.2 773.2 1057.6 773.5 1039 773.7 1051.5 773.9 1067.2 774.1 1043.2 774.4 1047.4 774.6 1024.7 774.8 1058.6 775 1048.5 775.2 1041.4 775.5 1055.2 775.7 1037.3 775.9 1065.2 776.1 1049.9 776.4 1049 776.6 1044.8 776.8 1063.1 777 1067.2 777.2 1047.8 777.5 1053.9 777.7 1049.1 777.9 1049.8 778.1 1053.3 778.4 1045.4 778.6 1053.9 778.8 1042.2 779 1047.3 779.2 1031.2 779.5 1065.8 779.7 1045.2 779.9 1062.3 780.1 1056.2 780.3 1049 780.6 1058.6 780.8 1037.8 781 1028 781.2 1049.7 781.5 1052 781.7 1048.1 781.9 1045.4 782.1 1053.9 782.3 1050.9 782.6 1047.9 782.8 1048.7 783 1054.1 783.2 1053.8 783.5 1056.1 783.7 1045.1 783.9 1027 784.1 1049.7 784.3 1031.2 784.6 1047.5 784.8 1062.7 785 1050.2 785.2 1036.9 785.5 1045.6 785.7 1095.2 785.9 1061.7 786.1 1067.2 786.3 1054.4 786.6 1037.1 786.8 1042.3 787 1052.1 787.2 1058.7 787.5 1043.6 787.7 1054 787.9 1040.8 788.1 1059.1 788.3 1035 788.6 1050.6 788.8 1042.6 789 1047.3 789.2 1052.9 789.4 1045.6 789.7 1048.1 789.9 1062.9 790.1 1051.8 790.3 1041.8 790.6 1049 790.8 1049.6 791 1056 791.2 1048.8 791.4 1045.1 791.7 1048 791.9 1044.3 792.1 1047.4 792.3 1051.4 792.6 1052.4 792.8 1041.7 793 1045.1 793.2 1050.8 793.4 1048.9 793.7 1052.9 793.9 1045.6 794.1 1049.7 794.3 1060.9 794.6 1050.7 794.8 1044.6 795 1050.6 795.2 1046.8 795.4 1047.4 795.7 1055.3 795.9 1054.5 796.1 1036.9 796.3 1047.4 796.6 1042.9 796.8 1048.6 797 1043.1 797.2 1040.8 797.4 1044.6 797.7 1045.8 797.9 1045 798.1 1053.8 798.3 1056.2 798.6 1055.9 798.8 1054.9 799 1045.9 799.2 1042 799.4 1056 799.7 1050.8 799.9 1031.2 800.1 1054.3 800.3 1052.9 800.5 1052.2 800.8 1043.7 801 1051.9 801.2 1046.6 801.4 1051.5 801.7 1055.3 801.9 1045.7 802.1 1048.3 802.3 1039.8 802.5 1043.2 802.8 1038.1 803 1041.6 803.2 1054.1 803.4 1062.7 803.7 1064.8 803.9 1060 804.1 1041.3 804.3 1052.2 804.5 1048.4 804.8 1037.6 805 1061.1 805.2 1031.2 805.4 1052.7 805.7 1051.5 805.9 1058 806.1 1051.7 806.3 1057.7 806.5 1047.9 806.8 1064.5 807 1038.1 807.2 1060 807.4 1056.5 807.7 1079.3 807.9 1024.7 808.1 1056.3 808.3 1067.2 808.5 1055 808.8 1034.1 809 1048.9 809.2 1045.9 809.4 1039.9 809.7 1059.3 809.9 1058 810.1 1041.9 810.3 1054.6 810.5 1052.5 810.8 1031.2 811 1048.2 811.2 1049.7 811.4 1045.8 811.6 1042.9 811.9 1051.2 812.1 1036.9 812.3 1040.8 812.5 1036.8 812.8 1045.8 813 1052.4 813.2 1062.8 813.4 1049.1 813.6 1036.3 813.9 1052.2 814.1 1049.5 814.3 1039.3 814.5 1050 814.8 1057.2 815 1048.7 815.2 1052.3 815.4 1041.2 815.6 1037.9 815.9 1046.9 816.1 1048.8 816.3 1048.5 816.5 1053.6 816.8 1060.2 817 1048.7 817.2 1056.8 817.4 1044.3 817.6 1046.4 817.9 1046.3 818.1 1032.5 818.3 1055.6 818.5 1040.4 818.8 1048.1 819 1045.2 819.2 1034 819.4 1050.7 819.6 1050.3 819.9 1055.3 820.1 1054.7 820.3 1045.7 820.5 1050.8 820.8 1048.3 821 1040.5 821.2 1040.3 821.4 1031.2 821.6 1050.5 821.9 1046.1 822.1 1040.9 822.3 1058 822.5 1053 822.7 1053.8 823 1051 823.2 1040.2 823.4 1067.2 823.6 1045.7 823.9 1056.1 824.1 1059 824.3 1062.3 824.5 1057.3 824.7 1050.9 825 1052.7 825.2 1045.9 825.4 1041 825.6 1049.3 825.9 1044.9 826.1 1051.8 826.3 1060.1 826.5 1051 826.7 1046.8 827 1046.6 827.2 1042.9 827.4 1041.4 827.6 1057 827.9 1046.8 828.1 1044.7 828.3 1054.2 828.5 1067.2 828.7 1055 829 1049.8 829.2 1043.5 829.4 1047.2 829.6 1048.1 829.9 1044.5 830.1 1046.9 830.3 1055 830.5 1047.1 830.7 1047 831 1047.9 831.2 1049.8 831.4 1058.8 831.6 1044.7 831.8 1052.2 832.1 1046.1 832.3 1046.3 832.5 1055.9 832.7 1055.7 833 1054.1 833.2 1044.8 833.4 1054.9 833.6 1051.5 833.8 1053.3 834.1 1045.3 834.3 1040 834.5 1052.5 834.7 1049.8 835 1066.9 835.2 1036.4 835.4 1052.6 835.6 1058.3 835.8 1046.5 836.1 1051.6 836.3 1050.3 836.5 1056.7 836.7 1045.5 837 1049.5 837.2 1047.3 837.4 1049.8 837.6 1054 837.8 1050.1 838.1 1055 838.3 1053.7 838.5 1055 838.7 1048 839 1045.9 839.2 1053.5 839.4 1055.3 839.6 1045.7 839.8 1049 840.1 1048.5 840.3 1049.6 840.5 1043.2 840.7 1038.4 841 1048.1 841.2 1045.7 841.4 1047.7 841.6 1054.1 841.8 1041.2 842.1 1052.6 842.3 1045.4 842.5 1054.5 842.7 1039.1 842.9 1047.7 843.2 1041.2 843.4 1051.9 843.6 1047.1 843.8 1046.1 844.1 1056 844.3 1046.6 844.5 1039 844.7 1043.9 844.9 1040.4 845.2 1054.4 845.4 1053.3 845.6 1043.9 845.8 1041.7 846.1 1047.2 846.3 1047.1 846.5 1048.5 846.7 1044.2 846.9 1043.8 847.2 1052.1 847.4 1052.8 847.6 1050.5 847.8 1038.9 848.1 1047.5 848.3 1056.3 848.5 1040.6 848.7 1053.1 848.9 1047.6 849.2 1049.4 849.4 1046 849.6 1058.7 849.8 1051.2 850.1 1054.5 850.3 1050.4 850.5 1058.3 850.7 1052.2 850.9 1051.1 851.2 1031.2 851.4 1010.5 851.6 1040.6 851.8 1050.9 852.1 1046.4 852.3 1047.5 852.5 1055.7 852.7 1053.6 852.9 1047.2 853.2 1048.7 853.4 1049.2 853.6 1047.1 853.8 1049.2 854 1048.3 854.3 1047.5 854.5 1044.5 854.7 1062.3 854.9 1046.2 855.2 1042.1 855.4 1052 855.6 1047 855.8 1052.3 856 1031.2 856.3 1050.3 856.5 1047.2 856.7 1043.8 856.9 1052.3 857.2 1053.2 857.4 1052 857.6 1036.6 857.8 1046.4 858 1047 858.3 1050.1 858.5 1046.2 858.7 1044.2 858.9 1049.1 859.2 1048.5 859.4 1051.4 859.6 1055.2 859.8 1050.4 860 1053.7 860.3 1056.6 860.5 1051.3 860.7 1055.1 860.9 1055.7 861.2 1039.6 861.4 1050.5 861.6 1051 861.8 1048.5 862 1054.9 862.3 1039.7 862.5 1054.5 862.7 1052.4 862.9 1051.8 863.1 1050.5 863.4 1067.2 863.6 1057.2 863.8 1051.4 864 1063.7 864.3 1058.6 864.5 1056.4 864.7 1034.4 864.9 1067.2 865.1 1035.3 865.4 1036.7 865.6 1042.4 865.8 1050 866 1043.9 866.3 1050.5 866.5 1049.8 866.7 1067.2 866.9 1059.9 867.1 1067.2 867.4 1044.8 867.6 1061 867.8 1047.3 868 1051.3 868.3 1044.9 868.5 1055 868.7 1045.5 868.9 1039.4 869.1 1055.5 869.4 1051.5 869.6 1059.1 869.8 1044.5 870 1045 870.3 1048.7 870.5 1047.4 870.7 1050.3 870.9 1032.2 871.1 1057.4 871.4 1038.7 871.6 1035.4 871.8 1046.2 872 1031.2 872.3 1031.2 872.5 1044.4 872.7 1051.5 872.9 1045.1 873.1 1045.3 873.4 1050.5 873.6 1051.9 873.8 1044.1 874 1060.3 874.2 1041.6 874.5 1047.4 874.7 1044.7 874.9 1058 875.1 1048.9 875.4 1034.4 875.6 1044.3 875.8 1054.7 876 1037.5 876.2 1044.9 876.5 1052.4 876.7 1055.1 876.9 1048.9 877.1 1050.9 877.4 1067.2 877.6 1043.2 877.8 1031.2 878 1044.8 878.2 1031.2 878.5 1031.2 878.7 1053.4 878.9 1048.8 879.1 1057.9 879.4 1051.5 879.6 1044.9 879.8 1049.6 880 1051.5 880.2 1047.2 880.5 1038.1 880.7 1031.2 880.9 1031.2 881.1 1064.3 881.4 1043 881.6 1048.9 881.8 1062.6 882 1054.6 882.2 1046.8 882.5 1056.4 882.7 1056.3 882.9 1059.4 883.1 1081 883.4 1048.8 883.6 1031.4 883.8 1060.1 884 1031.2 884.2 1064.6 884.5 1048.3 884.7 1057.5 884.9 1056.3 885.1 1042.9 885.3 1058.7 885.6 1067.2 885.8 1031.2 886 1047.7 886.2 1031.3 886.5 1045.2 886.7 1046.7 886.9 1047.8 887.1 1048.8 887.3 1047.4 887.6 1050.2 887.8 1049.6 888 1031.2 888.2 1041.6 888.5 1046.1 888.7 1046.7 888.9 956.6 889.1 1042.7 889.3 1040.4 889.6 1058.2 889.8 1049.6 890 1050 890.2 1052.8 890.5 1055.7 890.7 1053.2 890.9 1043.5 891.1 1044.7 891.3 1058.4 891.6 1051 891.8 1043.7 892 1060.2 892.2 1051.5 892.5 1036 892.7 1047.3 892.9 1052.4 893.1 1048 893.3 1031.5 893.6 1053.1 893.8 1041 894 1057.1 894.2 1053.7 894.5 1052.2 894.7 1045.1 894.9 1044.6 895.1 1049.6 895.3 1067.2 895.6 1050.2 895.8 1042 896 1057.9 896.2 1048.2 896.4 1044.4 896.7 1042.8 896.9 1051 897.1 1047.5 897.3 1045.2 897.6 1052.9 897.8 1049.3 898 1045.3 898.2 1041.1 898.4 1054.4 898.7 1049 898.9 1050.2 899.1 1045 899.3 1042.8 899.6 1044.8 899.8 1044.6 900 1055.2 900.2 1045.2 900.4 1042.3 900.7 1049.4 900.9 1047.5 901.1 1045.2 901.3 1058.1 901.6 1055.4 901.8 1041.8 902 1038.6 902.2 1052.7 902.4 1053.2 902.7 1042.9 902.9 1046.2 903.1 1056.7 903.3 1049.7 903.6 1037.7 903.8 1074.6 904 1074.6 904.2 1051.5 904.4 1054.7 904.7 1053 904.9 1058.4 905.1 1057.2 905.3 1053.7 905.5 1052.1 905.8 1065.4 906 1050.1 906.2 1041.5 906.4 1051.4 906.7 1043.6 906.9 1039.9 907.1 1051.2 907.3 1053.4 907.5 1066.1 907.8 1052.1 908 1045.9 908.2 1045.6 908.4 1051.4 908.7 1031.2 908.9 1055.5 909.1 1044.5 909.3 1051 909.5 1035.8 909.8 1047.8 910 1050.6 910.2 1048.9 910.4 1052.4 910.7 1052 910.9 1039.8 911.1 1043.6 911.3 1049.7 911.5 1046.5 911.8 1046.4 912 1054.1 912.2 1046.8 912.4 1055.8 912.7 1048.6 912.9 1052.5 913.1 1048.8 913.3 1047.9 913.5 1047.7 913.8 1056.7 914 1067.2 914.2 1062.1 914.4 1047.1 914.7 1045.9 914.9 1048.7 915.1 1046.1 915.3 1051.5 915.5 1043.4 915.8 1045.6 916 1048 916.2 1046.1 916.4 1050.2 916.6 1057.7 916.9 1034 917.1 1032.2 917.3 1064.2 917.5 1065.9 917.8 1050 918 1057.6 918.2 1047.8 918.4 1049.1 918.6 1060 918.9 1051.8 919.1 1035 919.3 1044.9 919.5 1048.4 919.8 1057.5 920 1030 920.2 1051.7 920.4 1048.5 920.6 1049.9 920.9 1037.9 921.1 1044.9 921.3 1047.9 921.5 1036.4 921.8 1034.9 922 1056.5 922.2 1039.4 922.4 1059.2 922.6 1058.8 922.9 1041.5 923.1 1048.8 923.3 1050 923.5 1052.5 923.8 1056.6 924 1050 924.2 1046.9 924.4 1053.4 924.6 1054.7 924.9 1058.7 925.1 1049.3 925.3 1039.6 925.5 1031.8 925.8 1043.1 926 1053.8 926.2 1055.8 926.4 1033.1 926.6 1046.9 926.9 1057.6 927.1 1049.2 927.3 1051.9 927.5 1047.5 927.7 1035.2 928 1035.3 928.2 1053.6 928.4 1061 928.6 1057.9 928.9 1047.1 929.1 1065.2 929.3 1055.4 929.5 1034.9 929.7 1044.4 930 1035 930.2 1035.9 930.4 1038.6 930.6 1051.5 930.9 1043.2 931.1 1043.7 931.3 1036.9 931.5 1036 931.7 1041.1 932 1057.6 932.2 1061.5 932.4 1044.2 932.6 1052.1 932.9 1046.2 933.1 1047.2 933.3 1051.5 933.5 1053 933.7 1039.4 934 1050.9 934.2 1055.7 934.4 1046.8 934.6 1049.3 934.9 1035.5 935.1 1067.2 935.3 1050.7 935.5 1057.6 935.7 1031.2 936 1053.6 936.2 1047.4 936.4 1049.8 936.6 1053.3 936.8 1049.2 937.1 1060.8 937.3 1053.4 937.5 1067.2 937.7 1054.3 938 1049 938.2 1066.9 938.4 1056.2 938.6 1050.3 938.8 1062 939.1 1047.1 939.3 1043.5 939.5 1039.2 939.7 1048.3 940 1049.3 940.2 1053.5 940.4 1061.1 940.6 1052.4 940.8 1045.8 941.1 1067.2 941.3 1049.2 941.5 1047.6 941.7 1055.1 942 1055.1 942.2 1043.3 942.4 1043.5 942.6 1060.5 942.8 1057.4 943.1 1041.6 943.3 1037.9 943.5 1037.3 943.7 1043 944 1044 944.2 1039.1 944.4 1044.8 944.6 1048.2 944.8 1055.3 945.1 1067.2 945.3 1041.4 945.5 1049.6 945.7 1039.7 946 1050.5 946.2 1064.8 946.4 1053.5 946.6 1031.2 946.8 1038.3 947.1 1053.5 947.3 1060.8 947.5 1044.6 947.7 1041.4 947.9 1048.7 948.2 1053.1 948.4 1046.2 948.6 1050.3 948.8 1065.4 949.1 1051.9 949.3 1038.4 949.5 1049.8 949.7 1032.4 949.9 1040.4 950.2 1063.7 950.4 1046.3 950.6 1053.5 950.8 1058.8 951.1 1052 951.3 1053.5 951.5 1045.2 951.7 1045.6 951.9 1038.3 952.2 1059.8 952.4 1044 952.6 1043.5 952.8 1046.9 953.1 1024 953.3 1067.2 953.5 1076.2 953.7 1046.1 953.9 1054.2 954.2 1052 954.4 1042.5 954.6 1044.7 954.8 1049.9 955.1 1051.5 955.3 1056.8 955.5 1048.9 955.7 1062.6 955.9 1044.9 956.2 1049.8 956.4 1045.3 956.6 1049.7 956.8 1046.8 957.1 1039.3 957.3 1047.2 957.5 1051 957.7 1047.3 957.9 1045 958.2 1042.7 958.4 1039.7 958.6 1047.1 958.8 1048.9 959 1044.4 959.3 1045.7 959.5 1051.3 959.7 1050.6 959.9 1032 960.2 1038.1 960.4 1049 960.6 1044.2 960.8 1051.3 961 1046.7 961.3 1049.6 961.5 1052.3 961.7 1053.6 961.9 1045.2 962.2 1054.9 962.4 1050.9 962.6 1046 962.8 1051.7 963 1047.6 963.3 1041.5 963.5 1051 963.7 1052.5 963.9 1054.3 964.2 1058.4 964.4 1047.1 964.6 1051.9 964.8 1059.1 965 1052.9 965.3 1045.1 965.5 1046.5 965.7 1049.8 965.9 1053.6 966.2 1056.5 966.4 1045.7 966.6 1048.9 966.8 1044.4 967 1044.3 967.3 1045.7 967.5 1050.9 967.7 1045.9 967.9 1050 968.2 1039.8 968.4 1050.9 968.6 1055 968.8 1045.5 969 1050.7 969.3 1051.9 969.5 1059.3 969.7 1042.2 969.9 1054.6 970.1 1046 970.4 1054.3 970.6 1052.1 970.8 1063 971 1055.1 971.3 1038.5 971.5 1051.9 971.7 1050.6 971.9 1074.6 972.1 1048.2 972.4 1047.8 972.6 1051.9 972.8 1041.5 973 1049.8 973.3 1037.7 973.5 1038.1 973.7 1058.7 973.9 1031.2 974.1 1057.9 974.4 1038.8 974.6 1043.7 974.8 1037.3 975 1052.5 975.3 1046.6 975.5 1050.8 975.7 1051.9 975.9 1045.5 976.1 1047.6 976.4 1042.3 976.6 1044.9 976.8 1044 977 1052.9 977.3 1035.9 977.5 1035.9 977.7 1050.8 977.9 1056.2 978.1 1058.3 978.4 1050.1 978.6 1063.7 978.8 1031.2 979 1031.2 979.2 1056.7 979.5 1051 979.7 1035.3 979.9 1050.1 980.1 1062 980.4 1054.5 980.6 1039 980.8 1048.2 981 1046.2 981.2 1052.6 981.5 1055.2 981.7 1047.8 981.9 1057.7 982.1 1031.2 982.4 1051.5 982.6 1055.2 982.8 1047.4 983 1043.3 983.2 1042.5 983.5 1042.3 983.7 1067.2 983.9 1051.9 984.1 1031.2 984.4 1052.1 984.6 1046.9 984.8 1071.4 985 978 985.2 1052.8 985.5 1047.9 985.7 1045.7 985.9 1047.2 986.1 1049.3 986.4 1051.6 986.6 1052.6 986.8 1049.5 987 1057.9 987.2 1049.8 987.5 1044.1 987.7 1043 987.9 1051.8 988.1 1045.2 988.4 1045.8 988.6 1041.4 988.8 1047.7 989 1054.6 989.2 1067.2 989.5 1042.2 989.7 1062.4 989.9 1046.9 990.1 1043.1 990.3 1039.9 990.6 1062.5 990.8 1057.4 991 1042.1 991.2 1067.2 991.5 1056.3 991.7 1031.8 991.9 1040.2 992.1 1012 992.3 1044.2 992.6 1048.3 992.8 1044.1 993 1052.4 993.2 1055.2 993.5 1045.9 993.7 1049.5 993.9 1051.6 994.1 1045 994.3 1036.2 994.6 1048.9 994.8 1053 995 1055.6 995.2 1052.5 995.5 1043.1 995.7 1052.1 995.9 1039 996.1 1036.8 996.3 1063.1 996.6 1055.7 996.8 1034.8 997 1052.9 997.2 1048.3 997.5 1049.5 997.7 1067.2 997.9 1048 998.1 1050.5 998.3 1040.6 998.6 1060.9 998.8 1048.2 999 1045.7 999.2 1035.9 999.5 1041.5 999.7 1036.4 999.9 1035 1000.1 1063.3 1000.3 1053.7 1000.6 1044.4 1000.8 1048.4 1001 1049 1001.2 1044.3 1001.4 1060.4 1001.7 1051.9 1001.9 1050.1 1002.1 1047.8 1002.3 1050 1002.6 1051.8 1002.8 1047 1003 1031.2 1003.2 1044.6 1003.4 1037.1 1003.7 1048.8 1003.9 1042.9 1004.1 1055.2 1004.3 1054.9 1004.6 1059.7 1004.8 1060 1005 1046.3 1005.2 1036.7 1005.4 1063.1 1005.7 1048.1 1005.9 1040.2 1006.1 1051.4 1006.3 1065.3 1006.6 1059.7 1006.8 1043.2 1007 1039.3 1007.2 1039 1007.4 1056.4 1007.7 1047.4 1007.9 1048.4 1008.1 1031.2 1008.3 1051.7 1008.6 1067.2 1008.8 1046.3 1009 1048.5 1009.2 1014.4 1009.4 1031.2 1009.7 1046.8 1009.9 1043.8 1010.1 1064.6 1010.3 1051 1010.5 1067.2 1010.8 1041.6 1011 1050.9 1011.2 1036.3 1011.4 1048.7 1011.7 1035.1 1011.9 1049.1 1012.1 1039.8 1012.3 1034.5 1012.5 1043 1012.8 1054.5 1013 1046.8 1013.2 1033.3 1013.4 1045.4 1013.7 1065.1 1013.9 1049.9 1014.1 1060.7 1014.3 1067.2 1014.5 1051.6 1014.8 1060.6 1015 1052.6 1015.2 1051.3 1015.4 1045.5 1015.7 1053.7 1015.9 1067.2 1016.1 1050.3 1016.3 1046.7 1016.5 1058.8 1016.8 1066.8 1017 1064.8 1017.2 1048.8 1017.4 1057.2 1017.7 1031.2 1017.9 1031.2 1018.1 1046.3 1018.3 1049.5 1018.5 1049.3 1018.8 1043.3 1019 1049.3 1019.2 1045.4 1019.4 1052.3 1019.7 1044.4 1019.9 1040.4 1020.1 1032 1020.3 1050.5 1020.5 1049.2 1020.8 1039.2 1021 1058.8 1021.2 1036.5 1021.4 1046.9 1021.6 1048 1021.9 1039.1 1022.1 1049.6 1022.3 1041.9 1022.5 1059.9 1022.8 1044 1023 1049.3 1023.2 1055.8 1023.4 1031.4 1023.6 1063.3 1023.9 1067.2 1024.1 1031.2 1024.3 1051.6 1024.5 1049.7 1024.8 1055.9 1025 1040 1025.2 1055.1 1025.4 1043.1 1025.6 1042.4 1025.9 1060.9 1026.1 1054.9 1026.3 1062.4 1026.5 1053.5 1026.8 1040.8 1027 1058.2 1027.2 1045 1027.4 1037.4 1027.6 1056.2 1027.9 1055.9 1028.1 1044.4 1028.3 1049.4 1028.5 1053.5 1028.8 1054.3 1029 1056.1 1029.2 1031.2 1029.4 1054.9 1029.6 1046.2 1029.9 1041.1 1030.1 1041.8 1030.3 1058.6 1030.5 1043.9 1030.8 1045.3 1031 1043.7 1031.2 1050.6 1031.4 1042.9 1031.6 1053.3 1031.9 1042.1 1032.1 1060.3 1032.3 1066.2 1032.5 1039.2 1032.7 1052.6 1033 1042.1 1033.2 1045.4 1033.4 1066.6 1033.6 1053.9 1033.9 1053.5 1034.1 1053.8 1034.3 1031.2 1034.5 1055.8 1034.7 1034.2 1035 1046.9 1035.2 1045.7 1035.4 1053.3 1035.6 1056.3 1035.9 1038.4 1036.1 1053.1 1036.3 1036.3 1036.5 1031.2 1036.7 1053 1037 1048.2 1037.2 1036.9 1037.4 1046.2 1037.6 1052.8 1037.9 1067.2 1038.1 1047.4 1038.3 1047.7 1038.5 1058.8 1038.7 1067.2 1039 1053.2 1039.2 1041.3 1039.4 1024 1039.6 1063.1 1039.9 1047.6 1040.1 1059.2 1040.3 1056.2 1040.5 1053.1 1040.7 1053.8 1041 1031.2 1041.2 1060.7 1041.4 1048.4 1041.6 1055.1 1041.9 1049.1 1042.1 1051.6 1042.3 1042.9 1042.5 1050.3 1042.7 1047.7 1043 1049.2 1043.2 1039.5 1043.4 1057.5 1043.6 1055.8 1043.8 1044.3 1044.1 1054.8 1044.3 1041.6 1044.5 1046.2 1044.7 1067.2 1045 1061.2 1045.2 1067.2 1045.4 1053.2 1045.6 1038.6 1045.8 1066.8 1046.1 1050.9 1046.3 1040.9 1046.5 1046.4 1046.7 1046.7 1047 1047.6 1047.2 1069.8 1047.4 1044.2 1047.6 1048.5 1047.8 1045.5 1048.1 1050.3 1048.3 1050.3 1048.5 1058.9 1048.7 1053.7 1049 1031.3 1049.2 1057.3 1049.4 1067.2 1049.6 1043.6 1049.8 1067.2 1050.1 1048.1 1050.3 1047 1050.5 1053.9 1050.7 1046.7 1051 1044 1051.2 1046.4 1051.4 1059 1051.6 1056.1 1051.8 1035.5 1052.1 1031.8 1052.3 1055.2 1052.5 1044.9 1052.7 1054.3 1052.9 1044.7 1053.2 1043.7 1053.4 1059.1 1053.6 1047.4 1053.8 1047.5 1054.1 1053.7 1054.3 1055.5 1054.5 1042.3 1054.7 1054.9 1054.9 1047.6 1055.2 1049.3 1055.4 1054.3 1055.6 1039.5 1055.8 1056.2 1056.1 1048 1056.3 1056.4 1056.5 1050.1 1056.7 1055.8 1056.9 1045.6 1057.2 1045.8 1057.4 1046.9 1057.6 1045.9 1057.8 1052.3 1058.1 1033 1058.3 1054.4 1058.5 1049.6 1058.7 1052.2 1058.9 1053.5 1059.2 1042.4 1059.4 1051.7 1059.6 1044.4 1059.8 1046.5 1060.1 1045.3 1060.3 1046.7 1060.5 1051.2 1060.7 1050.5 1060.9 1046.8 1061.2 1048.4 1061.4 1058.7 1061.6 1047.5 1061.8 1053.2 1062.1 1046.9 1062.3 1046 1062.5 1060.5 1062.7 1050.1 1062.9 1048.1 1063.2 1067.2 1063.4 1048.4 1063.6 1058.7 1063.8 1009.7 1064 1060.9 1064.3 1042.5 1064.5 1044.6 1064.7 1044.7 1064.9 1043.7 1065.2 1031.2 1065.4 1050.9 1065.6 1049.1 1065.8 1055.5 1066 1045 1066.3 1044.4 1066.5 1049.7 1066.7 1049.9 1066.9 1043.4 1067.2 1052 1067.4 1038.4 1067.6 1044.6 1067.8 1045.7 1068 1047.3 1068.3 1042.7 1068.5 1042.9 1068.7 1047.5 1068.9 1054.6 1069.2 1045.1 1069.4 1052.1 1069.6 1047.1 1069.8 1046.4 1070 1053.3 1070.3 1049.5 1070.5 1040.3 1070.7 1056.3 1070.9 1047.3 1071.2 1036.8 1071.4 1063.5 1071.6 1059.2 1071.8 1050.7 1072 1048.2 1072.3 1049.8 1072.5 1042 1072.7 1044.2 1072.9 1067 1073.2 1048.4 1073.4 1056.5 1073.6 1066.7 1073.8 1045 1074 1055.6 1074.3 1067.2 1074.5 1049.1 1074.7 1058.3 1074.9 1058.2 1075.1 1049.5 1075.4 1067.2 1075.6 1052.6 1075.8 1045.1 1076 1061.8 1076.3 1055.8 1076.5 1056.9 1076.7 1044.4 1076.9 1048.6 1077.1 1031.2 1077.4 1058.5 1077.6 1050.9 1077.8 1046.2 1078 1047.7 1078.3 1031.2 1078.5 1052.1 1078.7 1041.4" fill="none" stroke="#8c564b" stroke-width="1.35" stroke-linejoin="round" clip-path="url(#c14)"/>
<text transform="translate(750.3 1056.6) scale(0.760 1)" font-family="Liberation Sans" font-size="20.5" text-anchor="end" fill="#505050" stroke="#505050" stroke-width="0.28">0</text>
<text transform="translate(750.3 1001.2) scale(0.760 1)" font-family="Liberation Sans" font-size="20.5" text-anchor="end" fill="#505050" stroke="#505050" stroke-width="0.28">50</text>
<text transform="translate(792.6 1124.4) scale(0.760 1)" font-family="Liberation Sans" font-size="20.5" text-anchor="middle" fill="#505050" stroke="#505050" stroke-width="0.28">2019</text>
<text transform="translate(873.5 1124.4) scale(0.760 1)" font-family="Liberation Sans" font-size="20.5" text-anchor="middle" fill="#505050" stroke="#505050" stroke-width="0.28">2020</text>
<text transform="translate(954.7 1124.4) scale(0.760 1)" font-family="Liberation Sans" font-size="20.5" text-anchor="middle" fill="#505050" stroke="#505050" stroke-width="0.28">2021</text>
<text transform="translate(1035.6 1124.4) scale(0.760 1)" font-family="Liberation Sans" font-size="20.5" text-anchor="middle" fill="#505050" stroke="#505050" stroke-width="0.28">2022</text>
<rect x="36.7" y="1124.2" width="326.3" height="164.2" fill="#E5ECF6"/>
<path d="M36.7 1177.1H363" stroke="#d4d4d4" stroke-width="1.7"/>
<path d="M36.7 1244.2H363" stroke="#626468" stroke-width="2"/>
<path d="M37 1239.9 37.2 1183.3 37.4 1238 37.7 1272.5 37.9 1235.7 38.1 1244.8 38.3 1240.6 38.6 1243.6 38.8 1226.2 39 1249.1 39.2 1242.4 39.4 1244.4 39.7 1250.2 39.9 1262.2 40.1 1233.5 40.3 1245.2 40.5 1242.6 40.8 1239.3 41 1244.2 41.2 1243.2 41.4 1245.5 41.7 1244.1 41.9 1230.1 42.1 1255.8 42.3 1247.1 42.5 1254.2 42.8 1240.4 43 1248.1 43.2 1251.7 43.4 1242.7 43.7 1231.1 43.9 1247.4 44.1 1243.3 44.3 1244.8 44.5 1241.7 44.8 1233.9 45 1241.5 45.2 1242.9 45.4 1243 45.6 1251.4 45.9 1245.9 46.1 1246.3 46.3 1236 46.5 1247.6 46.8 1259.9 47 1248.7 47.2 1255.3 47.4 1255.4 47.6 1258.3 47.9 1236.6 48.1 1258.9 48.3 1262.2 48.5 1241.4 48.8 1250.6 49 1248.4 49.2 1244.9 49.4 1243 49.6 1234.5 49.9 1251.2 50.1 1242.2 50.3 1244.1 50.5 1243.5 50.7 1245.3 51 1242.5 51.2 1244.4 51.4 1239.5 51.6 1234.7 51.9 1252.4 52.1 1262 52.3 1243.2 52.5 1244.5 52.7 1255.5 53 1244.8 53.2 1251.1 53.4 1242.5 53.6 1250.5 53.9 1250 54.1 1253.5 54.3 1245.3 54.5 1234.8 54.7 1246.7 55 1246.5 55.2 1252.1 55.4 1236.8 55.6 1242.6 55.8 1242.6 56.1 1252.6 56.3 1248.8 56.5 1243.7 56.7 1245.7 57 1243.1 57.2 1242.1 57.4 1242.3 57.6 1234.5 57.8 1243.6 58.1 1249.3 58.3 1239.9 58.5 1237.8 58.7 1241.6 58.9 1242.3 59.2 1242.9 59.4 1245.5 59.6 1248 59.8 1252.4 60.1 1256 60.3 1248 60.5 1249.8 60.7 1246.4 60.9 1253.2 61.2 1240 61.4 1242.6 61.6 1239 61.8 1234.3 62.1 1243.7 62.3 1250.9 62.5 1241.9 62.7 1245.7 62.9 1240.3 63.2 1246 63.4 1238 63.6 1230.9 63.8 1246.6 64 1246 64.3 1244.8 64.5 1242.3 64.7 1240.3 64.9 1232.9 65.2 1244 65.4 1246.3 65.6 1249.8 65.8 1243.7 66 1247 66.3 1245.6 66.5 1247.6 66.7 1245.3 66.9 1235.4 67.2 1241.5 67.4 1240 67.6 1204.2 67.8 1241.3 68 1243.6 68.3 1238.4 68.5 1247.8 68.7 1246.9 68.9 1253.6 69.1 1242.4 69.4 1238.5 69.6 1240.7 69.8 1243.7 70 1248.4 70.3 1243.1 70.5 1253.8 70.7 1245.7 70.9 1233.3 71.1 1243.5 71.4 1239.8 71.6 1238.1 71.8 1248.1 72 1239.7 72.3 1248.7 72.5 1233.8 72.7 1245.9 72.9 1240.1 73.1 1252.6 73.4 1248.1 73.6 1247 73.8 1237.6 74 1233.3 74.2 1226.2 74.5 1244.2 74.7 1243.9 74.9 1240 75.1 1236.2 75.4 1245.9 75.6 1243.6 75.8 1226.2 76 1257.9 76.2 1247.1 76.5 1248.4 76.7 1257 76.9 1249.5 77.1 1247.4 77.4 1247.2 77.6 1247.4 77.8 1251.8 78 1243.6 78.2 1248 78.5 1242.9 78.7 1232 78.9 1245 79.1 1254.4 79.3 1241.2 79.6 1237.2 79.8 1226.8 80 1244.5 80.2 1251.3 80.5 1249.6 80.7 1239.9 80.9 1239.8 81.1 1246.4 81.3 1245.7 81.6 1243.4 81.8 1235.3 82 1237.9 82.2 1249.5 82.5 1242.6 82.7 1232.9 82.9 1247.4 83.1 1247 83.3 1243.5 83.6 1248.9 83.8 1242 84 1245.5 84.2 1242.3 84.4 1235.9 84.7 1247.2 84.9 1231.2 85.1 1248.9 85.3 1229.7 85.6 1242.3 85.8 1239.4 86 1246.5 86.2 1237.5 86.4 1239.1 86.7 1238.1 86.9 1237.1 87.1 1250.4 87.3 1244.8 87.6 1247.2 87.8 1245 88 1245.9 88.2 1241.9 88.4 1244.2 88.7 1246 88.9 1253.7 89.1 1248.2 89.3 1249.1 89.5 1232 89.8 1239.4 90 1229.1 90.2 1240.5 90.4 1242.5 90.7 1249.5 90.9 1245 91.1 1250.3 91.3 1239 91.5 1239.2 91.8 1246.3 92 1240.6 92.2 1237.6 92.4 1243.5 92.7 1245.7 92.9 1236.3 93.1 1226.2 93.3 1233.1 93.5 1228.6 93.8 1250.2 94 1237.9 94.2 1251.9 94.4 1249.5 94.6 1275.8 94.9 1250.1 95.1 1247.6 95.3 1232.2 95.5 1233.1 95.8 1241.7 96 1241.4 96.2 1239.4 96.4 1241.5 96.6 1234.8 96.9 1243.9 97.1 1244.7 97.3 1240.9 97.5 1249.1 97.8 1252.1 98 1245.8 98.2 1240.7 98.4 1233 98.6 1262.2 98.9 1248 99.1 1241 99.3 1249.8 99.5 1232.2 99.7 1259.5 100 1241.8 100.2 1241.6 100.4 1246.2 100.6 1258.8 100.9 1228.9 101.1 1240.9 101.3 1247.8 101.5 1240.1 101.7 1241.1 102 1220 102.2 1248.2 102.4 1235.1 102.6 1226.2 102.8 1238.8 103.1 1237.6 103.3 1226.2 103.5 1233.3 103.7 1248.1 104 1250.4 104.2 1242.6 104.4 1242 104.6 1244.9 104.8 1236 105.1 1268 105.3 1230.1 105.5 1233.7 105.7 1227.5 106 1236.7 106.2 1238.6 106.4 1245.4 106.6 1240.3 106.8 1239.9 107.1 1241.2 107.3 1236 107.5 1255.9 107.7 1234.4 107.9 1237.7 108.2 1248.3 108.4 1258.6 108.6 1239.8 108.8 1253 109.1 1230.1 109.3 1242.5 109.5 1252 109.7 1259 109.9 1238.1 110.2 1237.3 110.4 1245.3 110.6 1248.2 110.8 1234.6 111.1 1249.6 111.3 1250.6 111.5 1243.6 111.7 1237.2 111.9 1241.6 112.2 1250.8 112.4 1235 112.6 1242.1 112.8 1230.5 113 1249.7 113.3 1243.3 113.5 1246.6 113.7 1245.4 113.9 1245.7 114.2 1241 114.4 1239.3 114.6 1244 114.8 1245.6 115 1236.5 115.3 1239.9 115.5 1243.2 115.7 1246.3 115.9 1242.6 116.2 1238 116.4 1252.3 116.6 1245.4 116.8 1242.9 117 1245.6 117.3 1246.2 117.5 1239.1 117.7 1244.8 117.9 1250.9 118.1 1238.9 118.4 1245.4 118.6 1245.1 118.8 1238.1 119 1241.4 119.3 1236.5 119.5 1243.7 119.7 1221.7 119.9 1265 120.1 1239.3 120.4 1248.7 120.6 1238.3 120.8 1242.8 121 1244.9 121.3 1231.7 121.5 1250.1 121.7 1241 121.9 1232.7 122.1 1249.2 122.4 1237.9 122.6 1247.9 122.8 1248.1 123 1241.7 123.2 1239.3 123.5 1232.9 123.7 1240.3 123.9 1238 124.1 1241.1 124.4 1236.8 124.6 1241.6 124.8 1243.5 125 1253.9 125.2 1237.4 125.5 1241.2 125.7 1241.6 125.9 1237.6 126.1 1232.6 126.4 1236.4 126.6 1242 126.8 1262.2 127 1226.2 127.2 1237.8 127.5 1248.8 127.7 1236.8 127.9 1248.6 128.1 1243.2 128.3 1243.3 128.6 1247.4 128.8 1231.4 129 1249.1 129.2 1246.3 129.5 1249.2 129.7 1244.8 129.9 1241.5 130.1 1241 130.3 1260.6 130.6 1233.9 130.8 1245.9 131 1252 131.2 1230.2 131.5 1240.4 131.7 1234.6 131.9 1243.7 132.1 1226.2 132.3 1243.1 132.6 1258.7 132.8 1239.5 133 1244.6 133.2 1256.2 133.4 1237.5 133.7 1252.8 133.9 1244.7 134.1 1244.9 134.3 1262.1 134.6 1262.2 134.8 1256 135 1243.5 135.2 1252.4 135.4 1243.3 135.7 1250.5 135.9 1232.3 136.1 1243 136.3 1220 136.6 1234.7 136.8 1235.2 137 1249.5 137.2 1243.6 137.4 1251.2 137.7 1245.9 137.9 1249.1 138.1 1238.9 138.3 1238.5 138.5 1253.9 138.8 1262.2 139 1244.8 139.2 1246.4 139.4 1241.6 139.7 1235 139.9 1248.4 140.1 1245.1 140.3 1236.7 140.5 1242.1 140.8 1244.1 141 1247.4 141.2 1254.1 141.4 1245.5 141.6 1253.7 141.9 1239.6 142.1 1255.7 142.3 1245.6 142.5 1243.2 142.8 1234.3 143 1237.8 143.2 1243.1 143.4 1247.1 143.6 1238.5 143.9 1249 144.1 1245.1 144.3 1235.4 144.5 1246.7 144.8 1239.3 145 1246.6 145.2 1244.4 145.4 1234.6 145.6 1251.5 145.9 1242.3 146.1 1242.5 146.3 1246.1 146.5 1242 146.7 1245 147 1237.5 147.2 1242.4 147.4 1250.2 147.6 1238.3 147.9 1251.9 148.1 1244.6 148.3 1247.2 148.5 1246.9 148.7 1242.8 149 1241.6 149.2 1243 149.4 1262.2 149.6 1250.6 149.9 1242.9 150.1 1236.2 150.3 1253.1 150.5 1262.2 150.7 1244.1 151 1243.4 151.2 1240.1 151.4 1253.1 151.6 1248.9 151.8 1240.7 152.1 1239.1 152.3 1242.9 152.5 1244.4 152.7 1242.3 153 1239.4 153.2 1242.2 153.4 1247.9 153.6 1241.4 153.8 1245.8 154.1 1250.3 154.3 1246.5 154.5 1248.2 154.7 1242.3 155 1250.6 155.2 1245.7 155.4 1239.7 155.6 1238.8 155.8 1261.3 156.1 1238.6 156.3 1251.2 156.5 1250 156.7 1243.2 156.9 1248.2 157.2 1237.3 157.4 1233.4 157.6 1237.7 157.8 1252.6 158.1 1242.9 158.3 1232.9 158.5 1247.8 158.7 1247.6 158.9 1239.8 159.2 1242.6 159.4 1241.7 159.6 1262.2 159.8 1244.2 160.1 1250.1 160.3 1249.8 160.5 1238 160.7 1238.2 160.9 1237.8 161.2 1253.9 161.4 1237.6 161.6 1243.1 161.8 1237.2 162 1247.6 162.3 1239.6 162.5 1244.4 162.7 1241.9 162.9 1262.2 163.2 1250.7 163.4 1253.5 163.6 1244 163.8 1240.5 164 1240.3 164.3 1245.2 164.5 1248.6 164.7 1239.8 164.9 1231.6 165.2 1237.6 165.4 1262.2 165.6 1245.8 165.8 1251.9 166 1256.6 166.3 1242.1 166.5 1248.9 166.7 1247.9 166.9 1243.5 167.1 1247.9 167.4 1245.6 167.6 1251.1 167.8 1250.2 168 1244.3 168.3 1246.2 168.5 1245.2 168.7 1244.7 168.9 1243.1 169.1 1249.4 169.4 1245.2 169.6 1246 169.8 1239.1 170 1243.1 170.3 1244.8 170.5 1245.5 170.7 1249.3 170.9 1248 171.1 1243.9 171.4 1249 171.6 1245.7 171.8 1242.7 172 1240.2 172.2 1226.2 172.5 1247.5 172.7 1242.9 172.9 1239.5 173.1 1245.6 173.4 1241.2 173.6 1246.6 173.8 1131.7 174 1244.2 174.2 1275 174.5 1238.6 174.7 1243.4 174.9 1241.2 175.1 1240.8 175.4 1245.9 175.6 1253 175.8 1248.1 176 1250.9 176.2 1243.8 176.5 1239.2 176.7 1238.7 176.9 1240.7 177.1 1248.4 177.3 1245.4 177.6 1246.7 177.8 1240.9 178 1244.8 178.2 1247.9 178.5 1242.1 178.7 1239.6 178.9 1243.8 179.1 1248.6 179.3 1247.6 179.6 1243.9 179.8 1247 180 1248.6 180.2 1244.9 180.4 1245.4 180.7 1245.9 180.9 1246.2 181.1 1245.9 181.3 1251.7 181.6 1240.8 181.8 1244.7 182 1244.4 182.2 1253.6 182.4 1251.5 182.7 1250.1 182.9 1245.7 183.1 1239.6 183.3 1238 183.6 1241.6 183.8 1241.2 184 1245.5 184.2 1243.5 184.4 1240.2 184.7 1246.9 184.9 1242.3 185.1 1242.5 185.3 1247 185.5 1249.2 185.8 1241.4 186 1247.3 186.2 1239.1 186.4 1239.2 186.7 1254.1 186.9 1244.4 187.1 1243.4 187.3 1242 187.5 1245.3 187.8 1248.6 188 1245.2 188.2 1241.4 188.4 1228.7 188.7 1242 188.9 1238.9 189.1 1246.2 189.3 1244.8 189.5 1262.2 189.8 1236.1 190 1235.6 190.2 1245.1 190.4 1249.1 190.6 1226.2 190.9 1245 191.1 1243.7 191.3 1241.6 191.5 1247.1 191.8 1259.7 192 1235.9 192.2 1243.5 192.4 1238.6 192.6 1246.1 192.9 1236.7 193.1 1248.3 193.3 1248.1 193.5 1251 193.8 1251 194 1246.2 194.2 1240.3 194.4 1236.7 194.6 1242.7 194.9 1237.8 195.1 1243.7 195.3 1243.1 195.5 1242.9 195.7 1249.7 196 1247.8 196.2 1242.2 196.4 1240.7 196.6 1240.6 196.9 1250.7 197.1 1251.7 197.3 1239.4 197.5 1247.2 197.7 1241.2 198 1250.7 198.2 1237.3 198.4 1262.2 198.6 1241.5 198.9 1244.3 199.1 1240 199.3 1245 199.5 1258.1 199.7 1250.7 200 1252 200.2 1242.2 200.4 1238.1 200.6 1241.8 200.8 1252.4 201.1 1243.7 201.3 1242.6 201.5 1236.5 201.7 1244.2 202 1254.5 202.2 1245.3 202.4 1246.9 202.6 1239.9 202.8 1238.6 203.1 1244 203.3 1235.4 203.5 1238.5 203.7 1240.8 204 1247.8 204.2 1246.5 204.4 1239.2 204.6 1241.8 204.8 1245.6 205.1 1246.3 205.3 1243.5 205.5 1251.3 205.7 1237.8 205.9 1239 206.2 1231.1 206.4 1263.5 206.6 1239.6 206.8 1242.5 207.1 1231.6 207.3 1243.7 207.5 1248.2 207.7 1256.7 207.9 1244.3 208.2 1242.9 208.4 1240.1 208.6 1245.2 208.8 1255 209.1 1249.7 209.3 1236.7 209.5 1242.1 209.7 1240.1 209.9 1249.3 210.2 1243.9 210.4 1235.1 210.6 1231.9 210.8 1247.7 211 1247.2 211.3 1250.4 211.5 1243.1 211.7 1247.5 211.9 1238.7 212.2 1215.5 212.4 1244.9 212.6 1249 212.8 1245.7 213 1240.8 213.3 1243.5 213.5 1234.9 213.7 1245.1 213.9 1244.1 214.2 1242.8 214.4 1244 214.6 1246.6 214.8 1239.9 215 1251.1 215.3 1243.1 215.5 1256.6 215.7 1243 215.9 1240.4 216.1 1249.7 216.4 1241.7 216.6 1241.3 216.8 1236.3 217 1242.2 217.3 1236.6 217.5 1237.9 217.7 1250.5 217.9 1251 218.1 1238.8 218.4 1254 218.6 1243.7 218.8 1246.6 219 1244.6 219.3 1251.1 219.5 1244.2 219.7 1245.6 219.9 1240.6 220.1 1242.5 220.4 1243.5 220.6 1237.7 220.8 1245.7 221 1262.2 221.2 1241.5 221.5 1240.8 221.7 1242 221.9 1243 222.1 1246.5 222.4 1243.6 222.6 1243.8 222.8 1247 223 1237.4 223.2 1241.5 223.5 1250.4 223.7 1235.7 223.9 1248.6 224.1 1245.9 224.3 1246.1 224.6 1246.4 224.8 1238.5 225 1250.6 225.2 1240.8 225.5 1233.3 225.7 1252.6 225.9 1226.2 226.1 1259.5 226.3 1240.2 226.6 1243.7 226.8 1254 227 1243.3 227.2 1239.4 227.5 1241.2 227.7 1249.1 227.9 1243.3 228.1 1250.5 228.3 1262.2 228.6 1233.2 228.8 1262.2 229 1246.3 229.2 1236.6 229.4 1243.5 229.7 1244 229.9 1238.7 230.1 1238.1 230.3 1240.5 230.6 1244.5 230.8 1241.2 231 1231.4 231.2 1242.6 231.4 1245.5 231.7 1235.4 231.9 1243.5 232.1 1240 232.3 1246.9 232.6 1244 232.8 1259.1 233 1226.2 233.2 1243.5 233.4 1262.2 233.7 1262.2 233.9 1247.5 234.1 1249.8 234.3 1241.9 234.5 1250.9 234.8 1245.9 235 1243.3 235.2 1247.3 235.4 1239.6 235.7 1245.1 235.9 1241.4 236.1 1242 236.3 1228.6 236.5 1235 236.8 1243.3 237 1241.6 237.2 1245.1 237.4 1239.4 237.7 1252.8 237.9 1243.3 238.1 1240.3 238.3 1244.7 238.5 1261.3 238.8 1243 239 1242.6 239.2 1244.5 239.4 1243.8 239.6 1242.3 239.9 1243.5 240.1 1242.5 240.3 1244.9 240.5 1248.5 240.8 1245 241 1254.2 241.2 1245 241.4 1239.2 241.6 1253.8 241.9 1246.5 242.1 1242.3 242.3 1250.8 242.5 1261.1 242.8 1246.8 243 1248.7 243.2 1247.7 243.4 1248.2 243.6 1243.5 243.9 1250.7 244.1 1258.1 244.3 1238.3 244.5 1240.1 244.7 1246.2 245 1247.7 245.2 1242.2 245.4 1244.9 245.6 1236.5 245.9 1251.7 246.1 1252.6 246.3 1232.8 246.5 1243.7 246.7 1262.2 247 1243.9 247.2 1244.4 247.4 1241 247.6 1269.5 247.9 1248 248.1 1232.4 248.3 1255.9 248.5 1240.5 248.7 1248.3 249 1250.1 249.2 1244.2 249.4 1237.1 249.6 1232.9 249.8 1241.3 250.1 1245.1 250.3 1215.5 250.5 1227.3 250.7 1245.3 251 1250 251.2 1245 251.4 1234 251.6 1247.8 251.8 1240.7 252.1 1237 252.3 1234.8 252.5 1245.9 252.7 1250.7 253 1240.2 253.2 1242.9 253.4 1253.7 253.6 1244.9 253.8 1246.1 254.1 1238.5 254.3 1251.7 254.5 1248.7 254.7 1246.2 254.9 1243.1 255.2 1252.5 255.4 1248.2 255.6 1252.7 255.8 1243.4 256.1 1247.8 256.3 1247.7 256.5 1258 256.7 1226.2 256.9 1242.8 257.2 1226.2 257.4 1252.5 257.6 1262.2 257.8 1241.5 258.1 1247.4 258.3 1242.9 258.5 1256.6 258.7 1245.7 258.9 1250 259.2 1252.5 259.4 1234.7 259.6 1248.8 259.8 1244.6 260 1240.5 260.3 1245.5 260.5 1246.3 260.7 1227.3 260.9 1262.2 261.2 1231.6 261.4 1244.4 261.6 1243.1 261.8 1246.3 262 1230.4 262.3 1240 262.5 1231.6 262.7 1241.1 262.9 1237.5 263.1 1245.3 263.4 1260.8 263.6 1246.6 263.8 1252.8 264 1245.3 264.3 1259.6 264.5 1245.9 264.7 1243.7 264.9 1241.6 265.1 1251 265.4 1258.4 265.6 1245.5 265.8 1246.5 266 1245.2 266.3 1240.2 266.5 1234.9 266.7 1235 266.9 1238.6 267.1 1235.4 267.4 1239.9 267.6 1254.4 267.8 1232.9 268 1245.9 268.2 1247.7 268.5 1243 268.7 1165.2 268.9 1244.2 269.1 1253.3 269.4 1243.1 269.6 1246.7 269.8 1240.4 270 1248.5 270.2 1246.2 270.5 1226.5 270.7 1246 270.9 1235.4 271.1 1253 271.4 1245 271.6 1238.5 271.8 1233.3 272 1245.8 272.2 1242.8 272.5 1250.7 272.7 1247.8 272.9 1239.3 273.1 1253.9 273.3 1249.7 273.6 1235.9 273.8 1237.6 274 1246.6 274.2 1244.9 274.5 1246.1 274.7 1242.2 274.9 1248.5 275.1 1232 275.3 1246 275.6 1248.4 275.8 1244.3 276 1232.4 276.2 1256.5 276.5 1248.7 276.7 1262.2 276.9 1239.8 277.1 1240.8 277.3 1241.3 277.6 1238.9 277.8 1241.6 278 1257.6 278.2 1245.5 278.4 1230.5 278.7 1243.4 278.9 1246.1 279.1 1246.9 279.3 1249.2 279.6 1238.3 279.8 1227 280 1237.8 280.2 1240.2 280.4 1239.9 280.7 1244.2 280.9 1246 281.1 1237.6 281.3 1243.1 281.6 1250.8 281.8 1246.4 282 1238 282.2 1250 282.4 1242.1 282.7 1254.9 282.9 1231.1 283.1 1236.8 283.3 1253.4 283.5 1245.2 283.8 1231.5 284 1227.5 284.2 1262.2 284.4 1239.1 284.7 1237.6 284.9 1246.8 285.1 1240.9 285.3 1244.7 285.5 1255.5 285.8 1242.4 286 1250.5 286.2 1244 286.4 1226.2 286.7 1245 286.9 1244.7 287.1 1239.7 287.3 1243.4 287.5 1244.4 287.8 1244.8 288 1247.1 288.2 1246.3 288.4 1241.5 288.6 1236 288.9 1244.6 289.1 1250 289.3 1237.9 289.5 1246 289.8 1238.3 290 1212 290.2 1242.9 290.4 1274 290.6 1248.4 290.9 1240.2 291.1 1251 291.3 1243.1 291.5 1236.6 291.8 1257.5 292 1241 292.2 1239.7 292.4 1238.6 292.6 1244.2 292.9 1244 293.1 1248 293.3 1236.9 293.5 1208 293.7 1256.2 294 1246 294.2 1249.5 294.4 1243.9 294.6 1245.6 294.9 1238 295.1 1248.8 295.3 1244.9 295.5 1254.1 295.7 1253.9 296 1214 296.2 1232 296.4 1253.7 296.6 1247.2 296.9 1240.7 297.1 1250.7 297.3 1240.1 297.5 1245.3 297.7 1241.7 298 1260.3 298.2 1238.2 298.4 1239.6 298.6 1232.8 298.8 1245.1 299.1 1245.4 299.3 1235.4 299.5 1226.2 299.7 1256.3 300 1245.8 300.2 1261.5 300.4 1250.5 300.6 1239.1 300.8 1257 301.1 1238.5 301.3 1235.6 301.5 1238.6 301.7 1242 301.9 1230.8 302.2 1249 302.4 1247.7 302.6 1243.4 302.8 1247.6 303.1 1243.2 303.3 1241.4 303.5 1246 303.7 1247.1 303.9 1240.8 304.2 1232.2 304.4 1234.4 304.6 1253.7 304.8 1255.2 305.1 1244.5 305.3 1253.4 305.5 1244.1 305.7 1226.9 305.9 1237.6 306.2 1257.4 306.4 1242.6 306.6 1252.3 306.8 1246.2 307 1243.1 307.3 1245.6 307.5 1245.3 307.7 1248.4 307.9 1231.5 308.2 1239.8 308.4 1231.5 308.6 1257 308.8 1252.4 309 1234.3 309.3 1240.6 309.5 1245.4 309.7 1242.2 309.9 1252 310.2 1244.9 310.4 1226.2 310.6 1248.7 310.8 1235.1 311 1247.7 311.3 1256.1 311.5 1245 311.7 1245.3 311.9 1252.7 312.1 1243.5 312.4 1242.7 312.6 1239.4 312.8 1226.2 313 1248.2 313.3 1253.6 313.5 1242.9 313.7 1280.7 313.9 1242.6 314.1 1242.9 314.4 1243.2 314.6 1249.6 314.8 1249.3 315 1229.3 315.3 1246.4 315.5 1242.5 315.7 1240.8 315.9 1252 316.1 1233.9 316.4 1234.7 316.6 1232.5 316.8 1249.4 317 1241.4 317.2 1247.2 317.5 1249.7 317.7 1249.9 317.9 1249.3 318.1 1261.5 318.4 1234.2 318.6 1236.9 318.8 1247.4 319 1254.4 319.2 1250 319.5 1253.2 319.7 1251.4 319.9 1244.9 320.1 1237.1 320.4 1244.5 320.6 1233.7 320.8 1243.5 321 1246.5 321.2 1246.7 321.5 1245.3 321.7 1234 321.9 1240.2 322.1 1238.4 322.3 1251 322.6 1244.5 322.8 1239 323 1261.2 323.2 1239.1 323.5 1251.2 323.7 1247.2 323.9 1241.8 324.1 1238 324.3 1245.2 324.6 1255.6 324.8 1252.7 325 1254.2 325.2 1253 325.5 1246.3 325.7 1239.9 325.9 1245 326.1 1238.8 326.3 1254.1 326.6 1248.2 326.8 1240.9 327 1255 327.2 1240.3 327.4 1244.3 327.7 1250.5 327.9 1237.3 328.1 1240.6 328.3 1254.9 328.6 1232.2 328.8 1240.9 329 1236.6 329.2 1226.8 329.4 1234.7 329.7 1253.8 329.9 1252.8 330.1 1248.9 330.3 1241.3 330.6 1239.6 330.8 1254.1 331 1240.8 331.2 1248.4 331.4 1248.5 331.7 1255.6 331.9 1255.5 332.1 1226.2 332.3 1250.5 332.5 1262.2 332.8 1230.5 333 1237 333.2 1240 333.4 1237.8 333.7 1232.1 333.9 1227.5 334.1 1248.9 334.3 1235.4 334.5 1240.3 334.8 1254.8 335 1247.4 335.2 1247.3 335.4 1246 335.7 1239.1 335.9 1246.1 336.1 1231.4 336.3 1240.5 336.5 1253.2 336.8 1256.1 337 1234.3 337.2 1242.4 337.4 1245.4 337.6 1244.9 337.9 1250.3 338.1 1239.6 338.3 1246.5 338.5 1248.9 338.8 1262.2 339 1240.3 339.2 1240.3 339.4 1237.6 339.6 1254.6 339.9 1258.1 340.1 1252 340.3 1243 340.5 1248 340.8 1232.5 341 1248.9 341.2 1251.4 341.4 1252.9 341.6 1245.5 341.9 1243.7 342.1 1238.7 342.3 1243.1 342.5 1242.6 342.7 1248.5 343 1242.5 343.2 1262.2 343.4 1238.7 343.6 1240.9 343.9 1247 344.1 1226.2 344.3 1262.2 344.5 1257.9 344.7 1248.1 345 1244.4 345.2 1240.9 345.4 1253 345.6 1244 345.8 1237.5 346.1 1244.1 346.3 1250.9 346.5 1251.9 346.7 1237.4 347 1247 347.2 1246.7 347.4 1209.5 347.6 1248.9 347.8 1256 348.1 1262.2 348.3 1242 348.5 1239.2 348.7 1250.5 349 1241.9 349.2 1249.4 349.4 1226.2 349.6 1238.4 349.8 1235.8 350.1 1255.2 350.3 1241.8 350.5 1229.1 350.7 1239.3 350.9 1245.4 351.2 1247.9 351.4 1251.4 351.6 1244.2 351.8 1236.5 352.1 1246.2 352.3 1242.2 352.5 1244.2 352.7 1243.5 352.9 1245.8 353.2 1248.8 353.4 1245.3 353.6 1255.2 353.8 1243.1 354.1 1245 354.3 1243.3 354.5 1247.8 354.7 1242.8 354.9 1253.6 355.2 1242.5 355.4 1248.4 355.6 1251.7 355.8 1243 356 1231.4 356.3 1257 356.5 1256.7 356.7 1245.4 356.9 1243.8 357.2 1251.7 357.4 1248.2 357.6 1235.2 357.8 1246.7 358 1245.2 358.3 1262.2 358.5 1256.3 358.7 1227.3 358.9 1245.9 359.2 1242.5 359.4 1243.7 359.6 1245.6 359.8 1243.3 360 1250.4 360.3 1250.3 360.5 1237.4 360.7 1240.7 360.9 1229.9 361.1 1249.3 361.4 1251.3 361.6 1259.2 361.8 1250.3 362 1242.6 362.3 1232.8 362.5 1243.8 362.7 1232.6" fill="none" stroke="#e377c2" stroke-width="1.35" stroke-linejoin="round" clip-path="url(#c15)"/>
<text transform="translate(34.7 1251.6) scale(0.760 1)" font-family="Liberation Sans" font-size="20.5" text-anchor="end" fill="#505050" stroke="#505050" stroke-width="0.28">0</text>
<text transform="translate(34.7 1184.5) scale(0.760 1)" font-family="Liberation Sans" font-size="20.5" text-anchor="end" fill="#505050" stroke="#505050" stroke-width="0.28">50</text>
<text transform="translate(77 1310) scale(0.760 1)" font-family="Liberation Sans" font-size="20.5" text-anchor="middle" fill="#505050" stroke="#505050" stroke-width="0.28">2019</text>
<text transform="translate(157.8 1310) scale(0.760 1)" font-family="Liberation Sans" font-size="20.5" text-anchor="middle" fill="#505050" stroke="#505050" stroke-width="0.28">2020</text>
<text transform="translate(238.8 1310) scale(0.760 1)" font-family="Liberation Sans" font-size="20.5" text-anchor="middle" fill="#505050" stroke="#505050" stroke-width="0.28">2021</text>
<text transform="translate(319.6 1310) scale(0.760 1)" font-family="Liberation Sans" font-size="20.5" text-anchor="middle" fill="#505050" stroke="#505050" stroke-width="0.28">2022</text>
<rect x="404.8" y="1124.2" width="305.7" height="164.2" fill="#E5ECF6"/>
<path d="M404.8 1276.8H710.5" stroke="#d4d4d4" stroke-width="1.7"/>
<path d="M404.8 1171.2H710.5" stroke="#d4d4d4" stroke-width="1.7"/>
<path d="M404.8 1224.2H710.5" stroke="#626468" stroke-width="2"/>
<path d="M405.1 1221.7 405.3 1219.9 405.5 1232.3 405.7 1220.9 405.9 1228.4 406.1 1226.8 406.3 1228.2 406.6 1228.8 406.8 1221.7 407 1221.1 407.2 1217.1 407.4 1233.8 407.6 1230.7 407.8 1221.6 408 1214.9 408.2 1223.1 408.4 1225.3 408.6 1223.8 408.8 1223.9 409 1229 409.3 1223.3 409.5 1226.4 409.7 1222 409.9 1225.5 410.1 1224.8 410.3 1224.3 410.5 1225.4 410.7 1223.7 410.9 1221.6 411.1 1228.5 411.3 1229.3 411.5 1225.5 411.7 1219.2 412 1223.8 412.2 1224.2 412.4 1226.7 412.6 1229.5 412.8 1223.6 413 1220.3 413.2 1219.1 413.4 1226.1 413.6 1225.1 413.8 1220.1 414 1239.1 414.2 1227.4 414.4 1226.6 414.7 1223.7 414.9 1225.5 415.1 1219 415.3 1238.3 415.5 1219.6 415.7 1230.1 415.9 1224.8 416.1 1230.7 416.3 1222.3 416.5 1225.8 416.7 1225.5 416.9 1221.5 417.1 1224.5 417.4 1222 417.6 1224.4 417.8 1222.5 418 1224.1 418.2 1223.6 418.4 1203.3 418.6 1223.3 418.8 1221.1 419 1224.5 419.2 1223.1 419.4 1225 419.6 1227.5 419.8 1225.9 420.1 1227.6 420.3 1224.7 420.5 1219.4 420.7 1220 420.9 1233.6 421.1 1219.3 421.3 1223.9 421.5 1223.3 421.7 1225.6 421.9 1225 422.1 1226.7 422.3 1217.6 422.5 1220.8 422.8 1260.8 423 1222.9 423.2 1221 423.4 1218.4 423.6 1227.8 423.8 1227.3 424 1221.6 424.2 1224 424.4 1225.8 424.6 1219.9 424.8 1220.8 425 1218.6 425.2 1226.1 425.5 1220.7 425.7 1217.6 425.9 1224.3 426.1 1221.7 426.3 1215.3 426.5 1230.1 426.7 1226 426.9 1228.5 427.1 1215.6 427.3 1223.5 427.5 1229.6 427.7 1228.6 427.9 1230.7 428.2 1231.4 428.4 1230.6 428.6 1229.9 428.8 1235.9 429 1219 429.2 1226.3 429.4 1224.6 429.6 1224.9 429.8 1228.7 430 1198 430.2 1213.7 430.4 1220.3 430.6 1225.1 430.9 1220.1 431.1 1221.1 431.3 1221.9 431.5 1220.2 431.7 1209.3 431.9 1221.5 432.1 1229.4 432.3 1223.8 432.5 1223.6 432.7 1222.8 432.9 1216.6 433.1 1226 433.3 1225.9 433.6 1221.5 433.8 1188.3 434 1220.4 434.2 1224.2 434.4 1227.4 434.6 1230.8 434.8 1223.7 435 1221.9 435.2 1225.4 435.4 1229.5 435.6 1215.9 435.8 1222.6 436 1222.4 436.3 1224.7 436.5 1240 436.7 1221.8 436.9 1220.8 437.1 1234.1 437.3 1219.7 437.5 1226.1 437.7 1224 437.9 1221.7 438.1 1220 438.3 1221.7 438.5 1224 438.7 1216.9 439 1231.6 439.2 1232.5 439.4 1221.2 439.6 1223.7 439.8 1227.2 440 1227 440.2 1223.1 440.4 1220.9 440.6 1227.8 440.8 1221.2 441 1240 441.2 1227.6 441.4 1220.7 441.7 1223 441.9 1224.9 442.1 1234.5 442.3 1226.6 442.5 1220.3 442.7 1217.8 442.9 1226.4 443.1 1227.3 443.3 1226.7 443.5 1220.3 443.7 1219.2 443.9 1221.8 444.1 1217.6 444.4 1206.2 444.6 1223.2 444.8 1223.8 445 1215.9 445.2 1222.6 445.4 1228.2 445.6 1225.9 445.8 1231.6 446 1230.5 446.2 1228 446.4 1221.7 446.6 1225 446.8 1212.7 447.1 1224.7 447.3 1225.7 447.5 1223.8 447.7 1227.7 447.9 1216.4 448.1 1240.2 448.3 1224.3 448.5 1225.5 448.7 1226.1 448.9 1223.6 449.1 1224.2 449.3 1229.7 449.5 1224.6 449.8 1215.3 450 1220.7 450.2 1227.2 450.4 1220.2 450.6 1237.8 450.8 1239.7 451 1228.7 451.2 1216.1 451.4 1227.4 451.6 1222 451.8 1223.5 452 1219.6 452.2 1226.3 452.5 1228.4 452.7 1223.9 452.9 1224.3 453.1 1212.9 453.3 1211.5 453.5 1216.7 453.7 1215.5 453.9 1228.6 454.1 1280 454.3 1219.8 454.5 1222.9 454.7 1219.5 454.9 1210 455.2 1237.6 455.4 1216 455.6 1217 455.8 1228.7 456 1218.4 456.2 1226.8 456.4 1223.2 456.6 1279.2 456.8 1233.9 457 1224.6 457.2 1223.2 457.4 1221.2 457.6 1220.8 457.9 1213.7 458.1 1223.3 458.3 1225.2 458.5 1225.1 458.7 1232.7 458.9 1231 459.1 1230.4 459.3 1233.5 459.5 1224 459.7 1222.9 459.9 1218.4 460.1 1223.8 460.3 1221.8 460.6 1230.9 460.8 1225.5 461 1226.4 461.2 1228.3 461.4 1224.4 461.6 1226.3 461.8 1224.2 462 1229.4 462.2 1223.3 462.4 1217.4 462.6 1222.6 462.8 1224.2 463 1223 463.3 1233.2 463.5 1226.4 463.7 1209.6 463.9 1216.1 464.1 1225.4 464.3 1226.5 464.5 1219.7 464.7 1216 464.9 1217.7 465.1 1227 465.3 1224 465.5 1222.3 465.7 1221 466 1233.6 466.2 1221.3 466.4 1230.5 466.6 1232.1 466.8 1223.2 467 1221.5 467.2 1223 467.4 1226.8 467.6 1224.6 467.8 1219 468 1233.3 468.2 1218.2 468.4 1222.6 468.7 1214.4 468.9 1219.6 469.1 1234.6 469.3 1226.4 469.5 1229.3 469.7 1221.9 469.9 1230.1 470.1 1219.7 470.3 1224.3 470.5 1216.2 470.7 1223.4 470.9 1224.5 471.1 1223.2 471.4 1232.2 471.6 1224.3 471.8 1221.8 472 1222.1 472.2 1220.9 472.4 1226.6 472.6 1226.3 472.8 1222.5 473 1222.9 473.2 1229.5 473.4 1217 473.6 1223 473.8 1226.9 474.1 1215.8 474.3 1222.5 474.5 1224.2 474.7 1229 474.9 1227.1 475.1 1217.4 475.3 1220.1 475.5 1222.7 475.7 1222.5 475.9 1218.2 476.1 1226.9 476.3 1221.3 476.5 1229.9 476.8 1227.4 477 1220.2 477.2 1221.3 477.4 1222.6 477.6 1227.6 477.8 1226 478 1225 478.2 1222.7 478.4 1222.9 478.6 1218 478.8 1223.1 479 1229.4 479.2 1231.1 479.5 1216.2 479.7 1226.7 479.9 1237.5 480.1 1227.9 480.3 1226.4 480.5 1219 480.7 1221.3 480.9 1224.6 481.1 1223.9 481.3 1224.4 481.5 1216.5 481.7 1223.8 481.9 1223.8 482.2 1220.3 482.4 1222.9 482.6 1217.9 482.8 1221.7 483 1220.9 483.2 1222.2 483.4 1198.3 483.6 1222.1 483.8 1224 484 1215.3 484.2 1239.2 484.4 1221.3 484.6 1224.4 484.9 1224 485.1 1225.5 485.3 1232.2 485.5 1223.2 485.7 1231 485.9 1219.6 486.1 1233.8 486.3 1220.8 486.5 1224.7 486.7 1232 486.9 1229.8 487.1 1223.4 487.3 1224.5 487.6 1229 487.8 1225.8 488 1220.7 488.2 1234.5 488.4 1229.4 488.6 1223.8 488.8 1225.1 489 1236 489.2 1238.9 489.4 1224.2 489.6 1224.3 489.8 1221.9 490 1225.6 490.3 1222 490.5 1220.4 490.7 1233.1 490.9 1228.1 491.1 1231.3 491.3 1225.2 491.5 1225.8 491.7 1223.4 491.9 1229.8 492.1 1222.2 492.3 1222.9 492.5 1224.4 492.7 1219 493 1229.3 493.2 1222.7 493.4 1223.9 493.6 1207.3 493.8 1222.9 494 1228.4 494.2 1227.4 494.4 1225.8 494.6 1229.4 494.8 1221.6 495 1229 495.2 1233.6 495.4 1227.7 495.7 1230.5 495.9 1228 496.1 1229 496.3 1222.2 496.5 1223.3 496.7 1223.9 496.9 1230.9 497.1 1224.5 497.3 1217.9 497.5 1202.5 497.7 1221.6 497.9 1221.8 498.1 1231 498.4 1226.7 498.6 1226.5 498.8 1219.9 499 1229.6 499.2 1223.7 499.4 1228.6 499.6 1217.5 499.8 1223.4 500 1230.3 500.2 1225.3 500.4 1223.9 500.6 1221.7 500.8 1223.7 501.1 1222.4 501.3 1224.8 501.5 1225.1 501.7 1226.6 501.9 1225.4 502.1 1225.2 502.3 1220.7 502.5 1230.4 502.7 1222 502.9 1229.9 503.1 1222.9 503.3 1226.4 503.5 1223.6 503.8 1225.4 504 1223.7 504.2 1223.3 504.4 1221.7 504.6 1226.6 504.8 1223.8 505 1217.2 505.2 1221.2 505.4 1225.5 505.6 1227.8 505.8 1217.1 506 1225.8 506.2 1227.5 506.5 1206.2 506.7 1224 506.9 1216.5 507.1 1220.9 507.3 1225.1 507.5 1206.2 507.7 1226 507.9 1226 508.1 1222.1 508.3 1224.8 508.5 1228.7 508.7 1230.9 508.9 1240.4 509.2 1221.6 509.4 1225.3 509.6 1225.2 509.8 1223.8 510 1226 510.2 1218.5 510.4 1224.3 510.6 1225 510.8 1225.9 511 1224.5 511.2 1223.5 511.4 1220.5 511.6 1227.6 511.9 1229.2 512.1 1224.8 512.3 1224.4 512.5 1243.3 512.7 1227.2 512.9 1225.9 513.1 1225.5 513.3 1220.6 513.5 1226.2 513.7 1228.6 513.9 1228.2 514.1 1215.3 514.3 1231 514.6 1226.5 514.8 1221.9 515 1226.1 515.2 1223.6 515.4 1227.5 515.6 1231.8 515.8 1223.4 516 1225.3 516.2 1228.1 516.4 1225.1 516.6 1223.5 516.8 1225.1 517 1226.8 517.3 1222.2 517.5 1225.4 517.7 1223.6 517.9 1223 518.1 1223.9 518.3 1224.3 518.5 1220.3 518.7 1218.3 518.9 1219.2 519.1 1226.4 519.3 1225.2 519.5 1225.3 519.7 1225.4 520 1223.7 520.2 1224.2 520.4 1222.5 520.6 1227.5 520.8 1227.5 521 1228.6 521.2 1227.7 521.4 1214.9 521.6 1224.2 521.8 1223.5 522 1221.6 522.2 1227.5 522.4 1225.5 522.7 1224.6 522.9 1224.8 523.1 1233.6 523.3 1222.9 523.5 1222.8 523.7 1224.2 523.9 1220.3 524.1 1222.2 524.3 1222.4 524.5 1228.8 524.7 1226.3 524.9 1248.3 525.1 1229.7 525.4 1225.3 525.6 1218 525.8 1218.3 526 1220 526.2 1225.3 526.4 1228.6 526.6 1227.4 526.8 1224.4 527 1220.8 527.2 1220.3 527.4 1222.2 527.6 1225.8 527.8 1221.8 528.1 1224.9 528.3 1225.9 528.5 1225.4 528.7 1223.7 528.9 1229.2 529.1 1216.6 529.3 1223 529.5 1222.9 529.7 1228.1 529.9 1226.3 530.1 1224.1 530.3 1217.4 530.5 1222.3 530.8 1224.6 531 1226.6 531.2 1222.9 531.4 1226.2 531.6 1231.6 531.8 1225 532 1223.8 532.2 1227 532.4 1218.5 532.6 1222.8 532.8 1131.7 533 1224.9 533.2 1218.8 533.5 1228.5 533.7 1223.6 533.9 1222.6 534.1 1226.9 534.3 1257.5 534.5 1224.1 534.7 1218.9 534.9 1225.2 535.1 1218.8 535.3 1206.2 535.5 1220.5 535.7 1213.6 535.9 1229.5 536.2 1219.9 536.4 1206.9 536.6 1223.4 536.8 1226.3 537 1223.4 537.2 1222.9 537.4 1222.3 537.6 1225.5 537.8 1219.6 538 1222.5 538.2 1224.4 538.4 1219.8 538.6 1224.7 538.9 1224.4 539.1 1223.4 539.3 1229 539.5 1225.7 539.7 1231.8 539.9 1215.2 540.1 1225 540.3 1225.6 540.5 1225.5 540.7 1236.5 540.9 1218.3 541.1 1227.2 541.3 1223 541.6 1224 541.8 1218.2 542 1219.6 542.2 1226.6 542.4 1226.3 542.6 1228.5 542.8 1223.4 543 1228.8 543.2 1223.8 543.4 1221.1 543.6 1226.7 543.8 1229.4 544 1224.5 544.3 1227.8 544.5 1230.7 544.7 1222.6 544.9 1214.3 545.1 1224.3 545.3 1225.3 545.5 1224.3 545.7 1229.3 545.9 1222.2 546.1 1226.1 546.3 1231.6 546.5 1224.2 546.7 1225.7 547 1218.5 547.2 1222.2 547.4 1232.4 547.6 1219.6 547.8 1218.1 548 1232.1 548.2 1219 548.4 1224.3 548.6 1231.4 548.8 1227.1 549 1221.1 549.2 1226.9 549.4 1223.1 549.7 1222.5 549.9 1224.6 550.1 1225.4 550.3 1225.4 550.5 1226.7 550.7 1219.1 550.9 1222.1 551.1 1217.1 551.3 1221.4 551.5 1223.6 551.7 1222.1 551.9 1225.8 552.1 1224.2 552.4 1224.6 552.6 1221.6 552.8 1222.1 553 1223.8 553.2 1219.6 553.4 1223.9 553.6 1224.6 553.8 1224.2 554 1235 554.2 1224.8 554.4 1227.6 554.6 1238 554.8 1223.5 555.1 1226.3 555.3 1218.5 555.5 1227.8 555.7 1222 555.9 1223.7 556.1 1221.5 556.3 1214.7 556.5 1222.7 556.7 1227.7 556.9 1241 557.1 1222.9 557.3 1231.1 557.5 1221.3 557.8 1227.8 558 1224 558.2 1221 558.4 1219.4 558.6 1223 558.8 1227.2 559 1220.5 559.2 1221.8 559.4 1219.6 559.6 1230.7 559.8 1219 560 1220.8 560.2 1222.4 560.5 1225.1 560.7 1224.8 560.9 1223.3 561.1 1220.7 561.3 1242.2 561.5 1226.4 561.7 1225.4 561.9 1227 562.1 1224.8 562.3 1224.1 562.5 1224.2 562.7 1220.8 562.9 1222.7 563.2 1215.3 563.4 1222.7 563.6 1225.8 563.8 1221 564 1223.3 564.2 1221.6 564.4 1223.2 564.6 1224.6 564.8 1222.9 565 1221.1 565.2 1221.9 565.4 1227.2 565.6 1230.6 565.9 1221.8 566.1 1229.9 566.3 1225.3 566.5 1229.3 566.7 1224.6 566.9 1215.8 567.1 1225.9 567.3 1232 567.5 1222.4 567.7 1229.8 567.9 1223 568.1 1227.1 568.3 1226.6 568.6 1223 568.8 1221.4 569 1222.8 569.2 1228.6 569.4 1242.2 569.6 1225.1 569.8 1229 570 1226 570.2 1228.1 570.4 1224.6 570.6 1222.8 570.8 1224.1 571 1230.8 571.3 1224.2 571.5 1221.2 571.7 1216.8 571.9 1228 572.1 1223.1 572.3 1226.3 572.5 1221.6 572.7 1220.6 572.9 1235.1 573.1 1219.7 573.3 1224.4 573.5 1225.2 573.7 1222.8 574 1224.7 574.2 1219 574.4 1226.6 574.6 1227.1 574.8 1227.6 575 1229 575.2 1226.1 575.4 1221.2 575.6 1223.4 575.8 1228.1 576 1224.2 576.2 1230.7 576.4 1222.4 576.7 1224.9 576.9 1228.2 577.1 1225.1 577.3 1226 577.5 1238.5 577.7 1233.5 577.9 1225.8 578.1 1222.5 578.3 1225.7 578.5 1224.6 578.7 1220.1 578.9 1222.9 579.1 1226.2 579.4 1232.9 579.6 1229.8 579.8 1225.1 580 1219 580.2 1224.3 580.4 1222.7 580.6 1222.8 580.8 1220.8 581 1223 581.2 1226.7 581.4 1225.4 581.6 1223.4 581.8 1230 582.1 1224.6 582.3 1224.3 582.5 1223 582.7 1226.9 582.9 1223.2 583.1 1227.4 583.3 1225.6 583.5 1223.7 583.7 1218.6 583.9 1225.8 584.1 1223.4 584.3 1228.2 584.5 1220.3 584.8 1220.8 585 1225.6 585.2 1224.3 585.4 1218.9 585.6 1226.9 585.8 1226.2 586 1232.6 586.2 1233.4 586.4 1220.8 586.6 1206.2 586.8 1232.6 587 1225.7 587.2 1214.9 587.5 1220.1 587.7 1221.2 587.9 1224.8 588.1 1226.7 588.3 1224.8 588.5 1220.7 588.7 1225.5 588.9 1222.1 589.1 1228.6 589.3 1233.4 589.5 1221.6 589.7 1228 589.9 1230.9 590.2 1225.4 590.4 1222 590.6 1225.2 590.8 1221.4 591 1219.7 591.2 1222.6 591.4 1217.7 591.6 1231.1 591.8 1215.9 592 1224.5 592.2 1233.8 592.4 1224.9 592.6 1227.2 592.9 1216.2 593.1 1223.2 593.3 1226.9 593.5 1226.5 593.7 1225.3 593.9 1220.4 594.1 1218.5 594.3 1215.9 594.5 1226 594.7 1224.4 594.9 1220.4 595.1 1229.3 595.3 1221.9 595.6 1223 595.8 1228.1 596 1225.9 596.2 1224.6 596.4 1218.9 596.6 1227.2 596.8 1226.2 597 1219.5 597.2 1221.3 597.4 1256.7 597.6 1225.9 597.8 1229.1 598 1193 598.3 1221.8 598.5 1217.3 598.7 1223.1 598.9 1226.6 599.1 1221.5 599.3 1222 599.5 1227.5 599.7 1223.8 599.9 1224.7 600.1 1225 600.3 1224.8 600.5 1219.7 600.7 1216.3 601 1224.1 601.2 1225.7 601.4 1223.6 601.6 1222.8 601.8 1225.5 602 1220.6 602.2 1223.1 602.4 1224 602.6 1225.3 602.8 1220 603 1218.6 603.2 1226.2 603.4 1222.7 603.7 1224.3 603.9 1226 604.1 1224.3 604.3 1217.5 604.5 1229.9 604.7 1218.1 604.9 1200.5 605.1 1218.5 605.3 1230.9 605.5 1221.6 605.7 1226.2 605.9 1222.6 606.1 1218.4 606.4 1258.2 606.6 1221.2 606.8 1225.1 607 1223.7 607.2 1240.6 607.4 1223.3 607.6 1224.9 607.8 1227.2 608 1224.7 608.2 1222.6 608.4 1223.4 608.6 1220.8 608.8 1227.8 609.1 1223.4 609.3 1220.1 609.5 1225.6 609.7 1220.9 609.9 1229.4 610.1 1227.7 610.3 1222.5 610.5 1219.7 610.7 1230.2 610.9 1224.3 611.1 1222.6 611.3 1223.6 611.5 1223.3 611.8 1222.6 612 1221.4 612.2 1223.6 612.4 1222.6 612.6 1225.8 612.8 1212.2 613 1223.3 613.2 1222.1 613.4 1218.7 613.6 1225 613.8 1218.8 614 1225.3 614.2 1219.7 614.5 1223.1 614.7 1222.8 614.9 1222.2 615.1 1232.1 615.3 1225.3 615.5 1211.6 615.7 1217.1 615.9 1225.6 616.1 1224.6 616.3 1218.4 616.5 1217 616.7 1218.3 616.9 1220.7 617.2 1225.2 617.4 1227.1 617.6 1227.4 617.8 1221.9 618 1227.7 618.2 1223.3 618.4 1225.5 618.6 1212.7 618.8 1218.8 619 1225.7 619.2 1227.2 619.4 1224.9 619.6 1225.4 619.9 1223.4 620.1 1229 620.3 1236 620.5 1223.6 620.7 1217.5 620.9 1221.9 621.1 1217.8 621.3 1222.7 621.5 1222.1 621.7 1222.9 621.9 1225.5 622.1 1224.7 622.3 1227.8 622.6 1165.2 622.8 1228.7 623 1226.5 623.2 1220.7 623.4 1221.4 623.6 1223.4 623.8 1226.6 624 1262 624.2 1227 624.4 1222.2 624.6 1223.4 624.8 1223.2 625 1231.4 625.3 1226.7 625.5 1230 625.7 1225 625.9 1226.2 626.1 1226 626.3 1223.3 626.5 1225.5 626.7 1219.7 626.9 1227.8 627.1 1232.4 627.3 1227.3 627.5 1223.4 627.7 1222.3 628 1233.2 628.2 1226.4 628.4 1223.6 628.6 1215.5 628.8 1227.4 629 1224.7 629.2 1220.1 629.4 1188.5 629.6 1231.7 629.8 1226.3 630 1225.9 630.2 1227.7 630.4 1225.5 630.7 1236.4 630.9 1224.8 631.1 1223.7 631.3 1222.9 631.5 1225.9 631.7 1215.6 631.9 1221.7 632.1 1224.1 632.3 1222.4 632.5 1232.8 632.7 1222.5 632.9 1214.7 633.1 1227.9 633.4 1220.7 633.6 1223.9 633.8 1223.3 634 1222.5 634.2 1219 634.4 1226.5 634.6 1210 634.8 1238.2 635 1220.5 635.2 1222.3 635.4 1218.2 635.6 1220.7 635.8 1226.9 636.1 1229.7 636.3 1220.2 636.5 1222.2 636.7 1226.6 636.9 1221.2 637.1 1222.7 637.3 1206.2 637.5 1230.5 637.7 1222.8 637.9 1226.6 638.1 1225.3 638.3 1224.2 638.5 1219.2 638.8 1224.4 639 1223.8 639.2 1228.5 639.4 1220 639.6 1218.9 639.8 1222.2 640 1217.9 640.2 1221.3 640.4 1227.3 640.6 1229.2 640.8 1223.2 641 1222.7 641.2 1226.4 641.5 1213.4 641.7 1226.8 641.9 1229.9 642.1 1220.6 642.3 1224.3 642.5 1226 642.7 1223.6 642.9 1224.6 643.1 1224 643.3 1223.3 643.5 1223.1 643.7 1228.3 643.9 1233 644.2 1229.6 644.4 1235.7 644.6 1219.3 644.8 1217.2 645 1225.3 645.2 1223.4 645.4 1228 645.6 1231.1 645.8 1227.8 646 1220.9 646.2 1225.3 646.4 1220.8 646.6 1226.1 646.9 1222 647.1 1227.5 647.3 1231.3 647.5 1233.9 647.7 1227.9 647.9 1227.8 648.1 1216.2 648.3 1228.1 648.5 1226.4 648.7 1219 648.9 1226.9 649.1 1219.3 649.3 1219.8 649.6 1227.3 649.8 1218.5 650 1218.9 650.2 1228.1 650.4 1228.3 650.6 1228.5 650.8 1226.2 651 1231.4 651.2 1226.5 651.4 1228.8 651.6 1219.4 651.8 1224.6 652 1230.5 652.3 1233.9 652.5 1225.4 652.7 1220.8 652.9 1221.9 653.1 1222.8 653.3 1220.3 653.5 1227.8 653.7 1216.8 653.9 1221.4 654.1 1213.9 654.3 1221.9 654.5 1234.1 654.7 1206.2 655 1227.5 655.2 1206.4 655.4 1216.3 655.6 1224.5 655.8 1220.2 656 1230.6 656.2 1244 656.4 1216.6 656.6 1239.7 656.8 1227 657 1220.4 657.2 1229.7 657.4 1231.4 657.7 1222.7 657.9 1242.2 658.1 1226.8 658.3 1218.1 658.5 1221.3 658.7 1219.9 658.9 1222.3 659.1 1242.2 659.3 1225.2 659.5 1213.4 659.7 1227.4 659.9 1230.2 660.1 1224.7 660.4 1220.4 660.6 1221.9 660.8 1222.5 661 1237.5 661.2 1220.3 661.4 1226.4 661.6 1226.2 661.8 1225.7 662 1242.2 662.2 1226.9 662.4 1219.8 662.6 1219.2 662.8 1228.8 663.1 1232.6 663.3 1226.4 663.5 1221.5 663.7 1221.1 663.9 1224.5 664.1 1224.4 664.3 1223.6 664.5 1218.9 664.7 1217.1 664.9 1228.4 665.1 1216.4 665.3 1221.2 665.5 1223.1 665.8 1224.2 666 1222.1 666.2 1222.9 666.4 1221.3 666.6 1221.1 666.8 1223.4 667 1223.8 667.2 1225.9 667.4 1219.7 667.6 1221.4 667.8 1226 668 1224.7 668.2 1222.1 668.5 1226.3 668.7 1227.8 668.9 1222.1 669.1 1224.8 669.3 1226.1 669.5 1220.2 669.7 1229.3 669.9 1229.9 670.1 1219.6 670.3 1224.8 670.5 1230.5 670.7 1224 670.9 1224.8 671.2 1223 671.4 1231 671.6 1225.6 671.8 1224.4 672 1222.6 672.2 1222.3 672.4 1221.8 672.6 1220.5 672.8 1229 673 1217.9 673.2 1221 673.4 1224.2 673.6 1225 673.9 1218.8 674.1 1221.1 674.3 1226 674.5 1231.8 674.7 1223.2 674.9 1220.9 675.1 1225 675.3 1227 675.5 1228.7 675.7 1226.5 675.9 1220.5 676.1 1224.8 676.3 1225 676.6 1218 676.8 1219.2 677 1221.9 677.2 1223.1 677.4 1227.8 677.6 1233.5 677.8 1223.9 678 1219.4 678.2 1227.4 678.4 1210.2 678.6 1224.3 678.8 1223 679 1226.6 679.3 1220.5 679.5 1223.2 679.7 1220.3 679.9 1231.9 680.1 1228.6 680.3 1223.8 680.5 1221.8 680.7 1226.1 680.9 1220.3 681.1 1231.1 681.3 1229.8 681.5 1222.8 681.7 1219.8 682 1226.6 682.2 1223.6 682.4 1222.3 682.6 1231.7 682.8 1222.8 683 1227.5 683.2 1224.8 683.4 1226.2 683.6 1221.9 683.8 1219.1 684 1222 684.2 1224.5 684.4 1225.9 684.7 1222.5 684.9 1225.7 685.1 1223.1 685.3 1220.8 685.5 1222.2 685.7 1227.3 685.9 1226.8 686.1 1225.1 686.3 1229.3 686.5 1221.5 686.7 1215.6 686.9 1224.4 687.1 1223.4 687.4 1221.4 687.6 1227.6 687.8 1231.3 688 1229.2 688.2 1223.5 688.4 1219.3 688.6 1227.4 688.8 1224.7 689 1221.6 689.2 1227.2 689.4 1228 689.6 1237.3 689.8 1226.3 690.1 1236.6 690.3 1216 690.5 1227.3 690.7 1232.6 690.9 1228.6 691.1 1220.4 691.3 1231.3 691.5 1225.1 691.7 1219.4 691.9 1223.2 692.1 1218.4 692.3 1218.8 692.5 1218.6 692.8 1223.7 693 1224 693.2 1227.1 693.4 1221.1 693.6 1225.2 693.8 1219.2 694 1214.1 694.2 1219.6 694.4 1227 694.6 1219.3 694.8 1222 695 1240.5 695.2 1224.1 695.5 1226.9 695.7 1222.4 695.9 1242.2 696.1 1229.9 696.3 1231.1 696.5 1190.7 696.7 1211.2 696.9 1222.3 697.1 1218.6 697.3 1231.5 697.5 1223.3 697.7 1223.6 697.9 1213.2 698.2 1224.3 698.4 1232.3 698.6 1223.9 698.8 1211.9 699 1217.1 699.2 1222.6 699.4 1226.5 699.6 1225.2 699.8 1228.8 700 1236.2 700.2 1220 700.4 1236.3 700.6 1226.3 700.9 1227.2 701.1 1235.3 701.3 1208.6 701.5 1222.8 701.7 1232.5 701.9 1221.8 702.1 1227.8 702.3 1222.1 702.5 1221.6 702.7 1214.5 702.9 1222.9 703.1 1212.1 703.3 1222.7 703.6 1227.1 703.8 1219.5 704 1223.2 704.2 1217.7 704.4 1218.1 704.6 1219.7 704.8 1217.4 705 1226.5 705.2 1223.9 705.4 1207 705.6 1218.9 705.8 1208 706 1226.6 706.3 1222 706.5 1224.1 706.7 1221.4 706.9 1225.5 707.1 1226.2 707.3 1225.7 707.5 1227.1 707.7 1228.6 707.9 1228.6 708.1 1233.3 708.3 1227.4 708.5 1222.1 708.7 1225 709 1223.9 709.2 1224.8 709.4 1216.4 709.6 1232.5 709.8 1227.6 710 1225.7 710.2 1224.5" fill="none" stroke="#7f7f7f" stroke-width="1.35" stroke-linejoin="round" clip-path="url(#c16)"/>
<text transform="translate(402.8 1284.2) scale(0.760 1)" font-family="Liberation Sans" font-size="20.5" text-anchor="end" fill="#505050" stroke="#505050" stroke-width="0.28">−50</text>
<text transform="translate(402.8 1231.6) scale(0.760 1)" font-family="Liberation Sans" font-size="20.5" text-anchor="end" fill="#505050" stroke="#505050" stroke-width="0.28">0</text>
<text transform="translate(402.8 1178.6) scale(0.760 1)" font-family="Liberation Sans" font-size="20.5" text-anchor="end" fill="#505050" stroke="#505050" stroke-width="0.28">50</text>
<text transform="translate(442.5 1310) scale(0.760 1)" font-family="Liberation Sans" font-size="20.5" text-anchor="middle" fill="#505050" stroke="#505050" stroke-width="0.28">2019</text>
<text transform="translate(518.2 1310) scale(0.760 1)" font-family="Liberation Sans" font-size="20.5" text-anchor="middle" fill="#505050" stroke="#505050" stroke-width="0.28">2020</text>
<text transform="translate(594.2 1310) scale(0.760 1)" font-family="Liberation Sans" font-size="20.5" text-anchor="middle" fill="#505050" stroke="#505050" stroke-width="0.28">2021</text>
<text transform="translate(669.9 1310) scale(0.760 1)" font-family="Liberation Sans" font-size="20.5" text-anchor="middle" fill="#505050" stroke="#505050" stroke-width="0.28">2022</text>
<path d="M1110 87.8H1146" stroke="#1f77b4" stroke-width="2.2"/>
<text transform="translate(1152.3 96.1) scale(0.615 1)" font-family="Liberation Sans" font-size="23" text-anchor="start" fill="#505050" stroke="#505050" stroke-width="0.28">BCH</text>
<path d="M1110 120.2H1146" stroke="#ff7f0e" stroke-width="2.2"/>
<text transform="translate(1152.3 128.5) scale(0.615 1)" font-family="Liberation Sans" font-size="23" text-anchor="start" fill="#505050" stroke="#505050" stroke-width="0.28">BTC</text>
<path d="M1110 152.6H1146" stroke="#2ca02c" stroke-width="2.2"/>
<text transform="translate(1152.3 160.9) scale(0.615 1)" font-family="Liberation Sans" font-size="23" text-anchor="start" fill="#505050" stroke="#505050" stroke-width="0.28">ETH</text>
<path d="M1110 185H1146" stroke="#d62728" stroke-width="2.2"/>
<text transform="translate(1152.3 193.3) scale(0.615 1)" font-family="Liberation Sans" font-size="23" text-anchor="start" fill="#505050" stroke="#505050" stroke-width="0.28">LTC</text>
<path d="M1110 217.4H1146" stroke="#9467bd" stroke-width="2.2"/>
<text transform="translate(1152.3 225.7) scale(0.615 1)" font-family="Liberation Sans" font-size="23" text-anchor="start" fill="#505050" stroke="#505050" stroke-width="0.28">XRP</text>
<path d="M1110 249.8H1146" stroke="#8c564b" stroke-width="2.2"/>
<text transform="translate(1152.3 258.1) scale(0.615 1)" font-family="Liberation Sans" font-size="23" text-anchor="start" fill="#505050" stroke="#505050" stroke-width="0.28">THETA</text>
<path d="M1110 282.2H1146" stroke="#e377c2" stroke-width="2.2"/>
<text transform="translate(1152.3 290.5) scale(0.615 1)" font-family="Liberation Sans" font-size="23" text-anchor="start" fill="#505050" stroke="#505050" stroke-width="0.28">TEZOS</text>
<path d="M1110 314.6H1146" stroke="#7f7f7f" stroke-width="2.2"/>
<text transform="translate(1152.3 322.9) scale(0.615 1)" font-family="Liberation Sans" font-size="23" text-anchor="start" fill="#505050" stroke="#505050" stroke-width="0.28">ENJIN</text>
<path d="M1105.3 785.8H1141" stroke="#1f77b4" stroke-width="2.2"/>
<text transform="translate(1147.5 793.4) scale(0.645 1)" font-family="Liberation Sans" font-size="21" text-anchor="start" fill="#505050" stroke="#505050" stroke-width="0.28">BCH</text>
<path d="M1105.3 815.7H1141" stroke="#ff7f0e" stroke-width="2.2"/>
<text transform="translate(1147.5 823.3) scale(0.645 1)" font-family="Liberation Sans" font-size="21" text-anchor="start" fill="#505050" stroke="#505050" stroke-width="0.28">BTC</text>
<path d="M1105.3 845.6H1141" stroke="#2ca02c" stroke-width="2.2"/>
<text transform="translate(1147.5 853.2) scale(0.645 1)" font-family="Liberation Sans" font-size="21" text-anchor="start" fill="#505050" stroke="#505050" stroke-width="0.28">ETH</text>
<path d="M1105.3 875.5H1141" stroke="#d62728" stroke-width="2.2"/>
<text transform="translate(1147.5 883.1) scale(0.645 1)" font-family="Liberation Sans" font-size="21" text-anchor="start" fill="#505050" stroke="#505050" stroke-width="0.28">LTC</text>
<path d="M1105.3 905.4H1141" stroke="#9467bd" stroke-width="2.2"/>
<text transform="translate(1147.5 913) scale(0.645 1)" font-family="Liberation Sans" font-size="21" text-anchor="start" fill="#505050" stroke="#505050" stroke-width="0.28">XRP</text>
<path d="M1105.3 935.3H1141" stroke="#8c564b" stroke-width="2.2"/>
<text transform="translate(1147.5 942.9) scale(0.645 1)" font-family="Liberation Sans" font-size="21" text-anchor="start" fill="#505050" stroke="#505050" stroke-width="0.28">THETA</text>
<path d="M1105.3 965.2H1141" stroke="#e377c2" stroke-width="2.2"/>
<text transform="translate(1147.5 972.8) scale(0.645 1)" font-family="Liberation Sans" font-size="21" text-anchor="start" fill="#505050" stroke="#505050" stroke-width="0.28">TEZOS</text>
<path d="M1105.3 995.1H1141" stroke="#7f7f7f" stroke-width="2.2"/>
<text transform="translate(1147.5 1002.7) scale(0.645 1)" font-family="Liberation Sans" font-size="21" text-anchor="start" fill="#505050" stroke="#505050" stroke-width="0.28">ENJIN</text></svg>
</body></html>
